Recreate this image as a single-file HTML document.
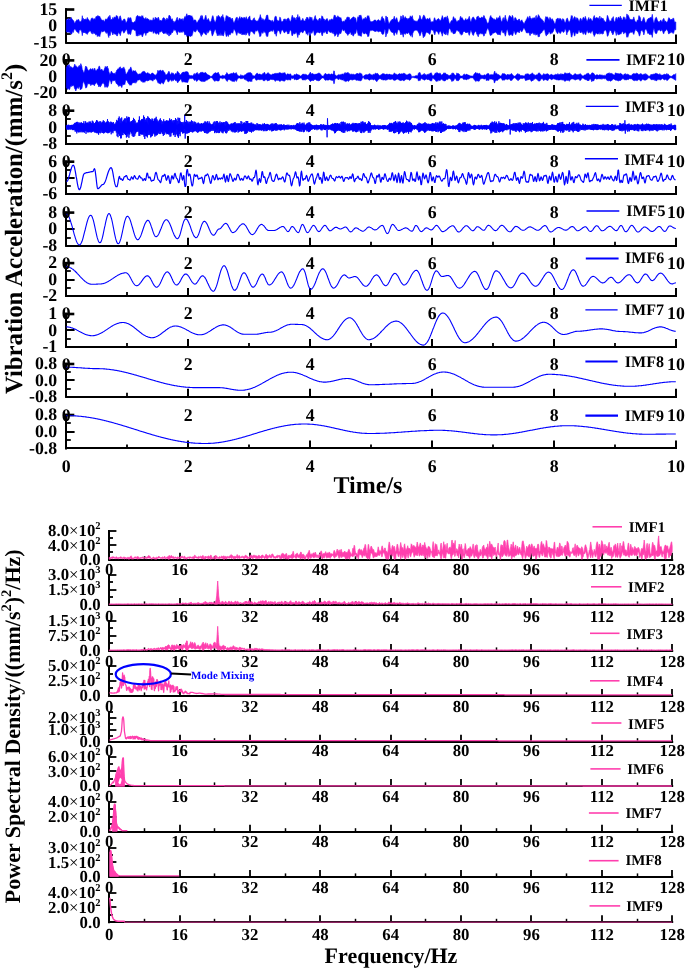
<!DOCTYPE html>
<html><head><meta charset="utf-8"><style>
html,body{margin:0;padding:0;background:#fff;}
svg{display:block;}
text{font-family:"Liberation Serif", serif;font-weight:bold;fill:#000;text-rendering:geometricPrecision;}
</style></head><body>
<svg width="685" height="968" viewBox="0 0 685 968">
<rect width="685" height="968" fill="#fff"/>
<line x1="66.0" y1="8.3" x2="66.0" y2="43.6" stroke="#000" stroke-width="2"/>
<line x1="65.3" y1="43.0" x2="677.0" y2="43.0" stroke="#000" stroke-width="2"/>
<rect x="65" y="8.2" width="9.3" height="2.6" fill="#000"/>
<line x1="66.3" y1="18.0" x2="70.8" y2="18.0" stroke="#000" stroke-width="1.8"/>
<line x1="66.3" y1="26.0" x2="74.6" y2="26.0" stroke="#000" stroke-width="2"/>
<line x1="66.3" y1="34.0" x2="70.8" y2="34.0" stroke="#000" stroke-width="1.8"/>
<line x1="66.3" y1="43.0" x2="74.6" y2="43.0" stroke="#000" stroke-width="2"/>
<line x1="66.0" y1="42.6" x2="66.0" y2="34.6" stroke="#000" stroke-width="2"/>
<line x1="127.0" y1="42.6" x2="127.0" y2="38.6" stroke="#000" stroke-width="1.8"/>
<line x1="188.0" y1="42.6" x2="188.0" y2="34.6" stroke="#000" stroke-width="2"/>
<line x1="249.0" y1="42.6" x2="249.0" y2="38.6" stroke="#000" stroke-width="1.8"/>
<line x1="310.0" y1="42.6" x2="310.0" y2="34.6" stroke="#000" stroke-width="2"/>
<line x1="371.0" y1="42.6" x2="371.0" y2="38.6" stroke="#000" stroke-width="1.8"/>
<line x1="432.0" y1="42.6" x2="432.0" y2="34.6" stroke="#000" stroke-width="2"/>
<line x1="493.0" y1="42.6" x2="493.0" y2="38.6" stroke="#000" stroke-width="1.8"/>
<line x1="554.0" y1="42.6" x2="554.0" y2="34.6" stroke="#000" stroke-width="2"/>
<line x1="615.0" y1="42.6" x2="615.0" y2="38.6" stroke="#000" stroke-width="1.8"/>
<line x1="676.0" y1="42.6" x2="676.0" y2="34.6" stroke="#000" stroke-width="2"/>
<line x1="589.4" y1="5.4" x2="621.8" y2="5.4" stroke="#0000ff" stroke-width="1.3"/>
<line x1="66.0" y1="59.2" x2="66.0" y2="94.1" stroke="#000" stroke-width="2"/>
<line x1="65.3" y1="93.0" x2="677.0" y2="93.0" stroke="#000" stroke-width="2"/>
<rect x="65" y="59.1" width="9.3" height="2.6" fill="#000"/>
<line x1="66.3" y1="69.0" x2="70.8" y2="69.0" stroke="#000" stroke-width="1.8"/>
<line x1="66.3" y1="77.0" x2="74.6" y2="77.0" stroke="#000" stroke-width="2"/>
<line x1="66.3" y1="85.0" x2="70.8" y2="85.0" stroke="#000" stroke-width="1.8"/>
<line x1="66.3" y1="93.0" x2="74.6" y2="93.0" stroke="#000" stroke-width="2"/>
<line x1="66.0" y1="93.1" x2="66.0" y2="85.1" stroke="#000" stroke-width="2"/>
<line x1="127.0" y1="93.1" x2="127.0" y2="89.1" stroke="#000" stroke-width="1.8"/>
<line x1="188.0" y1="93.1" x2="188.0" y2="85.1" stroke="#000" stroke-width="2"/>
<line x1="249.0" y1="93.1" x2="249.0" y2="89.1" stroke="#000" stroke-width="1.8"/>
<line x1="310.0" y1="93.1" x2="310.0" y2="85.1" stroke="#000" stroke-width="2"/>
<line x1="371.0" y1="93.1" x2="371.0" y2="89.1" stroke="#000" stroke-width="1.8"/>
<line x1="432.0" y1="93.1" x2="432.0" y2="85.1" stroke="#000" stroke-width="2"/>
<line x1="493.0" y1="93.1" x2="493.0" y2="89.1" stroke="#000" stroke-width="1.8"/>
<line x1="554.0" y1="93.1" x2="554.0" y2="85.1" stroke="#000" stroke-width="2"/>
<line x1="615.0" y1="93.1" x2="615.0" y2="89.1" stroke="#000" stroke-width="1.8"/>
<line x1="676.0" y1="93.1" x2="676.0" y2="85.1" stroke="#000" stroke-width="2"/>
<line x1="586.4" y1="59.9" x2="619.5" y2="59.9" stroke="#0000ff" stroke-width="1.6"/>
<line x1="66.0" y1="109.5" x2="66.0" y2="145.1" stroke="#000" stroke-width="2"/>
<line x1="65.3" y1="144.0" x2="677.0" y2="144.0" stroke="#000" stroke-width="2"/>
<rect x="65" y="109.4" width="9.3" height="2.6" fill="#000"/>
<line x1="66.3" y1="119.0" x2="70.8" y2="119.0" stroke="#000" stroke-width="1.8"/>
<line x1="66.3" y1="127.0" x2="74.6" y2="127.0" stroke="#000" stroke-width="2"/>
<line x1="66.3" y1="136.0" x2="70.8" y2="136.0" stroke="#000" stroke-width="1.8"/>
<line x1="66.3" y1="144.0" x2="74.6" y2="144.0" stroke="#000" stroke-width="2"/>
<line x1="66.0" y1="144.1" x2="66.0" y2="136.1" stroke="#000" stroke-width="2"/>
<line x1="127.0" y1="144.1" x2="127.0" y2="140.1" stroke="#000" stroke-width="1.8"/>
<line x1="188.0" y1="144.1" x2="188.0" y2="136.1" stroke="#000" stroke-width="2"/>
<line x1="249.0" y1="144.1" x2="249.0" y2="140.1" stroke="#000" stroke-width="1.8"/>
<line x1="310.0" y1="144.1" x2="310.0" y2="136.1" stroke="#000" stroke-width="2"/>
<line x1="371.0" y1="144.1" x2="371.0" y2="140.1" stroke="#000" stroke-width="1.8"/>
<line x1="432.0" y1="144.1" x2="432.0" y2="136.1" stroke="#000" stroke-width="2"/>
<line x1="493.0" y1="144.1" x2="493.0" y2="140.1" stroke="#000" stroke-width="1.8"/>
<line x1="554.0" y1="144.1" x2="554.0" y2="136.1" stroke="#000" stroke-width="2"/>
<line x1="615.0" y1="144.1" x2="615.0" y2="140.1" stroke="#000" stroke-width="1.8"/>
<line x1="676.0" y1="144.1" x2="676.0" y2="136.1" stroke="#000" stroke-width="2"/>
<line x1="585.8" y1="106.3" x2="618.6" y2="106.3" stroke="#0000ff" stroke-width="1.3"/>
<line x1="66.0" y1="160.5" x2="66.0" y2="195.0" stroke="#000" stroke-width="2"/>
<line x1="65.3" y1="194.0" x2="677.0" y2="194.0" stroke="#000" stroke-width="2"/>
<rect x="65" y="160.4" width="9.3" height="2.6" fill="#000"/>
<line x1="66.3" y1="170.0" x2="70.8" y2="170.0" stroke="#000" stroke-width="1.8"/>
<line x1="66.3" y1="178.0" x2="74.6" y2="178.0" stroke="#000" stroke-width="2"/>
<line x1="66.3" y1="186.0" x2="70.8" y2="186.0" stroke="#000" stroke-width="1.8"/>
<line x1="66.3" y1="194.0" x2="74.6" y2="194.0" stroke="#000" stroke-width="2"/>
<line x1="66.0" y1="194.0" x2="66.0" y2="186.0" stroke="#000" stroke-width="2"/>
<line x1="127.0" y1="194.0" x2="127.0" y2="190.0" stroke="#000" stroke-width="1.8"/>
<line x1="188.0" y1="194.0" x2="188.0" y2="186.0" stroke="#000" stroke-width="2"/>
<line x1="249.0" y1="194.0" x2="249.0" y2="190.0" stroke="#000" stroke-width="1.8"/>
<line x1="310.0" y1="194.0" x2="310.0" y2="186.0" stroke="#000" stroke-width="2"/>
<line x1="371.0" y1="194.0" x2="371.0" y2="190.0" stroke="#000" stroke-width="1.8"/>
<line x1="432.0" y1="194.0" x2="432.0" y2="186.0" stroke="#000" stroke-width="2"/>
<line x1="493.0" y1="194.0" x2="493.0" y2="190.0" stroke="#000" stroke-width="1.8"/>
<line x1="554.0" y1="194.0" x2="554.0" y2="186.0" stroke="#000" stroke-width="2"/>
<line x1="615.0" y1="194.0" x2="615.0" y2="190.0" stroke="#000" stroke-width="1.8"/>
<line x1="676.0" y1="194.0" x2="676.0" y2="186.0" stroke="#000" stroke-width="2"/>
<line x1="584.9" y1="158.7" x2="618.0" y2="158.7" stroke="#0000ff" stroke-width="1.6"/>
<line x1="66.0" y1="211.4" x2="66.0" y2="246.8" stroke="#000" stroke-width="2"/>
<line x1="65.3" y1="246.0" x2="677.0" y2="246.0" stroke="#000" stroke-width="2"/>
<rect x="65" y="211.3" width="9.3" height="2.6" fill="#000"/>
<line x1="66.3" y1="221.0" x2="70.8" y2="221.0" stroke="#000" stroke-width="1.8"/>
<line x1="66.3" y1="229.0" x2="74.6" y2="229.0" stroke="#000" stroke-width="2"/>
<line x1="66.3" y1="238.0" x2="70.8" y2="238.0" stroke="#000" stroke-width="1.8"/>
<line x1="66.3" y1="246.0" x2="74.6" y2="246.0" stroke="#000" stroke-width="2"/>
<line x1="66.0" y1="245.8" x2="66.0" y2="237.8" stroke="#000" stroke-width="2"/>
<line x1="127.0" y1="245.8" x2="127.0" y2="241.8" stroke="#000" stroke-width="1.8"/>
<line x1="188.0" y1="245.8" x2="188.0" y2="237.8" stroke="#000" stroke-width="2"/>
<line x1="249.0" y1="245.8" x2="249.0" y2="241.8" stroke="#000" stroke-width="1.8"/>
<line x1="310.0" y1="245.8" x2="310.0" y2="237.8" stroke="#000" stroke-width="2"/>
<line x1="371.0" y1="245.8" x2="371.0" y2="241.8" stroke="#000" stroke-width="1.8"/>
<line x1="432.0" y1="245.8" x2="432.0" y2="237.8" stroke="#000" stroke-width="2"/>
<line x1="493.0" y1="245.8" x2="493.0" y2="241.8" stroke="#000" stroke-width="1.8"/>
<line x1="554.0" y1="245.8" x2="554.0" y2="237.8" stroke="#000" stroke-width="2"/>
<line x1="615.0" y1="245.8" x2="615.0" y2="241.8" stroke="#000" stroke-width="1.8"/>
<line x1="676.0" y1="245.8" x2="676.0" y2="237.8" stroke="#000" stroke-width="2"/>
<line x1="586.5" y1="211.0" x2="619.3" y2="211.0" stroke="#0000ff" stroke-width="1.3"/>
<line x1="66.0" y1="261.9" x2="66.0" y2="297.0" stroke="#000" stroke-width="2"/>
<line x1="65.3" y1="296.0" x2="677.0" y2="296.0" stroke="#000" stroke-width="2"/>
<rect x="65" y="261.8" width="9.3" height="2.6" fill="#000"/>
<line x1="66.3" y1="271.0" x2="70.8" y2="271.0" stroke="#000" stroke-width="1.8"/>
<line x1="66.3" y1="280.0" x2="74.6" y2="280.0" stroke="#000" stroke-width="2"/>
<line x1="66.3" y1="288.0" x2="70.8" y2="288.0" stroke="#000" stroke-width="1.8"/>
<line x1="66.3" y1="296.0" x2="74.6" y2="296.0" stroke="#000" stroke-width="2"/>
<line x1="66.0" y1="296.0" x2="66.0" y2="288.0" stroke="#000" stroke-width="2"/>
<line x1="127.0" y1="296.0" x2="127.0" y2="292.0" stroke="#000" stroke-width="1.8"/>
<line x1="188.0" y1="296.0" x2="188.0" y2="288.0" stroke="#000" stroke-width="2"/>
<line x1="249.0" y1="296.0" x2="249.0" y2="292.0" stroke="#000" stroke-width="1.8"/>
<line x1="310.0" y1="296.0" x2="310.0" y2="288.0" stroke="#000" stroke-width="2"/>
<line x1="371.0" y1="296.0" x2="371.0" y2="292.0" stroke="#000" stroke-width="1.8"/>
<line x1="432.0" y1="296.0" x2="432.0" y2="288.0" stroke="#000" stroke-width="2"/>
<line x1="493.0" y1="296.0" x2="493.0" y2="292.0" stroke="#000" stroke-width="1.8"/>
<line x1="554.0" y1="296.0" x2="554.0" y2="288.0" stroke="#000" stroke-width="2"/>
<line x1="615.0" y1="296.0" x2="615.0" y2="292.0" stroke="#000" stroke-width="1.8"/>
<line x1="676.0" y1="296.0" x2="676.0" y2="288.0" stroke="#000" stroke-width="2"/>
<line x1="585.8" y1="258.5" x2="618.6" y2="258.5" stroke="#0000ff" stroke-width="2.2"/>
<line x1="66.0" y1="312.8" x2="66.0" y2="348.0" stroke="#000" stroke-width="2"/>
<line x1="65.3" y1="347.0" x2="677.0" y2="347.0" stroke="#000" stroke-width="2"/>
<rect x="65" y="312.7" width="9.3" height="2.6" fill="#000"/>
<line x1="66.3" y1="322.0" x2="70.8" y2="322.0" stroke="#000" stroke-width="1.8"/>
<line x1="66.3" y1="330.0" x2="74.6" y2="330.0" stroke="#000" stroke-width="2"/>
<line x1="66.3" y1="339.0" x2="70.8" y2="339.0" stroke="#000" stroke-width="1.8"/>
<line x1="66.3" y1="347.0" x2="74.6" y2="347.0" stroke="#000" stroke-width="2"/>
<line x1="66.0" y1="347.0" x2="66.0" y2="339.0" stroke="#000" stroke-width="2"/>
<line x1="127.0" y1="347.0" x2="127.0" y2="343.0" stroke="#000" stroke-width="1.8"/>
<line x1="188.0" y1="347.0" x2="188.0" y2="339.0" stroke="#000" stroke-width="2"/>
<line x1="249.0" y1="347.0" x2="249.0" y2="343.0" stroke="#000" stroke-width="1.8"/>
<line x1="310.0" y1="347.0" x2="310.0" y2="339.0" stroke="#000" stroke-width="2"/>
<line x1="371.0" y1="347.0" x2="371.0" y2="343.0" stroke="#000" stroke-width="1.8"/>
<line x1="432.0" y1="347.0" x2="432.0" y2="339.0" stroke="#000" stroke-width="2"/>
<line x1="493.0" y1="347.0" x2="493.0" y2="343.0" stroke="#000" stroke-width="1.8"/>
<line x1="554.0" y1="347.0" x2="554.0" y2="339.0" stroke="#000" stroke-width="2"/>
<line x1="615.0" y1="347.0" x2="615.0" y2="343.0" stroke="#000" stroke-width="1.8"/>
<line x1="676.0" y1="347.0" x2="676.0" y2="339.0" stroke="#000" stroke-width="2"/>
<line x1="585.4" y1="309.8" x2="617.6" y2="309.8" stroke="#0000ff" stroke-width="1.3"/>
<line x1="66.0" y1="362.8" x2="66.0" y2="397.7" stroke="#000" stroke-width="2"/>
<line x1="65.3" y1="397.0" x2="677.0" y2="397.0" stroke="#000" stroke-width="2"/>
<rect x="65" y="362.7" width="9.3" height="2.6" fill="#000"/>
<line x1="66.3" y1="372.0" x2="70.8" y2="372.0" stroke="#000" stroke-width="1.8"/>
<line x1="66.3" y1="380.0" x2="74.6" y2="380.0" stroke="#000" stroke-width="2"/>
<line x1="66.3" y1="389.0" x2="70.8" y2="389.0" stroke="#000" stroke-width="1.8"/>
<line x1="66.3" y1="397.0" x2="74.6" y2="397.0" stroke="#000" stroke-width="2"/>
<line x1="66.0" y1="396.7" x2="66.0" y2="388.7" stroke="#000" stroke-width="2"/>
<line x1="127.0" y1="396.7" x2="127.0" y2="392.7" stroke="#000" stroke-width="1.8"/>
<line x1="188.0" y1="396.7" x2="188.0" y2="388.7" stroke="#000" stroke-width="2"/>
<line x1="249.0" y1="396.7" x2="249.0" y2="392.7" stroke="#000" stroke-width="1.8"/>
<line x1="310.0" y1="396.7" x2="310.0" y2="388.7" stroke="#000" stroke-width="2"/>
<line x1="371.0" y1="396.7" x2="371.0" y2="392.7" stroke="#000" stroke-width="1.8"/>
<line x1="432.0" y1="396.7" x2="432.0" y2="388.7" stroke="#000" stroke-width="2"/>
<line x1="493.0" y1="396.7" x2="493.0" y2="392.7" stroke="#000" stroke-width="1.8"/>
<line x1="554.0" y1="396.7" x2="554.0" y2="388.7" stroke="#000" stroke-width="2"/>
<line x1="615.0" y1="396.7" x2="615.0" y2="392.7" stroke="#000" stroke-width="1.8"/>
<line x1="676.0" y1="396.7" x2="676.0" y2="388.7" stroke="#000" stroke-width="2"/>
<line x1="585.4" y1="361.5" x2="617.6" y2="361.5" stroke="#0000ff" stroke-width="2.2"/>
<line x1="66.0" y1="413.8" x2="66.0" y2="449.5" stroke="#000" stroke-width="2"/>
<line x1="65.3" y1="448.0" x2="677.0" y2="448.0" stroke="#000" stroke-width="2"/>
<rect x="65" y="413.7" width="9.3" height="2.6" fill="#000"/>
<line x1="66.3" y1="423.0" x2="70.8" y2="423.0" stroke="#000" stroke-width="1.8"/>
<line x1="66.3" y1="432.0" x2="74.6" y2="432.0" stroke="#000" stroke-width="2"/>
<line x1="66.3" y1="440.0" x2="70.8" y2="440.0" stroke="#000" stroke-width="1.8"/>
<line x1="66.3" y1="448.0" x2="74.6" y2="448.0" stroke="#000" stroke-width="2"/>
<line x1="66.0" y1="448.5" x2="66.0" y2="440.5" stroke="#000" stroke-width="2"/>
<line x1="127.0" y1="448.5" x2="127.0" y2="444.5" stroke="#000" stroke-width="1.8"/>
<line x1="188.0" y1="448.5" x2="188.0" y2="440.5" stroke="#000" stroke-width="2"/>
<line x1="249.0" y1="448.5" x2="249.0" y2="444.5" stroke="#000" stroke-width="1.8"/>
<line x1="310.0" y1="448.5" x2="310.0" y2="440.5" stroke="#000" stroke-width="2"/>
<line x1="371.0" y1="448.5" x2="371.0" y2="444.5" stroke="#000" stroke-width="1.8"/>
<line x1="432.0" y1="448.5" x2="432.0" y2="440.5" stroke="#000" stroke-width="2"/>
<line x1="493.0" y1="448.5" x2="493.0" y2="444.5" stroke="#000" stroke-width="1.8"/>
<line x1="554.0" y1="448.5" x2="554.0" y2="440.5" stroke="#000" stroke-width="2"/>
<line x1="615.0" y1="448.5" x2="615.0" y2="444.5" stroke="#000" stroke-width="1.8"/>
<line x1="676.0" y1="448.5" x2="676.0" y2="440.5" stroke="#000" stroke-width="2"/>
<line x1="585.4" y1="415.6" x2="618.0" y2="415.6" stroke="#0000ff" stroke-width="2.2"/>
<line x1="109.0" y1="530.0" x2="109.0" y2="560.6" stroke="#000" stroke-width="2"/>
<line x1="108.2" y1="560.0" x2="673.2" y2="560.0" stroke="#000" stroke-width="1.8"/>
<line x1="109.2" y1="531.0" x2="116.4" y2="531.0" stroke="#000" stroke-width="1.8"/>
<line x1="109.2" y1="538.0" x2="113.0" y2="538.0" stroke="#000" stroke-width="1.8"/>
<line x1="109.2" y1="545.0" x2="116.4" y2="545.0" stroke="#000" stroke-width="1.8"/>
<line x1="109.2" y1="552.0" x2="113.0" y2="552.0" stroke="#000" stroke-width="1.8"/>
<line x1="109.2" y1="560.0" x2="116.4" y2="560.0" stroke="#000" stroke-width="1.8"/>
<line x1="109.0" y1="559.7" x2="109.0" y2="552.7" stroke="#000" stroke-width="1.8"/>
<line x1="144.5" y1="559.7" x2="144.5" y2="556.2" stroke="#000" stroke-width="1.5"/>
<line x1="180.0" y1="559.7" x2="180.0" y2="552.7" stroke="#000" stroke-width="1.8"/>
<line x1="214.5" y1="559.7" x2="214.5" y2="556.2" stroke="#000" stroke-width="1.5"/>
<line x1="250.0" y1="559.7" x2="250.0" y2="552.7" stroke="#000" stroke-width="1.8"/>
<line x1="285.5" y1="559.7" x2="285.5" y2="556.2" stroke="#000" stroke-width="1.5"/>
<line x1="320.0" y1="559.7" x2="320.0" y2="552.7" stroke="#000" stroke-width="1.8"/>
<line x1="355.5" y1="559.7" x2="355.5" y2="556.2" stroke="#000" stroke-width="1.5"/>
<line x1="391.0" y1="559.7" x2="391.0" y2="552.7" stroke="#000" stroke-width="1.8"/>
<line x1="425.5" y1="559.7" x2="425.5" y2="556.2" stroke="#000" stroke-width="1.5"/>
<line x1="461.0" y1="559.7" x2="461.0" y2="552.7" stroke="#000" stroke-width="1.8"/>
<line x1="496.5" y1="559.7" x2="496.5" y2="556.2" stroke="#000" stroke-width="1.5"/>
<line x1="531.0" y1="559.7" x2="531.0" y2="552.7" stroke="#000" stroke-width="1.8"/>
<line x1="566.5" y1="559.7" x2="566.5" y2="556.2" stroke="#000" stroke-width="1.5"/>
<line x1="602.0" y1="559.7" x2="602.0" y2="552.7" stroke="#000" stroke-width="1.8"/>
<line x1="637.5" y1="559.7" x2="637.5" y2="556.2" stroke="#000" stroke-width="1.5"/>
<line x1="672.0" y1="559.7" x2="672.0" y2="552.7" stroke="#000" stroke-width="1.8"/>
<line x1="592.5" y1="526.8" x2="622.0" y2="526.8" stroke="#ff3fae" stroke-width="1.6"/>
<line x1="109.0" y1="574.1" x2="109.0" y2="605.8" stroke="#000" stroke-width="2"/>
<line x1="108.2" y1="605.0" x2="673.2" y2="605.0" stroke="#000" stroke-width="1.8"/>
<line x1="109.2" y1="575.0" x2="116.4" y2="575.0" stroke="#000" stroke-width="1.8"/>
<line x1="109.2" y1="582.0" x2="113.0" y2="582.0" stroke="#000" stroke-width="1.8"/>
<line x1="109.2" y1="590.0" x2="116.4" y2="590.0" stroke="#000" stroke-width="1.8"/>
<line x1="109.2" y1="597.0" x2="113.0" y2="597.0" stroke="#000" stroke-width="1.8"/>
<line x1="109.2" y1="605.0" x2="116.4" y2="605.0" stroke="#000" stroke-width="1.8"/>
<line x1="109.0" y1="604.9" x2="109.0" y2="597.9" stroke="#000" stroke-width="1.8"/>
<line x1="144.5" y1="604.9" x2="144.5" y2="601.4" stroke="#000" stroke-width="1.5"/>
<line x1="180.0" y1="604.9" x2="180.0" y2="597.9" stroke="#000" stroke-width="1.8"/>
<line x1="214.5" y1="604.9" x2="214.5" y2="601.4" stroke="#000" stroke-width="1.5"/>
<line x1="250.0" y1="604.9" x2="250.0" y2="597.9" stroke="#000" stroke-width="1.8"/>
<line x1="285.5" y1="604.9" x2="285.5" y2="601.4" stroke="#000" stroke-width="1.5"/>
<line x1="320.0" y1="604.9" x2="320.0" y2="597.9" stroke="#000" stroke-width="1.8"/>
<line x1="355.5" y1="604.9" x2="355.5" y2="601.4" stroke="#000" stroke-width="1.5"/>
<line x1="391.0" y1="604.9" x2="391.0" y2="597.9" stroke="#000" stroke-width="1.8"/>
<line x1="425.5" y1="604.9" x2="425.5" y2="601.4" stroke="#000" stroke-width="1.5"/>
<line x1="461.0" y1="604.9" x2="461.0" y2="597.9" stroke="#000" stroke-width="1.8"/>
<line x1="496.5" y1="604.9" x2="496.5" y2="601.4" stroke="#000" stroke-width="1.5"/>
<line x1="531.0" y1="604.9" x2="531.0" y2="597.9" stroke="#000" stroke-width="1.8"/>
<line x1="566.5" y1="604.9" x2="566.5" y2="601.4" stroke="#000" stroke-width="1.5"/>
<line x1="602.0" y1="604.9" x2="602.0" y2="597.9" stroke="#000" stroke-width="1.8"/>
<line x1="637.5" y1="604.9" x2="637.5" y2="601.4" stroke="#000" stroke-width="1.5"/>
<line x1="672.0" y1="604.9" x2="672.0" y2="597.9" stroke="#000" stroke-width="1.8"/>
<line x1="591.0" y1="586.8" x2="621.4" y2="586.8" stroke="#ff3fae" stroke-width="1.6"/>
<line x1="109.0" y1="619.9" x2="109.0" y2="651.8" stroke="#000" stroke-width="2"/>
<line x1="108.2" y1="651.0" x2="673.2" y2="651.0" stroke="#000" stroke-width="1.8"/>
<line x1="109.2" y1="621.0" x2="116.4" y2="621.0" stroke="#000" stroke-width="1.8"/>
<line x1="109.2" y1="628.0" x2="113.0" y2="628.0" stroke="#000" stroke-width="1.8"/>
<line x1="109.2" y1="636.0" x2="116.4" y2="636.0" stroke="#000" stroke-width="1.8"/>
<line x1="109.2" y1="643.0" x2="113.0" y2="643.0" stroke="#000" stroke-width="1.8"/>
<line x1="109.2" y1="651.0" x2="116.4" y2="651.0" stroke="#000" stroke-width="1.8"/>
<line x1="109.0" y1="650.9" x2="109.0" y2="643.9" stroke="#000" stroke-width="1.8"/>
<line x1="144.5" y1="650.9" x2="144.5" y2="647.4" stroke="#000" stroke-width="1.5"/>
<line x1="180.0" y1="650.9" x2="180.0" y2="643.9" stroke="#000" stroke-width="1.8"/>
<line x1="214.5" y1="650.9" x2="214.5" y2="647.4" stroke="#000" stroke-width="1.5"/>
<line x1="250.0" y1="650.9" x2="250.0" y2="643.9" stroke="#000" stroke-width="1.8"/>
<line x1="285.5" y1="650.9" x2="285.5" y2="647.4" stroke="#000" stroke-width="1.5"/>
<line x1="320.0" y1="650.9" x2="320.0" y2="643.9" stroke="#000" stroke-width="1.8"/>
<line x1="355.5" y1="650.9" x2="355.5" y2="647.4" stroke="#000" stroke-width="1.5"/>
<line x1="391.0" y1="650.9" x2="391.0" y2="643.9" stroke="#000" stroke-width="1.8"/>
<line x1="425.5" y1="650.9" x2="425.5" y2="647.4" stroke="#000" stroke-width="1.5"/>
<line x1="461.0" y1="650.9" x2="461.0" y2="643.9" stroke="#000" stroke-width="1.8"/>
<line x1="496.5" y1="650.9" x2="496.5" y2="647.4" stroke="#000" stroke-width="1.5"/>
<line x1="531.0" y1="650.9" x2="531.0" y2="643.9" stroke="#000" stroke-width="1.8"/>
<line x1="566.5" y1="650.9" x2="566.5" y2="647.4" stroke="#000" stroke-width="1.5"/>
<line x1="602.0" y1="650.9" x2="602.0" y2="643.9" stroke="#000" stroke-width="1.8"/>
<line x1="637.5" y1="650.9" x2="637.5" y2="647.4" stroke="#000" stroke-width="1.5"/>
<line x1="672.0" y1="650.9" x2="672.0" y2="643.9" stroke="#000" stroke-width="1.8"/>
<line x1="590.0" y1="633.3" x2="619.5" y2="633.3" stroke="#ff3fae" stroke-width="1.6"/>
<line x1="109.0" y1="665.2" x2="109.0" y2="696.8" stroke="#000" stroke-width="2"/>
<line x1="108.2" y1="696.0" x2="673.2" y2="696.0" stroke="#000" stroke-width="1.8"/>
<line x1="109.2" y1="666.0" x2="116.4" y2="666.0" stroke="#000" stroke-width="1.8"/>
<line x1="109.2" y1="674.0" x2="113.0" y2="674.0" stroke="#000" stroke-width="1.8"/>
<line x1="109.2" y1="681.0" x2="116.4" y2="681.0" stroke="#000" stroke-width="1.8"/>
<line x1="109.2" y1="688.0" x2="113.0" y2="688.0" stroke="#000" stroke-width="1.8"/>
<line x1="109.2" y1="696.0" x2="116.4" y2="696.0" stroke="#000" stroke-width="1.8"/>
<line x1="109.0" y1="695.9" x2="109.0" y2="688.9" stroke="#000" stroke-width="1.8"/>
<line x1="144.5" y1="695.9" x2="144.5" y2="692.4" stroke="#000" stroke-width="1.5"/>
<line x1="180.0" y1="695.9" x2="180.0" y2="688.9" stroke="#000" stroke-width="1.8"/>
<line x1="214.5" y1="695.9" x2="214.5" y2="692.4" stroke="#000" stroke-width="1.5"/>
<line x1="250.0" y1="695.9" x2="250.0" y2="688.9" stroke="#000" stroke-width="1.8"/>
<line x1="285.5" y1="695.9" x2="285.5" y2="692.4" stroke="#000" stroke-width="1.5"/>
<line x1="320.0" y1="695.9" x2="320.0" y2="688.9" stroke="#000" stroke-width="1.8"/>
<line x1="355.5" y1="695.9" x2="355.5" y2="692.4" stroke="#000" stroke-width="1.5"/>
<line x1="391.0" y1="695.9" x2="391.0" y2="688.9" stroke="#000" stroke-width="1.8"/>
<line x1="425.5" y1="695.9" x2="425.5" y2="692.4" stroke="#000" stroke-width="1.5"/>
<line x1="461.0" y1="695.9" x2="461.0" y2="688.9" stroke="#000" stroke-width="1.8"/>
<line x1="496.5" y1="695.9" x2="496.5" y2="692.4" stroke="#000" stroke-width="1.5"/>
<line x1="531.0" y1="695.9" x2="531.0" y2="688.9" stroke="#000" stroke-width="1.8"/>
<line x1="566.5" y1="695.9" x2="566.5" y2="692.4" stroke="#000" stroke-width="1.5"/>
<line x1="602.0" y1="695.9" x2="602.0" y2="688.9" stroke="#000" stroke-width="1.8"/>
<line x1="637.5" y1="695.9" x2="637.5" y2="692.4" stroke="#000" stroke-width="1.5"/>
<line x1="672.0" y1="695.9" x2="672.0" y2="688.9" stroke="#000" stroke-width="1.8"/>
<line x1="590.0" y1="680.8" x2="619.5" y2="680.8" stroke="#ff3fae" stroke-width="1.6"/>
<line x1="109.0" y1="711.0" x2="109.0" y2="742.6" stroke="#000" stroke-width="2"/>
<line x1="108.2" y1="742.0" x2="673.2" y2="742.0" stroke="#000" stroke-width="1.8"/>
<line x1="109.2" y1="742.0" x2="116.4" y2="742.0" stroke="#000" stroke-width="1.8"/>
<line x1="109.2" y1="736.0" x2="113.0" y2="736.0" stroke="#000" stroke-width="1.8"/>
<line x1="109.2" y1="730.0" x2="116.4" y2="730.0" stroke="#000" stroke-width="1.8"/>
<line x1="109.2" y1="724.0" x2="113.0" y2="724.0" stroke="#000" stroke-width="1.8"/>
<line x1="109.2" y1="718.0" x2="116.4" y2="718.0" stroke="#000" stroke-width="1.8"/>
<line x1="109.2" y1="712.0" x2="113.0" y2="712.0" stroke="#000" stroke-width="1.8"/>
<line x1="109.0" y1="741.7" x2="109.0" y2="734.7" stroke="#000" stroke-width="1.8"/>
<line x1="144.5" y1="741.7" x2="144.5" y2="738.2" stroke="#000" stroke-width="1.5"/>
<line x1="180.0" y1="741.7" x2="180.0" y2="734.7" stroke="#000" stroke-width="1.8"/>
<line x1="214.5" y1="741.7" x2="214.5" y2="738.2" stroke="#000" stroke-width="1.5"/>
<line x1="250.0" y1="741.7" x2="250.0" y2="734.7" stroke="#000" stroke-width="1.8"/>
<line x1="285.5" y1="741.7" x2="285.5" y2="738.2" stroke="#000" stroke-width="1.5"/>
<line x1="320.0" y1="741.7" x2="320.0" y2="734.7" stroke="#000" stroke-width="1.8"/>
<line x1="355.5" y1="741.7" x2="355.5" y2="738.2" stroke="#000" stroke-width="1.5"/>
<line x1="391.0" y1="741.7" x2="391.0" y2="734.7" stroke="#000" stroke-width="1.8"/>
<line x1="425.5" y1="741.7" x2="425.5" y2="738.2" stroke="#000" stroke-width="1.5"/>
<line x1="461.0" y1="741.7" x2="461.0" y2="734.7" stroke="#000" stroke-width="1.8"/>
<line x1="496.5" y1="741.7" x2="496.5" y2="738.2" stroke="#000" stroke-width="1.5"/>
<line x1="531.0" y1="741.7" x2="531.0" y2="734.7" stroke="#000" stroke-width="1.8"/>
<line x1="566.5" y1="741.7" x2="566.5" y2="738.2" stroke="#000" stroke-width="1.5"/>
<line x1="602.0" y1="741.7" x2="602.0" y2="734.7" stroke="#000" stroke-width="1.8"/>
<line x1="637.5" y1="741.7" x2="637.5" y2="738.2" stroke="#000" stroke-width="1.5"/>
<line x1="672.0" y1="741.7" x2="672.0" y2="734.7" stroke="#000" stroke-width="1.8"/>
<line x1="591.5" y1="723.0" x2="621.4" y2="723.0" stroke="#ff3fae" stroke-width="1.6"/>
<line x1="109.0" y1="756.1" x2="109.0" y2="786.8" stroke="#000" stroke-width="2"/>
<line x1="108.2" y1="786.0" x2="673.2" y2="786.0" stroke="#000" stroke-width="1.8"/>
<line x1="109.2" y1="757.0" x2="116.4" y2="757.0" stroke="#000" stroke-width="1.8"/>
<line x1="109.2" y1="764.0" x2="113.0" y2="764.0" stroke="#000" stroke-width="1.8"/>
<line x1="109.2" y1="771.0" x2="116.4" y2="771.0" stroke="#000" stroke-width="1.8"/>
<line x1="109.2" y1="779.0" x2="113.0" y2="779.0" stroke="#000" stroke-width="1.8"/>
<line x1="109.2" y1="786.0" x2="116.4" y2="786.0" stroke="#000" stroke-width="1.8"/>
<line x1="109.0" y1="785.9" x2="109.0" y2="778.9" stroke="#000" stroke-width="1.8"/>
<line x1="144.5" y1="785.9" x2="144.5" y2="782.4" stroke="#000" stroke-width="1.5"/>
<line x1="180.0" y1="785.9" x2="180.0" y2="778.9" stroke="#000" stroke-width="1.8"/>
<line x1="214.5" y1="785.9" x2="214.5" y2="782.4" stroke="#000" stroke-width="1.5"/>
<line x1="250.0" y1="785.9" x2="250.0" y2="778.9" stroke="#000" stroke-width="1.8"/>
<line x1="285.5" y1="785.9" x2="285.5" y2="782.4" stroke="#000" stroke-width="1.5"/>
<line x1="320.0" y1="785.9" x2="320.0" y2="778.9" stroke="#000" stroke-width="1.8"/>
<line x1="355.5" y1="785.9" x2="355.5" y2="782.4" stroke="#000" stroke-width="1.5"/>
<line x1="391.0" y1="785.9" x2="391.0" y2="778.9" stroke="#000" stroke-width="1.8"/>
<line x1="425.5" y1="785.9" x2="425.5" y2="782.4" stroke="#000" stroke-width="1.5"/>
<line x1="461.0" y1="785.9" x2="461.0" y2="778.9" stroke="#000" stroke-width="1.8"/>
<line x1="496.5" y1="785.9" x2="496.5" y2="782.4" stroke="#000" stroke-width="1.5"/>
<line x1="531.0" y1="785.9" x2="531.0" y2="778.9" stroke="#000" stroke-width="1.8"/>
<line x1="566.5" y1="785.9" x2="566.5" y2="782.4" stroke="#000" stroke-width="1.5"/>
<line x1="602.0" y1="785.9" x2="602.0" y2="778.9" stroke="#000" stroke-width="1.8"/>
<line x1="637.5" y1="785.9" x2="637.5" y2="782.4" stroke="#000" stroke-width="1.5"/>
<line x1="672.0" y1="785.9" x2="672.0" y2="778.9" stroke="#000" stroke-width="1.8"/>
<line x1="590.4" y1="768.9" x2="620.6" y2="768.9" stroke="#ff3fae" stroke-width="1.6"/>
<line x1="109.0" y1="801.0" x2="109.0" y2="832.6" stroke="#000" stroke-width="2"/>
<line x1="108.2" y1="832.0" x2="673.2" y2="832.0" stroke="#000" stroke-width="1.8"/>
<line x1="109.2" y1="802.0" x2="116.4" y2="802.0" stroke="#000" stroke-width="1.8"/>
<line x1="109.2" y1="809.0" x2="113.0" y2="809.0" stroke="#000" stroke-width="1.8"/>
<line x1="109.2" y1="817.0" x2="116.4" y2="817.0" stroke="#000" stroke-width="1.8"/>
<line x1="109.2" y1="824.0" x2="113.0" y2="824.0" stroke="#000" stroke-width="1.8"/>
<line x1="109.2" y1="832.0" x2="116.4" y2="832.0" stroke="#000" stroke-width="1.8"/>
<line x1="109.0" y1="831.7" x2="109.0" y2="824.7" stroke="#000" stroke-width="1.8"/>
<line x1="144.5" y1="831.7" x2="144.5" y2="828.2" stroke="#000" stroke-width="1.5"/>
<line x1="180.0" y1="831.7" x2="180.0" y2="824.7" stroke="#000" stroke-width="1.8"/>
<line x1="214.5" y1="831.7" x2="214.5" y2="828.2" stroke="#000" stroke-width="1.5"/>
<line x1="250.0" y1="831.7" x2="250.0" y2="824.7" stroke="#000" stroke-width="1.8"/>
<line x1="285.5" y1="831.7" x2="285.5" y2="828.2" stroke="#000" stroke-width="1.5"/>
<line x1="320.0" y1="831.7" x2="320.0" y2="824.7" stroke="#000" stroke-width="1.8"/>
<line x1="355.5" y1="831.7" x2="355.5" y2="828.2" stroke="#000" stroke-width="1.5"/>
<line x1="391.0" y1="831.7" x2="391.0" y2="824.7" stroke="#000" stroke-width="1.8"/>
<line x1="425.5" y1="831.7" x2="425.5" y2="828.2" stroke="#000" stroke-width="1.5"/>
<line x1="461.0" y1="831.7" x2="461.0" y2="824.7" stroke="#000" stroke-width="1.8"/>
<line x1="496.5" y1="831.7" x2="496.5" y2="828.2" stroke="#000" stroke-width="1.5"/>
<line x1="531.0" y1="831.7" x2="531.0" y2="824.7" stroke="#000" stroke-width="1.8"/>
<line x1="566.5" y1="831.7" x2="566.5" y2="828.2" stroke="#000" stroke-width="1.5"/>
<line x1="602.0" y1="831.7" x2="602.0" y2="824.7" stroke="#000" stroke-width="1.8"/>
<line x1="637.5" y1="831.7" x2="637.5" y2="828.2" stroke="#000" stroke-width="1.5"/>
<line x1="672.0" y1="831.7" x2="672.0" y2="824.7" stroke="#000" stroke-width="1.8"/>
<line x1="588.9" y1="813.0" x2="618.6" y2="813.0" stroke="#ff3fae" stroke-width="1.6"/>
<line x1="109.0" y1="847.0" x2="109.0" y2="877.8" stroke="#000" stroke-width="2"/>
<line x1="108.2" y1="877.0" x2="673.2" y2="877.0" stroke="#000" stroke-width="1.8"/>
<line x1="109.2" y1="848.0" x2="116.4" y2="848.0" stroke="#000" stroke-width="1.8"/>
<line x1="109.2" y1="855.0" x2="113.0" y2="855.0" stroke="#000" stroke-width="1.8"/>
<line x1="109.2" y1="862.0" x2="116.4" y2="862.0" stroke="#000" stroke-width="1.8"/>
<line x1="109.2" y1="870.0" x2="113.0" y2="870.0" stroke="#000" stroke-width="1.8"/>
<line x1="109.2" y1="877.0" x2="116.4" y2="877.0" stroke="#000" stroke-width="1.8"/>
<line x1="109.0" y1="876.9" x2="109.0" y2="869.9" stroke="#000" stroke-width="1.8"/>
<line x1="144.5" y1="876.9" x2="144.5" y2="873.4" stroke="#000" stroke-width="1.5"/>
<line x1="180.0" y1="876.9" x2="180.0" y2="869.9" stroke="#000" stroke-width="1.8"/>
<line x1="214.5" y1="876.9" x2="214.5" y2="873.4" stroke="#000" stroke-width="1.5"/>
<line x1="250.0" y1="876.9" x2="250.0" y2="869.9" stroke="#000" stroke-width="1.8"/>
<line x1="285.5" y1="876.9" x2="285.5" y2="873.4" stroke="#000" stroke-width="1.5"/>
<line x1="320.0" y1="876.9" x2="320.0" y2="869.9" stroke="#000" stroke-width="1.8"/>
<line x1="355.5" y1="876.9" x2="355.5" y2="873.4" stroke="#000" stroke-width="1.5"/>
<line x1="391.0" y1="876.9" x2="391.0" y2="869.9" stroke="#000" stroke-width="1.8"/>
<line x1="425.5" y1="876.9" x2="425.5" y2="873.4" stroke="#000" stroke-width="1.5"/>
<line x1="461.0" y1="876.9" x2="461.0" y2="869.9" stroke="#000" stroke-width="1.8"/>
<line x1="496.5" y1="876.9" x2="496.5" y2="873.4" stroke="#000" stroke-width="1.5"/>
<line x1="531.0" y1="876.9" x2="531.0" y2="869.9" stroke="#000" stroke-width="1.8"/>
<line x1="566.5" y1="876.9" x2="566.5" y2="873.4" stroke="#000" stroke-width="1.5"/>
<line x1="602.0" y1="876.9" x2="602.0" y2="869.9" stroke="#000" stroke-width="1.8"/>
<line x1="637.5" y1="876.9" x2="637.5" y2="873.4" stroke="#000" stroke-width="1.5"/>
<line x1="672.0" y1="876.9" x2="672.0" y2="869.9" stroke="#000" stroke-width="1.8"/>
<line x1="588.9" y1="860.7" x2="618.6" y2="860.7" stroke="#ff3fae" stroke-width="1.6"/>
<line x1="109.0" y1="891.7" x2="109.0" y2="923.2" stroke="#000" stroke-width="2"/>
<line x1="108.2" y1="922.0" x2="673.2" y2="922.0" stroke="#000" stroke-width="1.8"/>
<line x1="109.2" y1="893.0" x2="116.4" y2="893.0" stroke="#000" stroke-width="1.8"/>
<line x1="109.2" y1="900.0" x2="113.0" y2="900.0" stroke="#000" stroke-width="1.8"/>
<line x1="109.2" y1="907.0" x2="116.4" y2="907.0" stroke="#000" stroke-width="1.8"/>
<line x1="109.2" y1="915.0" x2="113.0" y2="915.0" stroke="#000" stroke-width="1.8"/>
<line x1="109.2" y1="922.0" x2="116.4" y2="922.0" stroke="#000" stroke-width="1.8"/>
<line x1="109.0" y1="922.3" x2="109.0" y2="915.3" stroke="#000" stroke-width="1.8"/>
<line x1="144.5" y1="922.3" x2="144.5" y2="918.8" stroke="#000" stroke-width="1.5"/>
<line x1="180.0" y1="922.3" x2="180.0" y2="915.3" stroke="#000" stroke-width="1.8"/>
<line x1="214.5" y1="922.3" x2="214.5" y2="918.8" stroke="#000" stroke-width="1.5"/>
<line x1="250.0" y1="922.3" x2="250.0" y2="915.3" stroke="#000" stroke-width="1.8"/>
<line x1="285.5" y1="922.3" x2="285.5" y2="918.8" stroke="#000" stroke-width="1.5"/>
<line x1="320.0" y1="922.3" x2="320.0" y2="915.3" stroke="#000" stroke-width="1.8"/>
<line x1="355.5" y1="922.3" x2="355.5" y2="918.8" stroke="#000" stroke-width="1.5"/>
<line x1="391.0" y1="922.3" x2="391.0" y2="915.3" stroke="#000" stroke-width="1.8"/>
<line x1="425.5" y1="922.3" x2="425.5" y2="918.8" stroke="#000" stroke-width="1.5"/>
<line x1="461.0" y1="922.3" x2="461.0" y2="915.3" stroke="#000" stroke-width="1.8"/>
<line x1="496.5" y1="922.3" x2="496.5" y2="918.8" stroke="#000" stroke-width="1.5"/>
<line x1="531.0" y1="922.3" x2="531.0" y2="915.3" stroke="#000" stroke-width="1.8"/>
<line x1="566.5" y1="922.3" x2="566.5" y2="918.8" stroke="#000" stroke-width="1.5"/>
<line x1="602.0" y1="922.3" x2="602.0" y2="915.3" stroke="#000" stroke-width="1.8"/>
<line x1="637.5" y1="922.3" x2="637.5" y2="918.8" stroke="#000" stroke-width="1.5"/>
<line x1="672.0" y1="922.3" x2="672.0" y2="915.3" stroke="#000" stroke-width="1.8"/>
<line x1="589.5" y1="905.9" x2="620.2" y2="905.9" stroke="#ff3fae" stroke-width="1.6"/>
<path d="M66.3 19.7l.5-.2 .5 .1 .5 0 .5-.4 .5-1 .5 1.8 .5-.7 .5 0 .5-.7 .5-1.1 .5 1.3 .5 .6 .5 .4 .5 .6 .5 .5 .5 1.8 .5 .5 .5-1 .5-.9 .5-.5 .5-1.1 .5 .9 .5-.9 .5-.1 .5 0 .5 1.6 .5 .3 .5-.1 .5 .7 .5-1.2 .5-1.3 .5-3.9 .5 4 .5-1.4 .5 2.1 .5-1.3 .5 .6 .5-.8 .5 .3 .5 .2 .5-.4 .5-1.6 .5 1.2 .5 1.2 .5-.2 .5 1.2 .5 .4 .5 .2 .5-1.3 .5-1.7 .5-.1 .5-.5 .5 1.2 .5-.3 .5 1.2 .5-1.4 .5 .4 .5 .7 .5-2.6 .5-.8 .5 .5 .5-.5 .5-.7 .5 .7 .5-.3 .5 .9 .5-.5 .5 1.6 .5 .3 .5 1.6 .5 .2 .5 .3 .5-.1 .5-.3 .5 1.2 .5 .9 .5-1 .5-1.5 .5-.7 .5 .6 .5-.5 .5 .3 .5-1.1 .5-1.1 .5-.6 .5 1.9 .5-3.1 .5 1.8 .5 3.1 .5-.4 .5-.7 .5 .5 .5-2.1 .5 1.5 .5-.6 .5-1.5 .5 .7 .5 .1 .5-.5 .5-1.7 .5 .6 .5-.1 .5 .8 .5 2.9 .5-.5 .5-.8 .5-2.1 .5-.4 .5 1.8 .5 2.2 .5 1.4 .5-.1 .5-.7 .5-.2 .5-1.2 .5 0 .5 .1 .5 1.5 .5 1.9 .5 .1 .5-.9 .5-.9 .5-2.5 .5-.9 .5 1 .5 0 .5-.7 .5 .3 .5-.4 .5 2 .5 2.5 .5 .4 .5-.4 .5 .8 .5-.6 .5-.6 .5-.1 .5-.1 .5-1.7 .5-3.2 .5-.2 .5-.9 .5 0 .5 .8 .5 .2 .5 .6 .5-1 .5 .4 .5 .6 .5 .2 .5-1.7 .5 .6 .5-.5 .5 2.2 .5 0 .5 1.1 .5-.2 .5 .3 .5-1.7 .5 1.3 .5 .4 .5-.5 .5 .1 .5 .7 .5-.3 .5 1.1 .5 .6 .5-.5 .5-.6 .5 .3 .5 .9 .5-.6 .5-.6 .5-2 .5 2.3 .5-.1 .5-.8 .5-2 .5 2 .5-.9 .5-.3 .5 1.8 .5-1.7 .5-.9 .5 1.2 .5 1.8 .5 .7 .5-.3 .5-.5 .5 1.1 .5-.1 .5-1.3 .5-1.4 .5-.4 .5-.3 .5 .4 .5 1.3 .5-.1 .5 1.6 .5-1.2 .5-1.7 .5 .6 .5 1 .5-.6 .5-3.1 .5-.7 .5 .7 .5 .5 .5 1.7 .5 1.7 .5-.5 .5-.5 .5 2.1 .5 .2 .5 1.6 .5-.4 .5-.7 .5 0 .5-.8 .5-1.2 .5-1.6 .5-.7 .5 2.7 .5 .9 .5-.8 .5-1.8 .5 .4 .5 .1 .5 1.3 .5-.8 .5-.2 .5-.4 .5 1.6 .5 .2 .5-1.6 .5-.8 .5-1.4 .5 0 .5 1.7 .5-3.3 .5-1.3 .5 1.6 .5 .9 .5-.6 .5-.6 .5 1 .5-.9 .5 .7 .5 .1 .5 .3 .5-.5 .5 1.5 .5 .3 .5 2.6 .5 1 .5-1.3 .5 .3 .5-.1 .5 .2 .5 1.5 .5 1.3 .5-.7 .5-.6 .5-1.3 .5-.3 .5-.7 .5-.8 .5-1.1 .5-1.7 .5-.4 .5 2.5 .5-2.3 .5 2.7 .5 1.2 .5 .5 .5-.2 .5-1.5 .5-1.9 .5-1.2 .5 2.2 .5 2.6 .5-.1 .5-.3 .5-1.2 .5 1.2 .5 1.4 .5 1.1 .5 .2 .5-1.1 .5-.7 .5-1.9 .5-2.1 .5-.9 .5 1.2 .5 2.6 .5 1.2 .5 1.4 .5 .2 .5-1 .5-2 .5-2.9 .5 .2 .5 1 .5-2.3 .5 1.4 .5-.2 .5 .6 .5 .6 .5 1.5 .5-2.9 .5 .2 .5 .9 .5-2.8 .5 3.2 .5-.3 .5 3.7 .5 .6 .5-1 .5-3.3 .5-1.9 .5 .8 .5-.4 .5 .9 .5-.1 .5 1.1 .5 0 .5-.8 .5 .8 .5 .6 .5 .3 .5 .7 .5-1.4 .5 1.7 .5 2 .5 .9 .5-.2 .5-1.2 .5-1.2 .5-1.6 .5-1 .5 0 .5-.1 .5 3.2 .5-.2 .5-2 .5-.2 .5-1.6 .5 2.2 .5-.3 .5-1.1 .5 0 .5 1 .5-.5 .5-.3 .5 1.4 .5-1.5 .5 .1 .5 2.1 .5-1.9 .5-1 .5 1.7 .5 .6 .5 .5 .5-1.2 .5-1.2 .5-.3 .5-.9 .5 4.1 .5-.1 .5 .9 .5-.3 .5-.5 .5 .4 .5-1.7 .5-.3 .5-.7 .5 2.2 .5 .3 .5 .4 .5 .2 .5 .5 .5 0 .5-.7 .5-.2 .5-1.2 .5-1.2 .5-.8 .5-2.6 .5 2.5 .5 .7 .5 1.9 .5 .2 .5-1.4 .5 .7 .5 1 .5 .4 .5-.9 .5-.8 .5-.5 .5-2.5 .5-.8 .5 0 .5 .2 .5 3.9 .5 .9 .5-.2 .5 .2 .5 .2 .5 .8 .5 .3 .5-1 .5-.2 .5 1.1 .5 .9 .5-.6 .5-1.5 .5-2.8 .5-1.1 .5 .2 .5 .2 .5 3 .5 .5 .5 1.1 .5-.1 .5-.5 .5-.1 .5-3.4 .5 .4 .5 1.5 .5 2.7 .5-.1 .5 0 .5-.1 .5-.9 .5-1.5 .5-.1 .5 .2 .5-.3 .5 1.3 .5 .5 .5-1.6 .5-.2 .5-.6 .5-.4 .5 .7 .5 .9 .5 1.5 .5 .8 .5-.8 .5-1.8 .5-2.5 .5-1.5 .5 1.5 .5 2.5 .5-1.7 .5 .1 .5 .7 .5-.1 .5 2 .5-.8 .5-2.4 .5 .7 .5-3.2 .5 3.2 .5 0 .5-1.2 .5 1 .5 2.6 .5 .6 .5 .1 .5-.9 .5-.5 .5-1.1 .5 1.3 .5 1.5 .5 0 .5-.3 .5 .2 .5-2.2 .5 .8 .5-2.5 .5 1.1 .5-.9 .5 1.5 .5 1.2 .5-1.2 .5-2 .5 .3 .5 .9 .5 .7 .5-1.5 .5 2.2 .5 1.7 .5-.3 .5-1.3 .5-1 .5-2 .5-1 .5 2.8 .5 .9 .5 .1 .5 .8 .5 .7 .5-.4 .5-1.1 .5-.7 .5-.6 .5 .8 .5 1.9 .5-1.9 .5-3 .5 .4 .5 .5 .5 2.4 .5-.1 .5 .1 .5 1.6 .5-.8 .5 .4 .5-1.2 .5-.4 .5-.1 .5 1.6 .5 1.3 .5-.6 .5-.7 .5-.7 .5 1 .5-.9 .5-.3 .5-.5 .5 .6 .5 0 .5-.1 .5-2.5 .5-1.9 .5 1.3 .5-.7 .5 1.9 .5-.4 .5 1.3 .5-1.1 .5-1.5 .5 1 .5 .3 .5 .2 .5 .2 .5 .7 .5-.5 .5 1.4 .5 1.9 .5 .6 .5 .7 .5-1 .5-.3 .5 .8 .5-.8 .5-1.3 .5 .7 .5-.9 .5-1.9 .5 .1 .5-.8 .5 .2 .5 1.2 .5-.8 .5 2.6 .5-.2 .5-.5 .5-.8 .5-.3 .5-.5 .5-.5 .5-.3 .5 0 .5 .3 .5 1.7 .5-1.2 .5 .9 .5 2.9 .5 1.6 .5-3 .5-3.3 .5 .4 .5 0 .5-2.2 .5 1.5 .5-.4 .5-1.2 .5 1.3 .5 1.7 .5 2.2 .5 .1 .5-1.4 .5 0 .5 0 .5-.4 .5-1.2 .5 1.2 .5 .3 .5-.8 .5-1.7 .5-.6 .5 1.4 .5-1.3 .5 2.1 .5 2 .5 2.1 .5-.6 .5 .3 .5 .4 .5-.6 .5 .3 .5-.7 .5-.2 .5-.7 .5-.2 .5 .1 .5 .3 .5 1 .5 0 .5-1 .5 0 .5-.7 .5 .3 .5 .8 .5 0 .5 .1 .5-.4 .5-1.7 .5-1.9 .5-.4 .5 1.9 .5 .2 .5 .1 .5 2.2 .5 1.8 .5-.2 .5-6.3 .5 .1 .5 2.3 .5-1.5 .5 2.3 .5 2.3 .5 1.8 .5 .1 .5-.9 .5-1.1 .5-.7 .5-.5 .5-.5 .5-.8 .5 1.1 .5-.9 .5-1.2 .5-1.8 .5 2.2 .5 1.2 .5 .3 .5-2 .5-.2 .5 2.2 .5 1.7 .5 .8 .5-.2 .5 .1 .5-1.6 .5-1.5 .5-3.3 .5 .4 .5 2.4 .5 .1 .5-3.6 .5 .3 .5 1.7 .5 1.8 .5-1.5 .5-.9 .5 1.2 .5 1.3 .5-1.1 .5 .7 .5 .8 .5-1.1 .5 .5 .5-.8 .5-.4 .5-1.9 .5 1.4 .5-.2 .5 0 .5-1.4 .5 2.9 .5 .9 .5 1.2 .5 .4 .5-.4 .5 .8 .5-.6 .5 .1 .5 .8 .5-.4 .5-.6 .5-.9 .5-1.1 .5-.3 .5-3.1 .5 1 .5 2.2 .5 .5 .5 1.2 .5-1.2 .5-1.8 .5-1.3 .5-1 .5 1 .5 .4 .5 1.9 .5 .9 .5 .2 .5 .2 .5-1.3 .5 .7 .5 .3 .5-.3 .5-.4 .5-.7 .5 2 .5 2.1 .5 .3 .5-.7 .5 .3 .5-.1 .5 .1 .5-1.5 .5-2.4 .5-.1 .5 1.9 .5 .5 .5 .5 .5-.5 .5-1.1 .5 1 .5-1.7 .5 .4 .5 .6 .5 1.2 .5 0 .5-.4 .5-1.2 .5-1.6 .5-1.8 .5 1.5 .5 3.1 .5-1.3 .5-1.6 .5 .5 .5 0 .5-1 .5 .3 .5 3.1 .5-4.4 .5 1.9 .5 1.2 .5 2.4 .5 2.3 .5-.1 .5-.3 .5-1.5 .5-.9 .5-.4 .5 .6 .5-1.7 .5-2.6 .5 .2 .5 2 .5-.2 .5-.3 .5 1.4 .5 1.1 .5 .8 .5-.3 .5-.6 .5-.6 .5 .5 .5-.4 .5-1.1 .5-2.5 .5-.4 .5 1.8 .5-.1 .5-.3 .5 1.4 .5 .7 .5 .5 .5 .1 .5 .2 .5-1.3 .5-.8 .5 1.6 .5-.1 .5 0 .5-1.1 .5 .3 .5-1.7 .5-1.2 .5 2.1 .5 2.3 .5 .7 .5-.2 .5-2.3 .5-.8 .5-.9 .5-.3 .5 .7 .5 1.2 .5 .4 .5 .4 .5 1.5 .5-1.6 .5-2.6 .5 .2 .5-.9 .5-.2 .5 2.6 .5-1 .5 .5 .5 0 .5 0 .5-.1 .5-1.2 .5 1.2 .5-.6 .5-.2 .5-1.8 .5 .5 .5 1.9 .5 1 .5 .2 .5 1.3 .5 1.7 .5 1.1 .5 .4 .5-.7 .5-.3 .5-3 .5-1.6 .5-1.6 .5-.8 .5 2 .5-.2 .5 1 .5-.2 .5 1.1 .5 0 .5-.4 .5 1 .5 .2 .5-.2 .5-.7 .5-1.6 .5 1.3 .5 .3 .5-1.5 .5 .7 .5-.9 .5-1.7 .5 1.8 .5 2 .5 2 .5-.1 .5-.3 .5-2.7 .5-.9 .5 2 .5 .2 .5-2.4 .5-2.1 .5 2.8 .5 1.5 .5 1.3 .5 1.5 .5-1 .5-2.3 .5-1.7 .5-1.6 .5-.2 .5 .5 .5 1 .5 .3 .5 .4 .5-2.4 .5 .8 .5 2.1 .5 2.6 .5-.3 .5-2.7 .5-.3 .5 .5 .5 1.3 .5 .6 .5 .2 .5 1 .5-1 .5-1 .5-.1 .5 1.3 .5 2 .5-1.2 .5-.8 .5-.5 .5 1.3 .5 1 .5 .5 .5 .9 .5 0 .5-1 .5-1.4 .5-.2 .5-1.5 .5-.6 .5-1.2 .5-1 .5 1.2 .5 1.1 .5-1.2 .5-1.8 .5 1.8 .5 .6 .5 .1 .5 1.1 .5-.7 .5-1 .5 0 .5 .8 .5-.9 .5 .1 .5 2.3 .5-4.1 .5-.6 .5 3.7 .5-1.7 .5-.3 .5-2.5 .5 .8 .5 .6 .5 1.4 .5 .5 .5 .7 .5 .3 .5 1.1 .5-.3 .5 .9 .5 .3 .5 1.5 .5 .3 .5-1 .5-3.3 .5-1.8 .5 .6 .5-.2 .5-.2 .5 .7 .5 1 .5 .7 .5 1.4 .5-3.3 .5 .4 .5 1.1 .5 2 .5-1.8 .5-.3 .5 1.1 .5 1 .5 .5 .5 2 .5 .2 .5 0 .5-1.5 .5-3 .5 .3 .5-.7 .5-.5 .5 .2 .5 1.8 .5-1 .5-.8 .5 .4 .5 .1 .5 .9 .5 1.4 .5-.8 .5-1.8 .5 1.1 .5-.3 .5 2 .5 .9 .5 .8 .5-1.4 .5-2.1 .5-1.1 .5-.4 .5 1.2 .5 1.8 .5 1 .5 .3 .5-1.2 .5-.9 .5-1.6 .5-3.1 .5 1 .5-.8 .5 4.2 .5-1 .5-.8 .5-1.2 .5-.3 .5 1 .5 1.9 .5-.3 .5-1.6 .5 .7 .5 0 .5 1.4 .5 1.4 .5 .5 .5-1.6 .5-1.6 .5-.1 .5 1 .5 1.6 .5-1 .5-1.6 .5-1.1 .5 .4 .5 1.7 .5-1.1 .5-1.9 .5 1.7 .5 1.3 .5 1.8 .5 .2 .5-1.6 .5-1.1 .5-1.2 .5 2.1 .5 .1 .5-.9 .5-.3 .5 1 .5 1.2 .5 .3 .5-.5 .5-2.4 .5-1.6 .5-.9 .5 2.2 .5 .6 .5 .3 .5-1.3 .5 .8 .5-.4 .5 .5 .5-.5 .5 1 .5 1 .5-3.7 .5 2.5 .5 .8 .5-1.8 .5 1 .5-.5 .5 .9 .5-.4 .5 1.9 .5 .1 .5 1 .5 .6 .5-.2 .5-.6 .5-2.5 .5-3.5 .5 .6 .5 1.8 .5 1.5 .5 1.1 .5 1.7 .5-.9 .5-.4 .5 .4 .5-2.7 .5 .1 .5-1 .5-.9 .5 3.4 .5 1.8 .5 .1 .5-1.1 .5-2.6 .5-1 .5 1.4 .5 1.6 .5-2.1 .5-1 .5 .2 .5 .5 .5 .6 .5-2.3 .5 2 .5-.2 .5 1.7 .5 .3 .5-.5 .5-1.8 .5-.9 .5 3 .5-2.4 .5 1.5 .5 1.5 .5-1.9 .5-4.5 .5 .6 .5 1.2 .5-.4 .5 1.3 .5 1.3 .5 1.4 .5 .3 .5-.4 .5 .2 .5 .7 .5-.6 .5 .6 .5-1.6 .5-1.6 .5 2 .5 1.6 .5 1.1 .5 .5 .5 .1 .5-.7 .5-1.7 .5 1.5 .5-1.5 .5-4.1 .5 .1 .5 1.1 .5 .7 .5 3.2 .5 .4 .5 .6 .5-.7 .5-1.6 .5-1.2 .5-1 .5 1.3 .5 2 .5 2.1 .5-.1 .5-.4 .5-.8 .5-2 .5-.2 .5-.3 .5-.9 .5 .6 .5-.9 .5-.1 .5-.2 .5 .9 .5-1.8 .5-2.2 .5 3.9 .5 3.1 .5 1.5 .5-.2 .5-2.5 .5-1.7 .5-.8 .5-.4 .5 1 .5 1.8 .5 1 .5 .8 .5 0 .5 .7 .5-1.5 .5-.2 .5-.9 .5 1.2 .5 .9 .5-.6 .5-1.7 .5-.8 .5-.6 .5 1.4 .5 1.7 .5-.2 .5-.1 .5 1.3 .5-.3 .5 0 .5-1.1 .5-2.1 .5-1.3 .5 .4 .5 1 .5 .5 .5 .8 .5-1.2 .5 .7 .5-.4 .5-.9 .5-.6 .5 .8 .5 2.6 .5 1.3 .5-.9 .5 .5 0 7.6-.5 0-.5-.3-.5 1-.5 2-.5 1-.5-.2-.5-1-.5 .3-.5-.7-.5-.4-.5 1.6-.5 .1-.5-.1-.5 1-.5-1.1-.5-2.6-.5 .1-.5-1.1-.5-.3-.5 1.5-.5 .3-.5 0-.5 1-.5 1.9-.5-.3-.5-1.8-.5-.9-.5-1.3-.5 1-.5 .6-.5 0-.5-1-.5-.4-.5 .2-.5 .4-.5-.1-.5 1.4-.5 1.7-.5 .4-.5-.1-.5-.4-.5-1.6-.5-2.6-.5-.5-.5 1.8-.5 2.6-.5 4.5-.5-3-.5 .4-.5 .1-.5-1.7-.5 1.3-.5-.1-.5-.9-.5-.6-.5 .6-.5-1.8-.5-1.2-.5-1-.5-.4-.5 .4-.5 1-.5 3-.5 1.5-.5-2.4-.5-1-.5-1-.5-.3-.5 .5-.5 .1-.5 2.7-.5 2.1-.5 .4-.5-2.2-.5-1.1-.5-1.4-.5 0-.5-.4-.5-1.2-.5-.7-.5 1.2-.5 .7-.5 1.8-.5 1.7-.5-.8-.5-1.1-.5-.9-.5 .2-.5 .6-.5 .1-.5-1.1-.5 1.6-.5-.1-.5 .8-.5 2-.5 1.5-.5-1.8-.5 1.8-.5-2.9-.5-2.6-.5 .7-.5 .5-.5-.9-.5 2-.5-1.9-.5-.2-.5-.4-.5 .7-.5 1.1-.5 .8-.5-1-.5 1.1-.5-.1-.5 .8-.5-.4-.5-.1-.5-2.1-.5-.5-.5 3.6-.5-2.2-.5-2.1-.5-.6-.5 .3-.5 1.5-.5 1.7-.5 .8-.5-1.3-.5-.7-.5-1.5-.5-.4-.5-.5-.5-.3-.5 1.5-.5 1.4-.5 1.9-.5 1.2-.5 0-.5-3.4-.5-1.3-.5-1.4-.5-.1-.5 .2-.5 .9-.5 .5-.5 2.1-.5-.7-.5 1.3-.5-.9-.5 .1-.5-1.1-.5 1.6-.5 .3-.5-2.2-.5 1-.5 1-.5 0-.5-.2-.5-.5-.5-.3-.5-.2-.5 1.5-.5 .7-.5 1.4-.5-1.5-.5-.8-.5-3.1-.5-.3-.5 .6-.5 .6-.5 1.4-.5-1.1-.5-.1-.5 .2-.5 .4-.5 .3-.5-1.2-.5-1.9-.5 .9-.5 1.6-.5 2.3-.5-.2-.5-1-.5-1.2-.5 .2-.5 1.8-.5-.9-.5-1.3-.5-.6-.5 .9-.5 0-.5 .5-.5-.9-.5-2.1-.5 .2-.5 1.6-.5 1.9-.5-.2-.5 .3-.5-.8-.5-.8-.5 1.5-.5 2.4-.5-.4-.5-2.9-.5-1-.5 1.2-.5 2.1-.5 2.1-.5-.5-.5-3.3-.5-2.5-.5-.9-.5-.3-.5 .1-.5 1.1-.5 1.4-.5 0-.5 2.6-.5-2.8-.5-2-.5-1.3-.5 .8-.5 2-.5 .7-.5 .2-.5-1-.5-.3-.5 0-.5 .4-.5 1.5-.5 .5-.5-.3-.5-1.1-.5-.7-.5 .7-.5 1.4-.5-.1-.5-1-.5-.5-.5-1.7-.5-2.1-.5 0-.5 .2-.5 1.6-.5 1.6-.5 .4-.5 .8-.5 .8-.5-1.8-.5 1.4-.5 1-.5-1.6-.5-.6-.5 0-.5 1.6-.5 .8-.5 0-.5 .2-.5 1.5-.5-1.2-.5-1.6-.5-2.8-.5-1-.5 .3-.5 .2-.5 1-.5 .3-.5 1.5-.5-.4-.5 1.1-.5 .1-.5 .7-.5 2.5-.5-1.6-.5 1.9-.5-1.9-.5-1.5-.5 .3-.5 1-.5 .3-.5-1.6-.5-.5-.5 1.5-.5-.1-.5-1.5-.5 .3-.5-1.2-.5 1.3-.5 .2-.5-1-.5 2.7-.5 0-.5-2.1-.5-.7-.5 .2-.5 .4-.5-1-.5 .8-.5-.2-.5-1.5-.5-1-.5-1-.5-1-.5-.2-.5 .6-.5 1.5-.5 .7-.5 1-.5-.3-.5-1.3-.5-.4-.5 1.4-.5 1.7-.5-.7-.5-.2-.5-.7-.5 .8-.5 .3-.5 .4-.5 1.9-.5-.7-.5-1.3-.5-1.9-.5 .4-.5 1.9-.5 2.1-.5 .6-.5-.8-.5-1.1-.5 .1-.5 .9-.5-.2-.5 .8-.5-.6-.5-2.1-.5-2.2-.5-1.1-.5 .5-.5 1.7-.5 3-.5 1.4-.5-1.8-.5-2.1-.5 .3-.5 .3-.5-.1-.5-2.2-.5-.7-.5 .9-.5 1.7-.5 2.7-.5-.6-.5-.2-.5 .5-.5-1.4-.5 1.2-.5-.6-.5-.8-.5-.4-.5-.9-.5 .1-.5 .7-.5-.1-.5 .4-.5 .1-.5 0-.5 .3-.5 1.6-.5-.2-.5 .5-.5 .2-.5-1.4-.5-2.2-.5-1.8-.5-1.2-.5-.7-.5 .4-.5 1.6-.5 1-.5 2.3-.5-.7-.5 .7-.5 2.2-.5 .4-.5-1.5-.5-1.1-.5 .5-.5 0-.5-.6-.5-.3-.5-.1-.5 1.2-.5-.8-.5 .8-.5 2.5-.5-.7-.5-2.2-.5 .4-.5-1.9-.5-1.7-.5 1-.5 .7-.5 .1-.5 1.9-.5 1.1-.5-.5-.5-1.3-.5-1.4-.5-1.6-.5-.4-.5 1.5-.5 2-.5 1.6-.5-1-.5-2.5-.5 .2-.5 .3-.5 .5-.5-.7-.5 .7-.5-.6-.5-.7-.5-.2-.5 .5-.5-.9-.5 2.4-.5 1.1-.5 0-.5 .8-.5-2.2-.5 1.2-.5-1.3-.5-1.5-.5-.6-.5 .6-.5-.7-.5-.6-.5-.1-.5 .6-.5 1.3-.5 .9-.5 .9-.5-.8-.5 .9-.5-.1-.5-.7-.5-1.9-.5 .1-.5 1.1-.5-2-.5-1.1-.5-.9-.5 .1-.5 1.4-.5 3.2-.5 2.2-.5-1.7-.5-2-.5 2.5-.5 .9-.5-1.4-.5 .4-.5-.1-.5-1-.5-1.9-.5 2.6-.5 2.6-.5-2.1-.5-.9-.5-1.7-.5-.3-.5 .5-.5 .6-.5 2.1-.5-1-.5-1.1-.5-.5-.5-.3-.5-.4-.5-.2-.5 2-.5 2-.5-1.3-.5-1.4-.5-2.2-.5 .2-.5 .1-.5-.5-.5-.1-.5 1-.5 2.4-.5 1.4-.5-.4-.5-.9-.5-.1-.5-.9-.5 .5-.5-.2-.5-.8-.5 1.5-.5 1.2-.5 1.9-.5 .2-.5 .1-.5 1.2-.5-3-.5-2.2-.5-1.7-.5 1-.5 1.8-.5 1.8-.5 .4-.5-2-.5-.8-.5-1.2-.5-.6-.5-.7-.5-.1-.5-.5-.5-.1-.5 .5-.5 .1-.5 .1-.5 .7-.5 1-.5 1-.5 4-.5-1.8-.5-1.8-.5 2.6-.5-1-.5-.6-.5-1-.5-1-.5-.2-.5 .6-.5 .8-.5-1-.5 .2-.5 .4-.5 .9-.5-.3-.5-1.1-.5 .8-.5 3.4-.5-1.9-.5-1-.5-1.2-.5 1.4-.5 .5-.5-2.2-.5-2.1-.5-.6-.5-.3-.5-.1-.5 .9-.5 1.8-.5 2.1-.5-1.4-.5-.8-.5 .1-.5 1.1-.5 2.1-.5-.8-.5-2.5-.5 .6-.5-.9-.5 .2-.5-.3-.5-.9-.5-.4-.5-1.7-.5-.2-.5-.3-.5 1.3-.5 2.7-.5 1.2-.5-.5-.5 2.4-.5 1.5-.5-6.8-.5-1.2-.5 1.8-.5 3-.5 .4-.5 .2-.5-.1-.5-.6-.5-1.5-.5-.5-.5-.4-.5 0-.5 .1-.5 .3-.5 .1-.5-.2-.5-.8-.5 .5-.5-.7-.5 1-.5-.2-.5 0-.5-.2-.5-.7-.5 .4-.5-.5-.5-.4-.5 .3-.5 .3-.5-.3-.5 .1-.5 1-.5 1.9-.5 3.1-.5-.4-.5 .7-.5-2-.5-.6-.5-.1-.5-.9-.5-.4-.5 1.2-.5-.2-.5 .1-.5-.6-.5-1-.5-.6-.5 2.2-.5 2.6-.5-.7-.5 .5-.5-1-.5 .4-.5-1.8-.5 1.8-.5-2.4-.5-1.8-.5-2.6-.5 1.8-.5 2.6-.5 .4-.5-1-.5 1.5-.5 .8-.5 1.3-.5-.5-.5-2-.5 0-.5 1.2-.5-2-.5-1-.5 .6-.5 1.3-.5 .4-.5-.1-.5 1.4-.5-1.5-.5 0-.5-1.3-.5 .2-.5-.7-.5-1.7-.5-.7-.5 1-.5 0-.5-1.7-.5 .3-.5 1.4-.5 1.3-.5 1.6-.5-.3-.5-.1-.5 .3-.5 1.2-.5 .7-.5 1.5-.5-2.7-.5-1.4-.5 1.2-.5 .9-.5 .7-.5 .6-.5-2.3-.5 0-.5-1.4-.5-.2-.5 1-.5-.7-.5-1-.5 .4-.5 .6-.5-.8-.5 .1-.5-1.7-.5 .4-.5 .9-.5 2.4-.5-.6-.5 .1-.5-1.5-.5-.9-.5 .7-.5 1-.5-.4-.5-.1-.5 1.6-.5 2-.5-.8-.5-2.4-.5-1.8-.5 1.5-.5 .7-.5-.1-.5-.8-.5 .3-.5-.7-.5 .8-.5 .1-.5-.3-.5 1.6-.5 1-.5 .5-.5-.6-.5-3.2-.5-1.1-.5 .6-.5 1.2-.5 1-.5-.6-.5-.5-.5 3-.5 .7-.5-3.4-.5-.5-.5 1.3-.5 1.9-.5-2.3-.5 .6-.5 .6-.5-2.4-.5-.9-.5-.8-.5 .3-.5 .6-.5 .9-.5 1-.5-.2-.5-1.6-.5 .8-.5-.2-.5 .8-.5 .3-.5 2.3-.5-.5-.5 0-.5 3-.5-2.4-.5-1.7-.5-1.3-.5 .3-.5 1-.5-.1-.5 .8-.5-.6-.5-.8-.5 2.1-.5 1-.5-.6-.5-3.6-.5-1.2-.5-.6-.5 .8-.5 1.4-.5 1.9-.5-1.3-.5 1.4-.5-1.5-.5-.8-.5-1.1-.5 .5-.5 .7-.5 .8-.5 .2-.5-.8-.5-1.2-.5-.3-.5-.9-.5 .3-.5 .9-.5 2.1-.5 1.2-.5-1.6-.5-1.4-.5-.8-.5 .3-.5-.2-.5 1.1-.5 1.6-.5 3.1-.5-1.8-.5-1-.5 .6-.5-2-.5-1.9-.5-.7-.5 1.2-.5 .8-.5-.3-.5-1-.5 .6-.5 .4-.5 .7-.5-.3-.5 .3-.5 1.2-.5 3.4-.5-.2-.5 .3-.5-.8-.5-2.2-.5-1.6-.5 .5-.5-1.1-.5-.1-.5 1.3-.5 .9-.5-.8-.5-.6-.5 1.4-.5 2.7-.5-.1-.5 .6-.5-2.6-.5-1.6-.5-.9-.5-1.8-.5 .6-.5 .3-.5 .6-.5-.6-.5 .1-.5 2-.5 1.5-.5-1.4-.5 .4-.5-1.5-.5 .3-.5-.8-.5 .1-.5 .1-.5 .3-.5 2.9-.5 1.4-.5-1-.5-1.5-.5-2.2-.5 1.6-.5 .4-.5 1.4-.5 .4-.5-2.4-.5 1.2-.5 .8-.5-.9-.5 .7-.5 .1-.5-.7-.5 .8-.5-1.7-.5 0-.5 .8-.5-.2-.5-1-.5 .5-.5-1.4-.5 .2-.5 1.4-.5 2-.5-1.1-.5-1.9-.5-1.2-.5-.9-.5-.8-.5-.3-.5 1.7-.5 2.4-.5-.6-.5-.2-.5 .3-.5 .7-.5 1.3-.5-.2-.5-.1-.5 .3-.5 1.8-.5-2.4-.5 1.1-.5 .9-.5 .4-.5-2-.5-3.1-.5-1.2-.5 1.7-.5 2.8-.5 1.2-.5-.3-.5-1.2-.5 1.1-.5-1.2-.5-1.9-.5 3-.5 .1-.5-1-.5-.8-.5 1.9-.5-1.4-.5 1.5-.5-2.2-.5-.6-.5-2.8-.5-.6-.5 .1-.5 1.3-.5 1.4-.5 1.5-.5 1.1-.5 1.1-.5-1.8-.5-3-.5-.5-.5-1.3-.5 .4-.5 .6-.5 1.3-.5 .6-.5 .9-.5-2.2-.5 1-.5 3-.5-.6-.5-.3-.5-.8-.5-.3-.5-.8-.5-.3-.5 2.1-.5 .6-.5-.4-.5 2.1-.5-1.3-.5-1.3-.5-1.3-.5 0-.5-.4-.5-.9-.5-.9-.5-.8-.5 0-.5 1.2-.5 .8-.5 .7-.5-.7-.5-.1-.5-.9-.5 .2-.5 2.4-.5 1.7-.5 1.4-.5-.6-.5 .8-.5 0-.5-.3-.5-.1-.5 .3-.5-.9-.5 0-.5 .2-.5 .9-.5-1.4-.5-.7-.5 .3-.5 .3-.5-2.1-.5-1.1-.5-.6-.5 .1-.5 1.1-.5-.1-.5-.4-.5-.4-.5 1-.5-.6-.5 .6-.5-.7-.5-.7-.5 .9-.5 2.8-.5-1.9-.5-.7-.5-1.8-.5-.5-.5 .6-.5-.7-.5-.4-.5 1.3-.5 1.3-.5 .9-.5-.6-.5 1.1-.5 1.4-.5-.1-.5-1.2-.5 2.4-.5 .1-.5-2.7-.5 .1-.5 1.3-.5-.8-.5-1.1-.5-.4-.5 1.1-.5-.1-.5-.4-.5 .8-.5-.4-.5-.5-.5-1.2-.5-.9-.5 .8-.5 .1-.5 .4-.5-.4-.5 .5-.5 2.4-.5-.3-.5-1.1-.5-.2-.5 .1-.5 1.2-.5-1.6-.5 .8-.5-1-.5-1.8-.5 2.1-.5 .6-.5-1.9-.5-.8-.5 1.1-.5-.1-.5-.4-.5 .4-.5-.6-.5 .4-.5-.2-.5 .9-.5 .7-.5-.1-.5 .3-.5 .5-.5 1.9-.5-2.6-.5 .3-.5-.6-.5 1-.5 .3-.5 2.2-.5 .9-.5-1.4-.5-1.2-.5 0-.5 .2-.5 .9-.5-1.6-.5 .4-.5 1.5-.5 .3-.5-.3-.5-1-.5 1.3-.5-4.8-.5-1.4-.5 .3-.5 .2-.5-.9-.5-.2-.5 .4-.5-.6-.5 .8-.5 1.7-.5 2.4-.5 .7-.5-.5-.5-.7-.5 .1-.5 .8-.5-.6-.5-2.1-.5-2.1-.5-.1-.5 .5-.5 .9-.5 .9-.5 .9-.5 .5-.5-1-.5-1.1-.5-.5-.5 .4-.5 .6-.5 1.9-.5 2.2-.5-2-.5 0-.5-1.3-.5 .3-.5 1.7-.5 1.6-.5-.1-.5-1.3-.5-.2-.5-.2-.5-.9-.5 1-.5-1.2-.5 .2-.5 1.7-.5-1.5-.5-1.2-.5-.8-.5-.1-.5 3.8-.5 .6-.5-2.4-.5 4.2-.5-1.5-.5-2.4-.5-1.3-.5-.2-.5 1.3-.5-1-.5-.4-.5-.9-.5-.7-.5 .8-.5 .2-.5 .2-.5 .3-.5-1.1-.5 .6-.5 1.5-.5 1.2-.5 2.5-.5-1-.5-.3-.5 .9-.5-.5-.5 .8-.5-2.8-.5 1-.5 .3-.5-1.2-.5-.9-.5 .5-.5 .2-.5-1.3-.5 .2-.5 1.4-.5-.4-.5-.6-.5-1.7-.5-.2-.5-.3-.5 .8-.5 .2-.5 .6-.5 .9-.5 1.1-.5-.6-.5-.2-.5-.2-.5-.5-.5-1.4-.5 1.5-.5-.9-.5 .6-.5-.7-.5 3.7-.5-3.3-.5-2.2-.5 .3-.5-1-.5 .5-.5 .2-.5 3.3-.5-.9-.5-.4-.5 .1-.5-.5-.5-.7-.5-.8-.5-.7-.5-.6-.5 0-.5 1.6-.5 1.9-.5-.9-.5 .3-.5 2-.5 .3-.5-1.2-.5 .2-.5-1.1-.5 .4-.5-.7-.5 .7-.5-.3-.5-.1-.5-.1-.5-.1z" fill="#0000ff" stroke="#0000ff" stroke-width="0.6" stroke-linejoin="round"/>
<path d="M66.3 67.3l.5-.7 .5-1.2 .5-1.1 .5 .7 .5 2 .5-2.4 .5 3.3 .5-1 .5-.6 .5 1.1 .5-.3 .5 1.1 .5-.5 .5-.1 .5-.5 .5-1.6 .5-1.4 .5 2.7 .5-1.3 .5 1.5 .5-.5 .5 1.2 .5-.4 .5-.1 .5-1.2 .5-.7 .5 1.5 .5-.9 .5-2.3 .5 1.4 .5 1.3 .5 3.4 .5 .3 .5 2.1 .5 1 .5-1.1 .5-1.8 .5-2.9 .5-1.3 .5 1.1 .5-.2 .5 2 .5 .7 .5 .6 .5 1.1 .5-1.3 .5-.4 .5-.7 .5-.4 .5 1 .5-.1 .5-.3 .5-.7 .5 1.5 .5 .3 .5-1.6 .5-.5 .5 2.2 .5 .3 .5-.2 .5 .2 .5-1.7 .5 1.4 .5-1.8 .5-1.8 .5-.8 .5 1.1 .5 2.8 .5 .3 .5-.3 .5-.8 .5 1.1 .5 .7 .5 .2 .5-.2 .5-1.7 .5-1.2 .5-1.6 .5 1.9 .5-1.1 .5-.1 .5-1 .5 2.3 .5 .2 .5 2.9 .5 1.5 .5 1.6 .5-.8 .5-1.2 .5-1.4 .5 .7 .5 1.2 .5-.1 .5 .8 .5-.5 .5-.2 .5 .9 .5 .3 .5-2 .5-.7 .5-1.4 .5-.2 .5-1.1 .5 .2 .5-.2 .5-1.4 .5 .7 .5-1.4 .5 2.3 .5-.6 .5 0 .5-.5 .5 .3 .5 .4 .5-1.7 .5 1.7 .5 .3 .5 2.8 .5 2.3 .5 0 .5 .2 .5-2 .5 .2 .5-1.6 .5-1.2 .5-.1 .5-.2 .5-1.4 .5-1 .5 1.4 .5 1.7 .5 1.7 .5 .1 .5-1.4 .5 .5 .5 .2 .5 0 .5-.5 .5 .9 .5 .5 .5 .9 .5 .7 .5 .7 .5-.1 .5 .1 .5-.3 .5-.1 .5-.2 .5 .5 .5-1.2 .5-.3 .5-.9 .5 .2 .5-.8 .5 .3 .5-.1 .5 .2 .5 1.2 .5 .3 .5 .3 .5-.2 .5-.1 .5-.6 .5 1.1 .5-.1 .5 .2 .5 .4 .5 .4 .5-.2 .5-.7 .5-.4 .5-.2 .5 .1 .5 .5 .5 .5 .5 .7 .5 .1 .5-.1 .5 .6 .5-.8 .5-.7 .5-1.1 .5-2.6 .5 .6 .5 .8 .5-.9 .5-.3 .5-.1 .5-.2 .5 1.2 .5-.2 .5-.5 .5-.3 .5 .3 .5 1 .5 1.2 .5-.4 .5 1.8 .5 .5 .5 .1 .5-.3 .5-.6 .5-.7 .5-1 .5-1 .5 .5 .5 1.9 .5 .6 .5 .6 .5-1.3 .5-.9 .5 .8 .5-.5 .5 .3 .5 .7 .5 1.4 .5-.7 .5-1.1 .5 .1 .5 .4 .5-.8 .5-1.9 .5 .1 .5 .9 .5 .7 .5 .2 .5 1.5 .5 .1 .5-.4 .5-.5 .5-.9 .5-.6 .5 .2 .5-.6 .5 .1 .5 .6 .5-.9 .5-.1 .5 .3 .5-.6 .5 .4 .5-.1 .5 .4 .5 .6 .5 2.3 .5 .2 .5 .1 .5 .1 .5 .3 .5-.2 .5 .1 .5 .3 .5-.2 .5-.8 .5-.7 .5-.8 .5 1 .5-.2 .5-.2 .5-1 .5 .1 .5-.7 .5 1.7 .5-.4 .5 .7 .5-.1 .5-1.2 .5-.3 .5-.5 .5-.1 .5 .9 .5-1 .5 .3 .5 .5 .5-.1 .5 .3 .5-.4 .5-.2 .5 .1 .5 .7 .5 .6 .5 .3 .5 .5 .5 .3 .5-.1 .5 .5 .5 .3 .5 .7 .5-.1 .5 0 .5-.1 .5-.6 .5-.2 .5-1.4 .5 0 .5-.8 .5-.1 .5-.5 .5 .3 .5 .2 .5 .2 .5-.2 .5-.3 .5-.6 .5 1.3 .5 .8 .5 1.2 .5 .6 .5-.1 .5 0 .5-.1 .5-.7 .5 0 .5 .2 .5 .3 .5 .3 .5-.6 .5-.2 .5-1 .5-.3 .5-1.4 .5 .7 .5 .6 .5 .6 .5 .2 .5-.3 .5-.2 .5-.2 .5-.3 .5-.1 .5-.3 .5 .5 .5-.5 .5-.7 .5 .4 .5 .3 .5 .4 .5-.3 .5-.2 .5-.5 .5 1.2 .5 .9 .5 .5 .5 .6 .5 .3 .5 0 .5 0 .5-.4 .5-1.1 .5 .8 .5 0 .5 0 .5 .2 .5 .1 .5 .2 .5-.7 .5-.4 .5 0 .5-.4 .5-.3 .5-.7 .5-.1 .5-.5 .5 0 .5 .2 .5-.6 .5 .5 .5-.3 .5 .1 .5 .8 .5-.1 .5 2.3 .5-.4 .5 .3 .5 .4 .5 .1 .5 0 .5-1.1 .5-.6 .5-.7 .5-.2 .5-.6 .5 .9 .5 .8 .5-.5 .5-.1 .5 .1 .5 0 .5 .6 .5 0 .5 .1 .5-.6 .5-.8 .5 0 .5 .1 .5-1.3 .5 .6 .5 1.1 .5 .9 .5-.7 .5-.1 .5-.7 .5-.6 .5 0 .5 1.1 .5 0 .5 .5 .5 .1 .5 .5 .5 .1 .5-.5 .5-.3 .5-.2 .5 .1 .5 0 .5-.6 .5 .2 .5 0 .5-.6 .5 .3 .5 0 .5 .1 .5-.5 .5 .3 .5 .1 .5-1 .5 .7 .5 0 .5-.4 .5 .5 .5 .1 .5 .5 .5-1 .5 .5 .5-.6 .5 .4 .5-.6 .5 1.3 .5 .2 .5 1.2 .5-.5 .5-1 .5 .2 .5 .2 .5 .1 .5-.3 .5 .5 .5-.6 .5 .3 .5 1.6 .5 .1 .5 0 .5 0 .5-.1 .5 .1 .5-1.5 .5 .5 .5 0 .5-.1 .5-.8 .5-.1 .5 .5 .5 .5 .5 0 .5 .2 .5 .1 .5 .3 .5 .5 .5 .2 .5-.5 .5-.3 .5-.8 .5-.5 .5 .1 .5 .2 .5-.1 .5 .4 .5-.2 .5-.1 .5 .3 .5 .3 .5 .3 .5 .4 .5-.5 .5-.5 .5-.9 .5-.5 .5-1.1 .5 1.1 .5 .4 .5 .6 .5-.9 .5 .5 .5 .2 .5 .3 .5 0 .5 .2 .5-.5 .5 .3 .5-.2 .5 0 .5-.4 .5-.1 .5-.4 .5-.1 .5 0 .5 .4 .5 .2 .5 .7 .5 .7 .5 .8 .5 .2 .5 0 .5 .1 .5-.8 .5-.9 .5-.7 .5-.2 .5-.2 .5 1.2 .5-.6 .5 .7 .5-.7 .5-.1 .5 0 .5 .2 .5 .1 .5 .3 .5-.2 .5-.2 .5-.3 .5 .2 .5 .5 .5-.7 .5-3 .5 .2 .5 3.6 .5 .4 .5 .3 .5 .5 .5 .1 .5-.4 .5-.4 .5-.2 .5-.5 .5 .2 .5 .7 .5-.6 .5-.3 .5 .3 .5-.8 .5 .2 .5-.2 .5 1 .5-1.2 .5-.2 .5-.8 .5-.1 .5 1.2 .5-.9 .5 0 .5-.2 .5-.2 .5 .1 .5 .9 .5 0 .5 .8 .5-.1 .5 .2 .5-.2 .5-.3 .5 .5 .5-.2 .5 .2 .5-.4 .5 .4 .5 .6 .5-.2 .5-.9 .5-.2 .5 0 .5-.7 .5 .8 .5 .2 .5-.2 .5-.3 .5-.7 .5 .2 .5 .8 .5 .2 .5-.3 .5 2.5 .5 0 .5 .1 .5 0 .5-1 .5 0 .5-.4 .5-.3 .5 0 .5 .1 .5 .3 .5-.4 .5 0 .5-.7 .5 0 .5-.3 .5 .3 .5 .8 .5 .4 .5-.4 .5 .7 .5-.9 .5-.4 .5 .5 .5-.2 .5-.4 .5-.8 .5 0 .5 .3 .5 .3 .5-.5 .5 .2 .5 .8 .5 .8 .5 .3 .5 0 .5-.1 .5-.3 .5-.6 .5 0 .5-.7 .5 0 .5 0 .5 0 .5 .1 .5 .5 .5 .3 .5-.1 .5-.5 .5 .1 .5 .1 .5 .1 .5 0 .5 .5 .5-.8 .5 .1 .5 .5 .5 .2 .5-.2 .5 .4 .5 .1 .5-.3 .5-.5 .5-.5 .5-1 .5 1 .5-.1 .5 .6 .5-.1 .5 .3 .5 .5 .5-.3 .5-.6 .5 0 .5-.5 .5 .1 .5 .4 .5-.2 .5-.1 .5 0 .5-.1 .5 .4 .5-.3 .5-.9 .5 .8 .5-.2 .5 .6 .5 .3 .5 .3 .5 .2 .5 0 .5-.3 .5-.3 .5-.2 .5-.3 .5 0 .5 .1 .5 .4 .5 1.7 .5 .4 .5 0 .5 0 .5 0 .5-.2 .5 0 .5 .1 .5-.4 .5-.3 .5-.2 .5 .3 .5 .1 .5-.2 .5-2 .5-.8 .5 .1 .5-.7 .5 1.1 .5 1.1 .5 .9 .5-.1 .5-.2 .5-.2 .5-.5 .5-.2 .5-.7 .5 1 .5 .3 .5-.3 .5 .3 .5 .7 .5-1.2 .5 .3 .5-.3 .5 0 .5 0 .5-.7 .5-.5 .5 .1 .5-.3 .5 1.1 .5 1.5 .5 .3 .5 .1 .5-.5 .5-.5 .5-.9 .5-.9 .5 .2 .5 0 .5-.8 .5 .4 .5 .3 .5 .3 .5 .2 .5-.4 .5 .4 .5-.3 .5 .7 .5 1.2 .5-.1 .5-.3 .5-.7 .5-.3 .5-1 .5 .7 .5-.7 .5 .3 .5 .4 .5 1 .5-.4 .5 .8 .5-.4 .5 .5 .5 .5 .5 .3 .5-.5 .5-.3 .5-.1 .5-.2 .5-1.4 .5 .1 .5-.6 .5 .3 .5 .5 .5 1 .5 .5 .5 .4 .5-.2 .5-.5 .5-1.9 .5 .4 .5 .4 .5-.1 .5 .1 .5 .4 .5 1.4 .5 .3 .5 .3 .5 0 .5 0 .5-.1 .5-.3 .5-.7 .5-.8 .5-.2 .5 .4 .5 .4 .5 .1 .5-.8 .5 0 .5 .7 .5 0 .5 .3 .5 0 .5 .3 .5 .1 .5 .3 .5 .3 .5-.1 .5 0 .5 0 .5 .2 .5-.6 .5-1.1 .5-.7 .5-.5 .5-.3 .5-.7 .5 1 .5 .1 .5-.5 .5 .4 .5 .5 .5 0 .5-.6 .5 .2 .5 1.4 .5 .3 .5 .2 .5-.1 .5 .3 .5-.2 .5 .3 .5-.7 .5 0 .5-.2 .5 .5 .5 0 .5-.8 .5-.4 .5 .1 .5-.8 .5 .2 .5 .2 .5 1.2 .5 .4 .5-.4 .5-.3 .5 .2 .5-.3 .5 .3 .5-.1 .5-.3 .5-.5 .5-2 .5-.8 .5 2.3 .5 .1 .5-.3 .5 .3 .5 .4 .5 .5 .5 .3 .5-.1 .5 .7 .5 .1 .5 .7 .5-.2 .5-.5 .5-.3 .5-1.4 .5-.2 .5 0 .5 .6 .5-.5 .5 .4 .5 .5 .5 .1 .5 .4 .5 .4 .5-.8 .5-.5 .5 .6 .5 0 .5 .2 .5-.5 .5 .2 .5-.6 .5-.6 .5 .3 .5 1 .5 .1 .5 .7 .5 .6 .5 .2 .5-.2 .5-.1 .5-.6 .5-.7 .5-.3 .5-.5 .5-.5 .5 .5 .5 .7 .5-.3 .5 .3 .5 1.2 .5-.3 .5 0 .5 .1 .5-.1 .5 .3 .5 .1 .5-.2 .5 .2 .5-.4 .5-1.3 .5 0 .5-.4 .5 .7 .5-.9 .5 .5 .5-.2 .5 .4 .5 .4 .5 .2 .5-.7 .5-.1 .5-.4 .5 .2 .5-1.1 .5 .7 .5 .4 .5 .8 .5-.1 .5 .6 .5 0 .5 .1 .5-.2 .5-.6 .5 .3 .5-.4 .5-1.2 .5-.2 .5-.2 .5 .8 .5 .5 .5 .4 .5 .6 .5 .3 .5-.2 .5-.2 .5-.7 .5-.8 .5 .6 .5 .5 .5-.3 .5 .1 .5-.4 .5-.1 .5-.3 .5 .4 .5 0 .5 .8 .5 .4 .5 0 .5-.3 .5-.3 .5-.5 .5 .3 .5 .5 .5 .1 .5 .2 .5 0 .5-.2 .5-.2 .5-.4 .5-.1 .5 .3 .5-.2 .5 0 .5-.8 .5 .6 .5 .2 .5 .1 .5-.2 .5 .2 .5-.9 .5 .2 .5 .9 .5-.6 .5 0 .5 .4 .5-.5 .5-.3 .5-1 .5 .2 .5 .4 .5 .3 .5-.2 .5 .4 .5-.6 .5 .4 .5-.6 .5-.2 .5 .4 .5 .9 .5 .1 .5 .5 .5 .1 .5 .5 .5 .1 .5-.3 .5-.1 .5-.8 .5-.4 .5-.2 .5 .5 .5 .6 .5-.3 .5 .2 .5 .2 .5-.4 .5 .1 .5-.2 .5-.3 .5-.4 .5 .7 .5 .5 .5 .4 .5 .6 .5 .1 .5 0 .5-.5 .5-.4 .5-.1 .5 0 .5-.4 .5-.4 .5-.4 .5 .5 .5-1.2 .5 .2 .5 .3 .5 .9 .5 .6 .5-.2 .5-.3 .5-.4 .5-1.2 .5-.1 .5 .2 .5 .1 .5 .5 .5 .5 .5 .8 .5 .6 .5-.2 .5-.4 .5-.2 .5 .1 .5 .1 .5 .4 .5 0 .5-.2 .5-.5 .5 .7 .5-.6 .5 .3 .5 .3 .5-.1 .5 0 .5 .2 .5 0 .5-.2 .5 .2 .5 0 .5 .3 .5-1.6 .5 0 .5-.7 .5 .6 .5-.9 .5 .2 .5-.6 .5 1.2 .5 .1 .5-.9 .5 .1 .5 .9 .5-.4 .5 .5 .5 .3 .5 .4 .5 .2 .5-.4 .5-1.9 .5 .4 .5-.1 .5 .5 .5 0 .5 0 .5 .2 .5-.2 .5 .3 .5-.1 .5-.6 .5 .2 .5 .6 .5 0 .5 .7 .5 .5 .5 .3 .5-.9 .5-.5 .5-.1 .5-.5 .5 1 .5-.1 .5-.1 .5-.1 .5 0 .5 .1 .5 .8 .5 .1 .5 .1 .5 .1 .5 .2 .5-.2 .5-.5 .5-.6 .5-.2 .5-.6 .5 .3 .5-.1 .5 0 .5 .2 .5-.5 .5-.3 .5 .3 .5 .2 .5-.1 .5 1 .5-.1 .5-.4 .5 .9 .5-1.2 .5-.1 .5 .1 .5 .6 .5 .7 .5-.3 .5-.2 .5-.3 .5-.1 .5 .1 .5-.7 .5 .9 .5-.4 .5 .5 .5 .4 .5 .3 .5 .7 .5 .4 .5 0 .5-.4 .5-.5 .5-.9 .5 0 .5 .1 .5-.1 .5 .1 .5-.8 .5 .7 .5-.5 .5-.1 .5-.7 .5 .2 .5-.1 .5 .5 .5 0 .5 .1 .5 .2 .5 .8 .5-.5 .5-.8 .5 .9 .5 .4 .5 0 .5 .3 .5-.1 .5 0 .5-.5 .5 .1 .5-.4 .5-.2 .5 .5 .5-.1 .5-.3 .5-.7 .5 .5 .5 .4 .5-.3 .5 1 .5 .6 .5 .1 .5 .3 .5 .1 .5 .1 .5-.1 .5-.4 .5-.3 .5-.7 .5-.2 .5-.1 .5 .2 .5-.3 .5-.8 0 6.8-.5-.4-.5-.4-.5 .1-.5-.6-.5-.3-.5-.4-.5-.2-.5-.3-.5-.1-.5-.1-.5 .1-.5 .3-.5 .2-.5 .6-.5 .6-.5 .8-.5 0-.5 .3-.5-.8-.5-.6-.5 .4-.5 .1-.5 .2-.5-.3-.5-.4-.5-.7-.5 .1-.5 .6-.5 0-.5 .5-.5 .4-.5-.4-.5-.1-.5-.3-.5 .5-.5-.4-.5 .7-.5 .6-.5 0-.5 0-.5-.9-.5 .7-.5-1-.5 .1-.5 .3-.5-.5-.5 .3-.5-.1-.5 .3-.5-.6-.5-.6-.5-.7-.5-.2-.5 0-.5 .2-.5 .6-.5 .4-.5 .5-.5 .5-.5 .3-.5-.3-.5 .2-.5-.2-.5 .1-.5-.6-.5-.5-.5 .6-.5 .7-.5-.1-.5 1-.5-.5-.5-1.1-.5 .3-.5-.5-.5 .4-.5 .3-.5 .6-.5-.2-.5 .1-.5-.4-.5 .2-.5 .1-.5 .2-.5-.4-.5 .3-.5-.5-.5-.7-.5-.4-.5-.2-.5 .1-.5-.2-.5 0-.5 0-.5 .5-.5 .5-.5-.2-.5 .1-.5 .4-.5-.3-.5 .2-.5-.2-.5 .1-.5 0-.5-.7-.5-.4-.5-.1-.5 .3-.5 .7-.5 0-.5 .8-.5 .1-.5-.1-.5 .2-.5 .3-.5-.1-.5-.4-.5 .4-.5-.8-.5 .3-.5-.2-.5 .2-.5-.7-.5-.2-.5-.5-.5 .1-.5 .4-.5 .5-.5 .8-.5-.1-.5 .4-.5 .2-.5-.2-.5-.5-.5 .3-.5-.1-.5-.2-.5 .2-.5-.6-.5-.4-.5-1.3-.5 .2-.5-.1-.5 .4-.5-.4-.5 .1-.5 .2-.5 0-.5-.3-.5 .8-.5-.4-.5-.1-.5 .1-.5-.2-.5-.1-.5 .3-.5 .1-.5-.1-.5 .4-.5-.2-.5-.6-.5-.1-.5 .5-.5 .6-.5 1.4-.5-.1-.5 .1-.5-.5-.5 1.4-.5-1.4-.5-.9-.5-.7-.5 .4-.5 .3-.5 1.5-.5-.9-.5 .8-.5-.5-.5-.4-.5-.2-.5-.2-.5 .2-.5-.9-.5 .3-.5-.6-.5-.3-.5-.3-.5 .2-.5 .4-.5 .7-.5 .8-.5 .3-.5 .1-.5-1-.5-.3-.5-.1-.5 0-.5 .2-.5 .1-.5 .1-.5 .3-.5 .2-.5-.2-.5-.2-.5-.2-.5-.5-.5-.1-.5 .2-.5 0-.5 0-.5 .3-.5 .8-.5-.1-.5 1.3-.5-.7-.5-.4-.5 .1-.5 .3-.5-.8-.5 .7-.5 .2-.5 .5-.5 .2-.5-1-.5 0-.5-.6-.5 0-.5 .5-.5-1-.5 .6-.5 .2-.5-.5-.5 .3-.5 0-.5 .1-.5 .1-.5 .1-.5-.7-.5 .4-.5-.2-.5-.5-.5 .2-.5-.2-.5-.3-.5-.1-.5 0-.5 .3-.5 .1-.5 .6-.5 0-.5-.7-.5-.1-.5-.5-.5 .1-.5 .3-.5 .9-.5 1-.5-.5-.5-.2-.5 0-.5-.4-.5-.1-.5 .1-.5 .2-.5 .7-.5-.3-.5-1.2-.5-.3-.5-.1-.5 .4-.5 .1-.5 1.2-.5 .5-.5 .2-.5 .1-.5-.5-.5-.3-.5-.6-.5-.7-.5-.1-.5-.4-.5 .1-.5 0-.5 .7-.5 .1-.5 .5-.5 1-.5-.5-.5 .6-.5 .3-.5-1.2-.5-.4-.5-.3-.5-.3-.5 .2-.5 .5-.5 .2-.5-.3-.5 .4-.5 0-.5 .5-.5-.4-.5-1.7-.5-.3-.5-.2-.5 .1-.5 .2-.5 .2-.5-.1-.5-.1-.5 .2-.5-.3-.5 .9-.5 .3-.5 .3-.5 .8-.5-.1-.5-.7-.5-.3-.5-.3-.5-.6-.5-.6-.5-.2-.5 0-.5 .2-.5 .4-.5 .8-.5 .4-.5 1-.5-.4-.5 .5-.5-.5-.5-.8-.5-.6-.5 .1-.5 .3-.5 .4-.5-.2-.5 .1-.5-.6-.5 .1-.5 .3-.5 .4-.5 .6-.5-.5-.5 .5-.5-.2-.5 .1-.5-1.2-.5-.6-.5-.3-.5 0-.5 .4-.5 .3-.5 .1-.5 .4-.5 .9-.5 .2-.5-.1-.5 0-.5 .5-.5-.3-.5 2.2-.5 .2-.5-2.9-.5-.2-.5-.4-.5 0-.5-.1-.5-.4-.5 .2-.5 0-.5-.3-.5 .2-.5 1.6-.5-.4-.5 .3-.5-.5-.5 .2-.5 .5-.5-2.2-.5 .2-.5 .4-.5 0-.5-.1-.5-.3-.5-.3-.5 .1-.5 .1-.5 .1-.5 .1-.5 .2-.5 .8-.5 1.3-.5 .3-.5-.4-.5 .1-.5-.2-.5-.6-.5 .9-.5 .4-.5-.6-.5-.8-.5-.4-.5-.5-.5-1-.5-.5-.5 .1-.5 0-.5-.1-.5 0-.5 .3-.5 .2-.5 .4-.5 .1-.5 .4-.5-.1-.5 .1-.5 .5-.5 .3-.5-.6-.5-.2-.5 .3-.5-.2-.5 .1-.5-.2-.5-.8-.5-.6-.5 .1-.5 0-.5 0-.5 .2-.5 .6-.5 1.1-.5 .6-.5 .3-.5-.1-.5 .1-.5 0-.5-.5-.5-1.5-.5-.3-.5 .1-.5 .7-.5 1.2-.5 .1-.5 .8-.5-.8-.5 1-.5-1.5-.5-.5-.5-.5-.5-.5-.5-.1-.5 .1-.5 .3-.5 .7-.5 .1-.5-.3-.5 .5-.5 .2-.5 .8-.5 .2-.5 0-.5-.7-.5 .5-.5-.4-.5-1-.5-.2-.5 .1-.5 .1-.5 1-.5 .1-.5 0-.5-.2-.5-.2-.5 1.3-.5-.9-.5 .4-.5 .7-.5-.5-.5-1-.5-.6-.5-.3-.5-.1-.5-.6-.5-.4-.5 .6-.5 1.8-.5 .7-.5-.5-.5 .3-.5-1-.5 0-.5-.6-.5 .2-.5-.6-.5 .9-.5-1.2-.5 .4-.5 .4-.5 0-.5 .4-.5 .3-.5-.2-.5-.5-.5-.2-.5-.3-.5-.4-.5 .1-.5 .4-.5 1.3-.5 .3-.5-.4-.5 .5-.5 0-.5-2.3-.5-.2-.5 0-.5 0-.5-.2-.5-.2-.5 0-.5-.1-.5-.1-.5-.1-.5 0-.5 0-.5 .1-.5 .2-.5 1.5-.5 .1-.5 .9-.5-.3-.5-.4-.5-.2-.5-.2-.5 .1-.5-.3-.5 .2-.5 .2-.5-.1-.5 .9-.5 0-.5 .8-.5-.6-.5-.6-.5 .2-.5 .1-.5 .3-.5 0-.5 .2-.5-.8-.5 .4-.5-.2-.5-1-.5 .2-.5-.2-.5 .2-.5 .1-.5 .5-.5 .3-.5 .3-.5-.2-.5 0-.5-.4-.5-.5-.5-.7-.5 .5-.5 0-.5 .3-.5-.1-.5 .1-.5-.2-.5-.4-.5 .4-.5 .3-.5 0-.5 .5-.5-.3-.5 .6-.5-.7-.5 0-.5 .2-.5 .1-.5 0-.5 0-.5-.4-.5-.1-.5 .1-.5-.7-.5-.2-.5 .1-.5-.1-.5 .7-.5-.2-.5 1.2-.5 .1-.5 1.3-.5-.9-.5-.6-.5 0-.5-1.1-.5 0-.5 .6-.5 .1-.5-.3-.5-.6-.5 .7-.5-.9-.5 .2-.5 .8-.5 .5-.5-.3-.5 0-.5-.6-.5-.4-.5 0-.5-.2-.5 .5-.5 .1-.5-.6-.5 .3-.5 0-.5-1.5-.5 0-.5 .1-.5 .2-.5 1.8-.5 .7-.5 .5-.5-.1-.5 0-.5-.3-.5 0-.5 0-.5-.3-.5-.2-.5 .6-.5-.5-.5-.3-.5-.1-.5-.4-.5 .1-.5 .5-.5-.4-.5 .3-.5 .4-.5-.7-.5 .6-.5-.4-.5-.3-.5 .8-.5-.2-.5 1.1-.5 .4-.5-.7-.5-.1-.5 .2-.5 .5-.5-.4-.5 .6-.5-.3-.5-.9-.5 .3-.5-1.1-.5 .3-.5 0-.5 0-.5-.3-.5-.3-.5 .2-.5-.9-.5 .5-.5 .7-.5-.5-.5 0-.5-.8-.5-.1-.5-.3-.5 .7-.5 .2-.5 .5-.5 4-.5 .2-.5-3.7-.5 .4-.5 0-.5-.4-.5 .5-.5-.8-.5 .2-.5-.2-.5-.1-.5 .4-.5 .1-.5 .1-.5-.3-.5-.1-.5 .3-.5 .2-.5 0-.5-.4-.5-.8-.5-.8-.5-.4-.5 0-.5 0-.5 .3-.5 .5-.5 .7-.5 .2-.5 .5-.5 .9-.5-.5-.5 .4-.5-.2-.5-.2-.5-.1-.5-.1-.5-1.1-.5 .2-.5 .6-.5-.4-.5 .2-.5 1.2-.5-.5-.5-.2-.5 .1-.5 .6-.5 .3-.5 .2-.5-.8-.5-.4-.5-.7-.5-.4-.5-.5-.5 .3-.5 .2-.5 .1-.5-.2-.5 1.1-.5-.2-.5-.3-.5 .1-.5 .1-.5 0-.5 0-.5-1.3-.5-.4-.5-.2-.5 .2-.5 .2-.5 .2-.5 .3-.5 .4-.5 .6-.5-.5-.5 .6-.5 0-.5-.9-.5 .2-.5 .5-.5-.1-.5-1.7-.5 .2-.5 .2-.5 .3-.5-.6-.5 0-.5 1.8-.5 .3-.5-.7-.5 .4-.5-.4-.5 .6-.5-.4-.5 .4-.5-.2-.5-.6-.5 .2-.5 .9-.5 .4-.5 .4-.5-.4-.5 .4-.5-.8-.5 .3-.5-.4-.5 .2-.5 .2-.5 .6-.5 .1-.5-.5-.5-.2-.5-.6-.5 0-.5 .4-.5 0-.5-.5-.5 .6-.5 .9-.5-1.2-.5-.1-.5-.2-.5-.5-.5 .3-.5-.4-.5-.2-.5 .6-.5-.7-.5 .4-.5 .7-.5-.2-.5 .8-.5-.5-.5 .8-.5-.4-.5-.9-.5-.1-.5 .5-.5-.7-.5 .7-.5 .8-.5-.2-.5-.1-.5-.9-.5-.2-.5-.1-.5 0-.5-.2-.5 .6-.5-.2-.5 0-.5-.3-.5 .2-.5-.1-.5 .6-.5-.2-.5 .5-.5-.6-.5-.6-.5-1.1-.5-.2-.5 .3-.5 .2-.5 .6-.5-.3-.5 3-.5-1.3-.5 1.2-.5-.3-.5-.1-.5-.1-.5 .4-.5 .1-.5-.3-.5-.4-.5-.2-.5-1.1-.5 .4-.5-.4-.5-.4-.5 .2-.5-1.4-.5 .1-.5 .4-.5-.1-.5 .3-.5-.1-.5 .2-.5-.3-.5-.5-.5 0-.5-.1-.5 .4-.5 .5-.5 .4-.5 1.4-.5 .9-.5-1.2-.5-.2-.5 .7-.5 .9-.5-.2-.5-.3-.5-.3-.5 .6-.5-.7-.5-.1-.5-.4-.5 0-.5-.2-.5-.8-.5-.1-.5 .7-.5 .4-.5 1.2-.5-.9-.5 .1-.5-1.4-.5-.3-.5-.8-.5-.2-.5 0-.5 .6-.5-.2-.5 .4-.5-.4-.5-.4-.5 0-.5 0-.5 .4-.5 1.8-.5 .9-.5-.2-.5 .1-.5 .1-.5-.6-.5 .2-.5 .1-.5-.2-.5 .8-.5-.5-.5-.9-.5 0-.5-1.5-.5-.2-.5-.4-.5-.2-.5-.1-.5 .1-.5 .9-.5 .1-.5 .3-.5 0-.5 .5-.5 .7-.5-.3-.5 .5-.5 .4-.5 0-.5 .9-.5-.4-.5-.2-.5 .6-.5 .1-.5-1-.5 .6-.5-.1-.5-.2-.5-.1-.5-.7-.5-.6-.5 0-.5-.1-.5 .6-.5 .7-.5 .6-.5-.4-.5-1-.5-.7-.5 .9-.5 .1-.5-.8-.5-.7-.5-.5-.5-.2-.5 .1-.5 .5-.5-.1-.5-.4-.5 .2-.5 .1-.5 1.1-.5 .8-.5 1.9-.5 0-.5-.3-.5 .3-.5-.1-.5-.2-.5-.4-.5 .5-.5-.2-.5-.4-.5 .1-.5 .6-.5-1-.5-1.6-.5-.6-.5 .2-.5 1.1-.5 .2-.5 .8-.5 0-.5 1.5-.5-.8-.5-1.5-.5 .1-.5 0-.5-.3-.5-1-.5-.5-.5 1.1-.5 .7-.5-.1-.5-.9-.5 1.7-.5-.9-.5-.9-.5 .4-.5 .3-.5 .8-.5 .7-.5 0-.5-.2-.5-1.4-.5-1.1-.5 0-.5 .5-.5 0-.5 1.5-.5 1.2-.5 .4-.5 1.5-.5-1.1-.5 0-.5-.9-.5 .6-.5 1-.5 .3-.5-.4-.5-.2-.5-1.4-.5 1.2-.5-.7-.5-1.6-.5-.9-.5-.6-.5-1.1-.5 .4-.5 .6-.5 .1-.5 .1-.5 .4-.5 1.2-.5-.8-.5-.2-.5-.1-.5 0-.5-.3-.5 0-.5 .3-.5 .1-.5 .8-.5-.5-.5 .7-.5-.9-.5 .4-.5 .2-.5 0-.5 1.5-.5-.9-.5 .5-.5 .3-.5 .1-.5-.8-.5-.5-.5 .5-.5-.9-.5-.6-.5-.5-.5 .5-.5 0-.5 0-.5-.2-.5 .6-.5 1.3-.5 .5-.5 1-.5-1.7-.5 .9-.5 .6-.5-.2-.5-.5-.5 .7-.5-.4-.5 1.5-.5 1-.5-.3-.5 .1-.5 .3-.5-1-.5-.2-.5-1.4-.5-.1-.5-1.7-.5-.5-.5-.3-.5-.1-.5 2.1-.5 2.6-.5-.6-.5 .4-.5 .4-.5-.9-.5 1.7-.5 1.9-.5-.6-.5-2.4-.5 1.3-.5-.5-.5 .6-.5 .6-.5-1-.5-1.2-.5 0-.5-.4-.5-.6-.5-1.2-.5-1.6-.5-.3-.5 .4-.5 .4-.5-.7-.5 0-.5 .3-.5 1.8-.5 1.6-.5-2.3-.5-.8-.5-1.2-.5 .7-.5 2.7-.5 2.9-.5 .6-.5 .7-.5-.1-.5-.5-.5-1.8-.5 2.2-.5 .1-.5-2.8-.5-.6-.5-1.4-.5 .8-.5-.1-.5 1-.5 1.3-.5 .2-.5 1.4-.5-.6-.5-1.3-.5 1.7-.5-1.9-.5-.3-.5-.7-.5-1.6-.5 .1-.5 1-.5 .6-.5-.1-.5 1.9-.5-2.1-.5 1.1-.5-.7-.5 .4-.5 .1-.5-.2-.5 1.2-.5-1.1-.5-.9-.5 .3-.5-1.2-.5 1.4-.5-1-.5 1.8-.5 2.4-.5-.1-.5 .9-.5-2-.5-2.3-.5-.4-.5-2.5-.5 1.1-.5 1.3-.5 3.4-.5 2-.5 .2-.5 .1-.5 .9-.5-2.4-.5-.8-.5-.1-.5 2-.5-1.9-.5 1.2-.5 .5-.5 1-.5 1.5-.5-1.5-.5-.6-.5-1.5-.5-2.2-.5 .2-.5 .4-.5 .1-.5-.7-.5 1.5-.5-.6-.5 .6-.5 2.2-.5 .8-.5-1.7-.5 .8-.5 .7-.5-.3-.5-1.5-.5 .2z" fill="#0000ff" stroke="#0000ff" stroke-width="0.6" stroke-linejoin="round"/>
<path d="M66.3 126.7l.5 0 .5-.4 .5-.4 .5-.1 .5-.2 .5 .5 .5 .4 .5-.1 .5-.6 .5-.5 .5 0 .5-.1 .5 .2 .5-.1 .5 .1 .5 .3 .5-.5 .5-.4 .5-.2 .5-.6 .5-.6 .5 .4 .5-.2 .5 .8 .5 .4 .5 .6 .5-.1 .5-.8 .5-.1 .5-.5 .5 .1 .5-.4 .5 1.1 .5-.2 .5 .2 .5 0 .5-.4 .5 .2 .5-.4 .5-.5 .5-.1 .5 .3 .5-.1 .5 .2 .5 .2 .5 .5 .5-.3 .5-.6 .5-.1 .5-.1 .5 0 .5 0 .5 1 .5 .1 .5-.1 .5-.2 .5-.7 .5-.6 .5 .3 .5-.4 .5 .2 .5-.2 .5 .1 .5 .1 .5 .7 .5 .9 .5 .6 .5 .1 .5-.6 .5 .1 .5-.7 .5-.3 .5-.1 .5-.6 .5-.8 .5 0 .5 .5 .5 0 .5 .3 .5-.4 .5 0 .5-.2 .5-.2 .5 1 .5 .7 .5 .7 .5 .4 .5-.5 .5-.1 .5-.5 .5-.9 .5 .3 .5 1.3 .5 .8 .5 .2 .5-.5 .5-.2 .5-.8 .5 .4 .5 .1 .5-.5 .5-.6 .5-.9 .5-.5 .5-.6 .5 .9 .5 1.3 .5-.7 .5 .3 .5 .8 .5-.6 .5-.7 .5-.4 .5 0 .5 0 .5-.7 .5-.3 .5 1.3 .5 .2 .5 .2 .5-.1 .5-1.3 .5-1.1 .5 .1 .5 1.1 .5 .8 .5 1.7 .5-.7 .5-2.1 .5-.1 .5 .3 .5 1.1 .5 .7 .5 .3 .5 .5 .5 .1 .5-.2 .5 0 .5 0 .5 0 .5-.2 .5 .6 .5-.1 .5 .3 .5-.4 .5-1.2 .5-1.8 .5 .5 .5-1.8 .5-.4 .5-.1 .5 1 .5-.7 .5 2.3 .5 .3 .5 .4 .5-.4 .5-.4 .5 .2 .5-.5 .5-.4 .5 1.7 .5 .6 .5 1.3 .5 .1 .5-.9 .5-1.9 .5-1.6 .5-.5 .5 .9 .5-.8 .5-.1 .5 .5 .5 .7 .5-.5 .5-.5 .5-.8 .5 .3 .5 2 .5-.7 .5 0 .5 .8 .5 .3 .5 .5 .5 .7 .5 .1 .5-.3 .5 .1 .5 .7 .5 .3 .5 .3 .5-.5 .5 .2 .5-.1 .5 .1 .5-.7 .5-.1 .5-1.1 .5-.2 .5-.9 .5-.6 .5 .8 .5-.7 .5-.4 .5 .4 .5 .3 .5 1.6 .5 .6 .5 .1 .5-.6 .5-.5 .5 0 .5 .6 .5 .5 .5-.2 .5-.8 .5 .1 .5 .3 .5 1.5 .5 .7 .5 .5 .5-.1 .5-1 .5-.6 .5-.3 .5 .1 .5 .6 .5 .4 .5-.2 .5-.2 .5-.8 .5 .5 .5 .6 .5 1.1 .5 .1 .5-.2 .5 .1 .5-.3 .5-1 .5-.2 .5-.9 .5 .3 .5 .5 .5 .1 .5 .2 .5 .6 .5-.8 .5 .3 .5-.1 .5 .8 .5-.6 .5 .3 .5 .2 .5-.9 .5 .1 .5 .2 .5-.2 .5-.2 .5 .2 .5 .5 .5 .1 .5-.2 .5 .3 .5-1.1 .5-.4 .5 .3 .5 .2 .5-.1 .5-.3 .5-.2 .5 .7 .5 .4 .5-.5 .5-.2 .5 .3 .5 .1 .5 .4 .5-.4 .5 0 .5-.2 .5-.1 .5-.2 .5 0 .5 .2 .5-.1 .5 .4 .5 .2 .5-.1 .5 .6 .5 .4 .5 .1 .5 0 .5 .2 .5 .4 .5 .1 .5 .2 .5 0 .5-.4 .5-.5 .5-.9 .5-.1 .5-.1 .5 .4 .5 1 .5 .1 .5-.1 .5-.8 .5-.3 .5-.2 .5 .4 .5 .2 .5-1 .5-.5 .5-.3 .5 1.1 .5 1 .5 .5 .5 .2 .5-.3 .5-.3 .5-.9 .5-.1 .5 .5 .5 .5 .5 .5 .5 .2 .5-.4 .5-.5 .5-1.2 .5-.3 .5-.4 .5-.1 .5 1 .5 .2 .5-.2 .5 0 .5-.1 .5 .3 .5 0 .5 0 .5 .2 .5 0 .5 .1 .5-.2 .5-.4 .5-.4 .5 .4 .5 0 .5 .4 .5 .5 .5-.2 .5-.1 .5-.3 .5 .2 .5-.2 .5 0 .5 0 .5 0 .5-.7 .5 .5 .5 .1 .5-.2 .5 .3 .5-.1 .5-.2 .5 .2 .5-.4 .5 .3 .5 0 .5 .1 .5-.3 .5 .2 .5 0 .5 .6 .5 .2 .5 .3 .5 0 .5 0 .5 .3 .5 .5 .5 .1 .5-.1 .5-.4 .5-.5 .5-.4 .5-.2 .5 .1 .5-.2 .5 .6 .5-.1 .5 0 .5-.3 .5 .3 .5 .3 .5 .1 .5 .1 .5 0 .5-.1 .5 0 .5-.6 .5 0 .5-.2 .5 .1 .5 .2 .5-.3 .5 .5 .5-.5 .5 1 .5 .5 .5 .3 .5 .1 .5-.7 .5-.3 .5-.4 .5 0 .5-.1 .5 .2 .5-.1 .5 .4 .5 0 .5 .5 .5 .1 .5-.4 .5-.5 .5-.3 .5-.2 .5 0 .5-.1 .5 0 .5 .1 .5 .2 .5 .1 .5 .2 .5-.3 .5 .4 .5 .5 .5 0 .5 0 .5-.1 .5 .3 .5 .2 .5-.1 .5 .4 .5-.4 .5 0 .5 0 .5 .2 .5-.1 .5 .2 .5 .1 .5 0 .5 0 .5 0 .5 0 .5 0 .5 0 .5 0 .5-.1 .5-.4 .5-.4 .5-.7 .5-.8 .5-.3 .5 .3 .5 .5 .5 .5 .5 .1 .5 .4 .5 .1 .5 .3 .5-.2 .5-.1 .5-.2 .5-.3 .5 0 .5-.3 .5 .4 .5 .1 .5-.3 .5 .3 .5-.4 .5 .3 .5 .4 .5-.1 .5-.4 .5-.2 .5-.2 .5 0 .5-.3 .5 0 .5 .4 .5 .1 .5 .6 .5 .3 .5-.2 .5-.4 .5-.2 .5-.1 .5 .1 .5 .6 .5 .2 .5 0 .5 .1 .5-.5 .5 .2 .5 0 .5-.3 .5 .2 .5 0 .5 .2 .5 .6 .5 .1 .5-.1 .5-.1 .5-.1 .5-.3 .5-.3 .5-.4 .5 .2 .5 .3 .5 0 .5 .1 .5 .3 .5 .2 .5 .1 .5-.1 .5-.7 .5-.7 .5-.3 .5 .1 .5 0 .5 .3 .5-.1 .5-1.2 .5 .4 .5-.5 .5-.5 .5-.1 .5 .5 .5 0 .5 .5 .5 .3 .5 .5 .5-.1 .5-.2 .5-.2 .5 .5 .5 .5 .5 .4 .5-.1 .5-.1 .5-1 .5 .1 .5-.2 .5 .9 .5 .4 .5 0 .5-.2 .5-.2 .5-.2 .5 .1 .5 0 .5-.6 .5 .2 .5-.9 .5-1 .5 1.6 .5 0 .5 0 .5-.5 .5-.5 .5-.2 .5-.6 .5 0 .5 .6 .5-.1 .5 .3 .5-.2 .5-.5 .5 .9 .5-.6 .5 1 .5 .7 .5 .5 .5-.3 .5-.1 .5 0 .5 .3 .5-.2 .5-.3 .5-.7 .5-.1 .5 .1 .5 .1 .5-.2 .5-.2 .5-.4 .5 .6 .5 .3 .5 .3 .5 .2 .5 .4 .5 0 .5-1 .5-.3 .5 .2 .5 0 .5 .4 .5 1 .5 .5 .5 .4 .5-.1 .5-.1 .5 .1 .5-.4 .5-.1 .5-.1 .5 .1 .5 .1 .5 .2 .5 .4 .5 .1 .5 0 .5 0 .5-.2 .5-.1 .5 0 .5-.1 .5-.1 .5 .3 .5-.4 .5 0 .5-.2 .5-.2 .5-.2 .5 .2 .5 0 .5 .4 .5 .3 .5 .1 .5 .2 .5 0 .5 0 .5-.2 .5-.7 .5-.9 .5-.8 .5-.3 .5-.6 .5 0 .5-.1 .5 .9 .5 .6 .5 .9 .5 .1 .5 .2 .5-.7 .5 .4 .5 .2 .5 .6 .5-.3 .5-.5 .5-.1 .5-.9 .5-1 .5 0 .5 .8 .5-.3 .5 .3 .5-.3 .5 0 .5 .1 .5 .2 .5 .5 .5 0 .5 .1 .5-1.5 .5 .3 .5 .1 .5-.2 .5 0 .5 .4 .5 .6 .5-1 .5-.3 .5-.1 .5 1.2 .5-.1 .5-.3 .5-.2 .5 .5 .5 .7 .5 .7 .5 .4 .5-.1 .5-.1 .5-.2 .5 .4 .5 .2 .5 .1 .5 .1 .5-.1 .5-.5 .5-.3 .5-.3 .5 0 .5-.4 .5-.5 .5-.4 .5 .1 .5 .6 .5-.4 .5-.5 .5 .2 .5 .6 .5-.9 .5 .1 .5 .5 .5 .2 .5-.1 .5 .6 .5 .6 .5 .1 .5-.6 .5-1 .5 .1 .5 .4 .5-.1 .5-.3 .5-.4 .5 0 .5-.4 .5 .6 .5-.4 .5 .1 .5 .4 .5-.1 .5 .4 .5 1.4 .5 .4 .5 .2 .5-.2 .5 0 .5-.1 .5-.6 .5-.3 .5 0 .5 .1 .5 .2 .5-.3 .5-.7 .5-.1 .5-.1 .5 .8 .5-.1 .5-.6 .5 .4 .5 .3 .5 .6 .5 .9 .5 .1 .5 0 .5 0 .5 0 .5-.1 .5-.2 .5 0 .5 0 .5 .1 .5-.1 .5-.1 .5 0 .5-.2 .5-.1 .5 .2 .5 .2 .5 .2 .5 .1 .5 0 .5 0 .5-.5 .5-1.2 .5-.3 .5-.4 .5 .1 .5 .7 .5 .5 .5 0 .5-.3 .5 .1 .5 .1 .5 .4 .5 0 .5-.4 .5-.7 .5 .3 .5-.2 .5 0 .5 .2 .5 0 .5-.4 .5-.2 .5-.1 .5 .6 .5 .6 .5 .3 .5 .2 .5 .4 .5-.3 .5-.3 .5 0 .5 .1 .5 .2 .5 .2 .5-.2 .5-.4 .5 0 .5-.2 .5 .1 .5 .2 .5 .5 .5 .2 .5 .1 .5-.3 .5-.4 .5-.1 .5 0 .5 .5 .5 .1 .5 .1 .5-.3 .5-.3 .5-.4 .5 0 .5-.1 .5 .2 .5-.1 .5 .2 .5 0 .5 .2 .5 .3 .5-.3 .5 .2 .5-.3 .5 .1 .5-.5 .5-.5 .5-1.2 .5-.1 .5-.1 .5-.2 .5 .6 .5 .1 .5 .6 .5 .6 .5-.2 .5-.3 .5 .2 .5-.4 .5 .4 .5 .6 .5-.1 .5-.1 .5 .2 .5-.5 .5-.3 .5-1 .5 .1 .5 .3 .5-.3 .5-.3 .5 .4 .5-.1 .5 .5 .5-.1 .5 .4 .5 .4 .5 .4 .5-.1 .5-.2 .5 .4 .5-.2 .5 .1 .5 .2 .5 .2 .5 .3 .5 .3 .5 0 .5-.2 .5-.4 .5-.5 .5-.1 .5 0 .5 0 .5 0 .5-.2 .5 .2 .5-.5 .5 .3 .5-.5 .5 .5 .5-.3 .5-.3 .5-.3 .5 .9 .5 .1 .5 .3 .5-.4 .5-.2 .5 .2 .5-.1 .5 .3 .5 .1 .5-.4 .5-.1 .5-.6 .5-.1 .5-.5 .5 .3 .5 .2 .5 .3 .5 .6 .5 .4 .5 .6 .5 .1 .5-.4 .5-.4 .5-.1 .5 0 .5 .1 .5 .1 .5-.1 .5-.4 .5-.5 .5-.5 .5-.1 .5-.1 .5 .7 .5 .2 .5-.1 .5 .4 .5 .3 .5 .7 .5 .6 .5 0 .5-.1 .5-.4 .5-.7 .5-.3 .5 .6 .5-.3 .5-.4 .5-.2 .5 .5 .5-.3 .5-.2 .5 .8 .5 .2 .5 .1 .5-.2 .5-.2 .5-.4 .5 .1 .5 .5 .5-.2 .5 .1 .5 .1 .5 .2 .5 .3 .5 0 .5-.2 .5-.2 .5-.3 .5-.2 .5 .1 .5 .1 .5-.1 .5 0 .5 .4 .5-.2 .5-.3 .5-.5 .5-.4 .5-.4 .5 .5 .5 0 .5 .5 .5 .1 .5 .3 .5-.5 .5-.2 .5-.7 .5 .3 .5 .5 .5 .7 .5 .2 .5 .3 .5-.9 .5-.4 .5-.3 .5 0 .5 .1 .5 .3 .5 .4 .5 .7 .5 .3 .5-.3 .5-.4 .5-.2 .5-.6 .5-.3 .5 .5 .5 .4 .5 .6 .5 .2 .5 0 .5 .3 .5 .1 .5 0 .5-.5 .5-.9 .5-.4 .5 .1 .5 0 .5 .2 .5 .6 .5 .9 .5 .2 .5 0 .5 0 .5-.4 .5-.1 .5-.2 .5 0 .5 0 .5 0 .5 .1 .5-.3 .5-.3 .5-.2 .5 .2 .5-.1 .5 .1 .5 .3 .5 .7 .5 0 .5-.4 .5 0 .5-.2 .5-.5 .5 0 .5 .4 .5 .5 .5 .3 .5-.1 .5-.3 .5-.3 .5-.1 .5-.2 .5-.3 .5 0 .5 0 .5-.4 .5 .2 .5 .5 .5-.1 .5 .1 .5 0 .5-.2 .5-.6 .5 .7 .5 .5 .5 .2 .5 0 .5 0 .5-.1 .5-.1 .5 .1 .5 .1 .5-.1 .5 0 .5-.2 .5-.2 .5-.5 .5 .1 .5-.1 .5 .3 .5 0 .5 .3 .5 0 .5 .3 .5 0 .5 0 .5-.1 .5 .4 .5 .2 .5-.2 .5-.1 .5-.2 .5 .2 .5 .3 .5 .1 .5 0 .5 0 .5-.1 .5-.6 .5-.4 .5-.9 .5-.2 .5-.2 .5 .4 .5 .8 .5 .7 .5 0 .5 .2 .5-.3 .5-.8 .5-.3 .5 .2 .5 .4 .5 .4 .5 0 .5-.1 .5-.2 .5 0 .5-.3 .5 0 .5-.4 .5-.1 .5 .1 .5 0 .5 .1 .5 .2 .5 .6 .5-.3 .5-.8 .5 .1 .5-.4 .5 .4 .5 .2 .5-.2 .5 .3 .5 .1 .5-.2 .5 .1 .5 .4 .5-.1 .5 .2 .5 .1 .5-.5 .5-.1 .5 .2 .5 .4 .5-.1 .5 .2 .5-.2 .5 .4 .5 .1 .5 0 .5 .1 .5-.4 .5 0 .5-.4 .5 .2 .5-.1 .5-.1 .5 .1 .5-.3 .5 .1 .5-.3 .5 .2 .5 .4 .5-.6 .5 .2 .5 0 .5-.3 .5-.1 .5 .1 .5 .3 .5 .2 .5 .4 .5-.2 .5 .2 .5 .3 .5 0 .5 0 .5-.4 .5-.1 .5-.1 .5 .1 .5 .1 .5 0 .5 .3 .5 0 .5 .2 .5-.1 .5-.3 .5-.4 .5 0 .5 0 .5 .1 .5-.2 .5-.1 .5-.2 .5-.2 .5-.1 .5 .4 .5 .1 .5 .2 .5 .2 .5 .2 .5 .2 .5-.1 .5-.3 .5-.2 .5-.6 .5 0 .5 .1 .5 .2 0 4.7-.5 0-.5 0-.5-.1-.5-.6-.5-.5-.5-.1-.5 .1-.5-.2-.5 .2-.5 .1-.5 .2-.5 .6-.5-.4-.5 .2-.5 0-.5-.1-.5 .1-.5-.4-.5-.1-.5 .1-.5-.1-.5-.1-.5-.3-.5-.2-.5 .3-.5 0-.5 .1-.5 .3-.5-.2-.5 .5-.5-.4-.5-.1-.5-.2-.5-.1-.5 .1-.5 0-.5 .6-.5-.1-.5-.1-.5 .3-.5 .1-.5 .3-.5-.2-.5 .1-.5-.5-.5 .4-.5-.2-.5-.1-.5 0-.5-.1-.5-.2-.5-.1-.5 .2-.5 .2-.5-.1-.5-.2-.5-.2-.5-.1-.5-.4-.5 .1-.5 .2-.5 .1-.5 .1-.5 .2-.5 0-.5 .2-.5 .3-.5-.4-.5 .1-.5-.1-.5-.2-.5 .3-.5 0-.5 0-.5 .3-.5 .2-.5-.2-.5 .2-.5 .2-.5 .2-.5 .2-.5-.4-.5-.7-.5 0-.5 .1-.5-.1-.5 .4-.5 .1-.5 0-.5 0-.5-.1-.5-.2-.5-.4-.5 .2-.5-.5-.5 .2-.5-.1-.5-.2-.5 .3-.5 .7-.5 .1-.5 .1-.5-1.1-.5-.3-.5 0-.5 .2-.5 .4-.5 .8-.5 .4-.5 0-.5 .2-.5-1.1-.5-.4-.5-.8-.5-.1-.5 0-.5 0-.5 .1-.5 .4-.5-.1-.5-.1-.5 0-.5-.1-.5 .2-.5 .1-.5 0-.5 0-.5 .3-.5-.2-.5 .6-.5 .1-.5 0-.5 .1-.5 0-.5-.1-.5-.4-.5-.1-.5-.2-.5 0-.5 0-.5 0-.5 .2-.5-.1-.5 0-.5-.4-.5 .3-.5 .2-.5 .4-.5 .1-.5 .1-.5 0-.5-.2-.5-.1-.5 .3-.5 .1-.5 .2-.5-.1-.5-.4-.5 .2-.5-.1-.5-.1-.5-.4-.5-.2-.5-.2-.5-.1-.5 .2-.5 .2-.5 .6-.5 0-.5-.4-.5-.4-.5-.1-.5-.3-.5 .3-.5 .5-.5 .5-.5 0-.5 .4-.5-.3-.5-.3-.5-.4-.5-.2-.5 .1-.5-.1-.5 0-.5 .3-.5-.2-.5-.5-.5-.2-.5 0-.5 0-.5 .3-.5 .7-.5 .3-.5 .1-.5 .4-.5-.3-.5-.1-.5-.6-.5-.7-.5 0-.5 .1-.5 .2-.5 .4-.5 .3-.5 .2-.5 .9-.5-.5-.5 .7-.5-.8-.5-.8-.5-.1-.5 0-.5 .2-.5 .3-.5 .8-.5 .5-.5 .2-.5-.3-.5-.3-.5-.6-.5-.2-.5-.1-.5-.1-.5 .6-.5 .7-.5-.3-.5 .2-.5 0-.5-.7-.5-.3-.5 .1-.5 .5-.5 .5-.5 0-.5 0-.5-.5-.5-.5-.5-.2-.5-.2-.5 .4-.5 .1-.5-.2-.5 .1-.5-.2-.5 .1-.5-.3-.5-.2-.5-.2-.5 0-.5 .2-.5 .2-.5 0-.5 0-.5 .1-.5 0-.5 .5-.5-.4-.5-.4-.5 .1-.5 .1-.5 .3-.5-.1-.5 .7-.5 .1-.5-.1-.5-.2-.5-.1-.5-.7-.5 .3-.5 .1-.5-.5-.5-.5-.5-.2-.5 0-.5 .5-.5 .6-.5 .6-.5 .1-.5 .6-.5 0-.5-.1-.5 .1-.5 .1-.5 0-.5-.6-.5-.6-.5-.1-.5 .1-.5 .2-.5-.2-.5-.1-.5-.5-.5-.2-.5 .1-.5 .3-.5 .3-.5 .7-.5 .3-.5 .1-.5 .6-.5-.6-.5-.6-.5 .1-.5-.4-.5-.1-.5 0-.5 .3-.5 0-.5-.2-.5-.2-.5 0-.5 .4-.5 0-.5 .1-.5 .2-.5 .1-.5 .1-.5-.6-.5 .3-.5-.2-.5-.3-.5 0-.5 0-.5-.5-.5 .5-.5 .1-.5-.3-.5-.3-.5-.7-.5 0-.5 .1-.5 .5-.5 .2-.5 0-.5 .3-.5-.2-.5 .2-.5-.1-.5 .2-.5-.1-.5 .1-.5 .6-.5 .1-.5 .3-.5-.3-.5 .3-.5 .2-.5 .2-.5-.1-.5 0-.5 0-.5-.7-.5-.1-.5-.8-.5-.3-.5 .4-.5 0-.5 .4-.5 .4-.5-.3-.5-.1-.5-.3-.5 .1-.5 .7-.5 .5-.5 0-.5 .3-.5 .4-.5-.5-.5 .2-.5-1.1-.5-.6-.5-.6-.5-.1-.5 0-.5-.2-.5 .3-.5-.1-.5 .3-.5 .1-.5 .2-.5 .1-.5-.2-.5-.1-.5-.1-.5-.2-.5-.1-.5-.5-.5 .1-.5 .2-.5 .4-.5 .2-.5-.2-.5-.4-.5-.4-.5 0-.5 .4-.5 .6-.5-.1-.5 .1-.5 .3-.5-.2-.5-.5-.5-.2-.5 0-.5 .1-.5 0-.5 .7-.5-.5-.5-.4-.5 .2-.5 .5-.5-.1-.5 .7-.5 .6-.5 0-.5 .6-.5-1.3-.5 .1-.5-.3-.5 .6-.5-.1-.5-.2-.5-.3-.5-.4-.5-.1-.5 .4-.5 .3-.5-.1-.5 0-.5-.2-.5 .5-.5 .5-.5 .1-.5-.2-.5-.6-.5-.9-.5-.6-.5 0-.5 0-.5 .1-.5 .3-.5 .1-.5 .1-.5-.1-.5-.1-.5-.1-.5-.1-.5 .1-.5 .1-.5-.1-.5-.2-.5 0-.5-.1-.5 0-.5 0-.5 0-.5 .2-.5 .7-.5 .7-.5 .3-.5 .5-.5-.5-.5 0-.5 .2-.5 .4-.5-.2-.5-.4-.5-.7-.5 0-.5 .2-.5 0-.5-.4-.5-.3-.5 0-.5-.3-.5 .2-.5-.2-.5 1.1-.5 .7-.5 .6-.5-.3-.5 0-.5 .3-.5 .1-.5-.3-.5 .8-.5-.7-.5-.4-.5 0-.5 .2-.5 .1-.5-.3-.5-.6-.5-.9-.5 .4-.5 .4-.5 .3-.5 .3-.5 .6-.5 .1-.5 .3-.5-.5-.5 0-.5-.3-.5-.1-.5-.2-.5 .2-.5 .2-.5-.4-.5-.1-.5-.4-.5 .1-.5-.8-.5 0-.5-.6-.5 0-.5 .1-.5 .2-.5 0-.5 .1-.5 .2-.5 0-.5-.1-.5 .4-.5 .6-.5 .4-.5 .8-.5 .4-.5-.7-.5-.3-.5 .2-.5 .7-.5 .2-.5-1-.5-.5-.5 .8-.5 .7-.5-.5-.5 .5-.5-.5-.5-1.3-.5-.1-.5-.1-.5 .4-.5 .3-.5 .2-.5 0-.5 .1-.5 .6-.5-.2-.5 .2-.5 .2-.5-1.4-.5-.2-.5-.5-.5-.4-.5-.3-.5 .5-.5 .3-.5 .1-.5-.2-.5-.4-.5 .2-.5 1.1-.5 1.1-.5 .3-.5-.1-.5 .5-.5-.8-.5-.3-.5-1-.5-.8-.5-.9-.5-.1-.5 0-.5 0-.5 .1-.5 .3-.5 .4-.5 .2-.5 0-.5 0-.5 .1-.5-.3-.5 0-.5-.4-.5 .1-.5 .1-.5-.1-.5-.2-.5-.1-.5-.1-.5-.1-.5 0-.5 0-.5 .3-.5 .2-.5 .2-.5 .2-.5-.3-.5 .1-.5-.1-.5-.1-.5 0-.5-.2-.5-.1-.5 .4-.5 .7-.5 .4-.5 .5-.5 .5-.5 .2-.5-1-.5-.6-.5-.2-.5 .5-.5 .3-.5 .8-.5 .6-.5-.6-.5 .1-.5 .3-.5-.2-.5-.6-.5 .1-.5-.1-.5-.6-.5 0-.5-.1-.5-.4-.5 .5-.5-.1-.5-.4-.5 .2-.5 1.4-.5-.1-.5 .4-.5 0-.5-.1-.5 .4-.5-.5-.5 .7-.5-.4-.5 .7-.5-.7-.5-.8-.5-.5-.5 0-.5 .6-.5 .2-.5 .6-.5-.7-.5-.1-.5-.7-.5-.4-.5 0-.5 0-.5-.4-.5 0-.5-.3-.5 .1-.5 .4-.5 .8-.5 .4-.5-.7-.5-.7-.5-.4-.5 .1-.5 .8-.5 .3-.5 .3-.5-.1-.5-.6-.5 .4-.5 .2-.5 0-.5 1.2-.5 .2-.5-.5-.5-.1-.5 .4-.5-.4-.5-.3-.5-.6-.5-.3-.5-.1-.5 .5-.5-.2-.5-.4-.5-.6-.5-.4-.5-.1-.5 0-.5 0-.5 .4-.5 .2-.5 .1-.5 .4-.5-.1-.5-.5-.5-.2-.5-.2-.5-.2-.5-.2-.5 0-.5 .2-.5 .5-.5 .4-.5-.1-.5-.3-.5 .1-.5 .1-.5-.1-.5-.2-.5 .2-.5-.1-.5 .2-.5 .3-.5 .3-.5-.2-.5 0-.5-.3-.5-.3-.5 0-.5 .7-.5-.1-.5 .4-.5 .3-.5-.1-.5 .2-.5-.6-.5-.4-.5 .2-.5-.2-.5 0-.5 .2-.5 .3-.5-.6-.5 .1-.5 .3-.5 0-.5-.1-.5 .1-.5 0-.5-.2-.5-.5-.5-.3-.5 .2-.5 .5-.5 .1-.5 .1-.5 .8-.5 .3-.5 .7-.5-1-.5-.5-.5-.5-.5-.6-.5-.5-.5 0-.5 0-.5 0-.5 0-.5 0-.5 0-.5 0-.5 .1-.5 0-.5 .2-.5 .1-.5 0-.5 .1-.5-.2-.5-.2-.5 .1-.5 .2-.5 .2-.5 .2-.5 .1-.5-.2-.5-.1-.5 .5-.5 .1-.5 .2-.5-.1-.5 .2-.5 .2-.5 0-.5 .3-.5-.4-.5 .2-.5 0-.5-.3-.5-.9-.5-.3-.5 .1-.5 .4-.5 .3-.5 .3-.5 .1-.5-.1-.5 .2-.5-.3-.5 0-.5-.6-.5-.7-.5 0-.5 .4-.5 .8-.5 .5-.5 .6-.5-.6-.5-.2-.5-.1-.5 .2-.5 0-.5 0-.5-.2-.5-.6-.5 .1-.5 .2-.5 .2-.5-.1-.5 .1-.5 .5-.5-.2-.5 .3-.5-.1-.5-.1-.5 0-.5-.1-.5-.2-.5-.3-.5-.3-.5-.2-.5-.2-.5 .2-.5 .4-.5 0-.5 .2-.5 0-.5 .6-.5-.1-.5 .6-.5-.2-.5 .3-.5 0-.5 .1-.5-.6-.5 .4-.5-.3-.5-.1-.5 .3-.5 .1-.5-.1-.5 .2-.5-.3-.5-.3-.5 .3-.5 .1-.5 .1-.5 0-.5-.3-.5 .2-.5-.1-.5-.2-.5-.1-.5 .2-.5 .3-.5 .3-.5 .4-.5-.4-.5-.8-.5 0-.5 0-.5 .2-.5 .7-.5-.5-.5 .2-.5-.3-.5 .4-.5-.3-.5 .4-.5 .3-.5 .3-.5-.2-.5 .5-.5-1.5-.5-.7-.5-.6-.5-.2-.5 .2-.5 .1-.5 .5-.5 .8-.5-.3-.5-.6-.5-.3-.5-.3-.5 .1-.5 .5-.5 1.2-.5 1.2-.5-.1-.5-1.1-.5-.6-.5-.1-.5-.2-.5 .5-.5-.5-.5-.5-.5-.3-.5 .1-.5 .8-.5 .4-.5-.2-.5 .2-.5-.7-.5-.9-.5-.2-.5 .1-.5 0-.5 .2-.5 .6-.5 0-.5 0-.5-.1-.5 .6-.5 .3-.5 .5-.5 .4-.5 .2-.5-.1-.5-.4-.5 .1-.5 .4-.5-.5-.5-.4-.5-.1-.5 .1-.5-.4-.5 .6-.5 .3-.5-.3-.5 0-.5 .4-.5-.1-.5 .1-.5 .4-.5-.3-.5 .4-.5-.1-.5-1.2-.5-.7-.5 .3-.5 .4-.5-.1-.5 .1-.5 .3-.5 .3-.5-.5-.5 .1-.5-.3-.5-.2-.5-.3-.5 .3-.5 .2-.5-.2-.5 .7-.5 .1-.5-.2-.5 .1-.5-.3-.5 .3-.5 .5-.5-.2-.5-.4-.5-.4-.5-.4-.5-.6-.5-.2-.5 .3-.5-.1-.5 1.1-.5 .1-.5 .5-.5 .1-.5-.8-.5 .5-.5 .1-.5 .3-.5 .6-.5-.1-.5-1.1-.5-1.2-.5 .1-.5 .1-.5 .9-.5 1.6-.5 .7-.5-.2-.5-.8-.5-.6-.5 .4-.5 1.4-.5-1.1-.5-.1-.5-.5-.5 1.1-.5-.3-.5 .9-.5 1.5-.5 .5-.5-1.4-.5-.1-.5 .1-.5 1.3-.5-2.3-.5-.9-.5-.8-.5 .4-.5-.5-.5-.1-.5 .5-.5-.6-.5 0-.5 .5-.5-.1-.5 .4-.5 0-.5 .2-.5 .2-.5-.3-.5 .9-.5 .2-.5 .5-.5 0-.5-.2-.5 2.2-.5-.7-.5-1.2-.5 .5-.5 0-.5 0-.5 .5-.5-.2-.5-.3-.5 .3-.5 1-.5-1.4-.5-2.7-.5-1.1-.5 1-.5 .8-.5 .3-.5 1.3-.5 .6-.5-.5-.5-.4-.5-.1-.5-.2-.5-1-.5 1.2-.5 2-.5 .3-.5 .1-.5-.2-.5-.3-.5-.1-.5-1.4-.5-.6-.5-2.2-.5-.5-.5 .4-.5 .4-.5 .1-.5 .3-.5-.7-.5 .3-.5 .1-.5 0-.5-.1-.5-.2-.5 .5-.5 .7-.5 1.8-.5 .7-.5-2.2-.5-.5-.5-.8-.5 1.3-.5 1.1-.5 .6-.5 .4-.5-1.2-.5-1.2-.5 .2-.5 0-.5 1-.5-.4-.5 .8-.5-1.3-.5 1-.5-1.1-.5 .6-.5-1.3-.5 .3-.5 .3-.5-.5-.5 .2-.5 .5-.5 1.7-.5-.2-.5-1.3-.5-1-.5-.6-.5-.2-.5 .3-.5 .3-.5-.7-.5-.4-.5-.8-.5 .5-.5 .7-.5 1.1-.5 .4-.5-.6-.5-.2-.5-.3-.5-.1-.5 0-.5 .3-.5 1-.5 1.2-.5-.2-.5-.6-.5 .1-.5-.1-.5 .1-.5 0-.5 .3-.5-.6-.5-.2-.5-.2-.5-.4-.5-.8-.5 .2-.5-.7-.5-.1-.5 .1-.5 .2-.5 .5-.5 2.2-.5-.1-.5-.2-.5-.1-.5 .9-.5-.7-.5-.7-.5-.2-.5-.9-.5-.6-.5 .3-.5 .5-.5 .6-.5-.1-.5 .2-.5 .2-.5-.3-.5-.7-.5 0-.5-.3-.5 .4-.5 .2-.5 .8-.5-1.2-.5 0-.5 .4-.5-.2-.5-.2-.5-.5-.5 .4-.5-.3-.5 .4-.5 .1-.5 0-.5-.2-.5-.1-.5-.7-.5 .2-.5-.5-.5 .6-.5 .6-.5 .5-.5 .2-.5 .1-.5-.7-.5-.4-.5 0-.5-.4-.5-.3-.5-.3-.5-.2-.5 .3-.5 .3-.5-.2-.5 .1-.5-.6-.5-.4-.5-.2-.5 .4-.5 .2-.5 .3-.5-.2-.5-.5-.5-.4-.5 0z" fill="#0000ff" stroke="#0000ff" stroke-width="0.6" stroke-linejoin="round"/>
<path d="M66.3 124.9l.4 4.7 .4-4.3 .5 4.2 .4-4.7 .4 4.8 .4-4.8 .4 4.4 .5-3.9 .4 4.6 .4-4.7 .4 3.7 .4-4 .5 4.2 .4-3.8 .4 4.8 .4-5.3 .4 5.3 .5-6.2 .4 5.8 .4-6.8 .4 8.6 .4-8.7 .5 8.8 .4-9.6 .4 11.4 .4-11.6 .4 9.7 .5-9.3 .4 10.1 .4-8.9 .4 8.9 .4-9.7 .5 9.2 .4-9 .4 9.6 .4-10.1 .4 9.3 .5-8.4 .4 9.1 .4-9.3 .4 9.1 .4-10.9 .5 11.5 .4-9.2 .4 7.4 .4-9.6 .4 12.5 .5-11 .4 8.8 .4-9.1 .4 9.9 .4-9.6 .5 9.5 .4-10.7 .4 10.6 .4-10.5 .4 10.3 .5-10.4 .4 11.1 .4-9.2 .4 8.6 .4-11.4 .5 11.3 .4-10.4 .4 9.7 .4-8.1 .4 9.2 .5-9.2 .4 9.3 .4-10.7 .4 10.7 .4-12.4 .5 13.2 .4-12.7 .4 12.5 .4-11.4 .4 13 .5-12.6 .4 10.5 .4-11.4 .4 12.1 .4-11.8 .5 10.2 .4-9.1 .4 10.4 .4-11.2 .4 11.2 .5-12.7 .4 13.2 .4-12.5 .4 11.8 .4-8.9 .5 8 .4-9.4 .4 10.2 .4-11 .4 10.8 .5-13.4 .4 14.2 .4-12 .4 11.7 .4-10.7 .5 10.2 .4-10.1 .4 9.2 .4-10 .4 12.7 .5-12.2 .4 10.2 .4-9.4 .4 10.3 .4-11.2 .5 9.2 .4-7.5 .4 6.9 .4-6.7 .4 6.5 .5-8 .4 10.1 .4-12.6 .4 16.3 .4-15.4 .5 16.4 .4-19.1 .4 16.1 .4-17.7 .4 19.4 .5-16.6 .4 19 .4-20 .4 20 .4-20.8 .5 17.6 .4-13.7 .4 13.7 .4-14.9 .4 12.8 .5-14.2 .4 15.4 .4-16.1 .4 16.9 .4-16 .5 18.5 .4-21.1 .4 20.3 .4-18.9 .4 16.6 .5-17.5 .4 20.9 .4-20.5 .4 17.2 .4-12.2 .5 9.4 .4-10.3 .4 11.7 .4-12.1 .4 14.8 .5-15.7 .4 16.7 .4-18.9 .4 19 .4-17.9 .5 16.8 .4-15.2 .4 12.9 .4-10.5 .4 9.2 .5-9.7 .4 9.1 .4-8.9 .4 9 .4-11.8 .5 16 .4-19.5 .4 19.5 .4-15.2 .4 13 .5-11 .4 9.3 .4-13 .4 15 .4-15.1 .5 15.9 .4-19.3 .4 21.2 .4-19.7 .4 22 .5-19.2 .4 16.3 .4-17.6 .4 17.8 .4-18.1 .5 19.3 .4-21.2 .4 18.8 .4-17.6 .4 17 .5-16.3 .4 16.9 .4-16 .4 18.3 .4-17.1 .5 16.2 .4-18 .4 17.4 .4-17 .4 14.4 .5-12.4 .4 13.5 .4-15.7 .4 17.9 .4-18.4 .5 17.3 .4-18.7 .4 18.6 .4-16.1 .4 15.5 .5-14.3 .4 12.7 .4-11.8 .4 12.6 .4-14.3 .5 14.4 .4-15.7 .4 15.3 .4-13.5 .4 12.1 .5-10.9 .4 12.4 .4-12.2 .4 14.3 .4-16.6 .5 15.7 .4-13.7 .4 12.1 .4-12.2 .4 10.8 .5-11.7 .4 12.7 .4-12.7 .4 13.7 .4-11.9 .5 10.8 .4-10.7 .4 12.3 .4-16.1 .4 18.3 .5-16.7 .4 16.4 .4-17.3 .4 14.1 .4-12 .5 11.2 .4-12.2 .4 15 .4-14.8 .4 14.2 .5-14.4 .4 16.8 .4-19 .4 17.2 .4-15.8 .5 14.7 .4-13.1 .4 15.3 .4-18.7 .4 20.3 .5-19.6 .4 15.9 .4-16.3 .4 18.3 .4-14.7 .5 10.7 .4-10 .4 9.5 .4-9.6 .4 11.4 .5-10.8 .4 10.5 .4-11.4 .4 11.1 .4-18.1 .5 23.8 .4-16.7 .4 11.9 .4-13.8 .4 13.3 .5-12 .4 12.1 .4-10.6 .4 10.1 .4-11.3 .5 11 .4-10.7 .4 9.9 .4-10.1 .4 10.1 .5-11.5 .4 11.8 .4-11 .4 11.4 .4-9.9 .5 9.1 .4-10.2 .4 9.8 .4-9.5 .4 9.1 .5-8.6 .4 9.2 .4-7.8 .4 8.4 .4-8.9 .5 9.7 .4-10.4 .4 9.5 .4-8.7 .4 7.9 .5-6.4 .4 5.6 .4-6.5 .4 7.8 .4-8.4 .5 7.8 .4-7.2 .4 6.5 .4-7.4 .4 8.3 .5-8.6 .4 10.2 .4-11.5 .4 11.4 .4-11.1 .5 11.5 .4-10.7 .4 11 .4-12.3 .4 12.2 .5-10 .4 9.3 .4-11.3 .4 10.2 .4-8.7 .5 8.6 .4-7.5 .4 6.8 .4-6.3 .4 6.2 .5-6.5 .4 6.5 .4-8 .4 7.9 .4-8.9 .5 11.4 .4-11.8 .4 10.6 .4-9.5 .4 10.7 .5-12.1 .4 11.6 .4-11.4 .4 11.4 .4-9.9 .5 10.4 .4-10.4 .4 10.1 .4-11.4 .4 9.8 .5-8.3 .4 8.8 .4-9.6 .4 10.8 .4-10.2 .5 10.6 .4-11.1 .4 9.1 .4-9.1 .4 9.1 .5-9.2 .4 10.8 .4-11.6 .4 12.1 .4-11.9 .5 10.9 .4-10 .4 7.7 .4-6.3 .4 7.2 .5-6.6 .4 5.3 .4-4.6 .4 4.5 .4-5.9 .5 7.4 .4-7.3 .4 7.5 .4-7.3 .4 8.3 .5-9.2 .4 8.6 .4-9.2 .4 10 .4-10.5 .5 10.3 .4-9 .4 8.6 .4-8.3 .4 6.9 .5-7.1 .4 9.2 .4-9.1 .4 8.4 .4-8.5 .5 8 .4-7.6 .4 7.2 .4-10 .4 10.8 .5-10 .4 9.5 .4-7.4 .4 6.9 .4-8 .5 8.5 .4-8.9 .4 11.4 .4-10.7 .4 10.5 .5-12.6 .4 12.5 .4-12.5 .4 11.8 .4-11.8 .5 10.4 .4-8.2 .4 7.6 .4-7.5 .4 8.6 .5-8.6 .4 8.5 .4-9.3 .4 10.1 .4-9.8 .5 8.5 .4-7.2 .4 7.6 .4-8 .4 7.3 .5-6.5 .4 5.9 .4-5.9 .4 5.5 .4-5.4 .5 5.6 .4-7.1 .4 7 .4-6.3 .4 6.4 .5-5.8 .4 6.1 .4-6.1 .4 5.5 .4-5.5 .5 5.9 .4-5.2 .4 5.5 .4-6 .4 5.2 .5-6.2 .4 7.6 .4-7 .4 6.4 .4-7.4 .5 8 .4-6.9 .4 6.1 .4-6.2 .4 6.9 .5-7.2 .4 6.6 .4-6.5 .4 5.6 .4-4.2 .5 4.1 .4-4.4 .4 5.4 .4-6.1 .4 5.4 .5-6.2 .4 7.8 .4-7.6 .4 7.3 .4-7.7 .5 7.5 .4-6.6 .4 6 .4-6.6 .4 6.3 .5-6.7 .4 7.6 .4-7.7 .4 7.2 .4-6.3 .5 6.2 .4-5.2 .4 3.8 .4-4.2 .4 4.8 .5-4.7 .4 5.4 .4-5.2 .4 5.4 .4-6.1 .5 5.7 .4-5 .4 4.2 .4-3.7 .4 3.8 .5-5.1 .4 6.1 .4-5.1 .4 4.1 .4-4.1 .5 4.1 .4-4.3 .4 4.5 .4-4.8 .4 4.7 .5-3.9 .4 3.8 .4-4.6 .4 4.5 .4-3.5 .5 3.2 .4-3.5 .4 4 .4-4.3 .4 4.1 .5-3.4 .4 3.2 .4-4 .4 4.2 .4-4.3 .5 4.3 .4-3.7 .4 3.8 .4-4.4 .4 5.1 .5-6.2 .4 6.9 .4-7.7 .4 7.8 .4-7.6 .5 7.9 .4-6.9 .4 7.2 .4-9.2 .4 9.5 .5-7.9 .4 7.3 .4-7.4 .4 8.3 .4-9.2 .5 7.6 .4-6.6 .4 8.4 .4-9.6 .4 9.1 .5-7.3 .4 5.3 .4-4.3 .4 5 .4-6.7 .5 7.8 .4-8.2 .4 7.7 .4-8.3 .4 9.4 .5-9.8 .4 9.4 .4-9 .4 8.4 .4-7.1 .5 5.4 .4-4.5 .4 4.5 .4-4 .4 3.5 .5-3.6 .4 3.4 .4-2.9 .4 3.8 .4-4.3 .5 3.7 .4-3.2 .4 3.3 .4-4.4 .4 5.5 .5-5 .4 4 .4-4 .4 4.2 .4-3.8 .5 3 .4-3.6 .4 4.3 .4-5.2 .4 6.2 .5-5.8 .4 5.8 .4-5.3 .4 4.3 .4-5.1 .5 5.2 .4-4.6 .4 5.2 .4-5.1 .4 5.2 .5-4.8 .4 3.5 .4-3.6 .4 12.1 .4-19 .5 11 .4-4.3 .4 4.9 .4-4.8 .4 4.1 .5-3.1 .4 2.9 .4-4.1 .4 5.3 .4-6.1 .5 6.4 .4-7 .4 6.9 .4-6.2 .4 7.1 .5-7.4 .4 9.4 .4-10.2 .4 9.9 .4-9.5 .5 7.9 .4-7.7 .4 7.2 .4-7.9 .4 7.6 .5-6.7 .4 6.5 .4-7 .4 7.4 .4-6.6 .5 6.8 .4-8.9 .4 10 .4-10.4 .4 10.2 .5-10 .4 11.1 .4-11.3 .4 10.9 .4-10.1 .5 10.1 .4-10.2 .4 8.2 .4-6.4 .4 6.2 .5-6.8 .4 8 .4-8.2 .4 7.7 .4-6.9 .5 6 .4-5.7 .4 5.3 .4-4.8 .4 4.7 .5-4.8 .4 4.9 .4-5.5 .4 5.3 .4-5.6 .5 6 .4-5.1 .4 5.3 .4-6.1 .4 5.6 .5-6.7 .4 9.1 .4-8.3 .4 8.4 .4-8.6 .5 8.1 .4-8.1 .4 6.7 .4-6.9 .4 8.1 .5-8.3 .4 7.1 .4-6.8 .4 9.4 .4-11.2 .5 11.4 .4-11.1 .4 9.3 .4-10.1 .4 11.3 .5-10.1 .4 10.2 .4-9.9 .4 8.8 .4-9.2 .5 8.5 .4-6.7 .4 6.3 .4-6.5 .4 6.8 .5-7.8 .4 9.9 .4-11.7 .4 10.4 .4-9.4 .5 10.9 .4-10.1 .4 8.3 .4-6.2 .4 4.7 .5-4.3 .4 3.7 .4-3.8 .4 4.3 .4-4.3 .5 3.7 .4-4.3 .4 4.8 .4-4.1 .4 3.9 .5-3.9 .4 3.6 .4-3.2 .4 3.2 .4-4.1 .5 4.9 .4-4.3 .4 3.9 .4-3.9 .4 3.8 .5-3.7 .4 3.3 .4-2.9 .4 2.6 .4-3.2 .5 3.5 .4-3.8 .4 4.5 .4-4 .4 3.4 .5-4 .4 4.2 .4-3.8 .4 3.6 .4-3.1 .5 3.4 .4-4.2 .4 4.7 .4-4.8 .4 4.4 .5-5.4 .4 7.8 .4-8.9 .4 8.4 .4-7.5 .5 7.5 .4-7.6 .4 7.3 .4-6.8 .4 6.9 .5-8.1 .4 10 .4-10.9 .4 11.2 .4-11.5 .5 11.2 .4-12 .4 11.4 .4-9.8 .4 9 .5-8.3 .4 8.7 .4-10.4 .4 12.5 .4-11.8 .5 11.2 .4-12.1 .4 11 .4-10.1 .4 9.3 .5-8.6 .4 8.3 .4-8.3 .4 9.5 .4-10.2 .5 11.4 .4-10.6 .4 9.9 .4-9.6 .4 8.7 .5-10 .4 10.7 .4-12.1 .4 11.1 .4-10.3 .5 10.6 .4-9.3 .4 10.9 .4-12.1 .4 10.1 .5-9.8 .4 9.9 .4-9.1 .4 9.7 .4-9.3 .5 7.7 .4-5.7 .4 3.9 .4-3.1 .4 3.3 .5-4.1 .4 4.4 .4-4.3 .4 3.7 .4-3.1 .5 3 .4-3.3 .4 4.2 .4-5.6 .4 6.2 .5-6.6 .4 8.5 .4-9.5 .4 9.4 .4-8.7 .5 8 .4-8 .4 6.9 .4-6.2 .4 6.4 .5-5.9 .4 5.8 .4-7 .4 8.1 .4-8.3 .5 9.6 .4-10.7 .4 10.2 .4-9 .4 8.2 .5-8.1 .4 7.1 .4-6.3 .4 6.4 .4-6.9 .5 6.4 .4-5.2 .4 5.5 .4-6.5 .4 6.5 .5-5.8 .4 5.9 .4-6.2 .4 6.4 .4-7.5 .5 8.2 .4-7.6 .4 6.6 .4-6.6 .4 7.1 .5-7.6 .4 8.1 .4-9.3 .4 9.9 .4-8.4 .5 7.1 .4-8.1 .4 9.6 .4-8.8 .4 8 .5-9.6 .4 9.3 .4-9.6 .4 11.5 .4-10.6 .5 10.5 .4-11.4 .4 10.5 .4-8.2 .4 7.8 .5-8.3 .4 8.1 .4-7.2 .4 6.9 .4-7.3 .5 6.5 .4-6.1 .4 5.6 .4-3.9 .4 3 .5-3.2 .4 3.3 .4-3.4 .4 3.5 .4-3.5 .5 3.2 .4-3 .4 3.1 .4-2.9 .4 2.2 .5-1.9 .4 2.5 .4-3.3 .4 3.8 .4-3.7 .5 3.2 .4-2.9 .4 3.1 .4-3.3 .4 3.8 .5-4 .4 3.3 .4-3.5 .4 3.7 .4-4.3 .5 5.1 .4-6.2 .4 8.4 .4-9.1 .4 9.2 .5-8.7 .4 7 .4-6.2 .4 6.2 .4-6.5 .5 7.4 .4-8.6 .4 8.1 .4-8.2 .4 9.5 .5-9.8 .4 8.4 .4-8.4 .4 9.6 .4-8 .5 7.8 .4-7.6 .4 6.1 .4-6.6 .4 7.1 .5-6.4 .4 5.9 .4-6.4 .4 6.7 .4-5.9 .5 4.5 .4-3.3 .4 3.1 .4-2.5 .4 2.2 .5-2.3 .4 2.8 .4-3.8 .4 4.4 .4-4.8 .5 5.1 .4-4.7 .4 3.7 .4-3.4 .4 2.8 .5-2.5 .4 3.1 .4-3.6 .4 3.6 .4-4.1 .5 4.9 .4-4.2 .4 3.5 .4-3.6 .4 3.7 .5-4.4 .4 4.4 .4-3.6 .4 3.9 .4-3.4 .5 2.4 .4-3.2 .4 3.5 .4-3.7 .4 4.1 .5-3.9 .4 3.9 .4-4.3 .4 5.1 .4-4.6 .5 3.6 .4-3.6 .4 3.3 .4-2.8 .4 3.1 .5-4.2 .4 5.4 .4-6.8 .4 10 .4-10.8 .5 10.1 .4-11.1 .4 9.7 .4-9.2 .4 9.5 .5-9 .4 9.1 .4-10.4 .4 11.7 .4-10.1 .5 9.3 .4-10.4 .4 11 .4-9 .4 6.8 .5-7.1 .4 8.5 .4-10.7 .4 11.2 .4-9.5 .5 9 .4-9.2 .4 8.6 .4-8.2 .4 7.8 .5-7.5 .4 8.7 .4-8.9 .4 7.9 .4-7.9 .5 7.1 .4-6.4 .4 6.1 .4-4.7 .4 4.6 .5-6 .4 6.3 .4-5.5 .4 4.4 .4-3.6 .5 3.7 .4-4.1 .4 3.9 .4-9.8 .4 15.2 .5-10.1 .4 5.8 .4-5.9 .4 5.4 .4-5.7 .5 6.7 .4-7.4 .4 7.2 .4-7 .4 7 .5-7.1 .4 7.9 .4-8 .4 8.7 .4-8.7 .5 7 .4-6.7 .4 6.7 .4-7.7 .4 8.6 .5-8 .4 9 .4-9.9 .4 8.5 .4-7.9 .5 8.7 .4-7.4 .4 5.7 .4-4.9 .4 4.9 .5-6.7 .4 7.3 .4-5.9 .4 6.5 .4-8 .5 9.6 .4-10.4 .4 9.7 .4-9 .4 8.9 .5-8.3 .4 7.4 .4-8.6 .4 9 .4-8.2 .5 7.8 .4-7.5 .4 7.7 .4-8.3 .4 9.3 .5-9.1 .4 8.7 .4-9.8 .4 8.8 .4-6.2 .5 5.1 .4-5.4 .4 6.1 .4-6.8 .4 7 .5-6.9 .4 7.8 .4-8.5 .4 8 .4-7.6 .5 8.1 .4-8.2 .4 7.2 .4-7.9 .4 8.2 .5-7 .4 7.6 .4-8.4 .4 8.2 .4-7.4 .5 7.4 .4-8.1 .4 8.4 .4-9.6 .4 8.7 .5-6.7 .4 7.2 .4-7.4 .4 6.5 .4-6.1 .5 7.3 .4-8.5 .4 8 .4-6 .4 5.6 .5-5.5 .4 4.9 .4-4.7 .4 4.8 .4-5 .5 4.8 .4-4.7 .4 4.4 .4-5.2 .4 5.5 .5-5.4 .4 5.2 .4-4.2 .4 4.6 .4-5.1 .5 4.4 .4-4 .4 4.8 .4-5 .4 5.3 .5-5.8 .4 6.6 .4-8.1 .4 8.8 .4-8.7 .5 7.8 .4-8.2 .4 8.1 .4-8.5 .4 10.1 .5-8.7 .4 7.2 .4-9 .4 10.5 .4-10.6 .5 10.7 .4-8.7 .4 7.8 .4-7.5 .4 5.7 .5-4.4 .4 4.8 .4-5.3 .4 5 .4-6.1 .5 6.1 .4-5.5 .4 5.6 .4-6.2 .4 8 .5-9.6 .4 9.1 .4-6.6 .4 5.1 .4-5.6 .5 5.9 .4-7.3 .4 8.2 .4-8.6 .4 9.8 .5-10.4 .4 9 .4-7 .4 6.9 .4-6.9 .5 6.6 .4-6.9 .4 7.4 .4-8.2 .4 8.8 .5-7.6 .4 7.9 .4-9.2 .4 8.7 .4-6.9 .5 6 .4-5.9 .4 4.9 .4-4.5 .4 5 .5-5 .4 4.7 .4-6 .4 6.5 .4-5.7 .5 5.2 .4-4.7 .4 5.6 .4-6.5 .4 5.7 .5-4.5 .4 3.2 .4-3 .4 3.8 .4-4.4 .5 4.4 .4-4.2 .4 4.3 .4-4.5 .4 4.4 .5-4.2 .4 4.9 .4-4.6 .4 4.4 .4-5.6 .5 5.8 .4-5.1 .4 5.4 .4-6.4 .4 6 .5-5.4 .4 5 .4-5.3 .4 5.4 .4-5.2 .5 5.7 .4-5.5 .4 5.4 .4-5.5 .4 4.8 .5-3.9 .4 3.7 .4-4.1 .4 4.2 .4-4.3 .5 4.4 .4-3.6 .4 3.3 .4-4.2 .4 5.3 .5-6.2 .4 6 .4-4.9 .4 5.3 .4-5.6 .5 5 .4-4.9 .4 5.3 .4-5.3 .4 4.8 .5-5.6 .4 6.2 .4-6.1 .4 6.3 .4-5.1 .5 4 .4-4 .4 4.7 .4-4.9 .4 5 .5-5.7 .4 6.2 .4-6.5 .4 6.6 .4-5.9 .5 5.6 .4-5.2 .4 5 .4-5.5 .4 4.5 .5-4.5 .4 4.6 .4-3.3 .4 2.9 .4-3.4 .5 3.6 .4-3.5 .4 3.8 .4-4.2 .4 5.4 .5-7.6 .4 7.9 .4-7.4 .4 6.8 .4-5.6 .5 6.6 .4-7.3 .4 6.5 .4-7.3 .4 7.4 .5-6.7 .4 6.5 .4-10.1 .4 13.3 .4-9.6 .5 5.6 .4-4.8 .4 5.8 .4-6.5 .4 7.7 .5-7.9 .4 6.7 .4-7 .4 7.7 .4-6.6 .5 5.1 .4-4.1 .4 4.1 .4-5.3 .4 5.6 .5-4.6 .4 3.9 .4-4 .4 5 .4-6.1 .5 6.6 .4-6.6 .4 5.4 .4-4.5 .4 3.8 .5-4.4 .4 6.3 .4-7 .4 7.3 .4-6.8 .5 6.9 .4-6.8 .4 4.6 .4-3.5 .4 3.6 .5-4.7 .4 6.3 .4-6.3 .4 6.6 .4-7.5 .5 7.5 .4-6.5 .4 5.4 .4-5.3 .4 5.7 .5-5.9 .4 6.3 .4-6.6 .4 6.3 .4-6.9 .5 6.4 .4-5.8 .4 6.2 .4-6.6 .4 6.3 .5-5.9 .4 7 .4-6.7 .4 5.8 .4-5.4 .5 5.6 .4-5.7 .4 5.5 .4-5.5 .4 6 .5-6.5 .4 5.3 .4-5.1 .4 5.4 .4-5.3 .5 5.6 .4-5.6 .4 6.1 .4-6.7 .4 7.4 .5-6.8 .4 6 .4-6 .4 5.5 .4-5.8 .5 5.8 .4-5.4 .4 5.1 .4-5.4 .4 5.4 .5-5.6 .4 6.1 .4-5.5 .4 4.8 .4-4.6 .5 5.4 .4-6.6 .4 6.1 .4-5.5 .4 5.1 .5-4.6 .4 5.3 .4-4.9 .4 3.9 .4-4.2 .5 5 .4-5.2 .4 4.5 .4-4.9 .4 5.5 .5-5.2 .4 6.3 .4-7.5 .4 6.5 .4-5.1 .5 3.9 .4-3.1 .4 3 .4-3.3 .4 3.6 .5-4 .4 4.4 .4-4 .4 4" fill="none" stroke="#0000ff" stroke-width="0.9" stroke-linejoin="round"/>
<path d="M66.5 181.6l.4-.2 .5-.4 .4-.8 .4-1 .4-1.2 .4-1.5 .5-1.5 .4-1.6 .4-1.6 .5-1.5 .4-1.5 .4-1.2 .4-1 .4-.8 .5-.4 .4-.2 .4 .3 .4 .8 .4 1.2 .4 1.8 .4 2 .4 2.4 .4 2.5 .5 2.5 .4 2.5 .4 2.4 .4 2 .4 1.8 .4 1.2 .4 .8 .4 .3 .4-.3 .4-.8 .5-1.3 .4-1.7 .4-1.9 .5-2.1 .4-2.2 .4-1.9 .4-1.7 .4-1.3 .5-.8 .4-.3 .4-.1 .4-.2 .5-.2 .4-.2 .4-.1 .4 0 .4 0 .4-.1 .4-.1 .4 0 .4-.1 .4-.1 .5-.2 .4-.1 .4-.1 .4 0 .4-.1 .4-.1 .4 0 .4 0 .5-.4 .4-1 .4-1.1 .5-.4 .4 .8 .4 2.1 .4 3.3 .5 3.8 .4 3.8 .4 3.3 .4 2.1 .4 .8 .4-.1 .4-.2 .5-.3 .4-.5 .4-.5 .5-.5 .4-.5 .4-.5 .4-.5 .5-.3 .4-.2 .4-.1 .4-.1 .4-.3 .4-.5 .4-.7 .5-.9 .4-1 .4-1.1 .4-1.2 .4-1.3 .4-1.3 .4-1.3 .4-1.3 .4-1.2 .4-1.1 .4-1 .5-.9 .4-.7 .4-.5 .4-.3 .4-.1 .4 .3 .5 1 .4 1.5 .4 1.9 .4 2.3 .4 2.5 .5 2.5 .4 2.3 .4 1.9 .5 1.5 .4 1 .4 .3 .8 0 .5-1.6 .5-2.5 .5-3.1 .5-2.4 .5-.7 .5 2 .5 .9 .5-.2 .5-.2 .5 .7 .5 .8 .5-.3 .5-1.4 .5-1.5 .5-.5 .5 0 .5-.4 .5-.7 .5-.1 .5 1.1 .5 1.6 .5 1 .5 .2 .5 0 .5 .5 .5 .3 .5-.7 .5-1.6 .5-1.1 .5 .5 .5 1.3 .5 .6 .5-1 .5-1.8 .5-.8 .5 .7 .5 1.3 .5 .9 .5 .3 .5 .2 .5 .2 .5-.4 .5-1.3 .5-1.4 .5-.4 .5 .9 .5 1.1 .5 .3 .5-.1 .5 .5 .5 1.4 .5 .9 .5-.5 .5-1.3 .5-.3 .5 1 .5 .8 .5-1.4 .5-3.4 .5-2.6 .5 .2 .5 2.4 .5 2.2 .5 .2 .5-.9 .5-.1 .5 1.5 .5 1.9 .5 .8 .5-.3 .5-.5 .5-.1 .5 .2 .5-.7 .5-2 .5-2.7 .5-2.2 .5-.6 .5 .9 .5 2.1 .5 2.3 .5 1.7 .5 .7 .5 .3 .5 .6 .5 1.1 .5 .7 .5-1 .5-2.5 .5-2.5 .5-1 .5 .4 .5 .2 .5-.9 .5-1.1 .5 .3 .5 2 .5 2.6 .5 1.1 .5-1 .5-2.1 .5-1.5 .5 .3 .5 2.3 .5 3.1 .5 2.1 .5-.5 .5-2.9 .5-3.2 .5-1.2 .5 1.3 .5 1.9 .5 .1 .5-2.3 .5-2.7 .5-.7 .5 1.6 .5 2.2 .5 1.1 .5 .4 .5 .7 .5 1.7 .5 1.6 .5 0 .5-2.5 .5-3.8 .5-3 .5-.4 .5 2.5 .5 3.3 .5 1.4 .5-1.8 .5-2.8 .5 .7 .5 7 .5 3.3 .5 0 .5-2.1 .5-12.3 .5-2.6 .5 0 .5 4.2 .5 2.1 .5-.6 .5-1.2 .5 .4 .5 2.4 .5 3.5 .5 3.4 .5 2.2 .5 0 .5-2.4 .5-4 .5-3.7 .5-1.5 .5 .7 .5 1.3 .5 0 .5-.9 .5-.5 .5 1.1 .5 2 .5 1.2 .5-.2 .5-.7 .5-.1 .5 .1 .5-.3 .5-.8 .5 .2 .5 2.1 .5 2.9 .5 1.2 .5-1.7 .5-3.5 .5-2.6 .5-.6 .5 .4 .5-.2 .5-.9 .5-.5 .5 .6 .5 1.3 .5 1.5 .5 1.9 .5 2.3 .5 1.7 .5-.2 .5-2.2 .5-3.1 .5-2 .5-.2 .5 1.3 .5 1.8 .5 1.2 .5-.4 .5-2 .5-2.4 .5-.7 .5 1.7 .5 2.5 .5 1.2 .5-.7 .5-1 .5 .1 .5 .8 .5 .1 .5-.9 .5-.4 .5 .6 .5 .5 .5-1.3 .5-2.5 .5-1 .5 2.4 .5 4 .5 1.6 .5-2.1 .5-3.4 .5-1 .5 2.4 .5 3.1 .5 .4 .5-2.7 .5-3.5 .5-1.6 .5 .5 .5 1.4 .5 1.4 .5 1.6 .5 1.8 .5 1 .5-.6 .5-1.7 .5-.9 .5 .7 .5 1.1 .5-.1 .5-1.9 .5-2.4 .5-1.3 .5 0 .5 .9 .5 1.3 .5 1.8 .5 1.5 .5 .4 .5-.9 .5-.9 .5 .3 .5 1 .5 .6 .5-1 .5-1.7 .5-1.3 .5-.4 .5 .4 .5 1 .5 1.1 .5 .4 .5-.9 .5-1.5 .5-.5 .5 1.2 .5 1.7 .5 .7 .5-.5 .5-.1 .5 1.1 .5 1.2 .5-.4 .5-1.8 .5-1.3 .5-.1 .5-.2 .5-1.9 .5-3.5 .5-1.9 .5 2.1 .5 5.6 .5 5.5 .5 1.6 .5-2.4 .5-3.2 .5-.7 .5 2.1 .5 1.7 .5-1.9 .5-4.8 .5-3.9 .5-.1 .5 2.9 .5 2.6 .5 .3 .5-.8 .5 .8 .5 2.9 .5 2.7 .5 .3 .5-1.8 .5-2.3 .5-1.2 .5-.6 .5-1.4 .5-2.2 .5-1.5 .5 .6 .5 2.6 .5 2.9 .5 1.8 .5 .6 .5 .2 .5 .3 .5-.2 .5-1.1 .5-1.8 .5-2 .5-1.5 .5-.7 .5 .7 .5 2 .5 2 .5 1 .5-.5 .5-.9 .5-.1 .5 .5 .5 .4 .5-.6 .5-1.1 .5-.7 .5 .4 .5 1.5 .5 1.9 .5 1.4 .5-.3 .5-2.3 .5-3.3 .5-2.5 .5-.7 .5 .9 .5 1.1 .5 .4 .5-.2 .5 .4 .5 1.9 .5 3.3 .5 3.4 .5 1.7 .5-.9 .5-2.8 .5-2.6 .5-1.2 .5-.8 .5-1.7 .5-2.5 .5-1.5 .5 1.2 .5 2.9 .5 2.1 .5-.2 .5-.9 .5 1.3 .5 4 .5 3.7 .5-1 .5-5.8 .5-6.2 .5-1.7 .5 3.2 .5 4.3 .5 1.7 .5-.8 .5-.9 .5 .1 .5 .4 .5-.8 .5-1.9 .5-1.1 .5 1 .5 2.5 .5 2.1 .5 .2 .5-1.3 .5-1.6 .5-1.4 .5-1 .5-1 .5-.7 .5-.3 .5 .9 .5 2.3 .5 3.3 .5 2.9 .5 .8 .5-1.5 .5-2.4 .5-1.7 .5-1 .5-1.3 .5-2 .5-.9 .5 1.3 .5 2.9 .5 1.8 .5-.5 .5-1.2 .5 .7 .5 3 .5 2 .5-1.9 .5-5.1 .5-4.1 .5 .4 .5 4.1 .5 3.5 .5 .2 .5-2.1 .5-1.4 .5 .8 .5 1.9 .5 1.1 .5-.5 .5-1.4 .5-1.6 .5-1.5 .5-.6 .5 .4 .5 1.4 .5 1.2 .5 .4 .5 0 .5 .5 .5 1.2 .5 .8 .5-.5 .5-1.8 .5-1.6 .5-.5 .5 .6 .5 .5 .5-.2 .5-.8 .5-.4 .5 .4 .5 .9 .5 .5 .5-.5 .5-1.1 .5-.3 .5 1.2 .5 2.2 .5 1.7 .5-.1 .5-1.5 .5-1.6 .5-.5 .5 .2 .5 0 .5-.3 .5 .1 .5 .9 .5 .8 .5-.4 .5-1.4 .5-.9 .5 .7 .5 1.2 .5-.4 .5-2.3 .5-2 .5 .6 .5 3.1 .5 3.2 .5 1 .5-1.2 .5-1.5 .5-.5 .5 0 .5-.7 .5-1.2 .5-.4 .5 1 .5 1.5 .5 .6 .5-.4 .5-.2 .5 .8 .5 1 .5-.3 .5-2.3 .5-2.9 .5-1.5 .5 .6 .5 1.7 .5 1.3 .5 .2 .5-.1 .5 .9 .5 2.1 .5 2.1 .5 .7 .5-.9 .5-1.7 .5-1.5 .5-1.7 .5-2 .5-1.9 .5-.3 .5 1.5 .5 2 .5 1.1 .5 .1 .5 1 .5 2.4 .5 2.4 .5-.3 .5-3.1 .5-3.3 .5-1.2 .5 1 .5 .5 .5-1.4 .5-1.6 .5 .9 .5 3.6 .5 3.3 .5 .2 .5-2.5 .5-2.2 .5 .2 .5 1.5 .5 .3 .5-2.1 .5-2.7 .5-.9 .5 1.2 .5 2.2 .5 1.8 .5 1.3 .5 1 .5 .2 .5-1.1 .5-1.6 .5-.6 .5 .9 .5 1 .5-1 .5-3.1 .5-2.9 .5-.2 .5 2.9 .5 3.6 .5 1.4 .5-1.6 .5-2.9 .5-1.4 .5 1.8 .5 3.8 .5 2.2 .5-1.8 .5-4.6 .5-3.2 .5 1.5 .5 4.8 .5 3.4 .5-1.3 .5-4 .5-1.8 .5 2.5 .5 4.1 .5 .9 .5-3.5 .5-5.2 .5-2.9 .5 .8 .5 2.8 .5 2.6 .5 1.5 .5 .4 .5-.1 .5 .1 .5 .9 .5 1.1 .5-.1 .5-2.4 .5-3.9 .5-2.9 .5 .5 .5 3.3 .5 3.4 .5 1 .5-1 .5-.7 .5 1.1 .5 1.6 .5-.4 .5-3.3 .5-4.2 .5-1.7 .5 2.3 .5 4 .5 1.8 .5-1.5 .5-2.3 .5 .6 .5 3.9 .5 3.9 .5 .1 .5-4.3 .5-5.1 .5-2.3 .5 1.5 .5 2.9 .5 1.4 .5-.9 .5-2 .5-1 .5 1.2 .5 2.6 .5 2.8 .5 1.4 .5-.8 .5-2.9 .5-3.7 .5-2.8 .5-.1 .5 2.8 .5 3.7 .5 1.9 .5-1.3 .5-2.4 .5-.3 .5 2.5 .5 2.8 .5 .2 .5-2.6 .5-3 .5-1.3 .5 .5 .5 1 .5 0 .5-.8 .5-.5 .5 .5 .5 1.2 .5 1.3 .5 1.2 .5 .9 .5 .2 .5-.7 .5-1.1 .5-.8 .5 0 .5 .4 .5-.7 .5-2.4 .5-3.6 .5-2.6 .5 .7 .5 4.5 .5 6.5 .5 4.9 .5 .3 .5-3.3 .5-4.4 .5-1.6 .5 1.5 .5 1.9 .5-.7 .5-3.7 .5-4.1 .5-1.1 .5 2.6 .5 4.1 .5 2.6 .5-.4 .5-2.3 .5-1.6 .5 .8 .5 2.7 .5 2.7 .5 .6 .5-1.5 .5-2.3 .5-1.3 .5-.1 .5-.1 .5-1.2 .5-1.8 .5-.9 .5 .8 .5 1.9 .5 1.6 .5 .7 .5 .5 .5 1.6 .5 2.3 .5 1.3 .5-1.4 .5-4 .5-4.4 .5-2 .5 1.2 .5 2.7 .5 1.6 .5-.8 .5-2.1 .5-1.1 .5 1.4 .5 3.9 .5 4 .5 1.6 .5-1.6 .5-3.5 .5-2.6 .5-.2 .5 1.3 .5 .7 .5-1.1 .5-2 .5-1.5 .5 0 .5 1.2 .5 1.3 .5 .7 .5-.3 .5-1.1 .5-.8 .5 .7 .5 2.7 .5 3.3 .5 2 .5-.1 .5-1.4 .5-1.8 .5-1.5 .5-1.5 .5-1.6 .5-1.7 .5-1.2 .5-.7 .5 .1 .5 1.4 .5 2.6 .5 2.9 .5 1.8 .5 .2 .5-.5 .5-.3 .5 .3 .5 0 .5-1.2 .5-2.2 .5-2.2 .5-1.2 .5 .1 .5 .9 .5 1 .5 .3 .5 .1 .5 .4 .5 1.5 .5 2.1 .5 1.3 .5-.6 .5-1.9 .5-1.8 .5-.4 .5 .6 .5 .2 .5-.5 .5-.4 .5 .5 .5 .9 .5 0 .5-1.1 .5-1.5 .5-.7 .5 .2 .5 .9 .5 1.2 .5 1.3 .5 1.1 .5 .4 .5-.6 .5-.9 .5-.2 .5 .7 .5 .8 .5 .1 .5-1.1 .5-2.2 .5-2.7 .5-2 .5 .1 .5 2.6 .5 3.5 .5 1.8 .5-.7 .5-1.7 .5-.3 .5 2.1 .5 2.8 .5 .9 .5-1.8 .5-3.1 .5-1.9 .5 .3 .5 1.2 .5 .1 .5-2 .5-3.1 .5-1.9 .5 .8 .5 3.3 .5 3.8 .5 2.5 .5 .5 .5-.4 .5 .1 .5 .5 .5-.3 .5-2.3 .5-3.2 .5-2.2 .5 0 .5 .8 .5 .1 .5-.2 .5 1.1 .5 2.9 .5 2.4 .5-.4 .5-2.6 .5-1.8 .5 1.2 .5 2.9 .5 .9 .5-2.4 .5-4 .5-1.8 .5 1.6 .5 3.5 .5 2.3 .5-.4 .5-2 .5-1.5 .5 .6 .5 1.8 .5 1.1 .5-.9 .5-2.2 .5-1.5 .5-.1 .5 .4 .5-.3 .5-.6 .5 .8 .5 2.9 .5 3.4 .5 1.1 .5-2.1 .5-3.5 .5-1.7 .5 1.2 .5 2.4 .5 .4 .5-2.6 .5-3.7 .5-1.7 .5 2 .5 4.4 .5 3.4 .5 .2 .5-2.6 .5-2.7 .5-.2 .5 2.5 .5 2.7 .5 .2 .5-2.8 .5-3.6 .5-1.5 .5 1.4 .5 2.5 .5 1.3 .5-.7 .5-2.2 .5-2.5 .5-1.5 .5 .8 .5 3.7 .5 4.9 .5 3 .5-1.3 .5-4.2 .5-3 .5 1.1 .5 3.9 .5 2 .5-2.7 .5-5.8 .5-4.2 .5 .5 .5 4.2 .5 3.9 .5 .9 .5-1.8 .5-1.6 .5 .5 .5 2.5 .5 2.5 .5 .4 .5-2 .5-2.6 .5-1.5 .5 .3 .5 .8 .5 .1 .5-.9 .5-1.3 .5-.7 .5 0 .5 .7 .5 1.2 .5 1.7 .5 1.5 .5 .9 .5 .2 .5 .4 .5 .8 .5 .1 .5-1.9 .5-3.5 .5-2.7 .5 .1 .5 2.1 .5 1.3 .5-1.5 .5-2.6 .5-.8 .5 2.4 .5 3.9 .5 2.5 .5 .1 .5-.9 .5-.4 .5 .2 .5 0 .5-.8 .5-1.2 .5-1.1 .5-1.2 .5-1.6 .5-1.6 .5-.4 .5 1.9 .5 3.1 .5 2.5 .5 .5 .5-1 .5-.7 .5 .6 .5 1.5 .5 .7 .5-1.1 .5-2.5 .5-2.6 .5-1.3 .5 .8 .5 2 .5 1.8 .5 .2 .5-1.3 .5-1.1 .5 .3 .5 1.3 .5 .9 .5-.5 .5-1.4 .5-.5 .5 .9 .5 1.4 .5 .3 .5-1.4 .5-1.6 .5-.5 .5 1 .5 1.4 .5 1.1 .5 .9 .5 .7 .5-.3 .5-1.8 .5-2.3 .5-.5 .5 2 .5 2.3 .5-.9 .5-4.6 .5-4.7 .5-.2 .5 4.7 .5 5.7 .5 2.3 .5-1.1 .5-1.5 .5 .7 .5 1.7 .5 0 .5-2.6 .5-3.3 .5-1.8 .5 0 .5 .4 .5-.5 .5-.8 .5 .2 .5 2 .5 3.5 .5 3 .5 .9 .5-1.8 .5-2.9 .5-1.4 .5 1.3 .5 2.3 .5 .3 .5-3.1 .5-4.6 .5-2.4 .5 1.5 .5 4.1 .5 3 .5-.2 .5-2.3 .5-1.5 .5 1.2 .5 3.2 .5 2.9 .5 .7 .5-1.5 .5-2.7 .5-3.2 .5-2.7 .5-1.2 .5 1.1 .5 2.8 .5 2.2 .5-.1 .5-1.3 .5-.2 .5 2 .5 2.9 .5 1.1 .5-1.5 .5-2.8 .5-2.1 .5-.6 .5 .1 .5-.2 .5-.4 .5 .3 .5 1.1 .5 1.5 .5 1 .5 .5 .5 .3 .5-.1 .5-.8 .5-1.4 .5-1.1 .5-.2 .5 .3 .5-.2 .5-.6 .5 0 .5 1.5 .5 2.1 .5 1.5 .5 .1 .5-.7 .5-.9 .5-1.2 .5-1.8 .5-2.1 .5-1.5 .5 .5 .5 2.4 .5 3 .5 2.1 .5 .1 .5-1.1 .5-.8 .5 0 .5 .1 .5-.9 .5-2 .5-1.5 .5 .1 .5 1.5 .5 1.5 .5 .8 .5 .3 .5 .5 .5 .3 .5-.7 .5-1.8 .5-1.7 .5-.5 .5 1 .5 1.5 .5 1.1 .5 .4 .5 .4 .5 .4" fill="none" stroke="#0000ff" stroke-width="1.2" stroke-linejoin="round"/>
<path d="M66.5 214.2l.5 .1 .5 .4 .5 .6 .6 .8 .5 1 .5 1.3 .5 1.4 .5 1.5 .5 1.7 .6 1.8 .5 1.9 .5 1.9 .5 1.9 .5 1.9 .5 1.9 .6 1.8 .5 1.7 .5 1.5 .5 1.4 .5 1.3 .5 1 .6 .8 .5 .6 .5 .4 .5 .1 .5-.2 .5-.4 .5-.7 .6-1.1 .5-1.2 .5-1.5 .5-1.7 .5-1.9 .5-2 .5-2 .6-2.2 .5-2.1 .5-2 .5-2 .5-1.9 .5-1.7 .5-1.5 .5-1.2 .6-1.1 .5-.7 .5-.4 .5-.2 .5 .2 .5 .6 .5 1 .5 1.4 .6 1.7 .5 2 .5 2.2 .5 2.3 .5 2.4 .5 2.4 .5 2.3 .5 2.2 .5 2 .6 1.7 .5 1.4 .5 1 .5 .6 .5 .2 .5-.2 .5-.7 .5-1.1 .5-1.4 .5-1.8 .5-2.1 .5-2.3 .5-2.5 .5-2.5 .6-2.5 .5-2.5 .5-2.3 .5-2.1 .5-1.8 .5-1.4 .5-1.1 .5-.7 .5-.2 .5 .2 .5 .7 .5 1.1 .5 1.5 .6 1.9 .5 2.2 .5 2.3 .5 2.6 .5 2.6 .5 2.6 .5 2.6 .5 2.3 .5 2.2 .6 1.9 .5 1.5 .5 1.1 .5 .7 .5 .2 .5-.2 .5-.6 .5-1 .5-1.4 .6-1.7 .5-2 .5-2.2 .5-2.3 .5-2.4 .5-2.4 .5-2.3 .5-2.2 .5-2 .6-1.7 .5-1.4 .5-1 .5-.6 .5-.2 .5 .1 .5 .5 .5 .7 .6 .9 .5 1.2 .5 1.4 .5 1.6 .5 1.7 .5 1.8 .6 1.9 .5 1.8 .5 1.8 .5 1.7 .5 1.6 .5 1.4 .5 1.2 .6 .9 .5 .7 .5 .5 .5 .1 .5-.1 .5-.4 .5-.6 .5-.8 .5-.9 .6-1.2 .5-1.3 .5-1.4 .5-1.5 .5-1.5 .5-1.5 .5-1.5 .5-1.4 .5-1.3 .6-1.2 .5-.9 .5-.8 .5-.6 .5-.4 .5-.1 .5 .2 .5 .4 .5 .8 .5 1 .5 1.2 .5 1.5 .5 1.5 .6 1.6 .5 1.6 .5 1.5 .5 1.5 .5 1.2 .5 1 .5 .8 .5 .4 .5 .2 .5-.1 .5-.3 .5-.5 .6-.7 .5-.9 .5-1 .5-1.1 .5-1.3 .5-1.3 .6-1.3 .5-1.3 .5-1.3 .5-1.3 .5-1.1 .5-1 .5-.9 .6-.7 .5-.5 .5-.3 .5-.1 .5 .1 .5 .3 .5 .5 .5 .6 .5 .8 .6 1 .5 1.1 .5 1.2 .5 1.2 .5 1.3 .5 1.4 .5 1.4 .5 1.3 .5 1.2 .5 1.2 .5 1.1 .6 1 .5 .8 .5 .6 .5 .5 .5 .3 .5 .1 .5-.2 .5-.6 .5-.9 .6-1.2 .5-1.5 .5-1.7 .5-1.9 .5-1.9 .5-1.9 .5-1.9 .5-1.7 .5-1.5 .6-1.2 .5-.9 .5-.6 .5-.2 .5 .1 .5 .4 .6 .5 .5 .8 .5 1 .5 1.1 .5 1.2 .6 1.4 .5 1.4 .5 1.5 .5 1.5 .5 1.4 .6 1.4 .5 1.2 .5 1.1 .5 1 .5 .8 .6 .5 .5 .4 .5 .1 .5-.2 .5-.4 .5-.8 .6-1 .5-1.2 .5-1.5 .5-1.5 .5-1.6 .5-1.6 .5-1.5 .5-1.5 .5-1.2 .6-1 .5-.8 .5-.4 .5-.2 .5 .1 .5 .3 .5 .5 .5 .7 .6 .9 .5 1 .5 1.1 .5 1.1 .5 1.2 .5 1.3 .5 1.1 .5 1.1 .5 1 .6 .9 .5 .7 .5 .5 .5 .3 .5 .1 .5-.1 .5-.4 .5-.6 .5-.7 .5-.9 .5-.8 .5-.9 .5-.7 .5-.6 .5-.4 .5-.1 .5-.1 .5-.2 .6-.4 .5-.5 .5-.6 .5-.7 .6-.6 .5-.7 .5-.6 .5-.5 .6-.4 .5-.2 .5-.1 .5 .1 .5 .4 .5 .5 .5 .7 .5 .9 .5 1 .6 1 .5 1 .5 1 .5 .9 .5 .7 .5 .5 .5 .4 .5 .1 .5-.1 .5-.1 .5-.3 .5-.3 .5-.5 .6-.5 .5-.6 .5-.6 .5-.7 .5-.7 .5-.7 .5-.7 .5-.6 .5-.6 .6-.5 .5-.5 .5-.3 .5-.3 .5-.1 .5-.1 .5 .1 .5 .2 .5 .4 .5 .6 .6 .6 .5 .8 .5 .9 .5 .9 .5 .9 .5 .9 .5 .9 .5 .9 .5 .8 .6 .6 .5 .6 .5 .4 .5 .2 .5 .1 .5-.1 .5-.2 .5-.4 .5-.5 .6-.6 .5-.8 .5-.8 .5-.8 .5-.9 .5-.9 .5-.8 .5-.8 .5-.8 .6-.6 .5-.5 .5-.4 .5-.2 .5-.1 .5 .1 .5 .2 .5 .4 .6 .4 .5 .6 .5 .7 .5 .6 .5 .7 .5 .7 .5 .6 .6 .4 .5 .4 .5 .2 .5 .1 .5 0 .5 0 .5 0 .5 0 .5 0 .6 0 .5 0 .5 0 .5 0 .5 0 .5 0 .5-.1 .5-.2 .5-.2 .6-.2 .5-.3 .5-.3 .5-.4 .5-.3 .5-.3 .5-.4 .5-.3 .5-.3 .6-.2 .5-.2 .5-.2 .5-.1 .5 0 .5 .1 .5 .4 .5 .6 .5 .7 .6 .7 .5 .8 .5 .7 .5 .6 .5 .4 .5 .1 .5-.2 .5-.5 .5-.9 .6-1 .5-.9 .5-.9 .5-.5 .5-.2 .5 .1 .5 .3 .5 .5 .5 .6 .5 .8 .5 .8 .6 .7 .5 .8 .5 .6 .5 .5 .5 .3 .5 .1 .5-.3 .5-.9 .5-1.3 .6-1.6 .5-1.6 .5-1.3 .5-.9 .5-.3 .5 .2 .5 .6 .5 .9 .5 1.1 .6 1.3 .5 1.3 .5 1.1 .5 .9 .5 .6 .5 .2 .5-.1 .5-.4 .5-.6 .5-.7 .5-.9 .6-.9 .5-.9 .5-.9 .5-.7 .5-.6 .5-.4 .5-.1 .5 .2 .5 .4 .6 .7 .5 .8 .5 1 .5 1 .5 .8 .6 .7 .5 .4 .5 .2 .5-.1 .5-.3 .5-.5 .5-.7 .5-.7 .5-.8 .6-.8 .5-.7 .5-.7 .5-.5 .5-.3 .5-.1 .5 .1 .5 .4 .5 .6 .5 .8 .5 .8 .6 .8 .5 .8 .5 .6 .5 .4 .5 .1 .5-.1 .5-.1 .5-.3 .5-.4 .5-.4 .5-.5 .5-.4 .5-.4 .5-.4 .5-.3 .5-.1 .5-.1 .6 .1 .5 .1 .5 .3 .6 .4 .6 .3 .5 .3 .5 .1 .6 .1 .5 0 .5-.2 .5-.2 .5-.3 .6-.3 .5-.3 .5-.3 .5-.2 .5-.2 .5 0 .5 .1 .5 .4 .6 .5 .5 .7 .5 .7 .5 .8 .5 .7 .6 .5 .5 .4 .5 .1 .5-.1 .5-.3 .5-.4 .5-.6 .5-.6 .6-.6 .5-.6 .5-.4 .5-.3 .5-.1 .5 0 .5 .2 .5 .2 .5 .2 .5 .3 .5 .4 .6 .4 .5 .3 .5 .4 .5 .3 .5 .2 .5 .2 .5 .2 .5 0 .5-.1 .5-.2 .5-.3 .5-.4 .5-.6 .6-.5 .5-.5 .5-.6 .5-.4 .5-.3 .5-.2 .5-.1 .5 0 .5 .2 .6 .2 .5 .3 .5 .4 .5 .3 .5 .4 .5 .4 .5 .3 .6 .2 .5 .2 .5 0 .5-.1 .5-.1 .5-.3 .5-.3 .5-.5 .5-.4 .6-.6 .5-.5 .5-.4 .5-.5 .5-.3 .5-.3 .5-.1 .5-.1 .5 .2 .5 .6 .5 .9 .5 1.1 .5 1.3 .6 1.3 .5 1.1 .5 .9 .5 .6 .5 .2 .5-.2 .5-.7 .6-1 .5-1.3 .5-1.4 .5-1.4 .5-1.3 .6-1 .5-.7 .5-.2 .5 .1 .5 .3 .5 .5 .5 .6 .5 .8 .5 .7 .6 .8 .5 .8 .5 .6 .5 .5 .5 .3 .5 .1 .5 0 .5-.1 .5-.2 .5-.2 .5-.2 .5-.3 .5-.3 .6-.3 .5-.3 .5-.2 .5-.2 .5-.2 .5-.1 .5 0 .5 .1 .5 .1 .6 .3 .5 .3 .5 .4 .5 .5 .5 .4 .5 .4 .5 .3 .6 .3 .5 .1 .5 .1 .5-.2 .5-.6 .5-1 .5-1.1 .5-1.1 .5-1 .5-.6 .5-.2 .5 .2 .5 .4 .6 .7 .5 .8 .5 1 .5 1 .5 .8 .6 .7 .5 .4 .5 .2 .5-.1 .5-.3 .5-.4 .5-.5 .6-.5 .5-.6 .5-.5 .5-.4 .5-.3 .5-.1 .5 0 .5 .2 .5 .2 .5 .3 .5 .3 .6 .3 .5 .3 .5 .2 .5 .2 .5 0 .5-.1 .5-.3 .5-.5 .5-.7 .6-.7 .5-.6 .5-.7 .5-.5 .5-.3 .5-.1 .5 .1 .5 .3 .5 .5 .5 .7 .5 .7 .6 .8 .5 .8 .5 .7 .5 .7 .5 .5 .5 .3 .5 .1 .5 0 .5-.1 .5-.2 .5-.3 .6-.2 .5-.4 .5-.4 .5-.4 .5-.4 .5-.5 .5-.5 .5-.4 .5-.4 .5-.4 .5-.4 .6-.2 .5-.3 .5-.2 .5-.1 .5 0 .5 .1 .6 .4 .5 .6 .5 .7 .5 .9 .6 .8 .5 .9 .5 .7 .5 .6 .6 .4 .5 .1 .5-.1 .5-.2 .5-.3 .6-.4 .5-.6 .5-.6 .5-.6 .5-.7 .5-.6 .5-.6 .6-.5 .5-.5 .5-.3 .5-.2 .5-.1 .5 .1 .5 .2 .5 .4 .5 .4 .5 .5 .5 .6 .6 .6 .5 .6 .5 .5 .5 .5 .5 .3 .5 .3 .5 0 .5-.1 .5-.4 .6-.5 .5-.7 .5-.7 .5-.6 .5-.6 .6-.3 .5-.1 .5 0 .5 .2 .5 .3 .5 .4 .6 .4 .5 .5 .5 .4 .5 .5 .5 .3 .5 .3 .5 .2 .5 0 .6-.1 .5-.4 .5-.7 .5-.8 .5-.9 .6-.8 .5-.6 .5-.4 .5-.2 .5 .1 .5 .2 .5 .3 .6 .4 .5 .5 .5 .6 .5 .6 .5 .6 .5 .5 .5 .5 .5 .4 .5 .4 .5 .2 .5 0 .6-.1 .5-.2 .5-.4 .5-.6 .5-.6 .6-.7 .5-.7 .5-.6 .5-.6 .5-.4 .6-.3 .5 0 .5 0 .5 .2 .5 .3 .5 .4 .5 .5 .5 .6 .5 .6 .5 .6 .5 .6 .5 .6 .5 .6 .5 .5 .5 .4 .6 .3 .5 .2 .5 0 .5-.1 .5-.2 .5-.5 .5-.5 .5-.7 .5-.7 .5-.7 .5-.6 .5-.6 .5-.4 .5-.3 .5-.1 .6 .1 .5 .1 .5 .2 .5 .3 .5 .4 .5 .4 .5 .4 .6 .5 .5 .4 .5 .4 .5 .3 .5 .2 .5 .1 .5 .1 .6-.1 .5-.1 .5-.2 .5-.3 .5-.4 .5-.4 .6-.4 .5-.4 .5-.4 .5-.3 .5-.2 .5-.1 .6-.1 .5 0 .5 .1 .5 .2 .5 .2 .5 .3 .5 .2 .5 .4 .5 .3 .5 .3 .5 .3 .5 .3 .5 .3 .5 .2 .5 .2 .5 .1 .5 0 .5-.1 .5-.1 .5-.3 .5-.4 .6-.4 .5-.5 .5-.6 .5-.5 .5-.5 .5-.4 .6-.4 .5-.3 .5-.2 .5 0 .5 .1 .6 .5 .5 .7 .6 .9 .5 1 .5 .9 .6 .9 .5 .7 .6 .5 .5 .1 .5 0 .6-.2 .5-.2 .5-.3 .6-.4 .5-.4 .5-.5 .6-.4 .5-.5 .5-.4 .6-.4 .5-.3 .5-.2 .6-.2 .5 0 .5 0 .5 .1 .6 .2 .5 .2 .5 .2 .5 .3 .6 .3 .5 .3 .5 .3 .5 .3 .6 .2 .5 .1 .5 .1 .5 .1 .5-.1 .5-.1 .5-.3 .5-.3 .5-.4 .5-.4 .5-.5 .5-.4 .5-.4 .5-.3 .5-.3 .5-.1 .5-.1 .6 .1 .5 .3 .5 .5 .6 .6 .5 .7 .5 .6 .6 .6 .5 .5 .5 .3 .6 .1 .5 0 .5-.2 .5-.2 .5-.3 .5-.3 .5-.4 .6-.4 .5-.4 .5-.4 .5-.4 .5-.3 .5-.3 .5-.2 .6-.2 .5 0 .5 .1 .5 .4 .5 .5 .5 .6 .5 .8 .5 .7 .5 .7 .6 .5 .5 .3 .5 .1 .5-.1 .5-.2 .5-.5 .6-.6 .5-.7 .5-.8 .5-.7 .6-.7 .5-.6 .5-.5 .5-.3 .6-.1 .5 .2 .6 .3 .5 .6 .5 .7 .6 .8 .5 .7 .6 .8 .5 .5 .6 .4 .5 .1 .5-.1 .5-.1 .6-.2 .5-.3 .5-.4 .5-.4 .5-.5 .5-.4 .5-.5 .5-.4 .6-.4 .5-.3 .5-.2 .5-.2 .5 0 .5 0 .5 .2 .5 .3 .5 .4 .5 .5 .5 .5 .5 .5 .5 .5 .5 .4 .5 .4 .5 .3 .5 .2 .5 0 .5-.1 .5-.5 .6-.7 .5-.8 .5-.9 .5-.9 .5-.6 .5-.5 .5-.2 .5 .2 .6 .6 .5 .8 .5 1.1 .6 1.1 .5 1 .6 .9 .5 .5 .5 .2 .6-.1 .5-.4 .6-.6 .5-.7 .6-.9 .5-.9 .5-.9 .6-.8 .5-.6 .6-.4 .5-.1 .5 .1 .5 .4 .5 .5 .5 .7 .6 .8 .5 .8 .5 .9 .5 .8 .5 .6 .5 .6 .5 .3 .5 .1 .5-.1 .5-.2 .6-.3 .5-.5 .5-.5 .5-.6 .5-.6 .5-.6 .6-.5 .5-.5 .5-.3 .5-.3 .5 0 .6 0 .5 .2 .5 .3 .6 .3 .5 .5 .5 .4 .6 .5 .5 .5 .5 .5 .6 .4 .5 .4 .5 .3 .6 .1 .5 .1 .5-.1 .5-.2 .5-.3 .6-.3 .5-.5 .5-.6 .5-.5 .5-.6 .6-.5 .5-.5 .5-.4 .5-.3 .5-.2 .5 0 .6 .1 .5 .4 .6 .5 .5 .7 .5 .8 .6 .7 .5 .7 .5 .6 .6 .3 .5 .1 .6-.1 .5-.5 .6-.7 .5-.9 .6-1 .5-.9 .6-.7 .5-.5 .6-.1 .5 0 .5 .1 .5 .2 .5 .3 .5 .3 .5 .3 .5 .4 .6 .3 .5 .2 .5 .2 .5 .2 .5 0" fill="none" stroke="#0000ff" stroke-width="1.1" stroke-linejoin="round"/>
<path d="M66.3 266.6l.5 0 .5 .1 .5 .1 .5 .1 .5 .1 .5 .2 .5 .2 .5 .3 .5 .2 .5 .3 .5 .4 .5 .3 .6 .4 .5 .4 .5 .4 .5 .5 .5 .4 .5 .5 .5 .5 .5 .5 .5 .5 .5 .6 .5 .5 .5 .5 .5 .6 .5 .5 .5 .6 .5 .5 .5 .5 .5 .6 .5 .5 .5 .5 .5 .5 .5 .5 .5 .4 .5 .5 .5 .4 .5 .4 .6 .4 .5 .3 .5 .4 .5 .3 .5 .2 .5 .3 .5 .2 .5 .2 .5 .1 .5 .1 .5 .1 .5 .1 .5 0 .5 0 .5 0 .5 0 .5 0 .5-.1 .5 0 .5 0 .5 0 .5-.1 .5 0 .5 0 .5-.1 .5 0 .5 0 .5 0 .5 0 .5 0 .5 0 .5-.1 .5-.1 .5-.1 .5-.1 .6-.1 .5-.2 .5-.1 .5-.2 .5-.2 .5-.3 .5-.2 .5-.3 .5-.2 .5-.3 .5-.3 .5-.3 .5-.3 .6-.3 .5-.4 .5-.3 .5-.3 .5-.4 .5-.3 .5-.4 .5-.3 .5-.4 .5-.3 .5-.3 .5-.4 .6-.3 .5-.3 .5-.3 .5-.3 .5-.3 .5-.2 .5-.3 .5-.2 .5-.3 .5-.2 .5-.2 .5-.1 .5-.2 .6-.1 .5-.1 .5-.1 .5-.1 .5-.1 .5 0 .5 0 .5 .1 .5 .2 .5 .3 .5 .5 .5 .6 .6 .7 .5 .8 .5 .9 .5 .9 .5 1 .5 .9 .5 1 .5 .9 .5 .9 .5 .8 .6 .7 .5 .6 .5 .5 .5 .3 .5 .2 .5 .1 .5-.1 .5-.1 .5-.3 .6-.4 .5-.4 .5-.6 .5-.6 .5-.6 .5-.7 .5-.8 .6-.7 .5-.8 .5-.7 .5-.6 .5-.6 .5-.6 .5-.4 .6-.4 .5-.3 .5-.1 .5-.1 .5 .1 .5 .2 .5 .5 .5 .5 .6 .7 .5 .8 .5 1 .5 .9 .5 1 .5 1 .5 .9 .5 .9 .5 .9 .6 .7 .5 .5 .5 .5 .5 .2 .5 .1 .5-.1 .5-.2 .5-.5 .5-.5 .5-.7 .6-.9 .5-.9 .5-1.1 .5-1 .5-1.2 .5-1.1 .5-1.2 .5-1 .5-1.1 .5-.9 .6-.9 .5-.7 .5-.5 .5-.5 .5-.2 .5-.1 .5 .1 .5 .3 .5 .5 .5 .6 .6 .8 .5 1 .5 1 .5 1.1 .5 1.1 .5 1.2 .5 1.1 .5 1 .5 1 .6 .8 .5 .6 .5 .5 .5 .3 .5 .1 .5-.1 .5-.2 .5-.4 .5-.6 .6-.7 .5-.8 .5-.8 .5-.9 .5-1 .5-1 .5-.9 .5-.8 .5-.8 .6-.7 .5-.6 .5-.4 .5-.2 .5-.1 .5 .1 .5 .2 .5 .4 .5 .5 .6 .6 .5 .7 .5 .8 .5 .9 .5 .8 .5 .9 .5 .9 .5 .8 .5 .7 .6 .6 .5 .5 .5 .4 .5 .2 .5 .1 .5-.1 .5-.3 .5-.4 .5-.6 .5-.7 .5-.8 .5-.8 .6-.9 .5-.8 .5-.8 .5-.7 .5-.6 .5-.4 .5-.3 .5-.1 .5 .1 .5 .2 .5 .5 .6 .5 .5 .8 .5 .8 .5 .9 .5 1.1 .5 1.1 .5 1.1 .6 1.2 .5 1.1 .5 1.1 .5 1 .5 1 .5 .8 .5 .8 .6 .5 .5 .5 .5 .2 .5 .1 .5-.1 .5-.5 .5-.7 .5-.9 .5-1.2 .6-1.4 .5-1.6 .5-1.7 .5-1.8 .5-1.9 .5-1.9 .5-1.9 .5-1.8 .5-1.7 .5-1.6 .6-1.4 .5-1.2 .5-.9 .5-.7 .5-.5 .5-.1 .5 .1 .5 .4 .5 .7 .5 .9 .5 1.2 .6 1.3 .5 1.5 .5 1.7 .5 1.8 .5 1.8 .5 1.8 .5 1.8 .5 1.8 .5 1.7 .5 1.5 .6 1.3 .5 1.2 .5 .9 .5 .7 .5 .4 .5 .1 .5-.1 .5-.4 .5-.7 .6-.8 .5-1.1 .5-1.3 .5-1.4 .5-1.4 .6-1.5 .5-1.6 .5-1.4 .5-1.4 .5-1.3 .5-1.1 .5-.8 .6-.7 .5-.4 .5-.1 .5 .1 .5 .3 .5 .6 .5 .7 .5 .9 .5 1 .5 1.1 .5 1.2 .6 1.3 .5 1.3 .5 1.2 .5 1.1 .5 1 .5 .9 .5 .7 .5 .6 .5 .3 .5 .1 .5-.1 .5-.3 .5-.5 .5-.6 .6-.9 .5-.9 .5-1 .5-1.2 .5-1.1 .5-1.1 .5-1.2 .5-1 .5-.9 .6-.9 .5-.6 .5-.5 .5-.3 .5-.1 .5 .2 .6 .4 .5 .8 .5 1 .6 1.1 .5 1.3 .5 1.4 .5 1.3 .6 1.1 .5 1 .5 .8 .6 .4 .5 .2 .5-.1 .5-.1 .5-.3 .5-.4 .6-.5 .5-.5 .5-.7 .5-.7 .5-.7 .5-.9 .5-.8 .6-.9 .5-.8 .5-.8 .5-.9 .5-.7 .5-.7 .5-.7 .5-.5 .5-.5 .6-.4 .5-.3 .5-.1 .5-.1 .5 .1 .5 .4 .5 .6 .5 .8 .6 1 .5 1.2 .5 1.2 .5 1.4 .5 1.4 .5 1.4 .5 1.4 .5 1.2 .5 1.2 .6 1 .5 .8 .5 .6 .5 .4 .5 .1 .5-.1 .5-.2 .5-.4 .5-.6 .5-.7 .6-.8 .5-1 .5-1 .5-1.2 .5-1.2 .5-1.2 .5-1.2 .5-1.3 .5-1.2 .5-1.2 .5-1.2 .5-1 .5-1 .6-.8 .5-.7 .5-.6 .5-.4 .5-.2 .5-.1 .5 .2 .5 .7 .5 1.1 .6 1.4 .5 1.7 .5 2 .5 2.1 .5 2.1 .5 2.1 .5 2 .5 1.7 .6 1.4 .5 1.1 .5 .7 .5 .2 .5-.1 .5-.2 .5-.5 .5-.6 .5-.7 .6-.9 .5-1 .5-1.1 .5-1.2 .5-1.3 .5-1.3 .5-1.4 .5-1.3 .5-1.3 .5-1.3 .5-1.2 .5-1.1 .6-1 .5-.9 .5-.7 .5-.6 .5-.5 .5-.2 .5-.1 .5 .1 .5 .3 .5 .6 .6 .7 .5 .9 .5 1 .5 1.2 .5 1.3 .5 1.4 .5 1.4 .6 1.5 .5 1.4 .5 1.4 .5 1.3 .5 1.2 .5 1 .5 .9 .6 .7 .5 .6 .5 .3 .5 .1 .5-.1 .5-.2 .5-.4 .5-.4 .5-.7 .6-.7 .5-.8 .5-.9 .5-.9 .5-1 .5-1 .5-1 .5-.9 .5-.9 .5-.8 .6-.7 .5-.7 .5-.4 .5-.4 .5-.2 .5-.1 .5 .1 .5 .3 .6 .4 .5 .5 .5 .5 .5 .5 .6 .4 .5 .3 .5 .1 .5 0 .5-.1 .5-.1 .5-.2 .5-.2 .5-.2 .5-.1 .5-.2 .5-.2 .5-.1 .5-.1 .5 0 .5 .1 .5 .1 .5 .3 .6 .4 .5 .4 .5 .5 .5 .7 .5 .6 .5 .7 .5 .7 .6 .8 .5 .7 .5 .7 .5 .6 .5 .7 .5 .5 .5 .4 .6 .4 .5 .3 .5 .1 .5 .1 .5-.1 .5-.2 .5-.3 .5-.4 .5-.5 .6-.6 .5-.8 .5-.7 .5-.8 .5-.9 .5-.8 .5-.9 .5-.8 .5-.7 .5-.8 .6-.6 .5-.5 .5-.4 .5-.3 .5-.2 .5-.1 .5 .1 .5 .2 .5 .4 .5 .6 .6 .6 .5 .8 .5 .9 .5 .9 .5 .9 .5 .9 .5 .9 .5 .9 .5 .8 .6 .6 .5 .6 .5 .4 .5 .2 .5 .1 .5-.1 .5-.3 .5-.4 .5-.6 .6-.8 .5-.9 .5-.9 .5-1.1 .5-1 .5-1.1 .5-1.1 .5-.9 .5-.9 .6-.8 .5-.6 .5-.4 .5-.3 .5-.1 .5 .1 .5 .2 .5 .5 .5 .6 .6 .7 .5 .8 .5 .9 .5 1 .5 1 .5 1 .5 1 .5 .9 .5 .8 .6 .7 .5 .6 .5 .5 .5 .2 .5 .1 .5-.1 .5-.2 .5-.3 .5-.4 .5-.5 .6-.7 .5-.7 .5-.8 .5-.8 .5-.9 .5-1 .5-.9 .5-1 .5-1 .5-.9 .5-.8 .5-.8 .5-.7 .6-.7 .5-.5 .5-.4 .5-.3 .5-.2 .5-.1 .5 .1 .5 .3 .5 .6 .6 .7 .5 1 .5 1.1 .5 1.2 .5 1.3 .5 1.5 .5 1.5 .6 1.4 .5 1.5 .5 1.5 .5 1.3 .5 1.2 .5 1.1 .5 1 .6 .7 .5 .6 .5 .3 .5 .1 .5-.1 .5-.5 .5-.7 .5-1 .6-1.2 .5-1.4 .5-1.5 .5-1.6 .5-1.7 .5-1.7 .5-1.6 .5-1.5 .5-1.4 .6-1.2 .5-1 .5-.7 .5-.5 .5-.1 .5 .1 .5 .3 .6 .6 .5 .6 .5 .8 .5 .8 .5 .8 .5 .6 .6 .6 .5 .3 .5 .1 .5 0 .5-.1 .5 0 .5-.2 .5-.1 .5-.1 .5-.1 .5-.1 .5-.2 .5 0 .5-.1 .5 0 .5 .1 .5 .2 .5 .3 .6 .4 .5 .5 .5 .7 .5 .7 .5 .8 .5 .8 .5 .9 .5 .9 .6 .9 .5 .9 .5 .8 .5 .8 .5 .7 .5 .7 .5 .5 .6 .4 .5 .3 .5 .2 .5 .1 .5 0 .5-.2 .5-.2 .5-.3 .5-.3 .5-.5 .5-.5 .5-.6 .5-.6 .5-.7 .5-.8 .5-.8 .5-.8 .5-.8 .5-.8 .5-.9 .5-.8 .5-.8 .5-.8 .5-.8 .5-.8 .5-.7 .5-.6 .5-.6 .5-.5 .5-.5 .5-.3 .5-.3 .5-.2 .5-.2 .5 0 .5 .1 .5 .2 .5 .4 .5 .6 .5 .7 .5 .9 .5 .9 .5 1.1 .5 1.1 .5 1.2 .5 1.2 .5 1.3 .5 1.2 .5 1.2 .5 1.1 .5 1.1 .5 .9 .5 .9 .5 .7 .5 .6 .5 .4 .5 .2 .5 .1 .5-.1 .5-.4 .5-.6 .6-.9 .5-1 .5-1.2 .5-1.4 .5-1.5 .5-1.5 .6-1.5 .5-1.5 .5-1.5 .5-1.4 .5-1.2 .5-1 .6-.9 .5-.6 .5-.4 .5-.1 .5 .1 .5 .1 .5 .2 .5 .4 .6 .4 .5 .5 .5 .6 .5 .7 .5 .8 .5 .7 .5 .9 .5 .9 .5 .9 .5 .9 .6 .9 .5 .9 .5 .9 .5 .9 .5 .9 .5 .7 .5 .8 .5 .7 .5 .6 .5 .5 .6 .4 .5 .4 .5 .2 .5 .1 .5 .1 .5-.1 .5-.2 .5-.3 .5-.5 .5-.6 .5-.6 .5-.8 .5-.9 .5-.9 .5-1 .5-1 .5-1 .5-1 .5-1 .5-.9 .5-.9 .5-.8 .5-.6 .5-.6 .5-.5 .5-.3 .5-.2 .5-.1 .5 0 .5 .2 .5 .2 .5 .4 .5 .4 .5 .4 .6 .6 .5 .6 .5 .7 .5 .7 .5 .8 .5 .8 .5 .7 .5 .8 .5 .8 .5 .8 .5 .7 .5 .7 .5 .6 .6 .6 .5 .4 .5 .4 .5 .4 .5 .2 .5 .2 .5 0 .5-.1 .5-.1 .5-.3 .5-.3 .5-.4 .5-.6 .5-.6 .5-.6 .5-.8 .5-.8 .5-.8 .5-.8 .6-.8 .5-.9 .5-.8 .5-.8 .5-.8 .5-.8 .5-.6 .5-.6 .5-.6 .5-.4 .5-.3 .5-.3 .5-.1 .5-.1 .5 .1 .5 .2 .5 .3 .5 .4 .5 .5 .5 .7 .5 .7 .5 .9 .5 .9 .5 .9 .5 1 .5 1.1 .5 1 .6 1 .5 1.1 .5 1 .5 .9 .5 .9 .5 .9 .5 .7 .5 .7 .5 .5 .5 .4 .5 .3 .5 .2 .5 .1 .5-.1 .5-.3 .5-.4 .5-.6 .5-.8 .5-.9 .5-1.1 .5-1.1 .5-1.3 .5-1.2 .5-1.4 .5-1.3 .5-1.4 .5-1.2 .5-1.3 .5-1.1 .5-1.1 .5-.9 .5-.8 .5-.6 .5-.4 .5-.3 .5-.1 .5 .1 .5 .3 .6 .6 .5 .7 .5 .9 .5 1.1 .5 1.2 .6 1.3 .5 1.3 .5 1.4 .5 1.3 .6 1.3 .5 1.2 .5 1.1 .5 .9 .5 .7 .6 .6 .5 .3 .5 .1 .5-.1 .5-.2 .5-.3 .6-.4 .5-.6 .5-.6 .5-.7 .5-.8 .5-.8 .6-.8 .5-.8 .5-.8 .5-.7 .5-.6 .5-.6 .6-.4 .5-.3 .5-.2 .5-.1 .5 0 .5 .2 .6 .2 .5 .3 .5 .3 .5 .5 .5 .4 .6 .6 .5 .5 .5 .5 .5 .5 .6 .6 .5 .4 .5 .5 .5 .3 .5 .3 .6 .2 .5 .2 .5 0 .5-.1 .5-.1 .5-.3 .6-.3 .5-.4 .5-.5 .5-.6 .5-.5 .5-.5 .5-.6 .5-.5 .5-.4 .6-.3 .5-.3 .5-.1 .5-.1 .5 .1 .5 .2 .5 .4 .5 .5 .5 .6 .5 .7 .6 .6 .5 .7 .5 .6 .5 .5 .5 .4 .5 .2 .5 .1 .5 0 .5-.2 .5-.1 .5-.3 .5-.3 .5-.4 .5-.4 .5-.5 .5-.5 .5-.6 .5-.5 .5-.6 .5-.5 .5-.6 .5-.5 .5-.5 .5-.4 .5-.4 .5-.3 .5-.3 .5-.1 .5-.2 .5 0 .5 .1 .5 .2 .5 .4 .5 .5 .6 .6 .5 .7 .5 .8 .5 .8 .5 .8 .5 .8 .5 .7 .6 .6 .5 .5 .5 .4 .5 .2 .5 .1 .5-.1 .5-.2 .5-.4 .5-.6 .6-.7 .5-.7 .5-.9 .5-.9 .5-.8 .5-.9 .5-.7 .6-.7 .5-.6 .5-.4 .5-.2 .5-.1 .5 .1 .5 .3 .5 .4 .5 .6 .5 .7 .5 .8 .6 .8 .5 .8 .5 .7 .5 .6 .5 .4 .5 .3 .5 .1 .5-.1 .5-.2 .5-.3 .5-.5 .6-.6 .5-.6 .5-.7 .5-.8 .5-.7 .5-.7 .5-.6 .6-.6 .5-.5 .5-.3 .5-.2 .5-.1 .5 .1 .5 .1 .5 .2 .5 .4 .5 .4 .5 .5 .5 .6 .5 .6 .5 .7 .5 .7 .5 .7 .5 .8 .5 .7 .5 .7 .5 .7 .5 .6 .5 .6 .5 .5 .5 .4 .5 .4 .5 .2 .5 .1 .5 .1 .6 0 .5-.2 .6-.2 .5-.2 .6-.2 .5-.2 .6 0" fill="none" stroke="#0000ff" stroke-width="1.1" stroke-linejoin="round"/>
<path d="M66.3 326.9l.5 0 .5 0 .5 .1 .5 0 .5 .1 .5 .1 .5 .1 .5 .1 .6 .2 .5 .1 .5 .2 .5 .1 .5 .2 .5 .2 .5 .2 .5 .3 .5 .2 .5 .2 .5 .3 .5 .2 .5 .3 .5 .3 .5 .2 .5 .3 .5 .3 .6 .2 .5 .3 .5 .3 .5 .2 .5 .3 .5 .3 .5 .2 .5 .3 .5 .2 .5 .2 .5 .3 .5 .2 .5 .2 .5 .2 .5 .1 .5 .2 .5 .1 .6 .2 .5 .1 .5 .1 .5 .1 .5 .1 .5 0 .5 .1 .5 0 .5 0 .5 0 .5 0 .5-.1 .5 0 .5-.1 .5-.1 .5-.1 .5-.2 .5-.1 .5-.2 .5-.1 .5-.2 .5-.2 .5-.2 .5-.3 .6-.2 .5-.3 .5-.2 .5-.3 .5-.3 .5-.3 .5-.3 .5-.3 .5-.3 .5-.4 .5-.3 .5-.3 .5-.4 .5-.3 .5-.3 .5-.4 .5-.3 .5-.3 .5-.4 .5-.3 .5-.3 .5-.4 .5-.3 .5-.3 .5-.3 .5-.3 .5-.3 .5-.3 .5-.2 .5-.3 .6-.2 .5-.3 .5-.2 .5-.2 .5-.2 .5-.1 .5-.2 .5-.1 .5-.2 .5-.1 .5-.1 .5-.1 .5 0 .5-.1 .5 0 .5 0 .5 0 .5 0 .5 .1 .5 .1 .5 .1 .5 .1 .5 .1 .5 .2 .5 .2 .5 .2 .5 .2 .5 .2 .5 .3 .5 .3 .6 .3 .5 .3 .5 .3 .5 .3 .5 .4 .5 .3 .5 .4 .5 .4 .5 .4 .5 .4 .5 .4 .5 .4 .5 .4 .5 .4 .5 .4 .5 .4 .5 .4 .5 .4 .5 .4 .5 .4 .5 .4 .5 .4 .5 .4 .5 .4 .5 .3 .5 .4 .5 .3 .5 .3 .5 .3 .6 .3 .5 .3 .5 .3 .5 .2 .5 .2 .5 .2 .5 .2 .5 .2 .5 .1 .5 .1 .5 .1 .5 .1 .5 .1 .5 0 .5 0 .5 0 .5-.1 .5 0 .5-.1 .5-.1 .5-.2 .5-.2 .6-.2 .5-.2 .5-.2 .5-.3 .5-.3 .5-.3 .5-.3 .5-.3 .5-.4 .5-.3 .5-.4 .5-.4 .5-.4 .5-.4 .5-.4 .5-.4 .6-.3 .5-.4 .5-.4 .5-.4 .5-.4 .5-.4 .5-.3 .5-.4 .5-.3 .5-.3 .5-.3 .5-.3 .5-.3 .5-.2 .5-.2 .6-.2 .5-.2 .5-.2 .5-.1 .5-.1 .5 0 .5-.1 .5 0 .5 0 .5 0 .5 .1 .5 0 .5 .1 .5 .1 .5 .1 .5 .2 .6 .1 .5 .2 .5 .1 .5 .2 .5 .2 .5 .3 .5 .2 .5 .2 .5 .3 .5 .2 .5 .3 .5 .2 .5 .3 .5 .3 .5 .3 .5 .3 .6 .2 .5 .3 .5 .3 .5 .3 .5 .3 .5 .2 .5 .3 .5 .2 .5 .3 .5 .2 .5 .2 .5 .3 .5 .2 .5 .2 .5 .1 .5 .2 .6 .1 .5 .2 .5 .1 .5 .1 .5 .1 .5 0 .5 .1 .5 0 .5 0 .5 0 .5 0 .5-.1 .5-.1 .5-.1 .6-.1 .5-.2 .5-.1 .5-.2 .5-.2 .5-.2 .5-.3 .5-.2 .5-.3 .5-.3 .5-.3 .5-.3 .6-.3 .5-.3 .5-.3 .5-.4 .5-.3 .5-.4 .5-.3 .5-.3 .5-.4 .5-.3 .5-.3 .6-.3 .5-.3 .5-.3 .5-.3 .5-.3 .5-.2 .5-.3 .5-.2 .5-.2 .5-.2 .5-.1 .5-.2 .6-.1 .5-.1 .5-.1 .5-.1 .5 0 .5 0 .5 0 .5 .1 .5 0 .5 .1 .5 .1 .5 .2 .5 .2 .5 .1 .5 .3 .5 .2 .5 .3 .5 .2 .5 .3 .5 .3 .5 .3 .5 .4 .5 .3 .5 .4 .5 .3 .5 .4 .5 .3 .5 .4 .5 .3 .5 .4 .5 .3 .5 .4 .5 .3 .5 .3 .5 .3 .5 .2 .5 .3 .5 .2 .5 .3 .5 .1 .5 .2 .5 .2 .5 .1 .5 .1 .5 0 .5 .1 .5 0 .5 0 .5 0 .5 0 .5 0 .5 0 .5 0 .5 0 .5 0 .5 0 .5 0 .5 0 .5 .1 .5 0 .5 0 .5 0 .5 0 .5 0 .5 0 .5 0 .5 0 .5 0 .5 0 .5 0 .5 0 .5-.1 .5 0 .6-.1 .5 0 .5-.1 .5-.1 .5-.1 .5-.1 .5-.1 .5-.1 .5-.1 .6-.1 .5-.1 .5-.1 .5-.1 .5-.1 .5-.1 .5-.1 .5-.1 .5-.1 .5 0 .6-.1 .5 0 .5-.1 .5 0 .5 0 .5 0 .5 0 .5-.1 .5-.1 .5-.1 .6-.1 .5-.1 .5-.1 .5-.2 .5-.2 .5-.2 .5-.2 .5-.2 .5-.2 .5-.3 .5-.2 .6-.3 .5-.3 .5-.2 .5-.3 .5-.3 .5-.3 .5-.3 .5-.3 .5-.3 .5-.2 .5-.3 .6-.3 .5-.2 .5-.3 .5-.2 .5-.2 .5-.2 .5-.2 .5-.2 .5-.2 .5-.1 .5-.1 .6-.1 .5-.1 .5-.1 .5-.1 .5 0 .5 0 .5 0 .5 0 .5 0 .5 0 .6 0 .5 0 .5 .1 .5 0 .5 0 .5 0 .5 0 .5 0 .5 .1 .5 0 .6 0 .5 0 .5 0 .5 0 .5 0 .5 0 .5 .1 .5 0 .5 .1 .5 .2 .5 .1 .5 .2 .5 .2 .5 .2 .5 .3 .5 .3 .5 .3 .6 .3 .5 .4 .5 .3 .5 .4 .5 .4 .5 .4 .5 .4 .5 .5 .5 .4 .5 .5 .5 .4 .5 .5 .5 .5 .5 .4 .5 .5 .5 .5 .5 .4 .5 .5 .5 .4 .5 .5 .5 .4 .5 .4 .5 .4 .5 .4 .5 .3 .5 .4 .6 .3 .5 .3 .5 .3 .5 .3 .5 .2 .5 .2 .5 .2 .5 .1 .5 .2 .5 .1 .5 0 .5 .1 .5 0 .5 0 .5-.1 .5-.1 .5-.2 .5-.3 .5-.2 .5-.4 .5-.4 .5-.4 .5-.5 .5-.5 .5-.5 .5-.6 .5-.6 .5-.7 .5-.6 .5-.7 .5-.8 .5-.7 .5-.7 .5-.8 .5-.8 .5-.7 .5-.8 .5-.8 .5-.7 .5-.7 .5-.8 .5-.7 .5-.6 .5-.7 .5-.6 .5-.6 .5-.5 .5-.5 .5-.5 .5-.4 .5-.4 .5-.4 .5-.2 .5-.3 .5-.2 .5-.1 .5-.1 .5 0 .5 0 .5 .1 .5 .2 .5 .3 .5 .3 .5 .4 .5 .5 .5 .5 .5 .6 .6 .6 .5 .7 .5 .8 .5 .7 .5 .9 .5 .8 .5 .9 .5 .8 .5 .9 .5 1 .5 .9 .5 .9 .5 .8 .5 .9 .5 .8 .5 .9 .5 .7 .5 .8 .5 .7 .6 .6 .5 .6 .5 .5 .5 .5 .5 .4 .5 .3 .5 .3 .5 .2 .5 .1 .5 0 .5 0 .5-.1 .5 0 .5-.2 .5-.1 .5-.2 .5-.2 .5-.2 .6-.2 .5-.3 .5-.3 .5-.4 .5-.3 .5-.4 .5-.4 .5-.4 .5-.5 .5-.5 .5-.4 .5-.5 .5-.5 .5-.5 .5-.6 .5-.5 .5-.5 .5-.6 .6-.5 .5-.5 .5-.6 .5-.5 .5-.5 .5-.6 .5-.5 .5-.5 .5-.5 .5-.4 .5-.5 .5-.5 .5-.4 .5-.4 .5-.4 .5-.3 .5-.4 .5-.3 .6-.3 .5-.2 .5-.2 .5-.2 .5-.2 .5-.1 .5-.2 .5 0 .5-.1 .5 0 .5 0 .5 .1 .5 .1 .5 .1 .5 .2 .5 .2 .5 .3 .5 .3 .6 .3 .5 .4 .5 .4 .5 .4 .5 .5 .5 .5 .5 .5 .5 .5 .5 .6 .5 .6 .5 .6 .5 .6 .5 .7 .5 .7 .5 .6 .5 .7 .5 .7 .5 .7 .6 .7 .5 .7 .5 .7 .5 .7 .5 .7 .5 .6 .5 .7 .5 .7 .5 .6 .5 .6 .5 .6 .5 .6 .5 .5 .5 .5 .5 .5 .5 .5 .5 .4 .5 .4 .5 .4 .6 .3 .5 .3 .5 .3 .5 .2 .5 .2 .5 .1 .5 .1 .5 .1 .5 0 .5-.1 .5-.1 .5-.3 .5-.4 .5-.5 .5-.5 .6-.7 .5-.8 .5-.8 .5-1 .5-1 .5-1.1 .5-1.1 .5-1.2 .5-1.2 .5-1.3 .5-1.3 .5-1.3 .5-1.4 .6-1.3 .5-1.3 .5-1.3 .5-1.3 .5-1.2 .5-1.2 .5-1.1 .5-1.1 .5-1 .5-1 .5-.8 .5-.8 .6-.7 .5-.5 .5-.5 .5-.4 .5-.3 .5-.1 .5-.1 .5 0 .5 .2 .5 .1 .5 .3 .5 .3 .5 .4 .5 .5 .5 .6 .5 .6 .5 .6 .5 .7 .6 .8 .5 .9 .5 .8 .5 .9 .5 1 .5 1 .5 1 .5 1 .5 1 .5 1.1 .5 1 .5 1.1 .5 1.1 .5 1 .5 1 .5 1 .5 1 .5 1 .5 .9 .5 .8 .5 .9 .6 .8 .5 .7 .5 .6 .5 .6 .5 .6 .5 .5 .5 .4 .5 .3 .5 .3 .5 .1 .5 .2 .5 0 .5 0 .5-.1 .5 0 .5-.2 .5-.1 .5-.2 .5-.2 .5-.2 .5-.3 .5-.3 .5-.3 .5-.4 .5-.4 .5-.4 .5-.4 .6-.5 .5-.5 .5-.5 .5-.5 .5-.5 .5-.6 .5-.6 .5-.6 .5-.6 .5-.6 .5-.6 .5-.6 .5-.7 .5-.6 .5-.7 .5-.6 .5-.6 .5-.7 .5-.6 .5-.7 .5-.6 .5-.6 .5-.6 .5-.6 .5-.6 .5-.6 .5-.6 .5-.5 .5-.5 .5-.5 .5-.5 .6-.5 .5-.4 .5-.4 .5-.4 .5-.4 .5-.3 .5-.3 .5-.3 .5-.2 .5-.2 .5-.2 .5-.1 .5-.2 .5 0 .5-.1 .5 0 .5 0 .5 .2 .5 .1 .5 .3 .5 .4 .5 .4 .5 .5 .5 .5 .5 .6 .6 .7 .5 .7 .5 .8 .5 .8 .5 .9 .5 .8 .5 1 .5 .9 .5 1 .5 .9 .5 1 .5 .9 .5 1 .5 .9 .5 1 .5 .8 .5 .9 .5 .8 .5 .8 .5 .7 .6 .7 .5 .6 .5 .5 .5 .5 .5 .4 .5 .4 .5 .3 .5 .1 .5 .2 .5 0 .5 0 .5-.1 .5 0 .5-.1 .5-.2 .5-.1 .5-.2 .5-.2 .5-.3 .5-.2 .5-.3 .5-.4 .5-.3 .5-.4 .5-.3 .5-.4 .5-.5 .5-.4 .5-.5 .5-.4 .5-.5 .5-.5 .5-.5 .5-.5 .5-.5 .5-.5 .5-.6 .5-.5 .5-.5 .5-.6 .5-.5 .5-.5 .5-.5 .5-.5 .5-.5 .5-.5 .5-.4 .5-.5 .5-.4 .5-.5 .5-.4 .5-.3 .5-.4 .5-.3 .5-.4 .5-.3 .5-.2 .5-.3 .5-.2 .5-.2 .5-.1 .5-.2 .5-.1 .5 0 .5-.1 .5 0 .5 0 .5 .1 .5 .1 .5 .1 .5 .2 .5 .2 .5 .2 .5 .3 .5 .3 .6 .4 .5 .3 .5 .4 .5 .5 .5 .4 .5 .4 .5 .5 .5 .5 .5 .5 .5 .5 .5 .4 .5 .5 .5 .5 .5 .5 .5 .5 .5 .4 .5 .4 .5 .5 .5 .4 .5 .3 .6 .4 .5 .3 .5 .3 .5 .2 .5 .2 .5 .2 .5 .1 .5 .1 .5 .1 .5 0 .5 0 .5 0 .5-.1 .5-.1 .6 0 .5-.1 .5-.2 .5-.1 .5-.1 .5-.2 .5-.1 .5-.2 .5-.2 .5-.2 .6-.1 .5-.2 .5-.2 .5-.2 .5-.1 .5-.2 .5-.1 .5-.1 .5-.2 .5-.1 .6 0 .5-.1 .5-.1 .5 0 .5 0 .5 0 .5 0 .5 0 .5 0 .5-.1 .5 0 .5 0 .5-.1 .5 0 .5-.1 .5 0 .5-.1 .5 0 .5-.1 .5-.1 .5 0 .5-.1 .5-.1 .5 0 .5-.1 .5-.1 .5-.1 .5-.1 .5 0 .5-.1 .5-.1 .5-.1 .5 0 .5-.1 .5-.1 .5 0 .5-.1 .5-.1 .5 0 .5-.1 .5 0 .5-.1 .5 0 .5-.1 .5 0 .5 0 .5-.1 .5 0 .5 0 .5 0 .5 0 .5 0 .5 0 .5 0 .5 .1 .5 0 .5 0 .5 .1 .5 .1 .5 0 .6 .1 .5 .1 .5 .1 .5 0 .5 .1 .5 .1 .5 .1 .5 .1 .5 .1 .5 .1 .5 .2 .5 .1 .5 .1 .5 .1 .5 .1 .5 .1 .5 0 .5 .1 .5 .1 .5 .1 .6 .1 .5 0 .5 .1 .5 .1 .5 0 .5 0 .5 .1 .5 0 .5 0 .5 0 .5 0 .5 0 .5 0 .5 0 .5 .1 .5 0 .5 0 .5 0 .5 .1 .6 0 .5 .1 .5 0 .5 0 .5 .1 .5 .1 .5 0 .5 .1 .5 0 .5 .1 .5 0 .5 .1 .5 0 .5 .1 .5 0 .5 .1 .5 0 .5 .1 .5 0 .5 .1 .6 0 .5 .1 .5 0 .5 0 .5 0 .5 .1 .5 0 .5 0 .5 0 .5 0 .5 0 .5 0 .5-.1 .5-.1 .5 0 .5-.1 .5-.2 .5-.1 .5-.2 .6-.1 .5-.2 .5-.2 .5-.2 .5-.2 .5-.2 .5-.3 .5-.2 .5-.2 .5-.3 .5-.2 .5-.3 .5-.2 .5-.2 .5-.3 .5-.2 .5-.2 .5-.2 .5-.2 .5-.2 .6-.1 .5-.2 .5-.1 .5-.2 .5-.1 .5 0 .5-.1 .5-.1 .5 0 .5 0 .5 0 .5 0 .5 .1 .6 .1 .5 .1 .5 .1 .5 .2 .5 .1 .5 .2 .5 .2 .5 .2 .6 .2 .5 .2 .5 .2 .5 .2 .5 .3 .5 .2 .5 .2 .6 .2 .5 .2 .5 .2 .5 .2 .5 .1 .5 .2 .5 .1 .5 .1 .6 .1 .5 .1 .5 0 .5 0" fill="none" stroke="#0000ff" stroke-width="1.1" stroke-linejoin="round"/>
<path d="M66.3 367.2l.5 0 .5 0 .5 0 .5 0 .5 0 .5 0 .5 0 .6 .1 .5 0 .5 0 .5 0 .5 0 .5 .1 .5 0 .5 0 .5 0 .5 .1 .5 0 .5 0 .5 .1 .5 0 .5 0 .6 .1 .5 0 .5 0 .5 .1 .5 0 .5 0 .5 .1 .5 0 .5 .1 .5 0 .5 0 .5 .1 .5 0 .5 0 .6 .1 .5 0 .5 0 .5 .1 .5 0 .5 0 .5 .1 .5 0 .5 0 .5 0 .5 .1 .5 0 .5 0 .5 0 .5 0 .6 .1 .5 0 .5 0 .5 0 .5 0 .5 0 .5 0 .5 0 .5 0 .5 0 .5 0 .5 0 .5 0 .5 0 .5 .1 .5 0 .5 0 .5 0 .5 0 .5 .1 .5 0 .5 0 .5 .1 .5 0 .5 0 .5 .1 .5 0 .6 .1 .5 0 .5 .1 .5 0 .5 .1 .5 0 .5 .1 .5 .1 .5 0 .5 .1 .5 .1 .5 0 .5 .1 .5 .1 .5 0 .5 .1 .5 .1 .5 .1 .5 .1 .5 .1 .5 0 .5 .1 .5 .1 .5 .1 .5 .1 .5 .1 .5 .1 .5 .1 .5 .1 .5 .1 .5 .1 .5 .1 .5 .2 .5 .1 .5 .1 .5 .1 .5 .1 .5 .1 .5 .1 .5 .2 .6 .1 .5 .1 .5 .1 .5 .2 .5 .1 .5 .1 .5 .2 .5 .1 .5 .1 .5 .1 .5 .2 .5 .1 .5 .2 .5 .1 .5 .1 .5 .2 .5 .1 .5 .2 .5 .1 .5 .1 .5 .2 .5 .1 .5 .2 .5 .1 .5 .2 .5 .1 .5 .2 .5 .1 .5 .2 .5 .1 .5 .1 .5 .2 .5 .1 .5 .2 .5 .1 .5 .2 .5 .1 .5 .2 .5 .1 .6 .2 .5 .2 .5 .1 .5 .2 .5 .1 .5 .2 .5 .1 .5 .2 .5 .1 .5 .2 .5 .1 .5 .1 .5 .2 .5 .1 .5 .2 .5 .1 .5 .2 .5 .1 .5 .2 .5 .1 .5 .2 .5 .1 .5 .1 .5 .2 .5 .1 .5 .2 .5 .1 .5 .1 .5 .2 .5 .1 .5 .2 .5 .1 .5 .1 .5 .1 .5 .2 .5 .1 .5 .1 .5 .2 .5 .1 .5 .1 .6 .1 .5 .2 .5 .1 .5 .1 .5 .1 .5 .1 .5 .1 .5 .1 .5 .2 .5 .1 .5 .1 .5 .1 .5 .1 .5 .1 .5 .1 .5 .1 .5 .1 .5 .1 .5 .1 .5 .1 .5 0 .5 .1 .5 .1 .5 .1 .5 .1 .5 .1 .5 0 .5 .1 .5 .1 .5 0 .5 .1 .5 .1 .5 0 .5 .1 .5 .1 .5 0 .5 .1 .5 0 .5 .1 .5 0 .6 .1 .5 0 .5 .1 .5 0 .5 0 .5 .1 .5 0 .5 0 .5 .1 .5 0 .5 0 .5 0 .5 0 .5 .1 .5 0 .5 0 .5 0 .5 0 .5 0 .5 0 .5 0 .5 0 .5 0 .5 0 .5 0 .5 0 .5 0 .5 0 .5 0 .5 0 .5 0 .6 0 .5 0 .5 0 .5 0 .5 0 .5 0 .5 0 .5 0 .5 0 .5 0 .5 0 .5 0 .5 0 .5 0 .5 0 .5 0 .5 0 .5 0 .5 0 .5 0 .5 0 .5 0 .6 0 .5 0 .5 0 .5 0 .5 0 .5 0 .5 0 .5 0 .5 0 .5 0 .5 0 .5 0 .5 0 .5 0 .5 0 .5 .1 .5 0 .5 0 .5 .1 .5 0 .5 .1 .5 0 .5 .1 .5 0 .5 .1 .5 .1 .5 .1 .5 .1 .5 0 .5 .1 .5 .1 .5 .1 .5 .1 .5 .1 .6 .1 .5 .1 .5 .1 .5 .1 .5 .1 .5 .1 .5 0 .5 .1 .5 .1 .5 .1 .5 .1 .5 0 .5 .1 .5 0 .5 .1 .5 0 .5 .1 .5 0 .5 0 .5 .1 .5 0 .5 0 .5 0 .5 0 .5 0 .5 0 .5-.1 .5 0 .5-.1 .5 0 .5-.1 .5-.1 .5-.1 .5 0 .5-.1 .5-.2 .5-.1 .5-.1 .5-.1 .6-.2 .5-.1 .5-.2 .5-.2 .5-.1 .5-.2 .5-.2 .5-.2 .5-.2 .5-.2 .5-.2 .5-.2 .5-.3 .5-.2 .5-.2 .5-.3 .5-.2 .5-.3 .5-.2 .5-.3 .5-.3 .5-.2 .5-.3 .5-.3 .5-.2 .5-.3 .5-.3 .5-.3 .5-.3 .5-.2 .5-.3 .5-.3 .5-.3 .6-.3 .5-.3 .5-.3 .5-.3 .5-.2 .5-.3 .5-.3 .5-.3 .5-.3 .5-.2 .5-.3 .5-.3 .5-.2 .5-.3 .5-.3 .5-.2 .5-.3 .5-.2 .5-.3 .5-.2 .5-.2 .5-.3 .5-.2 .5-.2 .5-.2 .5-.2 .5-.2 .5-.2 .5-.2 .5-.1 .5-.2 .5-.2 .5-.1 .6-.2 .5-.1 .5-.1 .5-.1 .5-.2 .5-.1 .5 0 .5-.1 .5-.1 .5-.1 .5 0 .5-.1 .5 0 .5-.1 .5 0 .5 0 .5 0 .5 0 .5 0 .5 0 .5 .1 .5 0 .5 .1 .5 .1 .5 0 .6 .1 .5 .1 .5 .1 .5 .2 .5 .1 .5 .1 .5 .2 .5 .1 .5 .2 .5 .2 .5 .1 .5 .2 .5 .2 .5 .2 .5 .2 .5 .2 .5 .2 .6 .2 .5 .3 .5 .2 .5 .2 .5 .2 .5 .3 .5 .2 .5 .2 .5 .3 .5 .2 .5 .2 .5 .3 .5 .2 .5 .2 .5 .2 .5 .3 .6 .2 .5 .2 .5 .2 .5 .2 .5 .2 .5 .2 .5 .2 .5 .1 .5 .2 .5 .2 .5 .1 .5 .2 .5 .1 .5 .1 .5 .2 .5 .1 .5 .1 .6 .1 .5 0 .5 .1 .5 .1 .5 0 .5 .1 .5 0 .5 0 .5 0 .5 0 .5 0 .5 0 .5-.1 .5 0 .5-.1 .5 0 .5-.1 .5 0 .5-.1 .5-.1 .5-.1 .5-.1 .5-.1 .5-.1 .5-.1 .5-.1 .5-.1 .5-.2 .5-.1 .5-.1 .5-.1 .6-.2 .5-.1 .5-.1 .5-.1 .5-.2 .5-.1 .5-.1 .5-.1 .5-.1 .5-.1 .5-.1 .5-.1 .5-.1 .5-.1 .5 0 .5-.1 .5 0 .5-.1 .5 0 .5-.1 .5 0 .5 0 .5 0 .5 0 .5 0 .5 .1 .5 0 .5 .1 .5 .1 .5 .1 .5 .1 .5 .1 .5 .1 .5 .2 .6 .1 .5 .2 .5 .2 .5 .1 .5 .2 .5 .2 .5 .2 .5 .3 .5 .2 .5 .2 .5 .2 .5 .2 .5 .2 .5 .2 .5 .2 .5 .3 .5 .2 .5 .2 .5 .2 .5 .1 .5 .2 .5 .2 .6 .1 .5 .2 .5 .1 .5 .1 .5 .1 .5 .1 .5 .1 .5 .1 .5 0 .5 .1 .5 0 .5 0 .5 0 .5 0 .5 0 .5 0 .5 0 .5 0 .5 0 .5 0 .5 0 .5 0 .6-.1 .5 0 .5 0 .5 0 .5 0 .5 0 .5 0 .5 0 .5-.1 .5 0 .5 0 .5 0 .5 0 .5 0 .5-.1 .5 0 .5 0 .5 0 .5 0 .5-.1 .6 0 .5 0 .5 0 .5 0 .5-.1 .5 0 .5 0 .5 0 .5-.1 .5 0 .5 0 .5 0 .5 0 .5-.1 .5 0 .5 0 .5 0 .5-.1 .5 0 .5 0 .5 0 .6 0 .5-.1 .5 0 .5 0 .5 0 .5 0 .5-.1 .5 0 .5 0 .5 0 .5 0 .5 0 .5-.1 .5 0 .5 0 .5 0 .5 0 .5 0 .5 0 .5 0 .6-.1 .5 0 .5 0 .5 0 .5 0 .5 0 .5 0 .5 0 .5 0 .5 0 .5 0 .5 0 .5 0 .5-.1 .5 0 .5-.1 .5 0 .5-.1 .5-.1 .5-.2 .5-.1 .5-.1 .5-.2 .5-.1 .5-.2 .5-.2 .5-.2 .6-.2 .5-.2 .5-.2 .5-.3 .5-.2 .5-.2 .5-.3 .5-.2 .5-.3 .5-.3 .5-.3 .5-.2 .5-.3 .5-.3 .5-.3 .5-.2 .5-.3 .5-.3 .5-.3 .5-.3 .5-.2 .5-.3 .5-.3 .5-.3 .5-.2 .5-.3 .5-.2 .5-.2 .5-.3 .5-.2 .5-.2 .6-.2 .5-.2 .5-.2 .5-.2 .5-.1 .5-.2 .5-.1 .5-.1 .5-.2 .5-.1 .5-.1 .5 0 .5-.1 .5 0 .5-.1 .5 0 .5 0 .5 0 .5 0 .5 .1 .5 0 .5 0 .5 .1 .5 .1 .5 .1 .5 0 .5 .2 .6 .1 .5 .1 .5 .1 .5 .2 .5 .1 .5 .2 .5 .2 .5 .1 .5 .2 .5 .2 .5 .2 .5 .2 .5 .3 .5 .2 .5 .2 .5 .3 .5 .2 .5 .3 .5 .2 .5 .3 .6 .3 .5 .2 .5 .3 .5 .3 .5 .3 .5 .3 .5 .2 .5 .3 .5 .3 .5 .3 .5 .3 .5 .3 .5 .3 .5 .3 .5 .3 .5 .2 .5 .3 .5 .3 .5 .3 .5 .3 .5 .2 .6 .3 .5 .3 .5 .2 .5 .3 .5 .2 .5 .3 .5 .2 .5 .2 .5 .3 .5 .2 .5 .2 .5 .2 .5 .2 .5 .1 .5 .2 .5 .2 .5 .1 .5 .2 .5 .1 .5 .1 .6 .1 .5 .2 .5 0 .5 .1 .5 .1 .5 .1 .5 0 .5 0 .5 .1 .5 0 .5 0 .5 0 .5 0 .5 0 .5 0 .5 0 .5 0 .5 0 .5 0 .5 0 .5 0 .5 0 .5 0 .5 0 .5 0 .5 0 .5 0 .5 0 .5 0 .5 0 .5 0 .5 0 .5 0 .5 0 .5 0 .5 0 .5 0 .5 0 .5 0 .5 0 .5 0 .5 0 .5 0 .5 0 .5 0 .5 0 .5 0 .5 0 .5 0 .5 0 .5 0 .5 0 .5 0 .5 0 .5 0 .5 0 .5 0 .5 0 .5 0 .5 0 .5 0 .5 0 .5 0 .5 0 .5 0 .5 0 .5 0 .5 0 .5-.1 .5 0 .5 0 .5-.1 .5-.1 .5-.1 .5-.1 .5-.1 .5-.1 .5-.1 .5-.2 .5-.1 .5-.2 .5-.2 .5-.2 .5-.1 .5-.2 .5-.2 .5-.3 .5-.2 .5-.2 .5-.2 .5-.3 .5-.2 .5-.3 .5-.2 .5-.3 .5-.3 .5-.2 .5-.3 .5-.3 .5-.3 .5-.2 .5-.3 .5-.3 .5-.3 .5-.2 .5-.3 .5-.3 .5-.3 .5-.2 .5-.3 .5-.3 .5-.2 .5-.3 .5-.2 .5-.3 .5-.2 .5-.2 .5-.2 .5-.3 .5-.2 .5-.2 .5-.1 .5-.2 .5-.2 .5-.2 .5-.1 .5-.2 .5-.1 .5-.1 .5-.1 .5-.1 .5-.1 .5-.1 .5-.1 .5 0 .5 0 .5-.1 .5 0 .5 0 .5 0 .5 0 .5 0 .5 0 .5 0 .5 0 .5 .1 .5 0 .5 0 .5 0 .5 0 .5 .1 .5 0 .5 0 .5 .1 .5 0 .5 0 .5 .1 .5 0 .5 .1 .5 0 .5 0 .5 .1 .5 0 .5 .1 .5 .1 .6 0 .5 .1 .5 0 .5 .1 .5 .1 .5 0 .5 .1 .5 .1 .5 0 .5 .1 .5 .1 .5 .1 .5 .1 .5 0 .5 .1 .5 .1 .5 .1 .5 .1 .5 .1 .5 .1 .5 .1 .5 0 .5 .1 .5 .1 .5 .1 .5 .1 .5 .1 .5 .1 .5 .1 .5 .1 .5 .1 .5 .1 .5 .2 .5 .1 .5 .1 .5 .1 .5 .1 .5 .1 .5 .1 .5 .1 .5 .1 .5 .2 .5 .1 .5 .1 .5 .1 .5 .1 .5 .1 .5 .1 .5 .2 .5 .1 .5 .1 .5 .1 .5 .1 .5 .1 .6 .2 .5 .1 .5 .1 .5 .1 .5 .1 .5 .1 .5 .2 .5 .1 .5 .1 .5 .1 .5 .1 .5 .1 .5 .1 .5 .2 .5 .1 .5 .1 .5 .1 .5 .1 .5 .1 .5 .1 .5 .1 .5 .1 .5 .2 .5 .1 .5 .1 .5 .1 .5 .1 .5 .1 .5 .1 .5 .1 .5 .1 .5 .1 .5 .1 .5 0 .5 .1 .5 .1 .5 .1 .5 .1 .5 .1 .5 .1 .5 .1 .5 0 .5 .1 .5 .1 .5 .1 .5 .1 .5 0 .5 .1 .5 .1 .5 0 .5 .1 .5 .1 .5 0 .5 .1 .6 0 .5 .1 .5 .1 .5 0 .5 .1 .5 0 .5 0 .5 .1 .5 0 .5 .1 .5 0 .5 0 .5 .1 .5 0 .5 0 .5 .1 .5 0 .5 0 .5 0 .5 0 .5 .1 .5 0 .5 0 .5 0 .5 0 .5 0 .5 0 .5 0 .5 0 .5 0 .5 0 .5 0 .5 0 .5-.1 .5 0 .5 0 .5 0 .5-.1 .5 0 .5 0 .5-.1 .5 0 .5 0 .5-.1 .5 0 .5-.1 .5 0 .5-.1 .5 0 .5-.1 .5 0 .5-.1 .5 0 .5-.1 .5-.1 .5 0 .5-.1 .5-.1 .5 0 .5-.1 .5-.1 .5-.1 .5 0 .5-.1 .5-.1 .5-.1 .5 0 .5-.1 .5-.1 .5-.1 .5 0 .5-.1 .5-.1 .5-.1 .5-.1 .5 0 .5-.1 .5-.1 .5-.1 .5 0 .5-.1 .5-.1 .5-.1 .5 0 .5-.1 .5-.1 .5-.1 .5 0 .5-.1 .5-.1 .5 0 .5-.1 .5-.1 .5 0 .5-.1 .5 0 .5-.1 .5 0 .5-.1 .5 0 .5-.1 .5 0 .5-.1 .5 0 .5 0 .5-.1 .5 0 .5 0 .5-.1 .5 0 .5 0 .5 0 .5-.1 .5 0 .5 0 .5 0 .5 0 .5 0 .5 0" fill="none" stroke="#0000ff" stroke-width="1.1" stroke-linejoin="round"/>
<path d="M66.3 415.6l.5 0 .5 0 .5 0 .5 0 .5 0 .5 0 .5 0 .5 .1 .5 0 .5 0 .5 0 .5 0 .5 .1 .5 0 .5 0 .5 0 .5 .1 .5 0 .5 0 .5 .1 .5 0 .5 0 .5 .1 .5 0 .5 .1 .5 0 .5 0 .5 .1 .5 0 .5 .1 .5 .1 .5 0 .5 .1 .5 0 .5 .1 .5 0 .5 .1 .5 .1 .5 0 .5 .1 .5 .1 .5 .1 .5 0 .5 .1 .5 .1 .5 .1 .5 0 .5 .1 .5 .1 .5 .1 .5 .1 .5 .1 .5 0 .5 .1 .5 .1 .5 .1 .5 .1 .5 .1 .5 .1 .5 .1 .5 .1 .5 .1 .5 .1 .5 .1 .5 .1 .5 .1 .5 .1 .5 .1 .5 .2 .5 .1 .5 .1 .5 .1 .5 .1 .5 .1 .5 .1 .5 .2 .5 .1 .5 .1 .5 .1 .5 .2 .5 .1 .5 .1 .5 .1 .5 .2 .5 .1 .5 .1 .5 .2 .5 .1 .5 .1 .5 .2 .5 .1 .5 .1 .5 .2 .5 .1 .5 .1 .5 .2 .5 .1 .5 .2 .5 .1 .5 .2 .5 .1 .5 .1 .5 .2 .5 .1 .5 .2 .5 .1 .5 .2 .5 .1 .5 .2 .5 .1 .5 .2 .5 .1 .5 .2 .5 .1 .5 .2 .5 .1 .5 .2 .5 .1 .5 .2 .5 .1 .5 .2 .5 .2 .5 .1 .5 .2 .5 .1 .5 .2 .5 .1 .5 .2 .5 .1 .5 .2 .5 .2 .5 .1 .5 .2 .5 .1 .5 .2 .5 .2 .5 .1 .5 .2 .5 .1 .5 .2 .5 .1 .5 .2 .5 .2 .5 .1 .5 .2 .5 .1 .5 .2 .5 .2 .5 .1 .5 .2 .5 .1 .5 .2 .5 .1 .5 .2 .5 .1 .5 .2 .5 .2 .5 .1 .5 .2 .5 .1 .5 .2 .5 .1 .5 .2 .5 .1 .5 .2 .5 .1 .5 .2 .5 .1 .5 .2 .5 .1 .5 .2 .5 .1 .5 .2 .5 .1 .5 .2 .5 .1 .5 .1 .5 .2 .5 .1 .5 .2 .5 .1 .5 .2 .5 .1 .5 .1 .5 .2 .5 .1 .5 .1 .5 .2 .5 .1 .5 .1 .5 .2 .5 .1 .5 .1 .5 .2 .5 .1 .5 .1 .5 .1 .5 .2 .5 .1 .5 .1 .5 .1 .5 .2 .5 .1 .5 .1 .5 .1 .5 .1 .5 .1 .5 .1 .5 .2 .5 .1 .5 .1 .5 .1 .5 .1 .5 .1 .5 .1 .5 .1 .5 .1 .5 .1 .5 .1 .5 .1 .5 .1 .5 .1 .5 .1 .5 .1 .5 0 .5 .1 .5 .1 .5 .1 .5 .1 .5 .1 .5 0 .5 .1 .5 .1 .5 .1 .5 0 .5 .1 .5 .1 .5 .1 .5 0 .5 .1 .5 .1 .5 0 .5 .1 .5 0 .5 .1 .5 0 .5 .1 .5 .1 .5 0 .5 .1 .5 0 .5 0 .5 .1 .5 0 .5 .1 .5 0 .5 0 .5 .1 .5 0 .5 0 .5 .1 .5 0 .5 0 .5 0 .5 .1 .5 0 .5 0 .5 0 .5 0 .5 .1 .5 0 .5 0 .5 0 .5 0 .5 0 .5 0 .5 0 .5 0 .5 0 .5 0 .5 0 .5 0 .5 0 .5-.1 .5 0 .5 0 .5 0 .5 0 .5-.1 .5 0 .5 0 .5-.1 .5 0 .5 0 .5-.1 .5 0 .5-.1 .5 0 .5-.1 .5 0 .5-.1 .5 0 .5-.1 .5-.1 .5 0 .5-.1 .5-.1 .5 0 .5-.1 .5-.1 .5-.1 .5-.1 .5 0 .5-.1 .5-.1 .5-.1 .5-.1 .5-.1 .5-.1 .5-.1 .5-.1 .5-.1 .5-.1 .5-.1 .5-.1 .5-.1 .5-.1 .5-.1 .5-.1 .5-.1 .5-.1 .5-.2 .5-.1 .5-.1 .5-.1 .5-.1 .5-.2 .5-.1 .5-.1 .5-.1 .5-.2 .5-.1 .5-.1 .5-.2 .5-.1 .5-.1 .5-.2 .5-.1 .5-.1 .5-.2 .5-.1 .5-.2 .5-.1 .5-.2 .5-.1 .5-.1 .5-.2 .5-.1 .5-.2 .5-.1 .5-.2 .5-.1 .5-.2 .5-.1 .5-.2 .5-.1 .5-.2 .5-.1 .5-.2 .5-.2 .5-.1 .5-.2 .5-.1 .5-.2 .5-.1 .5-.2 .5-.1 .5-.2 .5-.1 .5-.2 .5-.1 .5-.2 .5-.1 .5-.2 .5-.2 .5-.1 .5-.2 .5-.1 .5-.2 .5-.1 .5-.2 .5-.1 .5-.2 .5-.1 .5-.2 .5-.1 .5-.2 .5-.1 .5-.1 .5-.2 .5-.1 .5-.2 .5-.1 .5-.2 .5-.1 .5-.1 .5-.2 .5-.1 .5-.1 .5-.2 .5-.1 .5-.1 .5-.2 .5-.1 .5-.1 .5-.1 .5-.2 .5-.1 .5-.1 .5-.1 .5-.1 .5-.2 .5-.1 .5-.1 .5-.1 .5-.1 .5-.1 .5-.1 .5-.1 .5-.1 .5-.1 .5-.1 .5-.1 .5-.1 .5-.1 .5-.1 .5-.1 .5-.1 .5-.1 .5-.1 .5 0 .5-.1 .5-.1 .5-.1 .5-.1 .5 0 .5-.1 .5-.1 .5 0 .5-.1 .5-.1 .5 0 .5-.1 .5 0 .5-.1 .5 0 .5-.1 .5 0 .5-.1 .5 0 .5 0 .5-.1 .5 0 .5 0 .5-.1 .5 0 .5 0 .5 0 .5 0 .5-.1 .5 0 .5 0 .5 0 .5 0 .5 0 .5 0 .5 0 .5 0 .5 0 .5 0 .5 0 .5 0 .5 .1 .5 0 .5 0 .5 0 .5 .1 .5 0 .5 0 .5 .1 .5 0 .5 0 .5 .1 .5 0 .5 .1 .5 0 .5 .1 .5 0 .5 .1 .5 .1 .5 0 .5 .1 .5 .1 .5 0 .5 .1 .5 .1 .5 .1 .5 0 .6 .1 .5 .1 .5 .1 .5 .1 .5 .1 .5 0 .5 .1 .5 .1 .5 .1 .5 .1 .5 .1 .5 .1 .5 .1 .5 .1 .5 .1 .5 .1 .5 .1 .5 .1 .5 .1 .5 .1 .5 .1 .5 .2 .5 .1 .5 .1 .5 .1 .5 .1 .5 .1 .5 .1 .5 .1 .5 .2 .5 .1 .5 .1 .5 .1 .5 .1 .5 .1 .5 .1 .5 .1 .5 .2 .5 .1 .5 .1 .5 .1 .5 .1 .5 .1 .5 .1 .5 .1 .5 .2 .5 .1 .5 .1 .5 .1 .5 .1 .5 .1 .5 .1 .5 .1 .5 .1 .5 .1 .5 .1 .5 .1 .5 .1 .5 .1 .5 .1 .5 .1 .5 0 .5 .1 .5 .1 .5 .1 .5 .1 .6 .1 .5 0 .5 .1 .5 .1 .5 .1 .5 0 .5 .1 .5 .1 .5 0 .5 .1 .5 .1 .5 0 .5 .1 .5 0 .5 .1 .5 0 .5 .1 .5 0 .5 0 .5 .1 .5 0 .5 0 .5 .1 .5 0 .5 0 .5 0 .5 .1 .5 0 .5 0 .5 0 .5 0 .5 0 .5 0 .5 0 .5 0 .5 0 .5 0 .5 0 .5 0 .5 0 .5 0 .5 0 .5 0 .5 0 .5-.1 .5 0 .5 0 .5 0 .5 0 .5 0 .5 0 .5 0 .5-.1 .5 0 .5 0 .5 0 .5 0 .5-.1 .5 0 .5 0 .5 0 .5 0 .5-.1 .5 0 .5 0 .5 0 .5-.1 .5 0 .5 0 .5 0 .5-.1 .5 0 .5 0 .5 0 .5-.1 .5 0 .5 0 .5-.1 .5 0 .5 0 .5-.1 .5 0 .5 0 .5-.1 .5 0 .5 0 .5-.1 .5 0 .5 0 .5-.1 .5 0 .5 0 .5-.1 .5 0 .5 0 .5-.1 .5 0 .5-.1 .5 0 .5 0 .5-.1 .5 0 .5 0 .5-.1 .5 0 .5 0 .5-.1 .5 0 .5-.1 .5 0 .5 0 .5-.1 .5 0 .5 0 .5-.1 .5 0 .5 0 .5-.1 .5 0 .5 0 .5-.1 .5 0 .5 0 .5-.1 .5 0 .5 0 .5-.1 .5 0 .5 0 .5-.1 .5 0 .5 0 .5 0 .5-.1 .5 0 .5 0 .5 0 .5-.1 .5 0 .5 0 .5 0 .5-.1 .5 0 .5 0 .5 0 .5 0 .5-.1 .5 0 .5 0 .5 0 .5 0 .5-.1 .5 0 .5 0 .5 0 .5 0 .5 0 .5 0 .5 0 .5-.1 .5 0 .5 0 .5 0 .5 0 .5 0 .5 0 .5 0 .5 0 .5 0 .5 0 .5 0 .5 0 .5 0 .5 0 .5 0 .5 0 .5 0 .5 0 .5 .1 .5 0 .5 0 .5 0 .5 0 .5 .1 .5 0 .5 0 .5 0 .5 .1 .5 0 .5 0 .5 .1 .5 0 .5 0 .5 .1 .5 0 .5 .1 .5 0 .5 .1 .5 0 .5 0 .5 .1 .5 0 .5 .1 .5 0 .5 .1 .5 .1 .5 0 .5 .1 .5 0 .5 .1 .5 0 .5 .1 .5 .1 .5 0 .5 .1 .5 .1 .5 0 .5 .1 .5 0 .5 .1 .5 .1 .5 0 .5 .1 .5 .1 .5 0 .6 .1 .5 .1 .5 0 .5 .1 .5 .1 .5 0 .5 .1 .5 .1 .5 0 .5 .1 .5 0 .5 .1 .5 .1 .5 0 .5 .1 .5 .1 .5 0 .5 .1 .5 0 .5 .1 .5 0 .5 .1 .5 .1 .5 0 .5 .1 .5 0 .5 .1 .5 0 .5 0 .5 .1 .5 0 .5 .1 .5 0 .5 .1 .5 0 .5 0 .5 .1 .5 0 .5 0 .5 .1 .5 0 .5 0 .5 0 .5 .1 .5 0 .5 0 .5 0 .5 0 .5 .1 .5 0 .5 0 .5 0 .5 0 .5 0 .5 0 .5 0 .5 0 .5 0 .5 0 .5 0 .5 0 .5 0 .5-.1 .5 0 .5 0 .5 0 .5 0 .5-.1 .5 0 .5 0 .5 0 .5-.1 .5 0 .5 0 .5-.1 .5 0 .5-.1 .5 0 .5 0 .5-.1 .5 0 .5-.1 .5 0 .5-.1 .5-.1 .5 0 .5-.1 .5 0 .5-.1 .5-.1 .5 0 .5-.1 .5-.1 .5 0 .5-.1 .5-.1 .5-.1 .5 0 .5-.1 .5-.1 .5-.1 .5 0 .5-.1 .5-.1 .5-.1 .5-.1 .5-.1 .5-.1 .5 0 .5-.1 .5-.1 .5-.1 .5-.1 .5-.1 .5-.1 .5-.1 .5-.1 .5-.1 .5-.1 .5-.1 .5-.1 .5-.1 .5-.1 .5-.1 .5-.1 .5-.1 .5-.1 .5-.1 .5-.1 .6 0 .5-.1 .5-.1 .5-.1 .5-.1 .5-.1 .5-.1 .5-.1 .5-.1 .5-.1 .5-.1 .5-.1 .5-.1 .5-.1 .5-.1 .5-.1 .5-.1 .5-.1 .5-.1 .5-.1 .5-.1 .5 0 .5-.1 .5-.1 .5-.1 .5-.1 .5-.1 .5-.1 .5 0 .5-.1 .5-.1 .5-.1 .5 0 .5-.1 .5-.1 .5-.1 .5 0 .5-.1 .5-.1 .5 0 .5-.1 .5-.1 .5 0 .5-.1 .5 0 .5-.1 .5-.1 .5 0 .5-.1 .5 0 .5-.1 .5 0 .5 0 .5-.1 .5 0 .5-.1 .5 0 .5 0 .5-.1 .5 0 .5 0 .5 0 .5-.1 .5 0 .5 0 .5 0 .5 0 .5-.1 .5 0 .5 0 .5 0 .5 0 .5 0 .5 0 .5 0 .5 0 .5 0 .5 0 .5 0 .5 0 .5 0 .5 .1 .5 0 .5 0 .5 0 .5 0 .5 0 .5 .1 .5 0 .5 0 .5 0 .5 .1 .5 0 .5 0 .5 .1 .5 0 .5 0 .5 .1 .5 0 .5 .1 .5 0 .5 .1 .5 0 .5 .1 .5 0 .5 .1 .5 0 .5 .1 .5 0 .5 .1 .5 0 .5 .1 .5 0 .6 .1 .5 .1 .5 0 .5 .1 .5 .1 .5 0 .5 .1 .5 .1 .5 0 .5 .1 .5 .1 .5 .1 .5 0 .5 .1 .5 .1 .5 .1 .5 0 .5 .1 .5 .1 .5 .1 .5 0 .5 .1 .5 .1 .5 .1 .5 .1 .5 .1 .5 0 .5 .1 .5 .1 .5 .1 .5 .1 .5 .1 .5 0 .5 .1 .5 .1 .5 .1 .5 .1 .5 .1 .5 .1 .5 0 .5 .1 .5 .1 .5 .1 .5 .1 .5 .1 .5 0 .5 .1 .5 .1 .5 .1 .5 .1 .5 .1 .5 0 .5 .1 .5 .1 .5 .1 .5 .1 .5 .1 .5 0 .5 .1 .5 .1 .5 .1 .5 0 .5 .1 .5 .1 .5 .1 .5 0 .5 .1 .5 .1 .5 .1 .5 0 .5 .1 .5 .1 .5 0 .5 .1 .5 .1 .5 0 .5 .1 .6 .1 .5 0 .5 .1 .5 0 .5 .1 .5 0 .5 .1 .5 0 .5 .1 .5 0 .5 .1 .5 0 .5 .1 .5 0 .5 .1 .5 0 .5 .1 .5 0 .5 0 .5 .1 .5 0 .5 0 .5 .1 .5 0 .5 0 .5 0 .5 .1 .5 0 .5 0 .5 0 .5 0 .5 0 .5 .1 .5 0 .5 0 .5 0 .5 0 .5 0 .5 0 .5 0 .5 0 .5 0 .5 0 .5 0 .5 0 .5 0 .5 0 .6 0 .5 0 .5 0 .5 0 .5 0 .5 0 .5 0 .5 0 .5 0 .5 0 .5 0 .5 0 .5-.1 .5 0 .5 0 .6 0 .5 0 .5 0 .5 0 .5 0 .5 0 .5 0 .5 0 .5 0 .5 0 .5 0 .5 0 .5 0 .5 0 .6 0 .5 0 .5 0 .5-.1 .5 0 .5 0 .5 0 .5 0 .5 0 .5 0 .5 0 .5 0 .5 0 .5 0 .5 0 .6 0 .5 0 .5 0 .5 0 .5 0 .5 0 .5 0 .5 0" fill="none" stroke="#0000ff" stroke-width="1.1" stroke-linejoin="round"/>
<path d="M109.2 557.2l.5 .1 .5 .7 .5-.6 .5-.5 .5 .4 .5-.3 .5-.3 .5 0 .5 .2 .5 .2 .5 .3 .5 0 .5-.2 .5-.3 .5-.1 .5 .8 .5 .3 .5-.2 .5-.3 .5 0 .5 .1 .5-.4 .5-.3 .5 .1 .5 .3 .5 .5 .5 .1 .5-.4 .5-.3 .5 0 .5 .2 .5 .2 .5 .1 .5 .2 .5 .1 .5-.5 .5 0 .5 .2 .5-.3 .5-.1 .5 .3 .5-.4 .5-1 .5-.3 .5 .9 .5 1.1 .5 .5 .5 0 .5-.4 .5-.7 .5-.2 .5-.2 .5 .1 .5 .5 .5-.4 .5-.5 .5 .2 .5 0 .5 .3 .5 .8 .5 .3 .5-.5 .5-.1 .5 0 .5-.1 .5-.2 .5-.3 .5 .4 .5 .3 .5-.2 .5 0 .5-.2 .5-.7 .5 .6 .5 .3 .5-.3 .5-.5 .5-.8 .5-.2 .5 .2 .5 .3 .5 .5 .5 1 .5 .7 .5 0 .5-.1 .5-.6 .5-.6 .5-.1 .5 .5 .5 .8 .5 0 .5-.6 .5-.4 .5 .2 .5 .4 .5-.5 .5-.7 .5-.1 .5 .1 .5 .4 .5 .3 .5 .5 .5 0 .5-.5 .5-.5 .5 .4 .5 .4 .5-.2 .5-.7 .5-.6 .5 1.2 .5 .6 .5-.3 .5-.4 .5-.4 .5 .3 .5-.6 .5-.7 .5 0 .5-.4 .5 .8 .5 .4 .5-1.2 .5 .3 .5 .9 .5 .2 .5-.4 .5 .4 .5 .4 .5 .1 .5-.3 .5-.1 .5 .5 .5 .4 .5-.6 .5-.5 .5 .4 .5 .4 .5 .2 .5-.5 .5-.6 .5-.1 .5 .2 .5-.4 .5-.4 .5 1.1 .5 .6 .5-.9 .5-.6 .5 .2 .5 .6 .5 .5 .5 .4 .5-.1 .5-.4 .5 0 .5 0 .5-.3 .5 .1 .5-.3 .5-.1 .5 .4 .5 .3 .5-.2 .5-.3 .5 0 .5 .1 .5-.6 .5 .3 .5-1.6 .5 .3 .5 1.3 .5 .4 .5-.3 .5 .2 .5 .3 .5-.6 .5-.5 .5 .3 .5 .4 .5-.4 .5-.4 .5 .4 .5 .2 .5-.6 .5-.6 .5 .1 .5 1.7 .5 .6 .5-1.2 .5-.7 .5 .6 .5 .2 .5 0 .5 0 .5-.4 .5-.6 .5 .3 .5 .7 .5-.1 .5-.9 .5-.7 .5 .2 .5 1.2 .5 1.1 .5 .4 .5-.5 .5 .2 .5 .1 .5-1.5 .5-1.1 .5 .5 .5 .3 .5-.2 .5 1 .5 .9 .5-.4 .5 .2 .5-.4 .5-.7 .5 .8 .5 .3 .5-1.2 .5-.4 .5 .7 .5-.2 .5-.5 .5 .2 .5 .3 .5-.1 .5-.2 .5 .6 .5 .3 .5-.4 .5-.3 .5 .3 .5 .3 .5-.4 .5-.3 .5-.1 .5-.2 .5-1 .5-.4 .5 .6 .5 .7 .5 0 .5 .3 .5 .9 .5 0 .5-.9 .5 0 .5 .8 .5 .1 .5-1.4 .5-1.1 .5 .8 .5 .9 .5-.1 .5-.5 .5 .2 .5 1 .5 .6 .5-.7 .5-.4 .5-.1 .5 0 .5 .4 .5-.1 .5 0 .5-.3 .5-.9 .5 0 .5 .3 .5 .3 .5 .3 .5 .4 .5 .9 .5 0 .5-.6 .5-1 .5-.7 .5 .1 .5 .2 .5-.3 .5 .4 .5 .7 .5-.5 .5-.8 .5 .2 .5 .2 .5 .2 .5 .2 .5-.1 .5 .3 .5 .3 .5-.1 .5-.4 .5-.6 .5 .1 .5 .8 .5 .4 .5-.2 .5-.5 .5-.5 .5-.4 .5 .2 .5 .5 .5 .9 .5 .3 .5-.4 .5-.6 .5-1.2 .5-.4 .5 .8 .5 .4 .5 .2 .5 .5 .5 0 .5-.9 .5-.6 .5 .6 .5 1.1 .5-.4 .5-1.7 .5-.2 .5-.1 .5 1 .5 .9 .5 .5 .5 .8 .5 .2 .5-.8 .5-.7 .5 .1 .5-.4 .5-.3 .5 .2 .5 .1 .5 0 .5-.2 .5 .9 .5 .3 .5-1.7 .5-1 .5 .4 .5-1 .5 .3 .5 .6 .5 .4 .5 .5 .5-.2 .5-.7 .5-.8 .5 .5 .5 2.3 .5 .4 .5-1 .5-.2 .5-.1 .5 .4 .5 .3 .5-.6 .5-.8 .5 0 .5-.2 .5-1.6 .5-1.5 .5 1.8 .5 2.8 .5 .5 .5-1 .5-1.1 .5-.3 .5-.2 .5-.8 .5 1 .5 1.1 .5 .3 .5-.4 .5-1 .5-.6 .5-1.3 .5 .1 .5 2.2 .5 .7 .5-.7 .5-.1 .5 .2 .5 .8 .5 1.5 .5 .3 .5-.6 .5-1.2 .5-.7 .5-.1 .5-.9 .5-1.2 .5-.2 .5-1.9 .5 1.8 .5 2.6 .5 0 .5-.9 .5 .7 .5 .4 .5-1 .5-1 .5 .3 .5 1 .5-.8 .5-1.3 .5 .9 .5 1.6 .5 .8 .5-.4 .5 .3 .5 .8 .5-.7 .5-1.2 .5-.4 .5-.1 .5-2.1 .5-.7 .5 1 .5 2.3 .5 1 .5-1.4 .5-.3 .5-.1 .5 .1 .5-.2 .5-1.6 .5 1.3 .5 .7 .5-.4 .5-.4 .5 .5 .5-.4 .5-1 .5 .6 .5 .8 .5 .8 .5-.1 .5-.4 .5 .2 .5 .7 .5-.9 .5-2.1 .5-1.2 .5 .8 .5 1.2 .5 1.6 .5-.6 .5-2.7 .5-1.5 .5 1.4 .5 1.3 .5-1 .5-1 .5 1.9 .5 0 .5-1.6 .5-.9 .5 1.8 .5 2.6 .5-1.2 .5-.2 .5 .8 .5-.9 .5-1.1 .5 .7 .5 1 .5-.6 .5 .4 .5 .6 .5-1.2 .5-1.1 .5-1.5 .5 .1 .5 1.8 .5 1 .5 .9 .5 1 .5 .8 .5-2.4 .5-4 .5 0 .5-.5 .5-2.8 .5 .9 .5 4.7 .5 2.1 .5 .1 .5 .7 .5 1.5 .5-1.8 .5-3.3 .5-.5 .5-.5 .5-.3 .5 1.5 .5 .3 .5-1.1 .5 .6 .5 1.1 .5 .2 .5-1.1 .5-1.9 .5-.4 .5-1.8 .5-1.9 .5 .9 .5 4.5 .5 3 .5 .4 .5-3.1 .5-5.6 .5 .2 .5 4.5 .5 .9 .5-.3 .5-2.5 .5-1.2 .5 .9 .5 1.4 .5 1.2 .5 .1 .5 0 .5 2 .5 1.7 .5-.7 .5 .4 .5 .4 .5-.7 .5-.1 .5-2.9 .5-2.9 .5 2 .5 2.9 .5-1 .5-.2 .5 1.9 .5-1.3 .5-4 .5-1.3 .5 1.7 .5 2.1 .5 1.1 .5-.8 .5-1.9 .5-.1 .5 2.4 .5 1.3 .5-.3 .5 1.2 .5 .4 .5-3.5 .5-4.9 .5-2.6 .5 1.5 .5 4.1 .5 2.3 .5 .5 .5-1.5 .5-3 .5-.5 .5 2.5 .5-.7 .5-.9 .5 1.1 .5 3.6 .5 1.3 .5-1.9 .5-3.5 .5-2.8 .5 .7 .5 2.9 .5 3.3 .5 1.3 .5-1.8 .5-4.5 .5-3.4 .5 2.8 .5 2.3 .5 .1 .5-.1 .5 2.1 .5-.4 .5-4.3 .5-1.2 .5 3.7 .5 2.9 .5-.8 .5-.9 .5-1 .5-2 .5 2 .5 .8 .5-.5 .5 .7 .5 1.1 .5-1.3 .5-4.7 .5 .5 .5 1.2 .5 1.4 .5-.6 .5-1 .5 .5 .5 .6 .5 .3 .5 .8 .5 .8 .5-3 .5-3.3 .5 2 .5 3.2 .5-.1 .5-.7 .5-1.3 .5-2.2 .5 1 .5 2.9 .5 .9 .5-.9 .5-1.8 .5 0 .5 2.5 .5-2.2 .5-2.9 .5 2.4 .5 1.9 .5 1.1 .5 .7 .5 .4 .5-.5 .5-1.9 .5-.2 .5 .5 .5 .3 .5 1.7 .5 1.5 .5 1.1 .5 .7 .5-1.6 .5-6 .5-2.9 .5 4.8 .5 4.7 .5-2.6 .5-4.9 .5 .9 .5 1 .5-1.1 .5 2.5 .5 5.7 .5 .6 .5-3.4 .5 2.1 .5 1.9 .5-3.5 .5-5.9 .5-1.4 .5 5.5 .5 2.1 .5-1.3 .5-3.5 .5-4.1 .5 3.7 .5-.4 .5-.5 .5 4.8 .5 1.3 .5-5.1 .5-2.3 .5 6.2 .5 2.5 .5-3.5 .5-1 .5-.1 .5-.3 .5 2 .5-1.5 .5-6.8 .5-.7 .5 4.8 .5 0 .5-1.9 .5 2 .5-1.1 .5-3.4 .5 11.9 .5-1.9 .5-1.8 .5 .6 .5 1.5 .5-.1 .5-3.7 .5-2.9 .5 2.3 .5 1.4 .5-1 .5-2.6 .5 1.6 .5 4.4 .5-.7 .5-.7 .5 4.6 .5 .4 .5-6.5 .5-3.7 .5 1.8 .5 4.4 .5 1.4 .5-.7 .5-.9 .5-.8 .5-.5 .5 .7 .5-.9 .5-1.4 .5 .9 .5 1.3 .5 1.1 .5-.1 .5-3.7 .5-2.2 .5 4.6 .5 3.6 .5-2.6 .5-4.1 .5 .3 .5 3.5 .5-4.6 .5 .4 .5 4.8 .5 1.7 .5 .9 .5 .7 .5-1.7 .5-2.1 .5 .6 .5 2.7 .5-.8 .5-3.8 .5-1.6 .5 .2 .5-1.6 .5 2.3 .5 1.5 .5 .5 .5 .3 .5-1.9 .5-.5 .5 .7 .5-4.1 .5 3 .5 3.6 .5-4.6 .5-4.6 .5 2.1 .5 2.8 .5-1.2 .5-1 .5 1.3 .5 1.2 .5 .6 .5 .7 .5 .6 .5-.5 .5-.8 .5 4.5 .5 2.9 .5-2.7 .5-1.9 .5-3.9 .5-2.9 .5 11.3 .5 0 .5-1.5 .5-2 .5-4.7 .5-1.5 .5 2.2 .5-1.8 .5 1.3 .5 1.8 .5-6.2 .5-1.4 .5 .1 .5 .9 .5 4.7 .5 2.6 .5-4.2 .5-4.6 .5 0 .5 4.8 .5 2.7 .5 1.9 .5 2.8 .5-1.2 .5-4.3 .5-2.6 .5 2.4 .5 1.7 .5-3.4 .5-3 .5 3.5 .5 2.5 .5 1 .5-2.3 .5-1.6 .5 5 .5 .4 .5-4.3 .5 .6 .5 2.5 .5 .7 .5-1.9 .5-.8 .5 2.2 .5 2.4 .5-.8 .5-4.3 .5-4.8 .5-.9 .5 0 .5 2.6 .5 2.4 .5 3.4 .5 3.3 .5 .9 .5-4.9 .5-2.5 .5 2 .5-.2 .5-1.1 .5-1.2 .5-1.2 .5 .1 .5 2.2 .5 1.4 .5-3.2 .5-1.1 .5 .8 .5 3 .5 .6 .5-1.3 .5-1 .5 1.7 .5 1.4 .5-.6 .5 .1 .5 .3 .5-1.5 .5-3 .5-.3 .5 .9 .5 5.6 .5 1.8 .5-1.7 .5-5.4 .5-3.1 .5-.7 .5 3.2 .5 1.3 .5-2.2 .5 1 .5 1.8 .5 .9 .5 .5 .5-1.2 .5-6.3 .5 .7 .5 4.3 .5 3.4 .5 2.5 .5-4.1 .5-.2 .5 .6 .5 1 .5 .1 .5-.4 .5 .8 .5 0 .5-.3 .5 .5 .5-2.1 .5-4.9 .5-.1 .5 6.2 .5 3.9 .5-.7 .5-2.2 .5-1.8 .5-.6 .5 1.9 .5 .1 .5-3.3 .5-2.8 .5 1.2 .5 4.8 .5 .9 .5-3.9 .5 .9 .5 4.7 .5-.3 .5-2.9 .5-1.3 .5-.4 .5-1.6 .5 .5 .5 3.5 .5-3.3 .5-4.5 .5 .5 .5 1.1 .5 1.4 .5 5.6 .5 1.4 .5 .3 .5 .9 .5 .3 .5-.3 .5-1.8 .5-2.5 .5-.5 .5 2.4 .5 1 .5-4.4 .5-2.8 .5 5.9 .5-1.1 .5-2.6 .5-.9 .5 1.1 .5 1.1 .5 .2 .5 .9 .5-.4 .5 .5 .5 2.2 .5-2.2 .5-1.8 .5 .9 .5 .9 .5 2.8 .5 2.2 .5-2.3 .5-3.7 .5-2.4 .5-.4 .5 2.1 .5 1.3 .5 3.3 .5 2.7 .5 .1 .5-.6 .5-3.4 .5-.5 .5-4.5 .5-3.3 .5 2.8 .5 4.3 .5 1.1 .5 1.1 .5 2.7 .5-1.3 .5-3.3 .5 1 .5 2.4 .5-1.9 .5-5 .5-2.7 .5-1.4 .5 1.3 .5 4.2 .5 .4 .5-3.6 .5 .9 .5 3.6 .5-.6 .5-3.8 .5-3.5 .5 1 .5 2.1 .5 1.1 .5 5.5 .5-.5 .5-5.3 .5 0 .5 4.4 .5-.5 .5-2.5 .5 1.8 .5 .2 .5-2 .5-2.5 .5-1.2 .5 4.3 .5 4.8 .5-3.3 .5-.8 .5 2.8 .5 1.9 .5 0 .5-2 .5-3.7 .5-.9 .5 1.9 .5-3.3 .5 .9 .5 3.4 .5 .2 .5-3.3 .5-2 .5 4.5 .5 3 .5 1.5 .5-6.2 .5-2.9 .5 10.1 .5-3 .5-4.4 .5 .9 .5-1.3 .5-3.9 .5 .4 .5 3.8 .5 3.6 .5 1.6 .5-1.1 .5 .4 .5 2.7 .5-1.3 .5-4.6 .5-3.7 .5 0 .5 6.2 .5 2.4 .5-5.2 .5-2.4 .5 1.7 .5 3.5 .5-.1 .5-1.9 .5 2 .5 .8 .5-1.8 .5-2 .5 .6 .5 1.8 .5-.5 .5 .5 .5 .7 .5-1.5 .5-.8 .5 .7 .5 1.1 .5 2.6 .5 2.3 .5-1.3 .5-3 .5-1.2 .5 .7 .5-.1 .5-1.6 .5-3.2 .5-4.2 .5 4 .5 5.2 .5 2.7 .5-1.2 .5-5.8 .5-1.6 .5 4.5 .5 2.3 .5-3.8 .5-2.6 .5 4.6 .5 5 .5 .8 .5 0 .5-5 .5-4.8 .5-2.1 .5 1.7 .5 1.9 .5-.6 .5 .2 .5 2.5 .5 3.5 .5-.5 .5 .1 .5-.7 .5-5.4 .5-6 .5-3 .5 7.9 .5 2.6 .5 .4 .5 0 .5-.3 .5 2.8 .5 1.4 .5 .9 .5 1.5 .5-2.1 .5-2.6 .5-2.1 .5-1.2 .5 0 .5 .6 .5 .9 .5-.7 .5 0 .5 3 .5 1.7 .5-1.3 .5-1.1 .5-1.9 .5-1.7 .5-2.4 .5-.4 .5 4.4 0 5.5-.5 .8-.5 2.3-.5 1.1-.5-.8-.5 .4-.5 2.1-.5-.1-.5-4.1-.5-1.7-.5 0-.5 2-.5 4.5-.5 1-.5-.9-.5 .5-.5-1.4-.5-4.9-.5 1.4-.5 .3-.5 2.9-.5-1.5-.5-2.3-.5 .2-.5 .9-.5 1.1-.5 .5-.5 0-.5 .6-.5-.3-.5 .4-.5-.6-.5-2-.5 1.2-.5 3.9-.5 0-.5-2.1-.5-2.7-.5 1-.5 .5-.5-.7-.5-.1-.5 1.4-.5 .6-.5 0-.5 .7-.5-1.7-.5-2.5-.5 1.4-.5 2.9-.5-.8-.5-.9-.5 2.7-.5 .3-.5 0-.5-3.3-.5-3.4-.5 1.9-.5 .5-.5-.4-.5 3.7-.5 1-.5-2.5-.5-1.8-.5 1.2-.5 1.5-.5-2.5-.5-2.9-.5-.2-.5 .6-.5 2.6-.5 .9-.5-1.4-.5 .1-.5 .6-.5 .1-.5-.2-.5-1.1-.5-1.6-.5 1.4-.5 1.5-.5-.3-.5 .3-.5-.2-.5-1-.5 .9-.5 2.2-.5-.5-.5-1.6-.5-.5-.5 .4-.5 1-.5-.6-.5 .4-.5 .1-.5-1.5-.5 .4-.5 .2-.5-1.8-.5-1.7-.5 .9-.5 3-.5 .7-.5 .9-.5 1.2-.5-1.3-.5-2.8-.5-.2-.5 1.2-.5 1.9-.5 .3-.5-2-.5 .6-.5 1.3-.5-1.8-.5-3.2-.5-.4-.5 3.3-.5 1.2-.5-.7-.5 1.6-.5 1.2-.5-3-.5-1.9-.5 2.3-.5-.2-.5-1.9-.5 .7-.5 .8-.5-.4-.5-2.4-.5-.8-.5 1.7-.5-.2-.5-.7-.5-.6-.5 .9-.5 2.3-.5-.8-.5-1.3-.5-.1-.5 .5-.5 2.8-.5 0-.5-.8-.5 3.6-.5 .1-.5 0-.5 0-.5 0-.5-3.6-.5-3.4-.5 2.8-.5 2.1-.5-.6-.5-1.6-.5-2.3-.5 .8-.5 2.2-.5 2.2-.5-1.2-.5-2.4-.5 .8-.5 2.9-.5-1.1-.5-2.9-.5-.4-.5 1-.5 3.1-.5 1.6-.5-1.4-.5-2.4-.5-2.4-.5-1.3-.5 0-.5 2.1-.5-.4-.5 .9-.5 2.5-.5 .7-.5 1.7-.5 0-.5-3.5-.5-1.2-.5-.7-.5-.6-.5 1.3-.5 1.4-.5 .1-.5-2.2-.5-1.4-.5 2.6-.5 2.3-.5-2.1-.5-1.6-.5 1.4-.5 .8-.5-.9-.5-1.1-.5-.5-.5-1.5-.5 1.4-.5 .3-.5-.3-.5 3.2-.5 .8-.5-.9-.5-.7-.5-.4-.5 .4-.5-1.2-.5-.5-.5 1.9-.5 .6-.5-.1-.5-.8-.5-1.5-.5-2.2-.5 .2-.5 1.8-.5 1.8-.5-1.2-.5 .7-.5 .4-.5 0-.5 .8-.5 .2-.5 0-.5 .2-.5 0-.5-1.1-.5 .4-.5 .4-.5-3.3-.5-1.3-.5 2.2-.5 4.7-.5-1.4-.5-1.7-.5-1.1-.5-2.3-.5 1.6-.5 4-.5 .5-.5-1.4-.5-.3-.5-1.4-.5-3.2-.5 .1-.5 2.3-.5 3.3-.5-1-.5-.6-.5 .9-.5 .1-.5 0-.5-1.9-.5-3-.5 .4-.5 3.1-.5 .4-.5-1.6-.5-.5-.5-.7-.5 1.4-.5 2.6-.5 .2-.5-1.9-.5-2.3-.5 .2-.5 1.7-.5 2.6-.5 1.4-.5-.2-.5-3.9-.5-.1-.5 .9-.5 .1-.5 .5-.5-.5-.5-2-.5-1.4-.5 1.3-.5 2.3-.5 1.4-.5-1.1-.5-.8-.5 1.2-.5-.3-.5-1.1-.5 0-.5 .1-.5 1-.5 1.6-.5 .4-.5-3.5-.5-3.2-.5 1-.5 3.6-.5 2.3-.5-1-.5-2.2-.5-.4-.5-.8-.5-1.4-.5-.3-.5 .7-.5 1.5-.5-.4-.5-2-.5 1.4-.5 1.3-.5-.4-.5 1-.5-.3-.5 .3-.5 1.6-.5-.6-.5-.7-.5 .3-.5 1.2-.5 1.6-.5-2.5-.5-2.7-.5 1.4-.5 .4-.5 .5-.5 .3-.5-2.9-.5-1.2-.5 2.7-.5 1.3-.5-1.2-.5 .3-.5 0-.5-1.9-.5-.6-.5 1.5-.5 .9-.5 .6-.5 .9-.5-1.8-.5 .6-.5 3.4-.5 0-.5-3.5-.5-.6-.5 0-.5-3.1-.5 0-.5 2.5-.5 2-.5 0-.5-1.2-.5-1.2-.5 .2-.5 .7-.5 .7-.5-1.6-.5-1.1-.5 4.4-.5 1.8-.5-1.8-.5-1.6-.5 .9-.5-.1-.5-2.2-.5-.6-.5 3.7-.5 1.7-.5-1.8-.5-1.7-.5 .6-.5-.8-.5-1-.5 .4-.5 .4-.5 .9-.5 1.8-.5 .2-.5-2-.5-2.4-.5 .1-.5 2.1-.5-.4-.5-.3-.5 1.9-.5 1.2-.5 .8-.5-1-.5-1.8-.5 .3-.5-.6-.5-1.2-.5 .9-.5 1.8-.5 .2-.5-1.7-.5-2.5-.5-.4-.5 1.5-.5 1.6-.5-.3-.5-1.1-.5 2.1-.5 1.5-.5-1.3-.5-.7-.5-.4-.5-.7-.5 .6-.5-.2-.5-2.3-.5-.5-.5 1.1-.5 2.1-.5 1.6-.5-1.7-.5-1.3-.5 2.1-.5 2.3-.5 0-.5-2.4-.5-2.5-.5-.5-.5-1.1-.5 2.2-.5 3-.5-2.3-.5-.6-.5 1.1-.5-2.6-.5-1.5-.5 1.1-.5 3-.5 .5-.5-3.1-.5-1-.5 2-.5 .5-.5 .2-.5 2.3-.5 1.3-.5-2.2-.5-2.3-.5-.8-.5 .2-.5 .1-.5 .2-.5-1.2-.5-.8-.5 .3-.5 2.4-.5 3.5-.5 0-.5-1.1-.5 .8-.5 .1-.5-2.8-.5-2.5-.5 1.9-.5 2.8-.5 1.5-.5-.5-.5-2.3-.5-1.5-.5-1.9-.5-.7-.5 2-.5 .6-.5 1.5-.5-.4-.5-.2-.5 .4-.5-1-.5 1.5-.5 1.6-.5-.8-.5-.5-.5 .2-.5-.9-.5-2.7-.5-1.1-.5-.2-.5 2.9-.5 2.4-.5-1.6-.5-1.6-.5 2.5-.5 1.9-.5-2-.5-1.6-.5 .5-.5 1.5-.5 1.2-.5-1.2-.5-1.3-.5 .3-.5-1.9-.5-.3-.5 2-.5-.1-.5-.4-.5-.3-.5-.3-.5 1.3-.5 .3-.5-3-.5-.8-.5 2.7-.5 .9-.5-.8-.5-.4-.5 0-.5 .3-.5 1-.5 1.2-.5-1.7-.5-2.8-.5-.8-.5 .2-.5 1.1-.5 1.4-.5 2.2-.5-.4-.5-3.1-.5-.6-.5 3-.5 2.4-.5-1.6-.5-2.5-.5 .2-.5 2.9-.5 2-.5 0-.5-.8-.5-1.4-.5-2.2-.5 .8-.5 2.1-.5-2.1-.5-1.7-.5 3.3-.5 2-.5-2.8-.5-2.9-.5 1.1-.5 2.3-.5-.4-.5-2.1-.5-.8-.5-.6-.5 1.1-.5 4.5-.5 .6-.5 0-.5 0-.5-3.2-.5-3.1-.5 1.8-.5 1.6-.5-1.8-.5-.7-.5 1.2-.5 .1-.5-.5-.5 1.4-.5 3.2-.5 0-.5 0-.5-2-.5 1.7-.5 .3-.5-.9-.5-1.8-.5-1.9-.5-1.1-.5-.8-.5-.1-.5 1.6-.5 2.5-.5 .1-.5-2.2-.5-1.4-.5 .6-.5 1.7-.5 .1-.5-.5-.5 .2-.5 0-.5 .9-.5 .7-.5-1.1-.5 .2-.5 .9-.5-.4-.5 .2-.5 1.3-.5-.1-.5-2.5-.5-1.5-.5-.8-.5 0-.5 0-.5 3-.5 3.1-.5-.3-.5-1.4-.5 .7-.5 1-.5-1.2-.5-.7-.5 .1-.5-2.4-.5-.3-.5 1.6-.5-1-.5-.3-.5 .7-.5 1.4-.5 .6-.5-2-.5-.8-.5 .2-.5-.5-.5-.3-.5 .9-.5 2.6-.5 1.4-.5-2.2-.5-1-.5 .9-.5 .6-.5-2.9-.5-.7-.5 1.2-.5 .7-.5 0-.5 .6-.5 .7-.5-.6-.5-.8-.5 .3-.5 .4-.5 .3-.5 2.1-.5 .4-.5-1.5-.5-.2-.5 1.3-.5-.2-.5-.6-.5 .9-.5 .3-.5-1.3-.5-1.1-.5-.1-.5-.5-.5 .3-.5 .7-.5-.9-.5 .4-.5 1.1-.5-1.2-.5-.8-.5 1.4-.5 1.2-.5-.7-.5-1.8-.5-1.1-.5 0-.5 .9-.5 1-.5-.7-.5 1.1-.5 1.1-.5-.4-.5-.8-.5-1.6-.5-.1-.5 .7-.5 .5-.5 0-.5 1-.5 .9-.5-.7-.5-.5-.5 .3-.5 0-.5 0-.5 .3-.5 .4-.5-.9-.5-1.9-.5 0-.5 2.3-.5 .4-.5-.6-.5 .3-.5 .6-.5 .6-.5-1.1-.5-1.7-.5-.7-.5 .6-.5 1.6-.5-.9-.5-.3-.5 1.7-.5-.6-.5-1.9-.5 .4-.5 1.6-.5-.5-.5-.9-.5 1-.5 .6-.5-.2-.5 0-.5-.6-.5-.9-.5 .5-.5 1.4-.5 .4-.5-.8-.5-1-.5 .8-.5 1.7-.5 0-.5-.6-.5-1.3-.5-1.1-.5 .5-.5 1.8-.5 .7-.5 0-.5-.7-.5-.2-.5-.2-.5 .2-.5 .2-.5-.6-.5 .2-.5 .9-.5-.1-.5-1.7-.5 0-.5 .7-.5-.9-.5-.6-.5 .9-.5 1-.5 0-.5 0-.5-.4-.5-.8-.5-.5-.5 .9-.5 .4-.5 0-.5 .9-.5-.4-.5-.7-.5 0-.5 .1-.5 0-.5 .2-.5 1.1-.5 .1-.5-.4-.5 .1-.5 0-.5-.4-.5 .5-.5-.4-.5-1.6-.5 .4-.5 1.2-.5-.2-.5-.5-.5-.1-.5 .4-.5 .7-.5-.3-.5 .1-.5-.3-.5-1.4-.5-.5-.5 .4-.5 1-.5-.2-.5-.3-.5 .7-.5 .2-.5-.2-.5-.2-.5 0-.5 .3-.5-1.1-.5-.5-.5 0-.5 1.1-.5 .5-.5-.6-.5 .4-.5-1-.5-.3-.5 .8-.5 .4-.5 .6-.5 .5-.5-.5-.5-.6-.5-.2-.5 .5-.5 .6-.5-.8-.5-.7-.5 0-.5 .5-.5 .2-.5 .4-.5 .1-.5-.6-.5-.2-.5 .6-.5 0-.5-.1-.5 .1-.5 .2-.5 0-.5-.2-.5 .5-.5-.3-.5-.9-.5-.1-.5 0-.5 .1-.5 1-.5 .4-.5-.8-.5-.5-.5 .4-.5 .1-.5-.1-.5 .2-.5 .1-.5-.1-.5 .3-.5 .3-.5-.3-.5-.2-.5-1.1-.5-.1-.5 1-.5 .4-.5-.3-.5 0-.5-.1-.5-.8-.5-.1-.5 .6-.5-.3-.5 .6-.5-.6-.5 1-.5-.3-.5-.4-.5 .3-.5 .3-.5-.2-.5-.4-.5-.1-.5 .6-.5 0-.5-.3-.5 .8-.5 .3-.5-.6-.5-1-.5 .1-.5 .8-.5-.1-.5-.7-.5 0-.5 .3-.5 .3-.5-.2-.5-.3-.5 0-.5 .5-.5 .6-.5 0-.5-.4-.5 .2-.5 .5-.5 0-.5 0-.5-.1-.5-.7-.5-.3-.5 .1-.5-.2-.5 .3-.5-.3-.5 .4-.5 .4-.5-.3-.5-.3-.5 .3-.5-.9-.5 .2-.5 .9-.5 .4-.5 .1-.5-.1-.5-.5-.5-.1-.5-.2-.5 .5-.5-.3-.5 .1-.5 .5-.5 .1-.5-.4-.5-.6-.5 0-.5 .6-.5 .3-.5-.5-.5-.9-.5-.1-.5 .3-.5 .9-.5 .1-.5 0-.5-.1-.5 .2-.5 0-.5-.3-.5-.3-.5 .1-.5 0-.5-.5-.5-.4-.5 .1-.5 .4-.5 .7-.5-.3-.5-.3-.5 0-.5-.2-.5 0-.5-.3-.5 0-.5 .4-.5 .6-.5 .2-.5-.5-.5-.2-.5 .3-.5-.4-.5 .1-.5-.3-.5 0-.5 .6-.5 .1-.5-.8-.5 .3-.5 .2-.5 .5-.5 .1-.5 .2-.5-.3-.5-.2-.5 .2-.5-.2-.5-.4-.5 .2-.5-.6-.5-.1-.5 0-.5 .6-.5 .2-.5-.2-.5-.2-.5 .4-.5-.2-.5 .2-.5 .5-.5 0-.5-.4-.5-.4-.5-.1-.5 .1-.5 .1-.5 .3-.5 .2-.5-.1-.5-.4-.5-.2-.5-.1-.5 .1-.5 .2-.5 .3-.5 .4-.5 0-.5 .2-.5 0-.5-.4-.5-.6-.5 0-.5 .4-.5 .2-.5 .2-.5-.4-.5-.8-.5 .4-.5 .3-.5 .3-.5-.2-.5-.4-.5 .4-.5 0-.5-.5-.5-.3-.5 .3-.5 0-.5 0-.5 .3-.5 .2-.5 .4-.5 .2-.5 0-.5-.2-.5 0-.5 0-.5-.6-.5-.1-.5 .2-.5 .5-.5 .1-.5 0-.5-.7-.5-.5-.5 .3-.5-.2-.5 0-.5 0-.5 0-.5 .4-.5 .3-.5-.2-.5-.6-.5 .1-.5 .3-.5 .3-.5 0-.5-.1-.5-.3-.5-.2-.5 .2-.5 .1-.5 .1-.5 0-.5 .5-.5-.3-.5 .1-.5 .1-.5 .1-.5 .1-.5-.3-.5-.4-.5-.1-.5 0-.5 0-.5 .2-.5 .3-.5 .4-.5 0-.5-.2-.5 0-.5 0-.5-.5-.5-.1-.5 .7-.5 .2-.5 0-.5-.4-.5-.3-.5 .4-.5 0-.5-.3-.5-.2-.5 .2-.5 .4-.5-.1-.5-.4-.5-.3-.5 .4-.5-.1-.5-.3-.5 .3-.5 0-.5-.3-.5 .1-.5-.1-.5 .5-.5 .2-.5-.2-.5-.3-.5 0-.5 .3-.5-.1-.5 0-.5-.1-.5-.4-.5-.1-.5 .2-.5 .3-.5 .2-.5-.4-.5-.1-.5 .6-.5 .4-.5 0-.5 0z" fill="#ff3fae" stroke="#ff3fae" stroke-width="0.7" stroke-linejoin="round"/>
<path d="M109.2 603.9l.5 .1 .5 .1 .5 0 .5-.1 .5 0 .5 .1 .5 0 .5 0 .5 .1 .5 0 .5-.1 .5-.1 .5 0 .5-.1 .5 0 .5 .1 .5 0 .5-.1 .5 0 .5 0 .5 .1 .5 0 .5 0 .5 0 .5 .1 .5 0 .5 0 .5 0 .5 0 .5-.1 .5 0 .5 0 .5 .1 .5 0 .5-.1 .5-.1 .5-.1 .5 0 .5 .1 .5 .1 .5 .1 .5 0 .5-.1 .5-.1 .5 0 .5 .2 .5 0 .5 0 .5-.1 .5-.2 .5 0 .5 .2 .5 .1 .5-.1 .5-.1 .5 .1 .5 0 .5-.1 .5-.1 .5 0 .5 .3 .5 0 .5-.1 .5-.1 .5-.1 .5 .1 .5 .1 .5 .1 .5 0 .5-.1 .5 0 .5 0 .5-.1 .5-.1 .5-.1 .5 .2 .5 .1 .5 0 .5-.1 .5 0 .5-.2 .5 0 .5 .2 .5-.1 .5-.1 .5 .2 .5-.2 .5 0 .5 .2 .5 .1 .5-.1 .5-.1 .5 .2 .5-.1 .5 .1 .5 .1 .5-.1 .5-.3 .5 .1 .5 .2 .5 0 .5 0 .5 0 .5 0 .5-.1 .5 0 .5 0 .5 0 .5 .1 .5 .1 .5-.1 .5-.1 .5 0 .5 .1 .5 .1 .5 0 .5-.1 .5-.1 .5-.1 .5 0 .5 0 .5 .1 .5 .1 .5-.1 .5 0 .5 .1 .5 .1 .5 0 .5-.1 .5-.1 .5 0 .5 0 .5 0 .5-.2 .5-.2 .5-.1 .5 .2 .5 .3 .5-.1 .5-.1 .5-.1 .5 0 .5 .2 .5-.1 .5-.2 .5-.3 .5-.3 .5 .2 .5 .2 .5 .1 .5-.1 .5-.2 .5 0 .5 .1 .5 .2 .5 .2 .5 .1 .5-.3 .5-.5 .5-.1 .5 .4 .5-.1 .5-.8 .5-.2 .5 .9 .5 .6 .5 0 .5-.2 .5-.1 .5 0 .5 0 .5-.1 .5 .2 .5 .1 .5-.3 .5-.2 .5-.3 .5-.1 .5 .2 .5 .3 .5 .2 .5 0 .5 .3 .5 0 .5-.5 .5 .1 .5 0 .5-.4 .5-.3 .5-.1 .5-.6 .5-.2 .5 .1 .5 .4 .5 .2 .5 .5 .5 .2 .5 0 .5-.1 .5-.3 .5-.5 .5 .1 .5 .4 .5-.1 .5-.4 .5 .5 .5 .5 .5-.4 .5-.2 .5 .5 .5-.1 .5-.7 .5-.8 .5-1.8 .5-3.7 .5-7.7 .5-7.2 .5 7.2 .5 7.7 .5 3.7 .5 1.8 .5 1 .5 .5 .5 0 .5-1.1 .5-.7 .5 .4 .5 .9 .5-.3 .5 .4 .5 .2 .5-1.2 .5-.3 .5 .9 .5 .9 .5 .3 .5-.6 .5-.7 .5-.7 .5 0 .5 .8 .5 .3 .5-.6 .5-.4 .5 .1 .5 .6 .5 .5 .5 0 .5-.1 .5-.2 .5-.4 .5-.7 .5-.1 .5 .9 .5 .3 .5-.5 .5-.4 .5 .3 .5 .7 .5 .7 .5-.1 .5-.5 .5 .2 .5 .3 .5 0 .5 .1 .5 0 .5-.3 .5-.3 .5 0 .5-.6 .5-.8 .5 .5 .5 .1 .5-.7 .5 1.1 .5 .7 .5-.7 .5-1.4 .5 0 .5 .4 .5 1.1 .5 .2 .5-.4 .5-.5 .5 .5 .5 1.1 .5 .3 .5-.1 .5-1 .5-.4 .5 .7 .5 .4 .5 .1 .5 0 .5 0 .5-.3 .5-.8 .5-.4 .5 .4 .5-.1 .5-.6 .5-.5 .5 .1 .5 .5 .5-.6 .5 .1 .5-.2 .5 1 .5-.6 .5 .3 .5-.5 .5-.3 .5 0 .5 1.6 .5 .7 .5-.4 .5-.4 .5-.5 .5 .1 .5 .7 .5-.2 .5-.7 .5 .1 .5 .7 .5-.2 .5-.1 .5 .2 .5 .3 .5-.1 .5-.8 .5-.1 .5 1.3 .5 .5 .5-.1 .5-.7 .5-.1 .5 0 .5-.3 .5-.2 .5 .4 .5 .1 .5-.3 .5-.3 .5-.5 .5 .3 .5 1.1 .5 .5 .5-.5 .5-1 .5-.3 .5 .4 .5-.2 .5 .4 .5 .4 .5-.2 .5 .4 .5 .4 .5-.5 .5-.7 .5 .1 .5-.4 .5-.8 .5 1 .5 .9 .5 0 .5 0 .5-.1 .5 0 .5 .6 .5-.2 .5-.9 .5-.9 .5-.1 .5 1 .5 .8 .5 .1 .5-.6 .5-.7 .5 .3 .5 .1 .5 .3 .5 .5 .5-.3 .5-.4 .5-.7 .5-.3 .5 .6 .5 .4 .5 .3 .5 .7 .5 .3 .5-.2 .5-.2 .5 .1 .5-.2 .5-.5 .5 .2 .5 .2 .5-.8 .5-.6 .5 .4 .5 .6 .5 .2 .5 .3 .5-.8 .5-.9 .5 .4 .5 .3 .5-1.3 .5 0 .5 .6 .5 .7 .5 .8 .5 .7 .5-.1 .5-.6 .5-.5 .5 0 .5 .6 .5 .4 .5-.2 .5-.7 .5-.4 .5 .1 .5 .3 .5 .1 .5-.3 .5-.2 .5-.5 .5-.3 .5 .2 .5 .5 .5 .4 .5 .4 .5-.1 .5-1.1 .5-.1 .5 0 .5-.5 .5 .5 .5 .6 .5 .4 .5 .2 .5-.2 .5 .1 .5-.4 .5-.9 .5 .2 .5 .5 .5 .1 .5-.2 .5-.5 .5 .2 .5 .9 .5 .5 .5 .1 .5-.2 .5-.4 .5-.1 .5 .2 .5 .4 .5 .1 .5 0 .5 .1 .5-.1 .5-.2 .5-.1 .5-.7 .5-.7 .5 .3 .5 .9 .5 .9 .5 .2 .5 0 .5 0 .5-.3 .5-.6 .5-.3 .5 .4 .5 .4 .5-.1 .5-.5 .5-.3 .5-.3 .5 0 .5-.6 .5 .6 .5 .5 .5 .3 .5-.2 .5-.4 .5-.6 .5-.2 .5 .4 .5 .3 .5 .6 .5-.4 .5-.8 .5 .1 .5 .6 .5 .5 .5 0 .5-.9 .5 0 .5 .2 .5 .1 .5 .1 .5 .6 .5 .4 .5 .2 .5-.1 .5-.2 .5-.1 .5 0 .5 0 .5-.1 .5 .4 .5 0 .5-.5 .5 0 .5 .1 .5-.2 .5-.2 .5-.2 .5 .2 .5 .3 .5 0 .5-.3 .5-.2 .5 .3 .5 .3 .5 .1 .5-.1 .5 0 .5 .5 .5 .4 .5-.1 .5-.5 .5-.5 .5 0 .5 .5 .5 .3 .5-.2 .5-.2 .5 .1 .5 .1 .5 .2 .5 0 .5-.1 .5-.2 .5-.4 .5 0 .5 .6 .5 .2 .5 .1 .5-.3 .5-1 .5-.2 .5 .1 .5 .1 .5 .7 .5 .1 .5-.3 .5 .1 .5 .2 .5-.1 .5-.1 .5-.4 .5-.3 .5 .7 .5 .3 .5-.1 .5 .1 .5-.1 .5-.1 .5 .1 .5 .1 .5 .1 .5-.4 .5-.5 .5 .2 .5 .6 .5 0 .5 .1 .5 .1 .5-.2 .5 0 .5 .2 .5 .3 .5-.2 .5-.1 .5 0 .5 .1 .5-.3 .5-.4 .5 .2 .5 .3 .5 0 .5 .1 .5 .1 .5 .2 .5 .1 .5-.1 .5-.1 .5-.1 .5 0 .5 0 .5-.1 .5 .2 .5 .3 .5 0 .5-.3 .5 .1 .5 .2 .5-.4 .5-.7 .5 0 .5 .4 .5 .1 .5 .2 .5 .1 .5 .1 .5 0 .5-.2 .5-.1 .5 0 .5 .3 .5 .2 .5-.2 .5-.5 .5-.2 .5 0 .5 .3 .5 .3 .5 0 .5-.2 .5-.2 .5-.1 .5 .3 .5 .2 .5 0 .5 0 .5 .3 .5 0 .5-.3 .5-.3 .5-.1 .5 .2 .5 .2 .5 .1 .5 .1 .5 0 .5 0 .5 0 .5-.1 .5-.3 .5-.1 .5 .3 .5 .1 .5-.1 .5 .1 .5 .1 .5 0 .5 0 .5-.1 .5-.1 .5 .1 .5 0 .5 0 .5 .1 .5 0 .5-.1 .5 .1 .5 0 .5 0 .5 0 .5 0 .5-.1 .5 0 .5 .2 .5 .2 .5-.2 .5-.3 .5 0 .5 0 .5 0 .5 .2 .5 0 .5-.1 .5 .2 .5 .1 .5-.2 .5-.2 .5-.1 .5 .2 .5 .1 .5 0 .5 0 .5-.2 .5-.2 .5 .1 .5 .1 .5-.2 .5 .1 .5 .3 .5 .2 .5-.1 .5 0 .5 .1 .5-.2 .5-.2 .5 0 .5 0 .5-.2 .5 .3 .5 .2 .5-.2 .5-.2 .5 .2 .5 .2 .5-.1 .5 0 .5 .1 .5 0 .5 .1 .5-.1 .5 0 .5-.1 .5-.1 .5 .1 .5 0 .5-.1 .5 .1 .5-.1 .5 .1 .5 .1 .5 .1 .5-.1 .5 0 .5 0 .5-.1 .5 .1 .5 0 .5 0 .5 0 .5 .1 .5 0 .5-.2 .5-.1 .5 .1 .5-.1 .5 0 .5 .2 .5-.1 .5-.1 .5 0 .5 0 .5 .1 .5 .1 .5-.1 .5 0 .5 0 .5-.1 .5-.1 .5 .1 .5 .2 .5 .1 .5-.1 .5-.1 .5 0 .5 0 .5-.2 .5 0 .5 .2 .5 .2 .5 0 .5-.1 .5 .1 .5-.2 .5-.1 .5 .2 .5 .1 .5 0 .5-.1 .5-.2 .5 .1 .5 0 .5 .2 .5-.1 .5-.2 .5-.1 .5-.1 .5 0 .5 .2 .5 .2 .5 0 .5-.1 .5-.2 .5 .1 .5 .1 .5 .1 .5 .1 .5-.1 .5 0 .5-.2 .5-.1 .5 0 .5 0 .5 0 .5-.1 .5 .1 .5 .1 .5 .2 .5 0 .5 0 .5-.1 .5 .1 .5 0 .5-.1 .5 0 .5-.2 .5 0 .5 .4 .5 .1 .5-.1 .5-.2 .5-.1 .5 0 .5 .1 .5-.1 .5-.1 .5 0 .5 .3 .5 .1 .5 0 .5-.2 .5 0 .5 .1 .5 0 .5-.2 .5 0 .5 0 .5 .1 .5 0 .5 0 .5-.1 .5-.1 .5-.1 .5 .2 .5-.1 .5 0 .5 0 .5 .1 .5-.1 .5 .1 .5 .1 .5 .1 .5 0 .5 0 .5 .1 .5-.1 .5-.1 .5 .1 .5 0 .5-.3 .5 0 .5 .2 .5 0 .5 0 .5 0 .5 0 .5 0 .5 0 .5 .1 .5 .1 .5-.1 .5-.2 .5 .1 .5 0 .5-.1 .5-.1 .5 0 .5 .2 .5-.1 .5 .1 .5 .2 .5-.1 .5 0 .5 0 .5 0 .5-.1 .5-.1 .5 0 .5 .2 .5 .1 .5 0 .5-.1 .5 0 .5 0 .5 0 .5 0 .5 0 .5 0 .5 0 .5 0 .5 .1 .5 .1 .5 0 .5-.1 .5-.1 .5-.1 .5 .1 .5-.1 .5-.2 .5 0 .5 0 .5 .2 .5 .1 .5 .1 .5-.2 .5 0 .5-.2 .5 0 .5 .1 .5 .2 .5 .1 .5 0 .5 0 .5 0 .5-.1 .5 0 .5 0 .5 0 .5 .1 .5 .1 .5 0 .5 0 .5-.2 .5-.2 .5-.1 .5 .2 .5 .2 .5 0 .5 0 .5 0 .5 0 .5-.1 .5 0 .5 0 .5 .1 .5 0 .5-.1 .5 0 .5 0 .5-.1 .5-.2 .5 .1 .5 .3 .5 0 .5-.1 .5 .1 .5-.1 .5 0 .5 .1 .5 0 .5-.2 .5-.1 .5 0 .5 0 .5 0 .5 .2 .5 .1 .5 0 .5 0 .5 0 .5 0 .5-.2 .5-.1 .5 0 .5 0 .5 .1 .5 .2 .5-.1 .5 .1 .5 .1 .5-.2 .5-.2 .5 0 .5 0 .5 .1 .5-.1 .5 .1 .5 .1 .5 .1 .5 .1 .5-.2 .5-.1 .5 .1 .5 .1 .5 0 .5 0 .5-.1 .5 0 .5 0 .5 .1 .5-.1 .5-.1 .5 0 .5 0 .5 .1 .5-.1 .5-.1 .5 .1 .5 .1 .5 .1 .5-.1 .5 0 .5 .1 .5 .2 .5 0 .5-.1 .5-.1 .5 0 .5 .1 .5-.1 .5 0 .5 .1 .5 0 .5-.1 .5-.1 .5 .1 .5 0 .5 0 .5 0 .5 0 .5 0 .5-.1 .5 0 .5 .1 .5 .1 .5 0 .5-.1 .5 0 .5 0 .5 0 .5 0 .5-.1 .5-.1 .5 .1 .5 .1 .5-.1 .5 .1 .5 0 .5 0 .5-.1 .5 .1 .5 .1 .5 0 .5-.1 .5-.1 .5 0 .5 .1 .5 0 .5 .1 .5 0 .5 0 .5 .1 .5 0 .5 0 .5-.2 .5 0 .5 0 .5-.1 .5 .1 .5 0 .5-.1 .5 0 .5 .1 .5-.1 .5-.1 .5 .1 .5 .1 .5 0 .5 0 .5 0 .5-.1 .5 0 .5 .1 .5 .1 .5 0 .5-.2 .5 0 .5-.1 .5 .1 .5 .2 .5 0 .5-.1 .5-.1 .5 0 .5 0 .5 0 .5 .1 .5-.1 .5 0 .5 0 .5 .1 .5 .1 .5-.1 .5 .1 .5 0 .5-.1 .5 0 .5 .1 .5 0 .5 0 .5 0 .5 0 .5 0 .5 .1 .5-.1 .5 0 .5 0 .5 .1 .5 0 .5-.1 0 .2-.5 0-.5 0-.5 0-.5 0-.5 0-.5 0-.5 0-.5 0-.5 0-.5 0-.5 0-.5 0-.5 0-.5 0-.5 0-.5 0-.5 0-.5 0-.5 0-.5 0-.5 0-.5 0-.5 0-.5 0-.5 0-.5 0-.5 0-.5 0-.5 0-.5 0-.5 0-.5 0-.5 0-.5 0-.5 0-.5 0-.5 0-.5 0-.5 0-.5 0-.5 0-.5 0-.5 0-.5 0-.5 0-.5 0-.5 0-.5 0-.5 0-.5 0-.5 0-.5 0-.5 0-.5 0-.5 0-.5 0-.5 0-.5 0-.5 0-.5 0-.5 0-.5 0-.5 0-.5 0-.5 0-.5 0-.5 0-.5 0-.5 0-.5 0-.5 0-.5 0-.5 0-.5 0-.5 0-.5 0-.5 0-.5 0-.5 0-.5 0-.5 0-.5 0-.5 0-.5 0-.5 0-.5 0-.5 0-.5 0-.5 0-.5 0-.5 0-.5 0-.5 0-.5 0-.5 0-.5 0-.5 0-.5 0-.5 0-.5 0-.5 0-.5 0-.5 0-.5 0-.5 0-.5 0-.5 0-.5 0-.5 0-.5 0-.5 0-.5 0-.5 0-.5 0-.5 0-.5 0-.5 0-.5 0-.5 0-.5 0-.5 0-.5 0-.5 0-.5 0-.5 0-.5 0-.5 0-.5 0-.5 0-.5 0-.5 0-.5 0-.5 0-.5 0-.5 0-.5 0-.5 0-.5 0-.5 0-.5 0-.5 0-.5 0-.5 0-.5 0-.5 0-.5 0-.5 0-.5 0-.5 0-.5 0-.5 0-.5 0-.5 0-.5 0-.5 0-.5 0-.5 0-.5 0-.5 0-.5 0-.5 0-.5 0-.5 0-.5 0-.5 0-.5 0-.5 0-.5 0-.5 0-.5 0-.5 0-.5 0-.5 0-.5 0-.5 0-.5 0-.5 0-.5 0-.5 0-.5 0-.5 0-.5 0-.5 0-.5 0-.5 0-.5 0-.5 0-.5 0-.5 0-.5 0-.5 0-.5 0-.5 0-.5 0-.5 0-.5 0-.5 0-.5 0-.5 0-.5 0-.5 0-.5 0-.5 0-.5 0-.5 0-.5 0-.5 0-.5 0-.5 0-.5 0-.5 0-.5 0-.5 0-.5 0-.5 0-.5 0-.5 0-.5 0-.5 0-.5 0-.5 0-.5 0-.5 0-.5 0-.5 0-.5 0-.5 0-.5 0-.5 0-.5 0-.5 0-.5 0-.5 0-.5 0-.5 0-.5 0-.5 0-.5 0-.5 0-.5 0-.5 0-.5 0-.5 0-.5 0-.5 0-.5 0-.5 0-.5 0-.5 0-.5 0-.5 0-.5 0-.5 0-.5 0-.5 0-.5 0-.5 0-.5 0-.5 0-.5 0-.5 0-.5 0-.5 0-.5 0-.5 0-.5 0-.5 0-.5 0-.5 0-.5 0-.5 0-.5 0-.5 0-.5 0-.5 0-.5 0-.5 0-.5 0-.5 0-.5 0-.5 0-.5 0-.5 0-.5 0-.5 0-.5 0-.5 0-.5 0-.5 0-.5 0-.5 0-.5 0-.5 0-.5 0-.5 0-.5 0-.5 0-.5 0-.5 0-.5 0-.5 0-.5 0-.5 0-.5 0-.5 0-.5 0-.5 0-.5 0-.5 0-.5 0-.5 0-.5 0-.5 0-.5 0-.5 0-.5 0-.5 0-.5 0-.5 0-.5 0-.5 0-.5 0-.5 0-.5 0-.5 0-.5 0-.5 0-.5 0-.5 0-.5 0-.5 0-.5 0-.5 0-.5 0-.5 0-.5 0-.5 0-.5 0-.5 0-.5 0-.5 0-.5 0-.5 0-.5 0-.5 0-.5 0-.5 0-.5 0-.5 0-.5 0-.5 0-.5 0-.5 0-.5 0-.5 0-.5 0-.5 0-.5 0-.5 0-.5 0-.5 0-.5 0-.5 0-.5 0-.5 0-.5 0-.5 0-.5 0-.5 0-.5 0-.5 0-.5 0-.5 0-.5 0-.5 0-.5 0-.5 0-.5 0-.5 0-.5 0-.5 0-.5 0-.5 0-.5 0-.5 0-.5 0-.5 0-.5 0-.5 0-.5 0-.5 0-.5 0-.5 0-.5 0-.5 0-.5 0-.5 0-.5 0-.5 0-.5 0-.5 0-.5 0-.5 0-.5 0-.5 0-.5 0-.5 0-.5 0-.5 0-.5 0-.5 0-.5 0-.5 0-.5 0-.5 0-.5 0-.5 0-.5 0-.5 0-.5 0-.5 0-.5-.1-.5 .1-.5 0-.5 0-.5 0-.5 0-.5 0-.5 0-.5 0-.5 0-.5 0-.5 0-.5 0-.5 0-.5 0-.5 0-.5 0-.5 0-.5 0-.5 0-.5 0-.5 0-.5 0-.5 0-.5 0-.5 0-.5 0-.5 0-.5 0-.5 0-.5 0-.5 0-.5 0-.5 0-.5 0-.5 0-.5 0-.5 0-.5 0-.5 0-.5 0-.5 0-.5 0-.5 0-.5 0-.5 0-.5 0-.5 0-.5 0-.5 0-.5 0-.5 0-.5 0-.5 0-.5 0-.5-.1-.5-.1-.5 .1-.5 .1-.5 0-.5 0-.5 0-.5 0-.5 0-.5-.1-.5 0-.5 .1-.5 0-.5 0-.5 0-.5-.2-.5 .1-.5 0-.5-.1-.5 .2-.5 0-.5 0-.5-.1-.5 0-.5 .1-.5 0-.5 0-.5 0-.5 0-.5-.2-.5 0-.5 0-.5 .1-.5 .1-.5 0-.5 0-.5 0-.5 0-.5 0-.5 0-.5-.1-.5 .1-.5 0-.5 0-.5 0-.5 0-.5 0-.5 0-.5 0-.5-.1-.5-.1-.5 0-.5 0-.5 0-.5 0-.5 .2-.5-.1-.5 0-.5 .1-.5 0-.5-.1-.5 0-.5 0-.5 0-.5-.1-.5 .1-.5-.1-.5 0-.5 .1-.5-.1-.5 0-.5-.1-.5 0-.5 .1-.5 .2-.5 0-.5-.1-.5-.1-.5 0-.5 .1-.5 0-.5-.1-.5 0-.5 0-.5 0-.5-.1-.5-.1-.5 0-.5 0-.5 .1-.5 0-.5 .1-.5 0-.5 .2-.5 0-.5-.2-.5 0-.5-.1-.5 .1-.5 .2-.5 0-.5 0-.5-.2-.5-.1-.5 .1-.5 .2-.5-.1-.5-.1-.5 0-.5 0-.5 0-.5 .2-.5 0-.5-.1-.5 0-.5-.1-.5 0-.5 .1-.5 .1-.5-.1-.5-.1-.5-.1-.5 0-.5 0-.5 .1-.5 .1-.5-.2-.5-.1-.5 .1-.5 0-.5 .1-.5-.1-.5-.1-.5 0-.5 0-.5 .1-.5 0-.5 0-.5 .1-.5-.1-.5 0-.5 .1-.5 .1-.5 0-.5-.1-.5-.2-.5-.1-.5 .1-.5 0-.5 .1-.5 0-.5 .1-.5 .1-.5-.1-.5-.2-.5 .2-.5 .2-.5 0-.5-.2-.5 .1-.5 .1-.5-.1-.5-.1-.5 0-.5 0-.5-.2-.5 0-.5 .1-.5-.1-.5 0-.5 .1-.5-.1-.5 .1-.5 .3-.5 0-.5 0-.5-.2-.5-.3-.5 .3-.5 0-.5-.3-.5 0-.5 .3-.5 0-.5-.1-.5 0-.5 0-.5-.1-.5 .2-.5 0-.5-.2-.5 .1-.5 0-.5-.1-.5-.1-.5 0-.5 0-.5-.1-.5 0-.5 0-.5 0-.5 .3-.5 .1-.5-.2-.5-.1-.5 .2-.5 .3-.5 0-.5 0-.5-.1-.5-.3-.5 0-.5 .3-.5 0-.5-.2-.5-.1-.5 0-.5 .1-.5 .2-.5-.2-.5-.2-.5 0-.5 .2-.5 0-.5 .1-.5 0-.5 0-.5 0-.5 0-.5 0-.5-.1-.5-.2-.5-.1-.5 .4-.5 .1-.5-.5-.5-.1-.5 .1-.5 .2-.5 .1-.5 0-.5 0-.5 .1-.5 0-.5-.3-.5-.1-.5 .5-.5 .1-.5-.2-.5-.2-.5 .1-.5 0-.5-.3-.5 0-.5 .2-.5 0-.5 .1-.5 .2-.5-.3-.5-.1-.5 .2-.5 0-.5 0-.5-.1-.5-.2-.5-.1-.5 .4-.5 .3-.5-.1-.5-.3-.5 .1-.5 .3-.5 0-.5 0-.5-.1-.5 .1-.5 0-.5-.2-.5-.2-.5 0-.5 0-.5 .1-.5 .1-.5 .1-.5 .1-.5 0-.5 0-.5 0-.5-.3-.5 0-.5-.1-.5-.1-.5 .2-.5 .3-.5-.2-.5-.3-.5 .1-.5 0-.5 .1-.5 .2-.5 .1-.5 0-.5-.2-.5-.3-.5-.1-.5 .1-.5 .3-.5-.1-.5-.3-.5 .1-.5 .2-.5-.1-.5-.1-.5 .1-.5 .1-.5 .1-.5-.5-.5 .3-.5 .2-.5 .2-.5 0-.5-.2-.5-.2-.5-.1-.5 0-.5 .1-.5 .2-.5-.1-.5-.1-.5 .3-.5 0-.5-.2-.5-.1-.5 0-.5 0-.5 .2-.5 .1-.5 .1-.5-.1-.5-.3-.5 0-.5 .2-.5 .1-.5 0-.5-.1-.5 0-.5-.1-.5-.3-.5-.1-.5 .1-.5 .2-.5-.2-.5-.1-.5 .3-.5 0-.5 0-.5 0-.5 .4-.5-.1-.5-.2-.5 .1-.5 .1-.5-.3-.5 0-.5 .1-.5-.1-.5-.1-.5 .2-.5 0-.5-.2-.5 0-.5 0-.5 0-.5 0-.5-.1-.5-.1-.5 .2-.5 .2-.5 .1-.5 .1-.5-.3-.5-.1-.5 .1-.5 0-.5-.1-.5 0-.5-.1-.5-.1-.5 .2-.5 .2-.5 .1-.5 .1-.5 0-.5-.1-.5-.2-.5 0-.5 .2-.5 .1-.5-.1-.5 0-.5 0-.5 0-.5 0-.5 .1-.5-.1-.5 0-.5-.1-.5 0-.5 0-.5 .2-.5 0-.5 0-.5 0-.5-.1-.5-.1-.5-.2-.5-.1-.5 .1-.5 .4-.5 0-.5-.1-.5 0-.5-.1-.5-.1-.5 .1-.5 .1-.5 .1-.5-.1-.5-.1-.5 .1-.5-.1-.5-.1-.5 .2-.5 .2-.5 0-.5 0-.5 0-.5 0-.5 0-.5-.3-.5-.1-.5 0-.5 0-.5-.1-.5 .2-.5 0-.5-.1-.5-.1-.5 0-.5 .2-.5 .2-.5-.2-.5 0-.5 0-.5 0-.5 0-.5 .1-.5 .2-.5 0-.5-.1-.5-.1-.5 0-.5-.1-.5 0-.5-.1-.5 .4-.5 0-.5-.2-.5 .1-.5 .1-.5-.1-.5-.1-.5 .1-.5 0-.5 .1-.5 0-.5-.1-.5-.1-.5 .1-.5 0-.5-.1-.5 .1-.5 .1-.5 0-.5-.1-.5-.1-.5 0-.5 .1-.5-.1-.5-.1-.5 .1-.5 .1-.5 .1-.5 0-.5-.1-.5-.1-.5 .1-.5 0-.5-.1-.5 .1-.5-.1-.5-.1-.5 0-.5 .1-.5 .2-.5 0-.5 0-.5 0-.5 0-.5 0-.5 0-.5 0-.5 0-.5-.1-.5 .1-.5 0-.5 0-.5 0-.5 0-.5 0-.5 0-.5 0-.5 0-.5 0-.5 0-.5 0-.5 0-.5 0-.5 0-.5 0-.5 0-.5 0-.5 0-.5 0-.5 0-.5 0-.5 0-.5 0-.5 0-.5 0-.5 0-.5 0-.5 0-.5 0-.5 0-.5 0-.5 0-.5 0-.5 0-.5 0-.5 0-.5 0-.5 0-.5 0-.5 0-.5 0-.5 0-.5 0-.5 0-.5 0-.5 0-.5 0-.5 0-.5 0-.5 0-.5 0-.5 0-.5 0-.5 0-.5 0-.5 0-.5 0-.5 0-.5 0-.5 0-.5 0-.5 0-.5 0-.5 0-.5 0-.5 0-.5 0-.5 0-.5 0-.5 0-.5 0-.5 0-.5 0-.5 0-.5 0-.5 0-.5 0-.5 0-.5 0-.5 0-.5 0-.5 0-.5 0-.5 0-.5 0-.5 0-.5 0-.5 0-.5 0-.5 0-.5 0-.5 0-.5 0-.5 0-.5 0-.5 0-.5 0-.5 0-.5 0-.5 0-.5 0-.5 0-.5 0-.5 0-.5 0-.5 0-.5 0-.5 0-.5 0-.5 0-.5 0-.5 0-.5 0-.5 0-.5 0-.5 0-.5 0-.5 0-.5 0-.5 0-.5 0-.5 0-.5 0-.5 0-.5 0-.5 0-.5 0-.5 0-.5 0-.5 0-.5 0-.5 0-.5 0-.5 0-.5 0z" fill="#ff3fae" stroke="#ff3fae" stroke-width="0.8" stroke-linejoin="round"/>
<path d="M109.2 650l.5 0 .5 0 .5 0 .5 0 .5 .2 .5 0 .5-.1 .5 .1 .5-.1 .5 0 .5 0 .5 0 .5-.1 .5 0 .5 .1 .5-.1 .5-.1 .5 .1 .5 0 .5-.1 .5 .1 .5 0 .5-.1 .5 0 .5 0 .5 .1 .5-.1 .5-.1 .5 0 .5 0 .5 .1 .5 .1 .5 0 .5-.1 .5-.2 .5-.1 .5 .1 .5 0 .5-.1 .5 .1 .5 .1 .5-.1 .5 0 .5 .2 .5 0 .5-.1 .5 0 .5 0 .5 0 .5 0 .5 .1 .5 .1 .5-.2 .5-.2 .5 .1 .5 .2 .5 .1 .5 0 .5-.1 .5 0 .5 0 .5 .1 .5-.3 .5-.2 .5 .1 .5 .1 .5-.3 .5-.1 .5 0 .5 .3 .5 0 .5-.3 .5-.1 .5 .2 .5 .2 .5-.2 .5-.3 .5-.5 .5-.4 .5 .5 .5 .6 .5-.4 .5-.4 .5-.1 .5 .4 .5 .2 .5 .1 .5 0 .5-.6 .5-.5 .5 .3 .5 .5 .5 .1 .5-.1 .5-.7 .5 .1 .5 .1 .5-.7 .5 .4 .5 1 .5-.3 .5-1.1 .5 0 .5 .3 .5-.2 .5-.2 .5 0 .5 .5 .5-.4 .5-.2 .5 .5 .5-.9 .5-1 .5 .5 .5 .1 .5-.8 .5-.3 .5-.5 .5-.3 .5 .5 .5 1 .5 1.2 .5 .5 .5-.7 .5-2.1 .5-.4 .5 1.4 .5 .1 .5-.9 .5-.1 .5 0 .5 .5 .5 1.5 .5-.9 .5-1.9 .5 .6 .5 1.2 .5-.1 .5-.5 .5 .2 .5 .2 .5-.1 .5-.2 .5-1 .5 0 .5 1.3 .5-.2 .5-1.2 .5 .1 .5 .9 .5 .2 .5-1.3 .5-1.5 .5-.6 .5-1.6 .5 .2 .5 3.9 .5 2 .5-1.2 .5-.9 .5-.4 .5-1.1 .5-1.6 .5 1.6 .5 .8 .5-1.8 .5 .2 .5 1.4 .5 .5 .5-.9 .5-1 .5 .9 .5 1.6 .5 1.6 .5 .4 .5-.7 .5-1 .5-.4 .5 .8 .5 1.1 .5 0 .5-.9 .5 .2 .5 .2 .5-1.5 .5-1.2 .5-.6 .5-.9 .5 1.3 .5 1.5 .5-.3 .5-1.1 .5-.8 .5 2.3 .5 .6 .5-2.3 .5 .7 .5 1.4 .5 .7 .5-.1 .5-1.6 .5-.6 .5 .5 .5 .5 .5 .6 .5 .8 .5 .2 .5-1.4 .5-2.1 .5-.5 .5-.1 .5 .1 .5 1.3 .5 2 .5-3.3 .5-8 .5-8.1 .5 8.1 .5 8 .5 3.4 .5 .3 .5 .1 .5 .1 .5 .4 .5 .2 .5-1.1 .5 .2 .5-.5 .5-.2 .5 .4 .5 .8 .5-.5 .5 1.2 .5 1.5 .5-.2 .5-.7 .5-.2 .5 .3 .5 .2 .5-.3 .5-.1 .5-.4 .5-.4 .5 .6 .5-.4 .5 .1 .5-.3 .5-1.3 .5 .4 .5 .5 .5 1 .5-.1 .5-.2 .5 .3 .5 0 .5 0 .5 .6 .5 .7 .5-.6 .5-.9 .5 0 .5 0 .5 .3 .5 .3 .5 .2 .5 .1 .5 0 .5 .2 .5 0 .5-.1 .5 0 .5 .6 .5 .5 .5-.2 .5-.1 .5-.1 .5 0 .5 .3 .5-.3 .5-.4 .5-.3 .5-.1 .5 .4 .5 .3 .5-.2 .5 0 .5 .2 .5 .1 .5-.1 .5-.4 .5-.1 .5 .2 .5-.3 .5-.2 .5 .5 .5 .1 .5 0 .5 .3 .5 0 .5-.4 .5 .4 .5 .3 .5-.2 .5-.1 .5-.2 .5 0 .5 .2 .5 .2 .5 .1 .5 .1 .5 .1 .5 .1 .5-.1 .5 0 .5 0 .5 0 .5 .1 .5 .1 .5-.2 .5-.1 .5 .3 .5 .1 .5 0 .5 0 .5 0 .5 0 .5 0 .5 0 .5 .1 .5 0 .5 0 .5-.1 .5 .1 .5 .1 .5 0 .5-.1 .5 .1 .5 0 .5 0 .5 0 .5 0 .5 0 .5 0 .5-.1 .5-.1 .5 0 .5-.1 .5 .2 .5 0 .5-.1 .5 .1 .5 0 .5-.1 .5 .1 .5 0 .5-.1 .5-.1 .5 .1 .5-.1 .5-.1 .5 .2 .5 .2 .5-.1 .5 0 .5 0 .5 .1 .5 .1 .5-.1 .5 0 .5 0 .5-.2 .5-.2 .5 .1 .5 .3 .5 .1 .5-.1 .5-.1 .5 0 .5 0 .5 0 .5 0 .5 0 .5 0 .5 .1 .5-.2 .5-.1 .5 0 .5 .2 .5 0 .5-.1 .5 0 .5 0 .5 .1 .5 .1 .5 0 .5 0 .5 0 .5 0 .5-.1 .5-.2 .5 .1 .5 .2 .5-.1 .5-.2 .5 .1 .5 0 .5 0 .5 0 .5 0 .5 .1 .5 .1 .5 0 .5 0 .5-.1 .5-.1 .5-.1 .5 .1 .5 0 .5-.3 .5 .1 .5 .2 .5 .1 .5 .1 .5 0 .5 0 .5-.1 .5-.2 .5 .1 .5 .2 .5 0 .5-.1 .5 .1 .5 0 .5 0 .5 0 .5-.1 .5-.2 .5-.1 .5 .1 .5 .2 .5 .1 .5 0 .5 0 .5-.1 .5 0 .5 0 .5-.2 .5-.1 .5 .2 .5-.1 .5-.1 .5 .2 .5 0 .5 0 .5 0 .5-.2 .5 .1 .5 .2 .5 0 .5-.1 .5 0 .5 .1 .5-.1 .5-.1 .5 0 .5-.1 .5 0 .5 0 .5 0 .5 .3 .5 .1 .5 .1 .5 0 .5-.1 .5 0 .5-.1 .5 0 .5 .1 .5 0 .5 0 .5-.1 .5 0 .5 0 .5 .1 .5 0 .5 0 .5-.1 .5-.1 .5-.1 .5 0 .5-.1 .5 .3 .5 0 .5-.2 .5 .1 .5 .2 .5-.1 .5 0 .5 .1 .5 .1 .5 0 .5-.1 .5-.1 .5 .1 .5 0 .5 0 .5 0 .5-.2 .5-.1 .5-.1 .5 0 .5 0 .5 0 .5 .2 .5 .1 .5 0 .5-.2 .5 0 .5 0 .5 0 .5 0 .5 0 .5 .1 .5 0 .5 .1 .5 .1 .5 0 .5-.1 .5-.3 .5 0 .5 .1 .5 .2 .5 0 .5 0 .5 0 .5-.2 .5-.1 .5 0 .5 .1 .5 .1 .5 0 .5 .1 .5 0 .5 0 .5-.2 .5 .1 .5 .1 .5-.1 .5 0 .5 0 .5 0 .5 0 .5 0 .5 0 .5 0 .5 .1 .5 0 .5 .1 .5 0 .5 0 .5-.2 .5-.1 .5 .1 .5 .1 .5 .1 .5 0 .5-.1 .5 0 .5 .1 .5 .1 .5-.1 .5-.2 .5 0 .5 .1 .5 .1 .5-.1 .5 0 .5 0 .5 0 .5 0 .5 0 .5-.1 .5 .1 .5-.1 .5 .1 .5 .1 .5 .1 .5 0 .5 0 .5 0 .5-.2 .5-.1 .5 .1 .5 .1 .5-.1 .5 0 .5 .2 .5-.2 .5-.1 .5 0 .5 .1 .5 0 .5 0 .5-.1 .5 0 .5-.1 .5 0 .5 .1 .5-.1 .5 .1 .5 .2 .5-.1 .5 0 .5-.1 .5-.1 .5 0 .5-.1 .5 .1 .5 .2 .5 .1 .5 0 .5-.1 .5-.1 .5 0 .5 0 .5 0 .5-.1 .5 .1 .5 0 .5 0 .5 0 .5 .1 .5 .1 .5-.1 .5 0 .5 0 .5 .2 .5 0 .5-.1 .5-.1 .5 .1 .5 .1 .5-.1 .5 0 .5 0 .5-.1 .5-.1 .5 0 .5 0 .5 .1 .5 .1 .5 .1 .5 0 .5 0 .5-.2 .5-.2 .5-.1 .5 .1 .5 .3 .5-.1 .5 0 .5 .1 .5-.1 .5 0 .5-.1 .5 .1 .5 .1 .5-.2 .5 0 .5 .1 .5-.1 .5 0 .5 .1 .5 .1 .5 0 .5 0 .5 0 .5 .1 .5-.1 .5 0 .5 0 .5 0 .5 0 .5 0 .5 0 .5 0 .5-.1 .5 0 .5 0 .5 .1 .5-.1 .5 0 .5 0 .5 0 .5 0 .5 .1 .5 0 .5-.1 .5-.2 .5 0 .5 .2 .5 0 .5 0 .5 .1 .5 0 .5-.1 .5 0 .5 .1 .5 .1 .5 0 .5-.2 .5-.1 .5 0 .5 .1 .5 0 .5 0 .5 0 .5 .1 .5 .1 .5-.2 .5 0 .5-.1 .5 0 .5 .1 .5 0 .5 0 .5 .1 .5-.1 .5 0 .5 0 .5 0 .5 0 .5 0 .5-.1 .5-.1 .5 .1 .5 .1 .5 .1 .5 0 .5 0 .5 0 .5 0 .5 0 .5-.2 .5-.1 .5 .1 .5 .2 .5 0 .5 0 .5 0 .5 0 .5-.1 .5 .1 .5 0 .5 0 .5 0 .5 0 .5-.1 .5 0 .5 0 .5 .1 .5 0 .5 0 .5 0 .5 0 .5 .1 .5-.1 .5 0 .5-.1 .5 0 .5 .1 .5 .1 .5-.1 .5 0 .5 0 .5-.1 .5 .1 .5 .1 .5 0 .5 0 .5 0 .5-.1 .5 0 .5 0 .5-.1 .5 .1 .5 0 .5 0 .5 .1 .5-.1 .5 0 .5 0 .5 0 .5 0 .5 .1 .5 0 .5-.1 .5 0 .5 0 .5 0 .5-.1 .5 0 .5 0 .5 0 .5-.1 .5 0 .5 0 .5 .1 .5 0 .5 0 .5 0 .5-.1 .5 0 .5 0 .5 .1 .5 .1 .5 0 .5-.1 .5 0 .5 0 .5-.1 .5 .1 .5 .1 .5-.1 .5-.1 .5 0 .5 .1 .5-.1 .5 0 .5 .1 .5 .2 .5 0 .5-.1 .5-.1 .5 0 .5 0 .5 .1 .5-.1 .5 0 .5 0 .5-.1 .5 .1 .5 .1 .5 0 .5 0 .5-.1 .5-.1 .5 .1 .5 .2 .5 0 .5-.1 .5 0 .5 0 .5 0 .5 0 .5 0 .5-.1 .5 .1 .5-.1 .5 0 .5 0 .5 .1 .5-.1 .5-.1 .5 .2 .5 0 .5 0 .5-.1 .5 0 .5 .1 .5-.1 .5 0 .5 .1 .5 .1 .5 0 .5-.1 .5-.1 .5 0 .5 .1 .5-.1 .5 0 .5-.1 .5 .1 .5 .1 .5 .1 .5 0 .5 .1 .5-.1 .5-.1 .5 0 .5 0 .5-.1 .5 0 .5 .1 .5 0 .5 0 .5-.1 .5 0 .5 .1 .5 .1 .5 .1 .5-.1 .5-.1 .5 0 .5 0 .5 0 .5 .1 .5 .1 .5-.1 .5-.1 .5-.1 .5 0 .5 .1 .5 .1 .5 0 .5-.1 .5 0 .5 0 .5 0 .5 .1 .5 0 .5 0 .5-.2 .5 0 .5 0 .5 0 .5-.1 .5 0 .5-.1 .5 .1 .5 .2 .5 .1 .5 0 .5-.1 .5 0 .5 .1 .5 0 .5-.1 .5 0 .5 0 .5-.1 .5-.1 .5 .1 .5 .1 .5 0 .5 0 .5 0 .5 0 .5-.1 .5-.1 .5 .1 .5 0 .5-.1 .5 .1 .5 0 .5 0 .5 .1 .5 0 .5 .1 .5-.1 .5 0 .5 0 .5 0 .5 .1 .5 0 .5-.1 .5 0 .5 0 .5-.1 .5 0 .5 .1 .5 .1 .5 0 .5 0 .5 0 .5 0 .5 0 .5 0 .5-.1 .5 .1 .5 0 .5-.1 .5 0 .5 0 .5-.2 .5 0 .5 .2 .5 0 .5 0 .5 0 .5 0 .5 0 .5-.1 .5 .1 .5 .1 .5-.1 .5-.1 .5 0 .5 .1 .5 0 .5 0 .5 0 .5 0 .5-.1 .5 0 .5 .1 .5 0 .5 0 .5 0 .5 0 .5-.1 .5-.1 .5 .1 .5 .1 .5 0 .5-.1 .5-.1 .5 .1 .5 .2 .5 0 .5-.1 .5 0 .5 .1 .5 0 .5 0 .5 0 .5 0 .5-.1 .5 0 .5-.1 .5 .1 .5 .1 .5 0 .5-.1 .5 0 .5 .1 .5-.1 .5 0 .5 .1 .5-.1 .5 0 .5 0 .5-.1 .5 0 .5 0 .5 .1 .5 .1 .5-.1 .5-.1 .5 0 .5 0 .5 0 .5 0 .5 .1 .5-.1 .5-.1 .5 .1 .5 0 .5 .2 .5 0 .5-.1 .5-.1 .5-.1 .5 .2 .5 .1 .5 0 .5 0 .5-.1 .5-.2 .5 .1 .5 .1 .5 0 .5 0 .5-.1 .5 0 .5 .1 .5 .1 .5 0 .5-.1 .5-.1 .5 0 .5 .1 .5 0 .5-.2 .5 0 .5 .2 .5 0 .5 0 .5 .1 .5 0 .5 0 .5 .1 .5 0 .5-.1 .5 0 .5 0 .5-.1 .5-.1 .5 0 .5 .1 .5 0 .5-.1 .5 0 .5 .1 .5 0 .5 0 .5 0 .5 0 .5 .1 .5 0 .5-.1 .5 0 .5 0 .5-.1 .5 0 .5 0 .5 .2 .5 0 .5 0 .5-.1 .5-.1 .5 .1 .5-.1 .5 0 .5 0 .5 .1 0 .3-.5 0-.5 0-.5 0-.5 0-.5 0-.5 0-.5 0-.5 0-.5 0-.5 0-.5 0-.5 0-.5 0-.5 0-.5 0-.5 0-.5 0-.5 0-.5 0-.5 0-.5 0-.5 0-.5 0-.5 0-.5 0-.5 0-.5 0-.5 0-.5 0-.5 0-.5 0-.5 0-.5 0-.5 0-.5 0-.5 0-.5 0-.5 0-.5 0-.5 0-.5 0-.5 0-.5 0-.5 0-.5 0-.5 0-.5 0-.5 0-.5 0-.5 0-.5 0-.5 0-.5 0-.5 0-.5 0-.5 0-.5 0-.5 0-.5 0-.5 0-.5 0-.5 0-.5 0-.5 0-.5 0-.5 0-.5 0-.5 0-.5 0-.5 0-.5 0-.5 0-.5 0-.5 0-.5 0-.5 0-.5 0-.5 0-.5 0-.5 0-.5 0-.5 0-.5 0-.5 0-.5 0-.5 0-.5 0-.5 0-.5 0-.5 0-.5 0-.5 0-.5 0-.5 0-.5 0-.5 0-.5 0-.5 0-.5 0-.5 0-.5 0-.5 0-.5 0-.5 0-.5 0-.5 0-.5 0-.5 0-.5 0-.5 0-.5 0-.5 0-.5 0-.5 0-.5 0-.5 0-.5 0-.5 0-.5 0-.5 0-.5 0-.5 0-.5 0-.5 0-.5 0-.5 0-.5 0-.5 0-.5 0-.5 0-.5 0-.5 0-.5 0-.5 0-.5 0-.5 0-.5 0-.5 0-.5 0-.5 0-.5 0-.5 0-.5 0-.5 0-.5 0-.5 0-.5 0-.5 0-.5 0-.5 0-.5 0-.5 0-.5 0-.5 0-.5 0-.5 0-.5 0-.5 0-.5 0-.5 0-.5 0-.5 0-.5 0-.5 0-.5 0-.5 0-.5 0-.5 0-.5 0-.5 0-.5 0-.5 0-.5 0-.5 0-.5 0-.5 0-.5 0-.5 0-.5 0-.5 0-.5 0-.5 0-.5 0-.5 0-.5 0-.5 0-.5 0-.5 0-.5 0-.5 0-.5 0-.5 0-.5 0-.5 0-.5 0-.5 0-.5 0-.5 0-.5 0-.5 0-.5 0-.5 0-.5 0-.5 0-.5 0-.5 0-.5 0-.5 0-.5 0-.5 0-.5 0-.5 0-.5 0-.5 0-.5 0-.5 0-.5 0-.5 0-.5 0-.5 0-.5 0-.5 0-.5 0-.5 0-.5 0-.5 0-.5 0-.5 0-.5 0-.5 0-.5 0-.5 0-.5 0-.5 0-.5 0-.5 0-.5 0-.5 0-.5 0-.5 0-.5 0-.5 0-.5 0-.5 0-.5 0-.5 0-.5 0-.5 0-.5 0-.5 0-.5 0-.5 0-.5 0-.5 0-.5 0-.5 0-.5 0-.5 0-.5 0-.5 0-.5 0-.5 0-.5 0-.5 0-.5 0-.5 0-.5 0-.5 0-.5 0-.5 0-.5 0-.5 0-.5 0-.5 0-.5 0-.5 0-.5 0-.5 0-.5 0-.5 0-.5 0-.5 0-.5 0-.5 0-.5 0-.5 0-.5 0-.5 0-.5 0-.5 0-.5 0-.5 0-.5 0-.5 0-.5 0-.5 0-.5 0-.5 0-.5 0-.5 0-.5 0-.5 0-.5 0-.5 0-.5 0-.5 0-.5 0-.5 0-.5 0-.5 0-.5 0-.5 0-.5 0-.5 0-.5 0-.5 0-.5 0-.5 0-.5 0-.5 0-.5 0-.5 0-.5 0-.5 0-.5 0-.5 0-.5 0-.5 0-.5 0-.5 0-.5 0-.5 0-.5 0-.5 0-.5 0-.5 0-.5 0-.5 0-.5 0-.5 0-.5 0-.5 0-.5 0-.5 0-.5 0-.5 0-.5 0-.5 0-.5 0-.5 0-.5 0-.5 0-.5 0-.5 0-.5 0-.5 0-.5 0-.5 0-.5 0-.5 0-.5 0-.5 0-.5 0-.5 0-.5 0-.5 0-.5 0-.5 0-.5 0-.5 0-.5 0-.5 0-.5 0-.5 0-.5 0-.5 0-.5 0-.5 0-.5 0-.5 0-.5 0-.5 0-.5 0-.5 0-.5 0-.5 0-.5 0-.5 0-.5 0-.5 0-.5 0-.5 0-.5 0-.5 0-.5 0-.5 0-.5 0-.5 0-.5 0-.5 0-.5 0-.5 0-.5 0-.5 0-.5 0-.5 0-.5 0-.5 0-.5 0-.5 0-.5 0-.5 0-.5 0-.5 0-.5 0-.5 0-.5 0-.5 0-.5 0-.5 0-.5 0-.5 0-.5 0-.5 0-.5 0-.5 0-.5 0-.5 0-.5 0-.5 0-.5 0-.5 0-.5 0-.5 0-.5 0-.5 0-.5 0-.5 0-.5 0-.5 0-.5 0-.5 0-.5 0-.5 0-.5 0-.5 0-.5 0-.5 0-.5 0-.5 0-.5 0-.5 0-.5 0-.5 0-.5 0-.5 0-.5 0-.5 0-.5 0-.5 0-.5 0-.5 0-.5 0-.5 0-.5 0-.5 0-.5 0-.5 0-.5 0-.5 0-.5 0-.5 0-.5 0-.5 0-.5 0-.5 0-.5 0-.5 0-.5 0-.5 0-.5 0-.5 0-.5 0-.5 0-.5 0-.5 0-.5 0-.5 0-.5 0-.5 0-.5 0-.5 0-.5 0-.5 0-.5 0-.5 0-.5 0-.5 0-.5 0-.5 0-.5 0-.5 0-.5 0-.5 0-.5 0-.5 0-.5 0-.5 0-.5 0-.5 0-.5 0-.5 0-.5 0-.5 0-.5 0-.5 0-.5 0-.5 0-.5 0-.5 0-.5 0-.5 0-.5 0-.5 0-.5 0-.5 0-.5 0-.5 0-.5 0-.5 0-.5 0-.5 0-.5 0-.5 0-.5 0-.5 0-.5 0-.5 0-.5 0-.5 0-.5 0-.5 0-.5 0-.5 0-.5 0-.5 0-.5 0-.5 0-.5 0-.5 0-.5 0-.5 0-.5 0-.5 0-.5 0-.5 0-.5 0-.5 0-.5 0-.5 0-.5 0-.5 0-.5 0-.5 0-.5 0-.5 0-.5 0-.5 0-.5 0-.5 0-.5 0-.5 0-.5 0-.5 0-.5 0-.5 0-.5 0-.5 0-.5 0-.5 0-.5 0-.5 0-.5 0-.5 0-.5 0-.5 0-.5 0-.5 0-.5 0-.5 0-.5 0-.5 0-.5 0-.5 0-.5 0-.5 0-.5 0-.5 0-.5 0-.5 0-.5 0-.5 0-.5 0-.5 0-.5 0-.5 0-.5 0-.5 0-.5 0-.5 0-.5 0-.5 0-.5 0-.5 0-.5 0-.5 0-.5 0-.5 0-.5 0-.5 0-.5 0-.5 0-.5 0-.5 0-.5 0-.5 0-.5 0-.5 0-.5 0-.5 0-.5 0-.5 0-.5 0-.5 0-.5 0-.5 0-.5 0-.5 0-.5 0-.5 0-.5 0-.5 0-.5 0-.5 0-.5 0-.5 0-.5 0-.5 0-.5 0-.5 0-.5 0-.5 0-.5 0-.5 0-.5 0-.5 0-.5 0-.5 0-.5 0-.5 0-.5 0-.5 0-.5 0-.5 0-.5 0-.5 0-.5 0-.5 0-.5 0-.5 0-.5 0-.5 0-.5 0-.5 0-.5 0-.5 0-.5 0-.5 0-.5 0-.5 0-.5 0-.5 0-.5 0-.5 0-.5 0-.5 0-.5 0-.5 0-.5 0-.5 0-.5 0-.5 0-.5 0-.5 0-.5 0-.5 0-.5 0-.5 0-.5 0-.5 0-.5 0-.5 0-.5 0-.5 0-.5 0-.5 0-.5 0-.5 0-.5 0-.5 0-.5 0-.5 0-.5 0-.5 0-.5 0-.5 0-.5 0-.5 0-.5 0-.5 0-.5 0-.5 0-.5 0-.5 0-.5 0-.5 0-.5 0-.5 0-.5 0-.5 0-.5 0-.5 0-.5 0-.5 0-.5 0-.5 0-.5 0-.5 0-.5 0-.5 0-.5 0-.5 0-.5 0-.5 0-.5 0-.5 0-.5 0-.5 0-.5 0-.5 0-.5 0-.5 0-.5 0-.5 0-.5 0-.5 0-.5 0-.5 0-.5 0-.5 0-.5 0-.5 0-.5 0-.5 0-.5 0-.5 0-.5 0-.5 0-.5 0-.5 0-.5 0-.5 0-.5 0-.5 0-.5 0-.5 0-.5 0-.5 0-.5 0-.5 0-.5 0-.5 0-.5 0-.5 0-.5 0-.5 0-.5 0-.5 0-.5 0-.5 0-.5 0-.5 0-.5 0-.5 0-.5 0-.5 0-.5 0-.5 0-.5 0-.5 0-.5 0-.5 0-.5 0-.5 0-.5 0-.5-.1-.5 .1-.5 0-.5 0-.5 0-.5 0-.5 0-.5 0-.5 0-.5 0-.5-.1-.5 0-.5 0-.5-.2-.5-.1-.5 .1-.5 0-.5 .1-.5 .2-.5-.1-.5-.3-.5-.1-.5 0-.5 .2-.5 .2-.5-.2-.5-.2-.5-.1-.5 .3-.5 .1-.5-.2-.5 .1-.5 .2-.5 .1-.5 0-.5-.1-.5-.4-.5-.2-.5 .4-.5 .2-.5 .1-.5 0-.5 0-.5 0-.5-.4-.5 0-.5 .1-.5 .2-.5-.4-.5 0-.5-.6-.5 0-.5 .2-.5-.3-.5 0-.5 .1-.5 .6-.5 0-.5 0-.5 .5-.5-.1-.5-.7-.5 .1-.5-.4-.5 .2-.5 .4-.5 .2-.5 0-.5-.5-.5-.2-.5 .1-.5-.5-.5 .2-.5 .5-.5 .1-.5 0-.5 0-.5 0-.5-.1-.5 .1-.5 0-.5 .2-.5 0-.5 .1-.5 .1-.5-.8-.5 .2-.5-.9-.5 .2-.5 .5-.5 .3-.5 .3-.5-.2-.5-.5-.5-.3-.5 0-.5 1-.5 .4-.5 0-.5-.6-.5-.2-.5 .2-.5 .3-.5 0-.5-.8-.5-.6-.5-.2-.5-1.1-.5-.1-.5 .3-.5 1-.5-.7-.5-.1-.5 .6-.5-.4-.5 .5-.5 1.7-.5 .2-.5-1.1-.5-.9-.5 .1-.5 .4-.5 .3-.5-.3-.5-1.3-.5-.4-.5 1.3-.5 .6-.5-.8-.5 .2-.5 .8-.5 .8-.5 .3-.5 0-.5-1-.5-2-.5 .4-.5 1.4-.5 .4-.5 0-.5-.4-.5-.3-.5-.1-.5-.2-.5 0-.5 0-.5 .2-.5 0-.5 .7-.5-.4-.5-1.6-.5 .6-.5 .4-.5-.4-.5 .8-.5 0-.5-1.1-.5-.1-.5 .1-.5-.1-.5 .4-.5 .4-.5 1.2-.5 .7-.5 0-.5 0-.5-.2-.5-.9-.5-1.5-.5-.3-.5 .1-.5 .1-.5 .7-.5 1.2-.5 .7-.5-1.2-.5-.9-.5 .5-.5 .5-.5 .3-.5-.1-.5 0-.5-.5-.5-.6-.5 0-.5 .6-.5 .4-.5-.4-.5 .2-.5 1.2-.5 .1-.5-.1-.5-.4-.5-.5-.5-.2-.5 .7-.5 .4-.5-.5-.5-.8-.5-.6-.5 .2-.5 .1-.5 .2-.5 1-.5 .2-.5-.2-.5 0-.5 .1-.5-.3-.5-.6-.5 0-.5 .4-.5 0-.5 .4-.5 .3-.5-.2-.5-.7-.5-.4-.5 0-.5 .7-.5 .3-.5-.2-.5 0-.5 .1-.5 0-.5-.2-.5 .1-.5 .1-.5-.1-.5-.2-.5 .2-.5-.3-.5 .6-.5 0-.5-.1-.5 0-.5 .1-.5 .1-.5 .2-.5-.1-.5-.6-.5-.1-.5 .2-.5 .4-.5 .2-.5 .1-.5-.1-.5-.2-.5 .1-.5 .2-.5 0-.5-.2-.5 0-.5 .1-.5 .1-.5 0-.5 0-.5 0-.5 0-.5 0-.5 0-.5 0-.5 0-.5 0-.5 0-.5 0-.5 0-.5 0-.5 0-.5 0-.5 0-.5 0-.5 0-.5 0-.5 0-.5 0-.5 0-.5 0-.5 0-.5 0-.5 0-.5 0-.5 0-.5 0-.5 0-.5 0-.5 0-.5 0-.5 0-.5 0-.5 0-.5 0-.5 0-.5 0-.5 0-.5 0-.5 0-.5 0-.5 0-.5 0-.5 0-.5 0-.5 0-.5 0-.5 0-.5 0-.5 0-.5 0-.5 0-.5 0-.5 0-.5 0-.5 0-.5 0-.5 0-.5 0-.5 0-.5 0-.5 0-.5 0-.5 0z" fill="#ff3fae" stroke="#ff3fae" stroke-width="0.8" stroke-linejoin="round"/>
<path d="M109.4 692.8l.3 0 .3 0 .3 .1 .3 0 .3 0 .3 .1 .3 0 .3 0 .3 0 .3 .1 .3 0 .3 0 .3 0 .3 0 .3-.1 .3 0 .3 0 .3 0 .3-.1 .3 0 .3 0 .3 0 .3-.1 .3 0 .3-.6 .3-.5 .3 .5 .3-2.4 .3 1.4 .3-3.3 .3 4 .3-4.1 .3 3.3 .3-5 .3-.1 .3-3.9 .3 1.7 .3-1.4 .3-2.8 .3 8.6 .3-1.1 .3-7.9 .3-.3 .3-5.9 .3 11.5 .3 1 .3-1 .3-6.5 .3-2.8 .3 2 .3 0 .3 6.5 .3 .1 .3 1 .3 .4 .3 .8 .3 3.6 .3 .8 .3-1.6 .3 .2 .3-1.7 .3 1.6 .3-.4 .3-1.3 .3 1.3 .3 2.1 .3-3.5 .3 2.5 .3 2.6 .3-3.5 .3 2.8 .3-.7 .3 1.6 .3-.6 .3-2.5 .3 0 .3 2.8 .3-1.4 .3 .4 .3-5.2 .3-.6 .3 3.2 .3-4 .3 1.8 .3 .3 .3-1 .3 3.2 .3-2 .3 .8 .3-.3 .3 1.8 .3 .9 .3-2.5 .3 1.5 .3 1.9 .3-6 .3 .9 .3-.2 .3-1.8 .3 6 .3-2.4 .3-1.3 .3 0 .3 .5 .3 1.5 .3 2.5 .3-2.3 .3-1.4 .3 1.1 .3-2.9 .3 2.2 .3-4.5 .3 2.6 .3-1.6 .3-3.3 .3 8.6 .3-5.4 .3-3.4 .3 3.9 .3 4.3 .3-1.6 .3 .4 .3 .5 .3 2 .3-2.3 .3-.3 .3-5.2 .3 .9 .3-1 .3-2.6 .3 .4 .3 5.3 .3-8.5 .3 10 .3-15.4 .3-2.7 .3 3.4 .3 6.4 .3 2.5 .3 8.3 .3-10.4 .3 11 .3-12.8 .3 0 .3 8.4 .3-7.3 .3 5.2 .3-4.1 .3 8.6 .3 3.1 .3-2.1 .3-.6 .3 .4 .3-6.5 .3 3.1 .3 1.7 .3-1.6 .3-5.5 .3 2.9 .3-2.6 .3 1.6 .3 1.9 .3 4.3 .3 3.1 .3-5.8 .3 .9 .3-1.8 .3 .9 .3-2.8 .3-.4 .3-.5 .3 8.1 .3-5.4 .3 2.1 .3 3.6 .3-5.8 .3 1.7 .3 1.1 .3-1.9 .3 4.7 .3 2.8 .3-4.2 .3-5.1 .3 2.6 .3 .1 .3-4.1 .3-1.8 .3 1.6 .3 5 .3-2.9 .3 .6 .3 5.1 .3 .7 .3-4.8 .3 2.2 .3-3.6 .3 1.2 .3-4 .3 4.4 .3 1.6 .3-.9 .3 .3 .3 6.1 .3-7.4 .3 6.5 .3-3.9 .3-1.8 .3 3.3 .3-3.1 .3 .9 .3-1 .3-.6 .3 6.7 .3-1.2 .3-4.3 .3 3.4 .3 .8 .3 1.1 .3-1.4 .3 .2 .3-.8 .3-3 .3 .2 .3 2.5 .3-.3 .3-2.5 .3 .5 .3 5.4 .3-1.7 .3 2.5 .3-3 .3 1 .3-.7 .3-.8 .3 .5 .3-.1 .3 1.2 .3-2 .3-.4 .3 2.6 .3-1.7 .3 .4 .3 2.3 .3-1 .3 1.5 .3-.2 .3 0 .3 .8 .3-1.2 .3 0 .3-.6 .3-.3 .3-.5 .3 .1 .3 1.3 .3-.4 .3-.2 .3 .2 .3 1.4 .3-.1 .3-.1 .3 .2 .3-.1 .3 .1 .3 .1 .3-.2 .3 .3 .3 .1 .3-1.4 .3 0 .3 0 .3-.1 .3 0 .3 0 .3-.1 .3 .1 .3 0 .3 .1 .3 .1 .3 .1 .3 .1 .3 .1 .3 .1 .3 .1 .3 .1 .1 0 1 .3 1-.1 1-.1 1-.1 1-.1 1 .2 1 .2 1 .2 1 .2 1 .2 1 0 1 0 1-.1 1 0 1 0 1 0 1 0 1-.1 1 0 1 0 1 .1 1 0 1 .1 1 0 1 .1 1 .1 1 0 1 .1 1 0 1 .1 1 0 1 0 1 0 1 0 1 0 1 0 1 0 1 0 1 0 1 0 1 0 1 0 1 0 1 0 1 0 1 0 1 0 1 0 1 0 1 0 1 0 1 0 1 0 1 0 1 0 1 0 1 0 1 0 1 0 1 0 1 0 1 0 1 0 1 0 1 0 1 0 1 0 1 0 1 0 1 0 1 0 1 0 1 0 1 0 1 0 1 0 1 0 1 0 1 0 1 0 1 0 1 0 1 0 1 0 1 0 1 .1 1 0 1 0 1 0 1 0 1 0 1 0 1 0 1 0 1 0 1 0 1 0 1 0 1 0 1 0 1 0 1 0 1 0 1 0 1 0 1 0 1 0 1 0 1 0 1 0 1 0 1 0 1 0 1 0 1 0 1 0 1 0 1 0 1 0 1 0 1 0 1 0 1 0 1 0 1 0 1 0 1 0 1 0 1 0 1 0 1 0 1 0 1 0 1 0 1 0 1 0 1 0 1 0 1 0 1 0 1 0 1 0 1 0 1 0 1 0 1 0 1 0 1 0 1 0 1 0 1 0 1 0 1 0 1 0 1 0 1 0 1 0 1 0 1 0 1 0 1 0 1 0 1 0 1 0 1 0 1 0 1 0 1 0 1 0 1 0 1 0 1 0 1 0 1 0 1 0 1 0 1 0 1 0 1 0 1 0 1 0 1 0 1 0 1 0 1 0 1 0 1 0 1 0 1 0 1 0 1 0 1 0 1 0 1 0 1 0 1 0 1 0 1 .1 1 0 1 0 1 0 1 0 1 0 1 0 1 0 1 0 1 0 1 0 1 0 1 0 1 0 1 0 1 0 1 0 1 0 1 0 1 0 1 0 1 0 1 0 1 0 1 0 1 0 1 0 1 0 1 0 1 0 1 0 1 0 1 0 1 0 1 0 1 0 1 0 1 0 1 0 1 0 1 0 1 0 1 0 1 0 1 0 1 0 1 0 1 0 1 0 1 0 1 0 1 0 1 0 1 0 1 0 1 0 1 0 1 0 1 0 1 0 1 0 1 0 1 0 1 0 1 0 1 0 1 0 1 0 1 0 1 0 1 0 1 0 1 0 1 0 1 0 1 0 1 0 1 0 1 0 1 0 1 0 1 0 1 0 1 0 1 0 1 0 1 0 1 0 1 0 1 0 1 0 1 0 1 0 1 0 1 0 1 0 1 0 1 0 1 0 1 0 1 0 1 0 1 0 1 0 1 0 1 0 1 0 1 0 1 0 1 0 1 0 1 0 1 .1 1 0 1 0 1 0 1 0 1 0 1 0 1 0 1 0 1 0 1 0 1 0 1 0 1 0 1 0 1 0 1 0 1 0 1 0 1 0 1 0 1 0 1 0 1 0 1 0 1 0 1 0 1 0 1 0 1 0 1 0 1 0 1 0 1 0 1 0 1 0 1 0 1 0 1 0 1 0 1 0 1 0 1 0 1 0 1 0 1 0 1 0 1 0 1 0 1 0 1 0 1 0 1 0 1 0 1 0 1 0 1 0 1 0 1 0 1 0 1 0 1 0 1 0 1 0 1 0 1 0 1 0 1 0 1 0 1 0 1 0 1 0 1 0 1 0 1 0 1 0 1 0 1 0 1 0 1 0 1 0 1 0 1 0 1 0 1 0 1 0 1 0 1 0 1 0 1 0 1 0 1 0 1 0 1 0 1 0 1 0 1 0 1 0 1 0 1 0 1 0 1 0 1 0 1 0 1 0 1 0 1 0 1 0 1 0 1 0 1 0 1 0 1 .1 1 0 1 0 1 0 1 0 1 0 1 0 1 0 1 0 1 0 1 0 1 0 1 0 1 0 1 0 1 0 1 0 1 0 1 0 1 0 1 0 1 0 1 0 1 0 1 0 1 0 1 0 1 0 1 0 1 0 1 0 1 0 1 0 1 0 1 0 1 0 1 0 1 0 1 0 1 0 1 0 1 0 1 0 1 0 1 0 1 0 1 0 1 0 1 0 1 0 1 0 1 0 1 0 1 0 1 0 1 0" fill="none" stroke="#ff3fae" stroke-width="1.3" stroke-linejoin="round"/>
<path d="M109.4 740.2l.3-.1 .3-.1 .3-.1 .3-.1 .3-.1 .3-.1 .3-.1 .3-.1 .3-.1 .3-.1 .3 0 .3-.1 .3-.1 .3-.1 .3-.1 .3-.1 .3-.1 .3-.1 .3-.1 .3-.1 .3 0 .3-.1 .3-.1 .3-.1 .3-.2 .3-.1 .3-.2 .3-.2 .3-.2 .3-.1 .3-.2 .3-.2 .3-.2 .3-.1 .3-.2 .3-.2 .3-.8 .3-1.2 .3-1.2 .3-1.2 .3-3.3 .3-4.5 .3-4.5 .3-1.2 .3-1.2 .3 .3 .3 1.2 .3 2.6 .3 5.1 .3 5.1 .3 1.9 .3 1.8 .3 1.9 .3 1.6 .3 .3 .3-.6 .3 .8 .3-.3 .3-1.1 .3-.3 .3 .6 .3-.9 .3 1.3 .3 .3 .3-1.5 .3-.3 .3 .8 .3 .7 .3 .5 .3-1.7 .3-.4 .3 1.8 .3 .1 .3-1.4 .3-.2 .3-.2 .3-.4 .3 .9 .3 1.9 .3-1.9 .3-.4 .3 .4 .3 1.5 .3-2.2 .3 .1 .3 2.4 .3-1.3 .3-1.1 .3 1.2 .3-1.4 .3 .5 .3-.4 .3 1.6 .3 .8 .3-2 .3 .5 .3 .1 .3 1.9 .3-1.7 .3 .7 .3-.7 .3 1 .3 .5 .3-1 .3 .4 .3 .6 .3-.9 .3 1.6 .3-1.2 .3 .3 .3 .5 .3 .6 .3-1.2 .3 .1 .3 .9 .3-.6 .3 .2 .3 .1 .3 .7 .3-.7 .3 .6 .3-.4 .3 .7 .3 0 .3-.5 .3 .5 .3-.3 .3 .1 .3-.1 .3 .1 .3 .1 .3 0 .3 .1 .3 .1 .3 0 .1 .1 1 0 1 0 1 0 1 0 1 0 1 0 1 0 1 0 1 0 1 0 1 0 1 0 1 0 1 0 1 0 1 0 1 0 1 0 1 0 1 0 1 0 1 0 1 0 1 0 1 0 1 0 1 0 1 0 1 0 1 0 1 0 1 0 1 0 1 0 1 0 1 0 1 0 1 0 1 0 1 0 1 0 1 0 1 0 1 0 1 0 1 0 1 0 1 0 1 0 1 0 1 0 1 0 1 0 1 0 1 0 1 0 1 0 1 0 1 0 1 0 1 0 1 0 1 0 1 0 1 0 1 0 1 0 1 0 1 0 1 0 1 0 1 0 1 0 1 0 1 0 1 0 1 0 1 0 1 0 1 0 1 0 1 0 1 0 1 0 1 0 1 0 1 0 1 0 1 0 1 0 1 0 1 0 1 0 1 0 1 0 1 0 1 0 1 0 1 0 1 0 1 0 1 0 1 0 1 0 1 0 1 0 1 0 1 0 1 0 1 0 1 0 1 0 1 0 1 0 1 0 1 0 1 0 1 0 1 0 1 0 1 0 1 0 1 0 1 0 1 0 1 0 1 0 1 0 1 0 1 0 1 0 1 0 1 0 1 0 1 0 1 0 1 0 1 0 1 0 1 0 1 0 1 0 1 0 1 0 1 0 1 0 1 0 1 0 1 0 1 0 1 0 1 0 1 0 1 0 1 0 1 0 1 0 1 0 1 0 1 0 1 0 1 0 1 0 1 0 1 0 1 0 1 0 1 0 1 0 1 0 1 0 1 0 1 0 1 0 1 .1 1 0 1 0 1 0 1 0 1 0 1 0 1 0 1 0 1 0 1 0 1 0 1 0 1 0 1 0 1 0 1 0 1 0 1 0 1 0 1 0 1 0 1 0 1 0 1 0 1 0 1 0 1 0 1 0 1 0 1 0 1 0 1 0 1 0 1 0 1 0 1 0 1 0 1 0 1 0 1 0 1 0 1 0 1 0 1 0 1 0 1 0 1 0 1 0 1 0 1 0 1 0 1 0 1 0 1 0 1 0 1 0 1 0 1 0 1 0 1 0 1 0 1 0 1 0 1 0 1 0 1 0 1 0 1 0 1 0 1 0 1 0 1 0 1 0 1 0 1 0 1 0 1 0 1 0 1 0 1 0 1 0 1 0 1 0 1 0 1 0 1 0 1 0 1 0 1 0 1 0 1 0 1 0 1 0 1 0 1 0 1 0 1 0 1 0 1 0 1 0 1 0 1 0 1 0 1 0 1 0 1 0 1 0 1 0 1 0 1 0 1 0 1 0 1 0 1 0 1 0 1 0 1 0 1 0 1 0 1 0 1 0 1 0 1 0 1 0 1 0 1 0 1 0 1 0 1 0 1 0 1 0 1 0 1 0 1 0 1 0 1 0 1 0 1 0 1 0 1 0 1 0 1 0 1 0 1 0 1 0 1 0 1 0 1 0 1 0 1 0 1 0 1 0 1 0 1 0 1 0 1 0 1 0 1 0 1 0 1 0 1 0 1 0 1 0 1 0 1 0 1 0 1 0 1 0 1 0 1 0 1 0 1 0 1 0 1 .1 1 0 1 0 1 0 1 0 1 0 1 0 1 0 1 0 1 0 1 0 1 0 1 0 1 0 1 0 1 0 1 0 1 0 1 0 1 0 1 0 1 0 1 0 1 0 1 0 1 0 1 0 1 0 1 0 1 0 1 0 1 0 1 0 1 0 1 0 1 0 1 0 1 0 1 0 1 0 1 0 1 0 1 0 1 0 1 0 1 0 1 0 1 0 1 0 1 0 1 0 1 0 1 0 1 0 1 0 1 0 1 0 1 0 1 0 1 0 1 0 1 0 1 0 1 0 1 0 1 0 1 0 1 0 1 0 1 0 1 0 1 0 1 0 1 0 1 0 1 0 1 0 1 0 1 0 1 0 1 0 1 0 1 0 1 0 1 0 1 0 1 0 1 0 1 0 1 0 1 0 1 0 1 0 1 0 1 0 1 0 1 0 1 0 1 0 1 0 1 0 1 0 1 0 1 0 1 0 1 0 1 0 1 0 1 0 1 0 1 0 1 0 1 0 1 0 1 0 1 0 1 0 1 0 1 0 1 0 1 0 1 0 1 0 1 0 1 0 1 0 1 0 1 0 1 0 1 0 1 0 1 0 1 0 1 0 1 0 1 0 1 0 1 0 1 0 1 0 1 0 1 0 1 0 1 0 1 0 1 0 1 0 1 0 1 0 1 0 1 0 1 0 1 0 1 0 1 0 1 0 1 0 1 0 1 0 1 0 1 0 1 0 1 0 1 0 1 0 1 0 1 0 1 0 1 0 1 0 1 0 1 0 1 0 1 0" fill="none" stroke="#ff3fae" stroke-width="1.3" stroke-linejoin="round"/>
<path d="M115.5 776.4l.3-.7 .3-1.6 .3 .2 .3 1.2 .3-1.4 .3-2.7 .3 .5 .3 1.1 .3-.6 .3-4.3 .3 0 .3 2.2 .3 2.2 .3 1.7 .3-2.2 .3 1.5 .3 1 .3-.5 .3-4.3 .3 .4 .3-1.8 .3 .1 .3-4.1 .3-1 .3-4.4 .3 5.9 .3 0 .3 10 .3 3.1 .3 1.6 .1 6.8-9.1 0z" fill="#ff3fae" stroke="#ff3fae" stroke-width="0.8" stroke-linejoin="round"/>
<path d="M118.4 782.8l1.2-4 1-1 1 2-1 4-1 .5-1.2-1.5z" fill="#ffffff" stroke="#ffffff" stroke-width="0.1" stroke-linejoin="round"/>
<path d="M109.4 785.8l.4-.4 .4 0 .4-.6 .4-.1 .4-.5 .4-.6 .4-.7 .4 0 .4-1.1 .4 .9 .4-.6 .4-1.5 .4-1.1 .4-.8 .4-.5 .4-1.9 .4-2.5 .4-1.1 .4-1.1 .4-1 .4-1.3 .4-1.3 .4-1.1 .4 .1 .4 2.9 .4 1.7 .4 .6 .4-.9 .4-1.3 .4-1 .4-.7 .4-6 .4-3.6 .4-.9 .4 0 .4 13.2 .4 5.9 .4 3.4 .4 .8 .4 .7 .4 .5 .4 .6 .4 .5 .4 .2 .4 .3 .4 .3 .4 .2 .4 .1 .4 .2 .4 .2 .4 .1 .4 .1 .4 .1 .4 0 .4 .1 .4 0 .4 .1 .4 0 .4 .1 .4 0 .4 .1 .4 0 .4 .1 .4 0 .4 0 .4 0 .4 0 .4 0 .4 0 .4 0 .4 0 .4 0 .4 0 .4 0 .4 0 .4 0 .4 0 .4 0 .4 0 .4 0 .4 0 .4 0 .4 0 .4 0 .4 0 .4 0 .4 0 .4 0 .4 0 .4 0 .4 0 .4 0 .4 0 .4 0 .4 0 .4 0 .4 0 .4 0 .4 0 .4 0 .4 0 .4 0 .4 0 .4 0 .4 0 .4 0 .4 0 .4 0 .4 0 .4 0 .4 0 .4 0 .4 0 .4 0 .4 0 .4 0 .4 0 .4 0 .4 0 .4 0 .4 0 .4 0 .4 0 .4 0 .4 0 .4 0 .4 0 .4 0 .4 0 .4 0 .4 0 .4 0 .4 0 .4 0 .4 0 .4 0 .4 0 .4 0 .4 0 .4 0 .4 0 .4 0 .4 0 .4 0 .4 0 .4 0 .4 0 .4 0 .4 0 .4 0 .4 0 .4 0 .4 0 .4 0 .4 0 .4 0 .4 0 .4 0 .4 0 .4 0 .4 0 .4 0 .4 0 .4 0 .4 0 .4 0 .4 0 .4 0 .4 0 .4 0 .4 0 .4 0 .4 0 .4 0 .4 0 .4 0 .4 0 .4 0 .4 0 .4 0 .4 0 .4 0 .4 0 .4 0 .4 0 .4 0 .4 0 .4 0 .4 0 .4 0 .4 0 .4 0 .4 0 .4 0 .4 0 .4 0 .4 0 .4 0 .4 0 .4 0 .4 0 .4 0 .4 0 .4 0 .4 0 .4 0 .4 0 .4 0 .4 0 .4 0 .4 0 .4 0 .4 0 .4 0 .4 0 .4 0 .4 0 .4 0 .4 0 .4 0 .4 0 .4 0 .4 0 .4 0 .4 0 .4 0 .4 0 .4 0 .4 0 .4 0 .4 0 .4 0 .4 0 .4 0 .4 0 .4 0 .4 0 .4 0 .4 0 .4 0 .4 0 .4 0 .4 0 .4 0 .4 0 .4 0 .4 0 .4 0 .4 0 .4 0 .4 0 .4 0 .4 0 .4 0 .4 0 .4 0 .4 0 .4 0 .4 0 .4 0 .4 0 .4 0 .4 0 .4 0 .4 0 .4 0 .4 0 .4 0 .4 0 .4 0 .4 0 .4 0 .4 0 .4 0 .4 0 .4 0 .4 0 .4 0 .4 0 .4 0 .4 0 .4 0 .4 0 .4 0 .4 0 .4 0 .4 0 .4 .1 .4 0 .4 0 .4 0 .4 0 .4 0 .4 0 .4 0 .4 0 .4 0 .4 0 .4 0 .4 0 .4 0 .4 0 .4 0 .4 0 .4 0 .4 0 .4 0 .4 0 .4 0 .4 0 .4 0 .4 0 .4 0 .4 0 .4 0 .4 0 .4 0 .4 0 .4 0 .4 0 .4 0 .4 0 .4 0 .4 0 .4 0 .4 0 .4 0 .4 0 .4 0 .4 0 .4 0 .4 0 .4 0 .4 0 .4 0 .4 0 .4 0 .4 0 .4 0 .4 0 .4 0 .4 0 .4 0 .4 0 .4 0 .4 0 .4 0 .4 0 .4 0 .4 0 .4 0 .4 0 .4 0 .4 0 .4 0 .4 0 .4 0 .4 0 .4 0 .4 0 .4 0 .4 0 .4 0 .4 0 .4 0 .4 0 .4 0 .4 0 .4 0 .4 0 .4 0 .4 0 .4 0 .4 0 .4 0 .4 0 .4 0 .4 0 .4 0 .4 0 .4 0 .4 0 .4 0 .4 0 .4 0 .4 0 .4 0 .4 0 .4 0 .4 0 .4 0 .4 0 .4 0 .4 0 .4 0 .4 0 .4 0 .4 0 .4 0 .4 0 .4 0 .4 0 .4 0 .4 0 .4 0 .4 0 .4 0 .4 0 .4 0 .4 0 .4 0 .4 0 .4 0 .4 0 .4 0 .4 0 .4 0 .4 0 .4 0 .4 0 .4 0 .4 0 .4 0 .4 0 .4 0 .4 0 .4 0 .4 0 .4 0 .4 0 .4 0 .4 0 .4 0 .4 0 .4 0 .4 0 .4 0 .4 0 .4 0 .4 0 .4 0 .4 0 .4 0 .4 0 .4 0 .4 0 .4 0 .4 0 .4 0 .4 0 .4 0 .4 0 .4 0 .4 0 .4 0 .4 0 .4 0 .4 0 .4 0 .4 0 .4 0 .4 0 .4 0 .4 0 .4 0 .4 0 .4 0 .4 0 .4 0 .4 0 .4 0 .4 0 .4 0 .4 0 .4 0 .4 0 .4 0 .4 0 .4 0 .4 0 .4 0 .4 0 .4 0 .4 0 .4 0 .4 0 .4 0 .4 0 .4 0 .4 0 .4 0 .4 0 .4 0 .4 0 .4 0 .4 0 .4 0 .4 0 .4 0 .4 0 .4 0 .4 0 .4 0 .4 0 .4 0 .4 0 .4 0 .4 0 .4 0 .4 0 .4 0 .4 0 .4 0 .4 0 .4 0 .4 0 .4 0 .4 0 .4 0 .4 0 .4 0 .4 0 .4 0 .4 0 .4 0 .4 0 .4 0 .4 0 .4 0 .4 0 .4 0 .4 0 .4 0 .4 0 .4 0 .4 0 .4 0 .4 0 .4 0 .4 0 .4 0 .4 0 .4 0 .4 0 .4 0 .4 0 .4 0 .4 0 .4 0 .4 0 .4 0 .4 0 .4 0 .4 0 .4 0 .4 0 .4 0 .4 0 .4 0 .4 0 .4 0 .4 0 .4 0 .4 0 .4 0 .4 0 .4 0 .4 0 .4 0 .4 0 .4 0 .4 0 .4 0 .4 0 .4 0 .4 0 .4 0 .4 0 .4 0 .4 0 .4 0 .4 0 .4 0 .4 0 .4 0 .4 0 .4 0 .4 0 .4 0 .4 0 .4 0 .4 0 .4 0 .4 0 .4 0 .4 0 .4 0 .4 0 .4 0 .4 0 .4 0 .4 0 .4 0 .4 0 .4 0 .4 0 .4 0 .4 0 .4 0 .4 0 .4 0 .4 0 .4 0 .4 0 .4 0 .4 0 .4 0 .4 0 .4 0 .4 0 .4 0 .4 0 .4 0 .4 0 .4 0 .4 0 .4 0 .4 0 .4 0 .4 0 .4 0 .4 0 .4 0 .4 0 .4 0 .4 0 .4 0 .4 0 .4 0 .4 0 .4 0 .4 0 .4 0 .4 0 .4 0 .4 0 .4 0 .4 0 .4 0 .4 0 .4 0 .4 0 .4 0 .4 0 .4 0 .4 0 .4 0 .4 0 .4 0 .4 0 .4 0 .4 0 .4 0 .4 0 .4 0 .4 0 .4 0 .4 0 .4 0 .4 0 .4 0 .4 0 .4 0 .4 0 .4 0 .4 0 .4 0 .4 0 .4 0 .4 0 .4 0 .4 0 .4 0 .4 0 .4 0 .4 0 .4 0 .4 0 .4 0 .4 0 .4 0 .4 0 .4 0 .4 0 .4 0 .4 0 .4 0 .4 0 .4 0 .4 0 .4 0 .4 0 .4 0 .4 0 .4 0 .4 0 .4 0 .4 0 .4 0 .4 0 .4 0 .4 0 .4 0 .4 0 .4 0 .4 0 .4 0 .4 0 .4 0 .4 0 .4 0 .4 0 .4 0 .4 0 .4 0 .4 0 .4 0 .4 0 .4 0 .4 0 .4 0 .4 0 .4 0 .4 0 .4 0 .4 .1 .4 0 .4 0 .4 0 .4 0 .4 0 .4 0 .4 0 .4 0 .4 0 .4 0 .4 0 .4 0 .4 0 .4 0 .4 0 .4 0 .4 0 .4 0 .4 0 .4 0 .4 0 .4 0 .4 0 .4 0 .4 0 .4 0 .4 0 .4 0 .4 0 .4 0 .4 0 .4 0 .4 0 .4 0 .4 0 .4 0 .4 0 .4 0 .4 0 .4 0 .4 0 .4 0 .4 0 .4 0 .4 0 .4 0 .4 0 .4 0 .4 0 .4 0 .4 0 .4 0 .4 0 .4 0 .4 0 .4 0 .4 0 .4 0 .4 0 .4 0 .4 0 .4 0 .4 0 .4 0 .4 0 .4 0 .4 0 .4 0 .4 0 .4 0 .4 0 .4 0 .4 0 .4 0 .4 0 .4 0 .4 0 .4 0 .4 0 .4 0 .4 0 .4 0 .4 0 .4 0 .4 0 .4 0 .4 0 .4 0 .4 0 .4 0 .4 0 .4 0 .4 0 .4 0 .4 0 .4 0 .4 0 .4 0 .4 0 .4 0 .4 0 .4 0 .4 0 .4 0 .4 0 .4 0 .4 0 .4 0 .4 0 .4 0 .4 0 .4 0 .4 0 .4 0 .4 0 .4 0 .4 0 .4 0 .4 0 .4 0 .4 0 .4 0 .4 0 .4 0 .4 0 .4 0 .4 0 .4 0 .4 0 .4 0 .4 0 .4 0 .4 0 .4 0 .4 0 .4 0 .4 0 .4 0 .4 0 .4 0 .4 0 .4 0 .4 0 .4 0 .4 0 .4 0 .4 0 .4 0 .4 0 .4 0 .4 0 .4 0 .4 0 .4 0 .4 0 .4 0 .4 0 .4 0 .4 0 .4 0 .4 0 .4 0 .4 0 .4 0 .4 0 .4 0 .4 0 .4 0 .4 0 .4 0 .4 0 .4 0 .4 0 .4 0 .4 0 .4 0 .4 0 .4 0 .4 0 .4 0 .4 0 .4 0 .4 0 .4 0 .4 0 .4 0 .4 0 .4 0 .4 0 .4 0 .4 0 .4 0 .4 0 .4 0 .4 0 .4 0 .4 0 .4 0 .4 0 .4 0 .4 0 .4 0 .4 0 .4 0 .4 0 .4 0 .4 0 .4 0 .4 0 .4 0 .4 0 .4 0 .4 0 .4 0 .4 0 .4 0 .4 0 .4 0 .4 0 .4 0 .4 0 .4 0 .4 0 .4 0 .4 0 .4 0 .4 0 .4 0 .4 0 .4 0 .4 0 .4 0 .4 0 .4 0 .4 0 .4 0 .4 0 .4 0 .4 0 .4 0 .4 0 .4 0 .4 0 .4 0 .4 0 .4 0 .4 0 .4 0 .4 0 .4 0 .4 0 .4 0 .4 0 .4 0 .4 0 .4 0 .4 0 .4 0 .4 0 .4 0 .4 0 .4 0 .4 0 .4 0 .4 0 .4 0 .4 0 .4 0 .4 0 .4 0 .4 0 .4 0 .4 0 .4 0 .4 0 .4 0 .4 0 .4 0 .4 0 .4 0 .4 0 .4 0 .4 0 .4 0 .4 0 .4 0 .4 0 .4 0 .4 0 .4 0 .4 0 .4 0 .4 0 .4 0 .4 0 .4 0 .4 0 .4 0 .4 0 .4 0 .4 0 .4 0 .4 0 .4 0 .4 0 .4 0 .4 0 .4 0 .4 0 .4 0 .4 0 .4 0 .4 0 .4 0 .4 0 .4 0 .4 0 .4 0 .4 0 .4 0 .4 0 .4 0 .4 0 .4 0 .4 0 .4 0 .4 0 .4 0 .4 0 .4 0 .4 0 .4 0 .4 0 .4 0 .4 0 .4 0 .4 0 .4 0 .4 0 .4 0 .4 0 .4 0 .4 0 .4 0 .4 0 .4 0 .4 0 .4 0 .4 0 .4 0 .4 0 .4 0 .4 0 .4 0 .4 0 .4 0 .4 0 .4 0 .4 0 .4 0 .4 0 .4 0 .4 0 .4 0 .4 0 .4 0 .4 0 .4 0 .4 0 .4 0 .4 0 .4 0 .4 0 .4 0 .4 0 .4 0 .4 0 .4 0 .4 0 .4 0 .4 0 .4 0 .4 0 .4 0 .4 0 .4 0 .4 0 .4 0 .4 0 .4 0 .4 0 .4 0 .4 0 .4 0 .4 0 .4 0 .4 0 .4 0 .4 0 .4 0 .4 0 .4 0 .4 0 .4 0 .4 0 .4 0 .4 0 .4 0 .4 0 .4 0 .4 0 .4 0 .4 0 .4 0 .4 0 .4 0 .4 0 .4 0 .4 0 .4 0 .4 0 .4 0 .4 0 .4 0 .4 0 .4 0 .4 0 .4 0 .4 0 .4 0 .4 0 .4 0 .4 0 .4 0 .4 0 .4 0 .4 0 .4 0 .4 0 .4 0 .4 0 .4 0 .4 0 .4 0 .4 0 .4 0 .4 0 .4 .1 .4 0 .4 0 .4 0 .4 0 .4 0 .4 0 .4 0 .4 0 .4 0 .4 0 .4 0 .4 0 .4 0 .4 0 .4 0 .4 0 .4 0 .4 0 .4 0 .4 0 .4 0 .4 0 .4 0 .4 0 .4 0 .4 0 .4 0 .4 0 .4 0 .4 0 .4 0 .4 0 .4 0 .4 0 .4 0 .4 0 .4 0 .4 0 .4 0 .4 0 .4 0 .4 0 .4 0 .4 0 .4 0 .4 0 .4 0 .4 0 .4 0 .4 0 .4 0 .4 0 .4 0 .4 0 .4 0 .4 0 .4 0 .4 0 .4 0 .4 0 .4 0 .4 0 .4 0 .4 0 .4 0 .4 0 .4 0 .4 0 .4 0 .4 0 .4 0 .4 0 .4 0 .4 0 .4 0 .4 0 .4 0 .4 0 .4 0 .4 0 .4 0 .4 0 .4 0 .4 0 .4 0 .4 0 .4 0 .4 0 .4 0 .4 0 .4 0 .4 0 .4 0 .4 0 .4 0 .4 0 .4 0 .4 0 .4 0 .4 0 .4 0 .4 0 .4 0 .4 0 .4 0 .4 0 .4 0 .4 0 .4 0 .4 0 .4 0 .4 0 .4 0 .4 0 .4 0 .4 0 .4 0 .4 0 .4 0 .4 0 .4 0 .4 0 .4 0 .4 0 .4 0 .4 0 .4 0 .4 0 .4 0 .4 0 .4 0 .4 0 .4 0 .4 0 .4 0 .4 0 .4 0 .4 0 .4 0 .4 0 .4 0 .4 0 .4 0 .4 0 .4 0 .4 0 .4 0 .4 0 .4 0 .4 0 .4 0 .4 0 .4 0 .4 0 .4 0 .4 0 .4 0 .4 0 .4 0 .4 0 .4 0 .4 0 .4 0 .4 0 .4 0 .4 0 .4 0 .4 0 .4 0 .4 0 .4 0 .4 0 .4 0 .4 0 .4 0 .4 0 .4 0 .4 0 .4 0 .4 0 .4 0 .4 0 .4 0 .4 0 .4 0 .4 0 .4 0 .4 0 .4 0 .4 0 .4 0 .4 0 .4 0 .4 0 .4 0 .4 0 .4 0 .4 0 .4 0 .4 0 .4 0 .4 0 .4 0 .4 0 .4 0 .4 0 .4 0 .4 0 .4 0 .4 0 .4 0 .4 0 .4 0 .4 0 .4 0 .4 0 .4 0 .4 0 .4 0 .4 0 .4 0 .4 0" fill="none" stroke="#ff3fae" stroke-width="1.3" stroke-linejoin="round"/>
<path d="M112.3 825.1l.3-1.9 .3-2.1 .3-1 .3-3.4 .3-6.3 .3-1.9 .3-1 .3 .3 .3-2.8 .3 7.3 .3-.8 .3 7.1 .3 4.5 .3 .6 .3 2.2 .3 .5 .1 4.8-4.9 0z" fill="#ff3fae" stroke="#ff3fae" stroke-width="0.8" stroke-linejoin="round"/>
<path d="M109.6 830.7l.3-.1 .3-.9 .3 0 .3-.6 .3-1.6 .3 .1 .3 .2 .3-.5 .3 .1 .3-4.4 .3-1.9 .3-1.9 .3-5 .3-5 .3-2.5 .3-2.5 .3 0 .3 0 .3 3.4 .3 3.5 .3 5 .3 5 .3 2 .3 2 .3 .5 .3 2.4 .3 0 .3-.5 .3-.5 .3 .5 .3 1.1 .3-.7 .3 1.3 .3 0 .3 .6 .3-.9 .3 .8 .3-.1 .3 .1 .3 .4 .3 .3 .3 .2 .3 0 .3 0 .3 0 .3 0 .3 0 .3 0 .3 0 .3 0 .3 0 .3 0 .3 0 .3 0 .3 0 .3 0 .3 0 .3 0 .3 0" fill="none" stroke="#ff3fae" stroke-width="1.3" stroke-linejoin="round"/>
<path d="M109.6 830.6l.5-1.1 .5-1.1 .5-1.2 .5-1.3 .5-1.3 .5-1.6 .5-3.2 .5-7.3 .5-5.8 .5-2.5 .5 1.1 .5 5.9 .5 8.3 .5 4.3 .5 1.8 .5 .7 .5 .5 .5 .5 .5 .5 .5 .4 .5 .4 .5 .4 .5 .5 .5 .6 .5 .5 .5 0 .5 0 .5 0 .5 0 .5 0 .5 0 .5 0 .5 0 .5 0 .5 0" fill="none" stroke="#ff3fae" stroke-width="1.0" stroke-linejoin="round"/>
<path d="M109.7 853.1l.3-1.7 .3 2.1 .3-3 .3 .9 .3 3 .3 .7 .3 4.5 .3 2.9 .3 2.9 .3 .7 .3 1.7 .3 1.2 .3 1.6 .3 .7 .3-.1 .3 .2 .3 .5 .3 .7 .3 .1 .3 .4 .3 .7 .3 .2 .3 0 .3 .5 .3 .2 .3 .1 .3 .4 .3 .3 .3 0 .1 .9-8.8 0z" fill="#ff3fae" stroke="#ff3fae" stroke-width="0.8" stroke-linejoin="round"/>
<path d="M109.7 850.4l.5 0 .5 0 .5 2.2 .5 4 .5 5.8 .5 3.1 .5 2.6 .5 1.9 .5 .8 .5 .7 .5 .7 .5 .7 .5 .6 .5 .5 .5 .5 .5 .5 .5 .4 .5 .1 .5 .1 .5 .2 .5 .1 .5 0 .5 0 .5 0 .5 0 .5 0 .5 0 .5 0 .5 0 .5 0 .5 0 .5 0 .5 0 .5 0 .5 0 .5 0 .5 0 .5 0 .5 0 .5 0 .5 0 .5 0 .5 0 .5 0 .5 0 .5 0 .5 0 .5 0 .5 0 .5 0 .5 0 .5 0 .5 0 .5 0 .5 0 .5 0 .5 0 .5 0 .5 0 .5 0 .5 0 .5 0 .5 0 .5 0 .5 0 .5 0 .5 0 .5 0 .5 0 .5 0 .5 0 .5 0 .5 0 .5 0 .5 0 .5 0 .5 0 .5 0 .5 0 .5 0 .5 0 .5 0 .5 0 .5 0 .5 0 .5 0 .5 0 .5 0 .5 0 .5 0 .5 0 .5 0 .5 0 .5 0 .5 0 .5 0 .5 0 .5 0 .5 0 .5 0 .5 0 .5 0 .5 0 .5 0 .5 0 .5 0 .5 0 .5 0 .5 0 .5 0 .5 0 .5 0 .5 0 .5 0 .5 0 .5 0 .5 0 .5 0 .5 0 .5 0 .5 0 .5 0 .5 0 .5 0 .5 0 .5 0 .5 0 .5 0 .5 0 .5 0 .5 0 .5 0 .5 0 .5 0 .5 0 .5 0 .5 0 .5 0 .5 0" fill="none" stroke="#ff3fae" stroke-width="1.3" stroke-linejoin="round"/>
<path d="M109.8 897.8l.3 4.1 .3 3.3 .3 2.8 .3 2.2 .3 1.9 .3 1.6 .3 1.3 .3 1.1 .3 .9 .3 .7 .3 .7 .3 .5 .3 .4 .3 .3 .3 .3 .3 .3 .3 .2 .3 .1 .3 .2 .3 .1 .3 .1 .3 .1 .3 0 .3 .1 .3 0 .3 .1 .3 0 .3 0 .3 0 .3 .1 .3 0 .3 0 .3 0 .3 0 .3 0 .3 0 .3 0 .3 0 .3 0 .3 0 .3 0 .3 0 .3 0 .3 0 .3 0 .3 0 .3 0 .3 0 .3 0 .3 0" fill="none" stroke="#ff3fae" stroke-width="1.5" stroke-linejoin="round"/>
<path d="M124 922.2l548.2 0" fill="none" stroke="#ff3fae" stroke-opacity="0.55" stroke-width="1.6"/>
<ellipse cx="143.3" cy="674.2" rx="27.6" ry="10.1" fill="none" stroke="#0000ff" stroke-width="2.2"/>
<line x1="171.2" y1="673.4" x2="191.1" y2="674.6" stroke="#000" stroke-width="2.0"/>
<g style="filter:grayscale(1)">
<text x="57.2" y="14.7" font-size="17.8" text-anchor="end" >15</text>
<text x="57.2" y="31.2" font-size="17.8" text-anchor="end" >0</text>
<text x="57.2" y="47.8" font-size="17.8" text-anchor="end" >-15</text>
<text x="66.3" y="65.1" font-size="17.8" text-anchor="middle" >0</text>
<text x="188.2" y="65.1" font-size="17.8" text-anchor="middle" >2</text>
<text x="310.2" y="65.1" font-size="17.8" text-anchor="middle" >4</text>
<text x="432.1" y="65.1" font-size="17.8" text-anchor="middle" >6</text>
<text x="554.1" y="65.1" font-size="17.8" text-anchor="middle" >8</text>
<text x="676.0" y="65.1" font-size="17.8" text-anchor="middle" >10</text>
<text x="628.6" y="11.0" font-size="16" text-anchor="start" >IMF1</text>
<text x="57.2" y="65.6" font-size="17.8" text-anchor="end" >20</text>
<text x="57.2" y="82.0" font-size="17.8" text-anchor="end" >0</text>
<text x="57.2" y="98.3" font-size="17.8" text-anchor="end" >-20</text>
<text x="66.3" y="115.9" font-size="17.8" text-anchor="middle" >0</text>
<text x="188.2" y="115.9" font-size="17.8" text-anchor="middle" >2</text>
<text x="310.2" y="115.9" font-size="17.8" text-anchor="middle" >4</text>
<text x="432.1" y="115.9" font-size="17.8" text-anchor="middle" >6</text>
<text x="554.1" y="115.9" font-size="17.8" text-anchor="middle" >8</text>
<text x="676.0" y="115.9" font-size="17.8" text-anchor="middle" >10</text>
<text x="625.9" y="64.9" font-size="16" text-anchor="start" >IMF2</text>
<text x="57.2" y="115.9" font-size="17.8" text-anchor="end" >8</text>
<text x="57.2" y="132.6" font-size="17.8" text-anchor="end" >0</text>
<text x="57.2" y="149.3" font-size="17.8" text-anchor="end" >-8</text>
<text x="66.3" y="167.2" font-size="17.8" text-anchor="middle" >0</text>
<text x="188.2" y="167.2" font-size="17.8" text-anchor="middle" >2</text>
<text x="310.2" y="167.2" font-size="17.8" text-anchor="middle" >4</text>
<text x="432.1" y="167.2" font-size="17.8" text-anchor="middle" >6</text>
<text x="554.1" y="167.2" font-size="17.8" text-anchor="middle" >8</text>
<text x="676.0" y="167.2" font-size="17.8" text-anchor="middle" >10</text>
<text x="625.1" y="111.7" font-size="16" text-anchor="start" >IMF3</text>
<text x="57.2" y="166.9" font-size="17.8" text-anchor="end" >6</text>
<text x="57.2" y="183.0" font-size="17.8" text-anchor="end" >0</text>
<text x="57.2" y="199.2" font-size="17.8" text-anchor="end" >-6</text>
<text x="66.3" y="218.1" font-size="17.8" text-anchor="middle" >0</text>
<text x="188.2" y="218.1" font-size="17.8" text-anchor="middle" >2</text>
<text x="310.2" y="218.1" font-size="17.8" text-anchor="middle" >4</text>
<text x="432.1" y="218.1" font-size="17.8" text-anchor="middle" >6</text>
<text x="554.1" y="218.1" font-size="17.8" text-anchor="middle" >8</text>
<text x="676.0" y="218.1" font-size="17.8" text-anchor="middle" >10</text>
<text x="624.3" y="164.6" font-size="16" text-anchor="start" >IMF4</text>
<text x="57.2" y="217.8" font-size="17.8" text-anchor="end" >8</text>
<text x="57.2" y="234.4" font-size="17.8" text-anchor="end" >0</text>
<text x="57.2" y="251.0" font-size="17.8" text-anchor="end" >-8</text>
<text x="66.3" y="268.6" font-size="17.8" text-anchor="middle" >0</text>
<text x="188.2" y="268.6" font-size="17.8" text-anchor="middle" >2</text>
<text x="310.2" y="268.6" font-size="17.8" text-anchor="middle" >4</text>
<text x="432.1" y="268.6" font-size="17.8" text-anchor="middle" >6</text>
<text x="554.1" y="268.6" font-size="17.8" text-anchor="middle" >8</text>
<text x="676.0" y="268.6" font-size="17.8" text-anchor="middle" >10</text>
<text x="626.3" y="216.0" font-size="16" text-anchor="start" >IMF5</text>
<text x="57.2" y="268.3" font-size="17.8" text-anchor="end" >2</text>
<text x="57.2" y="284.8" font-size="17.8" text-anchor="end" >0</text>
<text x="57.2" y="301.2" font-size="17.8" text-anchor="end" >-2</text>
<text x="66.3" y="319.2" font-size="17.8" text-anchor="middle" >0</text>
<text x="188.2" y="319.2" font-size="17.8" text-anchor="middle" >2</text>
<text x="310.2" y="319.2" font-size="17.8" text-anchor="middle" >4</text>
<text x="432.1" y="319.2" font-size="17.8" text-anchor="middle" >6</text>
<text x="554.1" y="319.2" font-size="17.8" text-anchor="middle" >8</text>
<text x="676.0" y="319.2" font-size="17.8" text-anchor="middle" >10</text>
<text x="625.1" y="263.4" font-size="16" text-anchor="start" >IMF6</text>
<text x="57.2" y="319.2" font-size="17.8" text-anchor="end" >1</text>
<text x="57.2" y="335.7" font-size="17.8" text-anchor="end" >0</text>
<text x="57.2" y="352.2" font-size="17.8" text-anchor="end" >-1</text>
<text x="66.3" y="370.3" font-size="17.8" text-anchor="middle" >0</text>
<text x="188.2" y="370.3" font-size="17.8" text-anchor="middle" >2</text>
<text x="310.2" y="370.3" font-size="17.8" text-anchor="middle" >4</text>
<text x="432.1" y="370.3" font-size="17.8" text-anchor="middle" >6</text>
<text x="554.1" y="370.3" font-size="17.8" text-anchor="middle" >8</text>
<text x="676.0" y="370.3" font-size="17.8" text-anchor="middle" >10</text>
<text x="624.8" y="315.2" font-size="16" text-anchor="start" >IMF7</text>
<text x="57.2" y="369.2" font-size="17.8" text-anchor="end" >0.8</text>
<text x="57.2" y="385.6" font-size="17.8" text-anchor="end" >0.0</text>
<text x="57.2" y="401.9" font-size="17.8" text-anchor="end" >-0.8</text>
<text x="66.3" y="420.9" font-size="17.8" text-anchor="middle" >0</text>
<text x="188.2" y="420.9" font-size="17.8" text-anchor="middle" >2</text>
<text x="310.2" y="420.9" font-size="17.8" text-anchor="middle" >4</text>
<text x="432.1" y="420.9" font-size="17.8" text-anchor="middle" >6</text>
<text x="554.1" y="420.9" font-size="17.8" text-anchor="middle" >8</text>
<text x="676.0" y="420.9" font-size="17.8" text-anchor="middle" >10</text>
<text x="624.8" y="366.9" font-size="16" text-anchor="start" >IMF8</text>
<text x="57.2" y="420.2" font-size="17.8" text-anchor="end" >0.8</text>
<text x="57.2" y="436.9" font-size="17.8" text-anchor="end" >0.0</text>
<text x="57.2" y="453.7" font-size="17.8" text-anchor="end" >-0.8</text>
<text x="66.3" y="471.8" font-size="17.8" text-anchor="middle" >0</text>
<text x="188.2" y="471.8" font-size="17.8" text-anchor="middle" >2</text>
<text x="310.2" y="471.8" font-size="17.8" text-anchor="middle" >4</text>
<text x="432.1" y="471.8" font-size="17.8" text-anchor="middle" >6</text>
<text x="554.1" y="471.8" font-size="17.8" text-anchor="middle" >8</text>
<text x="676.0" y="471.8" font-size="17.8" text-anchor="middle" >10</text>
<text x="624.8" y="421.4" font-size="16" text-anchor="start" >IMF9</text>
<text x="100.6" y="536.2" font-size="16.8" text-anchor="end">8.0<tspan font-weight="normal">×</tspan>10<tspan font-size="10.5" dy="-7">2</tspan></text>
<text x="100.6" y="550.6" font-size="16.8" text-anchor="end">4.0<tspan font-weight="normal">×</tspan>10<tspan font-size="10.5" dy="-7">2</tspan></text>
<text x="100.6" y="565.0" font-size="16.8" text-anchor="end" >0.0</text>
<text x="109.2" y="574.8" font-size="16.8" text-anchor="middle" >0</text>
<text x="179.6" y="574.8" font-size="16.8" text-anchor="middle" >16</text>
<text x="249.9" y="574.8" font-size="16.8" text-anchor="middle" >32</text>
<text x="320.3" y="574.8" font-size="16.8" text-anchor="middle" >48</text>
<text x="390.7" y="574.8" font-size="16.8" text-anchor="middle" >64</text>
<text x="461.1" y="574.8" font-size="16.8" text-anchor="middle" >80</text>
<text x="531.5" y="574.8" font-size="16.8" text-anchor="middle" >96</text>
<text x="601.8" y="574.8" font-size="16.8" text-anchor="middle" >112</text>
<text x="672.2" y="574.8" font-size="16.8" text-anchor="middle" >128</text>
<text x="628.7" y="531.9" font-size="14.9" text-anchor="start" >IMF1</text>
<text x="100.6" y="580.3" font-size="16.8" text-anchor="end">3.0<tspan font-weight="normal">×</tspan>10<tspan font-size="10.5" dy="-7">3</tspan></text>
<text x="100.6" y="595.2" font-size="16.8" text-anchor="end">1.5<tspan font-weight="normal">×</tspan>10<tspan font-size="10.5" dy="-7">3</tspan></text>
<text x="100.6" y="610.1" font-size="16.8" text-anchor="end" >0.0</text>
<text x="109.2" y="621.6" font-size="16.8" text-anchor="middle" >0</text>
<text x="179.6" y="621.6" font-size="16.8" text-anchor="middle" >16</text>
<text x="249.9" y="621.6" font-size="16.8" text-anchor="middle" >32</text>
<text x="320.3" y="621.6" font-size="16.8" text-anchor="middle" >48</text>
<text x="390.7" y="621.6" font-size="16.8" text-anchor="middle" >64</text>
<text x="461.1" y="621.6" font-size="16.8" text-anchor="middle" >80</text>
<text x="531.5" y="621.6" font-size="16.8" text-anchor="middle" >96</text>
<text x="601.8" y="621.6" font-size="16.8" text-anchor="middle" >112</text>
<text x="672.2" y="621.6" font-size="16.8" text-anchor="middle" >128</text>
<text x="628.1" y="591.9" font-size="14.9" text-anchor="start" >IMF2</text>
<text x="100.6" y="626.1" font-size="16.8" text-anchor="end">1.5<tspan font-weight="normal">×</tspan>10<tspan font-size="10.5" dy="-7">3</tspan></text>
<text x="100.6" y="641.1" font-size="16.8" text-anchor="end">7.5<tspan font-weight="normal">×</tspan>10<tspan font-size="10.5" dy="-7">2</tspan></text>
<text x="100.6" y="656.1" font-size="16.8" text-anchor="end" >0.0</text>
<text x="109.2" y="667.0" font-size="16.8" text-anchor="middle" >0</text>
<text x="179.6" y="667.0" font-size="16.8" text-anchor="middle" >16</text>
<text x="249.9" y="667.0" font-size="16.8" text-anchor="middle" >32</text>
<text x="320.3" y="667.0" font-size="16.8" text-anchor="middle" >48</text>
<text x="390.7" y="667.0" font-size="16.8" text-anchor="middle" >64</text>
<text x="461.1" y="667.0" font-size="16.8" text-anchor="middle" >80</text>
<text x="531.5" y="667.0" font-size="16.8" text-anchor="middle" >96</text>
<text x="601.8" y="667.0" font-size="16.8" text-anchor="middle" >112</text>
<text x="672.2" y="667.0" font-size="16.8" text-anchor="middle" >128</text>
<text x="626.6" y="638.9" font-size="14.9" text-anchor="start" >IMF3</text>
<text x="100.6" y="671.4" font-size="16.8" text-anchor="end">5.0<tspan font-weight="normal">×</tspan>10<tspan font-size="10.5" dy="-7">2</tspan></text>
<text x="100.6" y="686.3" font-size="16.8" text-anchor="end">2.5<tspan font-weight="normal">×</tspan>10<tspan font-size="10.5" dy="-7">2</tspan></text>
<text x="100.6" y="701.1" font-size="16.8" text-anchor="end" >0.0</text>
<text x="109.2" y="711.6" font-size="16.8" text-anchor="middle" >0</text>
<text x="179.6" y="711.6" font-size="16.8" text-anchor="middle" >16</text>
<text x="249.9" y="711.6" font-size="16.8" text-anchor="middle" >32</text>
<text x="320.3" y="711.6" font-size="16.8" text-anchor="middle" >48</text>
<text x="390.7" y="711.6" font-size="16.8" text-anchor="middle" >64</text>
<text x="461.1" y="711.6" font-size="16.8" text-anchor="middle" >80</text>
<text x="531.5" y="711.6" font-size="16.8" text-anchor="middle" >96</text>
<text x="601.8" y="711.6" font-size="16.8" text-anchor="middle" >112</text>
<text x="672.2" y="711.6" font-size="16.8" text-anchor="middle" >128</text>
<text x="626.6" y="686.0" font-size="14.9" text-anchor="start" >IMF4</text>
<text x="100.6" y="723.2" font-size="16.8" text-anchor="end">2.0<tspan font-weight="normal">×</tspan>10<tspan font-size="10.5" dy="-7">3</tspan></text>
<text x="100.6" y="735.1" font-size="16.8" text-anchor="end">1.0<tspan font-weight="normal">×</tspan>10<tspan font-size="10.5" dy="-7">3</tspan></text>
<text x="100.6" y="747.0" font-size="16.8" text-anchor="end" >0.0</text>
<text x="109.2" y="756.0" font-size="16.8" text-anchor="middle" >0</text>
<text x="179.6" y="756.0" font-size="16.8" text-anchor="middle" >16</text>
<text x="249.9" y="756.0" font-size="16.8" text-anchor="middle" >32</text>
<text x="320.3" y="756.0" font-size="16.8" text-anchor="middle" >48</text>
<text x="390.7" y="756.0" font-size="16.8" text-anchor="middle" >64</text>
<text x="461.1" y="756.0" font-size="16.8" text-anchor="middle" >80</text>
<text x="531.5" y="756.0" font-size="16.8" text-anchor="middle" >96</text>
<text x="601.8" y="756.0" font-size="16.8" text-anchor="middle" >112</text>
<text x="672.2" y="756.0" font-size="16.8" text-anchor="middle" >128</text>
<text x="628.1" y="728.7" font-size="14.9" text-anchor="start" >IMF5</text>
<text x="100.6" y="762.3" font-size="16.8" text-anchor="end">6.0<tspan font-weight="normal">×</tspan>10<tspan font-size="10.5" dy="-7">2</tspan></text>
<text x="100.6" y="776.8" font-size="16.8" text-anchor="end">3.0<tspan font-weight="normal">×</tspan>10<tspan font-size="10.5" dy="-7">2</tspan></text>
<text x="100.6" y="791.2" font-size="16.8" text-anchor="end" >0.0</text>
<text x="109.2" y="802.3" font-size="16.8" text-anchor="middle" >0</text>
<text x="179.6" y="802.3" font-size="16.8" text-anchor="middle" >16</text>
<text x="249.9" y="802.3" font-size="16.8" text-anchor="middle" >32</text>
<text x="320.3" y="802.3" font-size="16.8" text-anchor="middle" >48</text>
<text x="390.7" y="802.3" font-size="16.8" text-anchor="middle" >64</text>
<text x="461.1" y="802.3" font-size="16.8" text-anchor="middle" >80</text>
<text x="531.5" y="802.3" font-size="16.8" text-anchor="middle" >96</text>
<text x="601.8" y="802.3" font-size="16.8" text-anchor="middle" >112</text>
<text x="672.2" y="802.3" font-size="16.8" text-anchor="middle" >128</text>
<text x="627.2" y="773.5" font-size="14.9" text-anchor="start" >IMF6</text>
<text x="100.6" y="807.2" font-size="16.8" text-anchor="end">4.0<tspan font-weight="normal">×</tspan>10<tspan font-size="10.5" dy="-7">2</tspan></text>
<text x="100.6" y="822.1" font-size="16.8" text-anchor="end">2.0<tspan font-weight="normal">×</tspan>10<tspan font-size="10.5" dy="-7">2</tspan></text>
<text x="100.6" y="837.0" font-size="16.8" text-anchor="end" >0.0</text>
<text x="109.2" y="846.6" font-size="16.8" text-anchor="middle" >0</text>
<text x="179.6" y="846.6" font-size="16.8" text-anchor="middle" >16</text>
<text x="249.9" y="846.6" font-size="16.8" text-anchor="middle" >32</text>
<text x="320.3" y="846.6" font-size="16.8" text-anchor="middle" >48</text>
<text x="390.7" y="846.6" font-size="16.8" text-anchor="middle" >64</text>
<text x="461.1" y="846.6" font-size="16.8" text-anchor="middle" >80</text>
<text x="531.5" y="846.6" font-size="16.8" text-anchor="middle" >96</text>
<text x="601.8" y="846.6" font-size="16.8" text-anchor="middle" >112</text>
<text x="672.2" y="846.6" font-size="16.8" text-anchor="middle" >128</text>
<text x="625.4" y="817.9" font-size="14.9" text-anchor="start" >IMF7</text>
<text x="100.6" y="853.2" font-size="16.8" text-anchor="end">3.0<tspan font-weight="normal">×</tspan>10<tspan font-size="10.5" dy="-7">2</tspan></text>
<text x="100.6" y="867.7" font-size="16.8" text-anchor="end">1.5<tspan font-weight="normal">×</tspan>10<tspan font-size="10.5" dy="-7">2</tspan></text>
<text x="100.6" y="882.2" font-size="16.8" text-anchor="end" >0.0</text>
<text x="109.2" y="892.8" font-size="16.8" text-anchor="middle" >0</text>
<text x="179.6" y="892.8" font-size="16.8" text-anchor="middle" >16</text>
<text x="249.9" y="892.8" font-size="16.8" text-anchor="middle" >32</text>
<text x="320.3" y="892.8" font-size="16.8" text-anchor="middle" >48</text>
<text x="390.7" y="892.8" font-size="16.8" text-anchor="middle" >64</text>
<text x="461.1" y="892.8" font-size="16.8" text-anchor="middle" >80</text>
<text x="531.5" y="892.8" font-size="16.8" text-anchor="middle" >96</text>
<text x="601.8" y="892.8" font-size="16.8" text-anchor="middle" >112</text>
<text x="672.2" y="892.8" font-size="16.8" text-anchor="middle" >128</text>
<text x="625.4" y="865.0" font-size="14.9" text-anchor="start" >IMF8</text>
<text x="100.6" y="897.9" font-size="16.8" text-anchor="end">4.0<tspan font-weight="normal">×</tspan>10<tspan font-size="10.5" dy="-7">2</tspan></text>
<text x="100.6" y="912.8" font-size="16.8" text-anchor="end">2.0<tspan font-weight="normal">×</tspan>10<tspan font-size="10.5" dy="-7">2</tspan></text>
<text x="100.6" y="927.6" font-size="16.8" text-anchor="end" >0.0</text>
<text x="109.2" y="939.6" font-size="16.8" text-anchor="middle" >0</text>
<text x="179.6" y="939.6" font-size="16.8" text-anchor="middle" >16</text>
<text x="249.9" y="939.6" font-size="16.8" text-anchor="middle" >32</text>
<text x="320.3" y="939.6" font-size="16.8" text-anchor="middle" >48</text>
<text x="390.7" y="939.6" font-size="16.8" text-anchor="middle" >64</text>
<text x="461.1" y="939.6" font-size="16.8" text-anchor="middle" >80</text>
<text x="531.5" y="939.6" font-size="16.8" text-anchor="middle" >96</text>
<text x="601.8" y="939.6" font-size="16.8" text-anchor="middle" >112</text>
<text x="672.2" y="939.6" font-size="16.8" text-anchor="middle" >128</text>
<text x="626.2" y="910.9" font-size="14.9" text-anchor="start" >IMF9</text>
<text x="368.0" y="493.4" font-size="24" text-anchor="middle" >Time/s</text>
<text x="391.0" y="962.8" font-size="22" text-anchor="middle" >Frequency/Hz</text>
<text transform="translate(22.3 394.1) rotate(-90)" font-size="24.82">Vibration Acceleration/(mm/s<tspan font-size="16" dy="-10">2</tspan><tspan dy="10">)</tspan></text>
<text transform="translate(19.5 903.2) rotate(-90)" font-size="22">Power Spectral Density/((mm/s<tspan font-size="14.5" dy="-9">2</tspan><tspan dy="9">)</tspan><tspan font-size="14.5" dy="-9">2</tspan><tspan dy="9">/Hz)</tspan></text>
</g>
<text x="190.9" y="678.6" font-size="11" fill="#0000ff" style="fill:#0000ff">Mode Mixing</text>
</svg></body></html>
